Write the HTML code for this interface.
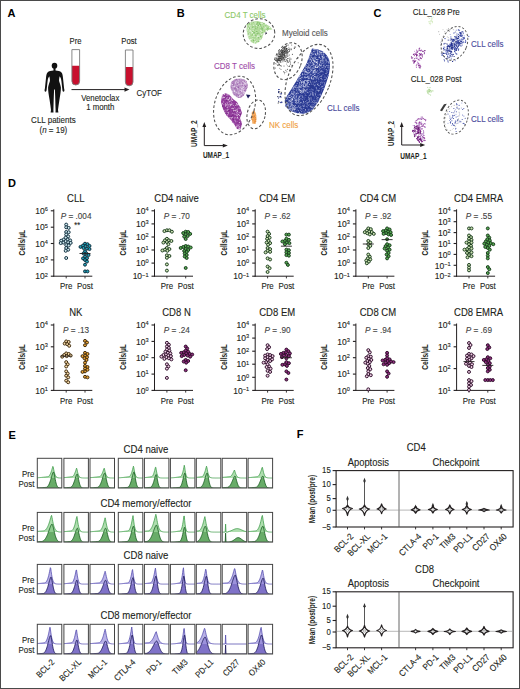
<!DOCTYPE html>
<html><head><meta charset="utf-8"><style>
html,body{margin:0;padding:0;background:#fff;}
svg{display:block;font-family:"Liberation Sans", sans-serif;}
</style></head><body>
<svg width="520" height="689" viewBox="0 0 520 689">
<rect x="0" y="0" width="520" height="689" fill="#fff"/>
<text x="7.40" y="16.80" font-size="11" font-weight="bold" fill="#000">A</text>
<text x="176.80" y="16.90" font-size="11" font-weight="bold" fill="#000">B</text>
<text x="373.50" y="17.00" font-size="11" font-weight="bold" fill="#000">C</text>
<text x="8.00" y="187.20" font-size="11" font-weight="bold" fill="#000">D</text>
<text x="8.50" y="438.80" font-size="11" font-weight="bold" fill="#000">E</text>
<text x="296.70" y="438.30" font-size="11" font-weight="bold" fill="#000">F</text>
<text x="75.60" y="43.80" font-size="8.62" text-anchor="middle" fill="#231f20" stroke="#231f20" stroke-width="0.12" transform="translate(75.60 43.80) scale(0.8929 1) translate(-75.60 -43.80)">Pre</text>
<text x="129.00" y="43.80" font-size="8.62" text-anchor="middle" fill="#231f20" stroke="#231f20" stroke-width="0.12" transform="translate(129.00 43.80) scale(0.8929 1) translate(-129.00 -43.80)">Post</text>
<path d="M71.9 65.7 L71.9 81.15 A3.8499999999999943 3.8499999999999943 0 0 0 79.6 81.15 L79.6 65.7 Z" fill="#c8102e"/>
<path d="M71.9 49.6 L71.9 81.15 A3.8499999999999943 3.8499999999999943 0 0 0 79.6 81.15 L79.6 49.6 Z" fill="none" stroke="#7a7a7a" stroke-width="0.9"/>
<path d="M125.4 66.9 L125.4 82.0 A3.799999999999997 3.799999999999997 0 0 0 133.0 82.0 L133.0 66.9 Z" fill="#c8102e"/>
<path d="M125.4 50.0 L125.4 82.0 A3.799999999999997 3.799999999999997 0 0 0 133.0 82.0 L133.0 50.0 Z" fill="none" stroke="#7a7a7a" stroke-width="0.9"/>
<line x1="71.50" y1="89.60" x2="126.00" y2="89.60" stroke="#231f20" stroke-width="1"/>
<path d="M129.5 89.6 L124.5 87.4 L124.5 91.8 Z" fill="#231f20"/>
<text x="100.30" y="100.90" font-size="8.74" text-anchor="middle" fill="#231f20" stroke="#231f20" stroke-width="0.12" transform="translate(100.30 100.90) scale(0.8929 1) translate(-100.30 -100.90)">Venetoclax</text>
<text x="100.30" y="110.00" font-size="8.74" text-anchor="middle" fill="#231f20" stroke="#231f20" stroke-width="0.12" transform="translate(100.30 110.00) scale(0.8929 1) translate(-100.30 -110.00)">1 month</text>
<text x="136.60" y="95.80" font-size="8.85" fill="#231f20" stroke="#231f20" stroke-width="0.12" transform="translate(136.60 95.80) scale(0.8929 1) translate(-136.60 -95.80)">CyTOF</text>
<text x="53.40" y="123.30" font-size="8.96" text-anchor="middle" fill="#231f20" stroke="#231f20" stroke-width="0.12" transform="translate(53.40 123.30) scale(0.8929 1) translate(-53.40 -123.30)">CLL patients</text>
<text x="53.40" y="133.00" font-size="8.96" text-anchor="middle" fill="#231f20" stroke="#231f20" stroke-width="0.12" transform="translate(53.40 133.00) scale(0.8929 1) translate(-53.40 -133.00)">(<tspan font-style="italic">n</tspan> = 19)</text>
<path d="M53.4 70.6 C51.5 71 48.5 71.2 47.6 72.4 C47.0 73.2 47.3 75.2 49.4 76.5 C49.9 78.5 50.0 80 49.9 81 C49.4 83 48.3 85.5 48.1 87.5 C48.0 91 48.8 95 49.6 100 C50.2 104 50.8 108 51.0 110 L50.6 112.6 L53.5 112.6 L53.4 110 C53.6 104 53.7 98 54.1 89.5 L54.9 89.5 C55.3 98 55.4 104 55.6 110 L55.5 112.6 L58.4 112.6 L58.0 110 C58.2 108 58.8 104 59.4 100 C60.2 95 61 91 60.9 87.5 C60.7 85.5 59.6 83 59.1 81 C59.0 80 59.1 78.5 59.6 76.5 C61.7 75.2 62.0 73.2 61.4 72.4 C60.5 71.2 57.5 71 55.6 70.6 Z" fill="#111"/>
<path d="M47.6 72.4 C46.6 73.2 46.3 75 46.0 78 L44.9 88.5 C44.5 90 44.3 91.5 45.3 91.8 C46.3 92 46.6 90.5 46.7 89 L47.6 81 C47.9 79 48.3 77 49.4 76.5 Z" fill="#111"/>
<path d="M 61.40 72.40 C 62.40 73.20 62.70 75.00 63.00 78.00 L 64.10 88.50 C 64.50 90.00 64.70 91.50 63.70 91.80 C 62.70 92.00 62.40 90.50 62.30 89.00 L 61.40 81.00 C 61.10 79.00 60.70 77.00 59.60 76.50 Z" fill="#111"/>
<ellipse cx="54.5" cy="65.8" rx="2.8" ry="2.95" fill="#111"/>
<rect x="53.5" y="67.5" width="2" height="3.6" fill="#111"/>
<path d="M312.0 48.5 L318.0 49.5 L323.0 51.5 L326.5 55.0 L329.0 59.0 L330.0 64.4 L329.5 70.0 L328.8 74.9 L326.5 82.0 L324.2 88.8 L321.5 95.0 L318.4 101.6 L312.6 109.8 L308.0 112.5 L303.3 113.8 L297.0 113.0 L290.5 111.0 L285.2 106.3 L284.7 100.5 L287.5 95.0 L291.6 88.8 L298.6 77.2 L306.7 63.3 L310.2 54.0 Z" fill="#283891" opacity="1"/>
<g opacity="0.85"><circle cx="314.2" cy="53.2" r="0.45" fill="#b8c0e8"/><circle cx="309.0" cy="72.4" r="0.45" fill="#3a4aa8"/><circle cx="303.9" cy="102.5" r="0.45" fill="#dde2f6"/><circle cx="310.8" cy="74.4" r="0.45" fill="#dde2f6"/><circle cx="323.6" cy="67.4" r="0.45" fill="#8a94d0"/><circle cx="298.7" cy="101.8" r="0.45" fill="#dde2f6"/><circle cx="313.6" cy="72.8" r="0.45" fill="#ffffff"/><circle cx="315.5" cy="76.4" r="0.45" fill="#dde2f6"/><circle cx="298.9" cy="86.7" r="0.45" fill="#3a4aa8"/><circle cx="305.2" cy="68.1" r="0.45" fill="#dde2f6"/><circle cx="320.7" cy="94.1" r="0.45" fill="#b8c0e8"/><circle cx="295.8" cy="86.0" r="0.45" fill="#5a68b8"/><circle cx="308.5" cy="105.6" r="0.45" fill="#ffffff"/><circle cx="317.7" cy="67.3" r="0.45" fill="#3a4aa8"/><circle cx="303.6" cy="97.9" r="0.45" fill="#8a94d0"/><circle cx="319.3" cy="85.9" r="0.45" fill="#ffffff"/><circle cx="324.4" cy="69.0" r="0.45" fill="#8a94d0"/><circle cx="316.2" cy="87.3" r="0.45" fill="#ffffff"/><circle cx="311.0" cy="78.3" r="0.45" fill="#8a94d0"/><circle cx="306.2" cy="91.9" r="0.45" fill="#8a94d0"/><circle cx="321.9" cy="67.1" r="0.45" fill="#3a4aa8"/><circle cx="302.2" cy="92.2" r="0.45" fill="#dde2f6"/><circle cx="287.4" cy="98.7" r="0.45" fill="#ffffff"/><circle cx="302.4" cy="105.4" r="0.45" fill="#b8c0e8"/><circle cx="309.6" cy="106.2" r="0.45" fill="#5a68b8"/><circle cx="301.0" cy="106.2" r="0.45" fill="#ffffff"/><circle cx="328.1" cy="58.4" r="0.45" fill="#b8c0e8"/><circle cx="311.4" cy="65.7" r="0.45" fill="#dde2f6"/><circle cx="301.4" cy="85.5" r="0.45" fill="#b8c0e8"/><circle cx="308.1" cy="88.8" r="0.45" fill="#3a4aa8"/><circle cx="315.3" cy="52.0" r="0.45" fill="#5a68b8"/><circle cx="302.5" cy="74.6" r="0.45" fill="#ffffff"/><circle cx="285.9" cy="105.6" r="0.45" fill="#dde2f6"/><circle cx="312.5" cy="58.2" r="0.45" fill="#b8c0e8"/><circle cx="305.8" cy="80.1" r="0.45" fill="#b8c0e8"/><circle cx="322.2" cy="59.0" r="0.45" fill="#b8c0e8"/><circle cx="292.3" cy="98.9" r="0.45" fill="#b8c0e8"/><circle cx="308.8" cy="99.4" r="0.45" fill="#ffffff"/><circle cx="296.4" cy="93.7" r="0.45" fill="#5a68b8"/><circle cx="328.0" cy="72.3" r="0.45" fill="#3a4aa8"/><circle cx="313.0" cy="107.3" r="0.45" fill="#ffffff"/><circle cx="322.8" cy="79.8" r="0.45" fill="#5a68b8"/><circle cx="314.3" cy="100.7" r="0.45" fill="#5a68b8"/><circle cx="318.7" cy="79.7" r="0.45" fill="#b8c0e8"/><circle cx="292.8" cy="100.0" r="0.45" fill="#dde2f6"/><circle cx="299.8" cy="100.8" r="0.45" fill="#b8c0e8"/><circle cx="328.7" cy="74.3" r="0.45" fill="#ffffff"/><circle cx="302.9" cy="110.3" r="0.45" fill="#8a94d0"/><circle cx="317.5" cy="59.6" r="0.45" fill="#b8c0e8"/><circle cx="291.3" cy="102.5" r="0.45" fill="#b8c0e8"/><circle cx="300.6" cy="84.3" r="0.45" fill="#3a4aa8"/><circle cx="308.6" cy="109.5" r="0.45" fill="#5a68b8"/><circle cx="304.4" cy="105.4" r="0.45" fill="#8a94d0"/><circle cx="322.1" cy="62.3" r="0.45" fill="#3a4aa8"/><circle cx="295.6" cy="86.8" r="0.45" fill="#5a68b8"/><circle cx="290.6" cy="107.9" r="0.45" fill="#b8c0e8"/><circle cx="300.7" cy="78.4" r="0.45" fill="#ffffff"/><circle cx="311.1" cy="107.6" r="0.45" fill="#ffffff"/><circle cx="303.8" cy="108.4" r="0.45" fill="#ffffff"/><circle cx="307.4" cy="83.2" r="0.45" fill="#3a4aa8"/><circle cx="284.9" cy="100.7" r="0.45" fill="#ffffff"/><circle cx="317.6" cy="84.8" r="0.45" fill="#ffffff"/><circle cx="299.5" cy="82.3" r="0.45" fill="#5a68b8"/><circle cx="309.9" cy="99.7" r="0.45" fill="#ffffff"/><circle cx="319.7" cy="81.7" r="0.45" fill="#3a4aa8"/><circle cx="310.1" cy="98.1" r="0.45" fill="#b8c0e8"/><circle cx="326.0" cy="77.4" r="0.45" fill="#ffffff"/><circle cx="312.4" cy="81.5" r="0.45" fill="#3a4aa8"/><circle cx="307.9" cy="93.7" r="0.45" fill="#3a4aa8"/><circle cx="305.2" cy="83.3" r="0.45" fill="#b8c0e8"/><circle cx="306.4" cy="110.0" r="0.45" fill="#3a4aa8"/><circle cx="327.4" cy="65.5" r="0.45" fill="#b8c0e8"/><circle cx="310.0" cy="110.1" r="0.45" fill="#b8c0e8"/><circle cx="322.8" cy="57.5" r="0.45" fill="#8a94d0"/><circle cx="291.7" cy="95.3" r="0.45" fill="#5a68b8"/><circle cx="314.6" cy="57.8" r="0.45" fill="#dde2f6"/><circle cx="294.6" cy="110.7" r="0.45" fill="#ffffff"/><circle cx="302.7" cy="80.3" r="0.45" fill="#8a94d0"/><circle cx="308.1" cy="70.6" r="0.45" fill="#ffffff"/><circle cx="317.4" cy="49.8" r="0.45" fill="#8a94d0"/><circle cx="309.8" cy="77.3" r="0.45" fill="#5a68b8"/><circle cx="313.0" cy="82.0" r="0.45" fill="#dde2f6"/><circle cx="286.5" cy="99.4" r="0.45" fill="#ffffff"/><circle cx="303.8" cy="108.0" r="0.45" fill="#5a68b8"/><circle cx="321.8" cy="65.4" r="0.45" fill="#5a68b8"/><circle cx="291.5" cy="108.5" r="0.45" fill="#dde2f6"/><circle cx="310.5" cy="94.2" r="0.45" fill="#dde2f6"/><circle cx="315.9" cy="76.3" r="0.45" fill="#ffffff"/><circle cx="313.4" cy="100.8" r="0.45" fill="#dde2f6"/><circle cx="288.5" cy="104.4" r="0.45" fill="#b8c0e8"/><circle cx="287.7" cy="104.8" r="0.45" fill="#ffffff"/><circle cx="305.3" cy="70.6" r="0.45" fill="#3a4aa8"/><circle cx="309.8" cy="109.0" r="0.45" fill="#3a4aa8"/><circle cx="308.6" cy="64.1" r="0.45" fill="#8a94d0"/><circle cx="319.1" cy="67.4" r="0.45" fill="#8a94d0"/><circle cx="317.9" cy="84.5" r="0.45" fill="#dde2f6"/><circle cx="321.8" cy="76.7" r="0.45" fill="#ffffff"/><circle cx="307.1" cy="103.0" r="0.45" fill="#5a68b8"/><circle cx="302.5" cy="81.6" r="0.45" fill="#3a4aa8"/><circle cx="300.2" cy="102.8" r="0.45" fill="#dde2f6"/><circle cx="316.7" cy="90.0" r="0.45" fill="#dde2f6"/><circle cx="303.0" cy="71.2" r="0.45" fill="#dde2f6"/><circle cx="287.9" cy="96.9" r="0.45" fill="#ffffff"/><circle cx="288.5" cy="103.4" r="0.45" fill="#ffffff"/><circle cx="298.0" cy="78.5" r="0.45" fill="#3a4aa8"/><circle cx="296.6" cy="111.3" r="0.45" fill="#5a68b8"/><circle cx="295.8" cy="111.6" r="0.45" fill="#b8c0e8"/><circle cx="306.2" cy="81.3" r="0.45" fill="#3a4aa8"/><circle cx="311.2" cy="83.1" r="0.45" fill="#dde2f6"/><circle cx="318.7" cy="91.4" r="0.45" fill="#dde2f6"/><circle cx="317.5" cy="90.5" r="0.45" fill="#dde2f6"/><circle cx="286.7" cy="103.0" r="0.45" fill="#dde2f6"/><circle cx="317.9" cy="101.5" r="0.45" fill="#8a94d0"/><circle cx="307.5" cy="103.0" r="0.45" fill="#dde2f6"/><circle cx="311.2" cy="106.8" r="0.45" fill="#b8c0e8"/><circle cx="315.6" cy="93.8" r="0.45" fill="#dde2f6"/><circle cx="289.5" cy="103.1" r="0.45" fill="#5a68b8"/><circle cx="310.0" cy="89.5" r="0.45" fill="#dde2f6"/><circle cx="313.1" cy="92.9" r="0.45" fill="#ffffff"/><circle cx="307.5" cy="83.4" r="0.45" fill="#5a68b8"/><circle cx="314.6" cy="52.8" r="0.45" fill="#3a4aa8"/><circle cx="318.1" cy="65.0" r="0.45" fill="#3a4aa8"/><circle cx="317.7" cy="61.9" r="0.45" fill="#dde2f6"/><circle cx="307.1" cy="73.5" r="0.45" fill="#b8c0e8"/><circle cx="306.4" cy="93.1" r="0.45" fill="#5a68b8"/><circle cx="319.4" cy="88.8" r="0.45" fill="#b8c0e8"/><circle cx="313.8" cy="53.6" r="0.45" fill="#3a4aa8"/><circle cx="318.4" cy="68.4" r="0.45" fill="#3a4aa8"/><circle cx="315.1" cy="93.7" r="0.45" fill="#ffffff"/><circle cx="315.3" cy="67.5" r="0.45" fill="#dde2f6"/><circle cx="308.1" cy="78.8" r="0.45" fill="#b8c0e8"/><circle cx="325.2" cy="61.5" r="0.45" fill="#5a68b8"/><circle cx="294.2" cy="110.2" r="0.45" fill="#8a94d0"/><circle cx="294.2" cy="86.5" r="0.45" fill="#b8c0e8"/><circle cx="321.9" cy="81.7" r="0.45" fill="#8a94d0"/><circle cx="295.2" cy="107.1" r="0.45" fill="#3a4aa8"/><circle cx="305.1" cy="68.2" r="0.45" fill="#5a68b8"/><circle cx="299.0" cy="103.4" r="0.45" fill="#ffffff"/><circle cx="322.7" cy="56.3" r="0.45" fill="#ffffff"/><circle cx="325.5" cy="67.4" r="0.45" fill="#ffffff"/><circle cx="301.6" cy="74.2" r="0.45" fill="#5a68b8"/><circle cx="301.0" cy="76.5" r="0.45" fill="#5a68b8"/><circle cx="289.3" cy="103.0" r="0.45" fill="#3a4aa8"/><circle cx="297.6" cy="109.6" r="0.45" fill="#8a94d0"/><circle cx="307.8" cy="60.9" r="0.45" fill="#5a68b8"/><circle cx="301.6" cy="110.9" r="0.45" fill="#3a4aa8"/><circle cx="313.3" cy="108.1" r="0.45" fill="#3a4aa8"/><circle cx="317.3" cy="51.7" r="0.45" fill="#5a68b8"/><circle cx="317.9" cy="77.9" r="0.45" fill="#dde2f6"/><circle cx="318.8" cy="90.6" r="0.45" fill="#ffffff"/><circle cx="326.7" cy="56.8" r="0.45" fill="#8a94d0"/><circle cx="306.1" cy="70.9" r="0.45" fill="#5a68b8"/><circle cx="298.2" cy="96.8" r="0.45" fill="#5a68b8"/><circle cx="328.9" cy="65.5" r="0.45" fill="#ffffff"/><circle cx="314.4" cy="68.1" r="0.45" fill="#3a4aa8"/><circle cx="309.9" cy="74.3" r="0.45" fill="#3a4aa8"/><circle cx="294.1" cy="107.7" r="0.45" fill="#3a4aa8"/><circle cx="307.2" cy="62.9" r="0.45" fill="#5a68b8"/><circle cx="310.5" cy="106.4" r="0.45" fill="#8a94d0"/><circle cx="318.7" cy="75.5" r="0.45" fill="#5a68b8"/><circle cx="303.4" cy="82.7" r="0.45" fill="#ffffff"/><circle cx="307.5" cy="89.6" r="0.45" fill="#8a94d0"/><circle cx="323.8" cy="62.6" r="0.45" fill="#5a68b8"/><circle cx="302.8" cy="77.6" r="0.45" fill="#dde2f6"/><circle cx="325.3" cy="79.4" r="0.45" fill="#3a4aa8"/><circle cx="302.4" cy="109.0" r="0.45" fill="#8a94d0"/><circle cx="328.7" cy="64.7" r="0.45" fill="#5a68b8"/><circle cx="308.4" cy="93.0" r="0.45" fill="#5a68b8"/><circle cx="314.0" cy="98.4" r="0.45" fill="#5a68b8"/><circle cx="305.4" cy="84.5" r="0.45" fill="#ffffff"/><circle cx="286.5" cy="99.6" r="0.45" fill="#b8c0e8"/><circle cx="295.2" cy="108.6" r="0.45" fill="#dde2f6"/><circle cx="313.9" cy="68.3" r="0.45" fill="#ffffff"/><circle cx="313.5" cy="94.1" r="0.45" fill="#8a94d0"/><circle cx="308.5" cy="86.6" r="0.45" fill="#8a94d0"/><circle cx="311.9" cy="49.2" r="0.45" fill="#b8c0e8"/><circle cx="298.4" cy="78.6" r="0.45" fill="#b8c0e8"/><circle cx="324.7" cy="79.5" r="0.45" fill="#8a94d0"/><circle cx="307.3" cy="92.5" r="0.45" fill="#dde2f6"/><circle cx="300.0" cy="76.0" r="0.45" fill="#b8c0e8"/><circle cx="315.6" cy="61.4" r="0.45" fill="#b8c0e8"/><circle cx="307.6" cy="61.9" r="0.45" fill="#5a68b8"/><circle cx="328.6" cy="68.9" r="0.45" fill="#b8c0e8"/><circle cx="321.8" cy="63.6" r="0.45" fill="#b8c0e8"/><circle cx="294.7" cy="98.2" r="0.45" fill="#8a94d0"/><circle cx="298.1" cy="110.7" r="0.45" fill="#ffffff"/><circle cx="294.3" cy="112.1" r="0.45" fill="#5a68b8"/><circle cx="326.9" cy="70.0" r="0.45" fill="#8a94d0"/><circle cx="293.1" cy="109.6" r="0.45" fill="#dde2f6"/><circle cx="318.5" cy="50.6" r="0.45" fill="#dde2f6"/><circle cx="314.8" cy="73.2" r="0.45" fill="#8a94d0"/><circle cx="328.4" cy="62.0" r="0.45" fill="#b8c0e8"/><circle cx="300.9" cy="102.1" r="0.45" fill="#3a4aa8"/><circle cx="321.9" cy="76.7" r="0.45" fill="#3a4aa8"/><circle cx="301.6" cy="108.5" r="0.45" fill="#8a94d0"/><circle cx="303.3" cy="101.5" r="0.45" fill="#b8c0e8"/><circle cx="319.4" cy="51.2" r="0.45" fill="#ffffff"/><circle cx="326.4" cy="65.3" r="0.45" fill="#b8c0e8"/><circle cx="296.6" cy="95.3" r="0.45" fill="#8a94d0"/><circle cx="304.2" cy="80.7" r="0.45" fill="#dde2f6"/><circle cx="326.7" cy="60.4" r="0.45" fill="#ffffff"/><circle cx="312.2" cy="69.9" r="0.45" fill="#dde2f6"/><circle cx="320.1" cy="53.7" r="0.45" fill="#ffffff"/><circle cx="293.6" cy="97.7" r="0.45" fill="#ffffff"/><circle cx="299.5" cy="112.5" r="0.45" fill="#8a94d0"/><circle cx="316.9" cy="77.7" r="0.45" fill="#dde2f6"/><circle cx="312.8" cy="92.5" r="0.45" fill="#dde2f6"/><circle cx="314.8" cy="56.4" r="0.45" fill="#b8c0e8"/><circle cx="322.8" cy="67.7" r="0.45" fill="#3a4aa8"/><circle cx="310.4" cy="72.9" r="0.45" fill="#b8c0e8"/><circle cx="318.1" cy="61.5" r="0.45" fill="#5a68b8"/><circle cx="291.6" cy="106.2" r="0.45" fill="#8a94d0"/><circle cx="310.9" cy="69.8" r="0.45" fill="#8a94d0"/><circle cx="302.6" cy="113.3" r="0.45" fill="#8a94d0"/><circle cx="307.7" cy="63.6" r="0.45" fill="#b8c0e8"/><circle cx="321.3" cy="91.2" r="0.45" fill="#8a94d0"/><circle cx="306.2" cy="102.0" r="0.45" fill="#8a94d0"/><circle cx="326.8" cy="72.8" r="0.45" fill="#8a94d0"/><circle cx="323.9" cy="77.8" r="0.45" fill="#5a68b8"/><circle cx="296.5" cy="99.3" r="0.45" fill="#dde2f6"/><circle cx="311.7" cy="89.0" r="0.45" fill="#dde2f6"/><circle cx="296.2" cy="87.6" r="0.45" fill="#dde2f6"/><circle cx="314.2" cy="61.8" r="0.45" fill="#b8c0e8"/><circle cx="315.4" cy="60.6" r="0.45" fill="#8a94d0"/><circle cx="320.7" cy="84.3" r="0.45" fill="#ffffff"/><circle cx="302.6" cy="84.4" r="0.45" fill="#b8c0e8"/><circle cx="313.7" cy="54.5" r="0.45" fill="#8a94d0"/><circle cx="292.1" cy="93.9" r="0.45" fill="#b8c0e8"/><circle cx="298.6" cy="110.7" r="0.45" fill="#b8c0e8"/><circle cx="298.8" cy="85.5" r="0.45" fill="#3a4aa8"/><circle cx="300.9" cy="75.7" r="0.45" fill="#5a68b8"/><circle cx="317.7" cy="61.8" r="0.45" fill="#dde2f6"/><circle cx="303.9" cy="102.1" r="0.45" fill="#b8c0e8"/><circle cx="303.1" cy="106.1" r="0.45" fill="#5a68b8"/><circle cx="313.7" cy="107.9" r="0.45" fill="#8a94d0"/><circle cx="301.5" cy="81.4" r="0.45" fill="#ffffff"/><circle cx="308.3" cy="108.9" r="0.45" fill="#5a68b8"/><circle cx="326.7" cy="73.8" r="0.45" fill="#ffffff"/><circle cx="322.1" cy="59.0" r="0.45" fill="#ffffff"/><circle cx="320.3" cy="63.0" r="0.45" fill="#5a68b8"/><circle cx="303.0" cy="103.8" r="0.45" fill="#ffffff"/><circle cx="322.3" cy="60.4" r="0.45" fill="#b8c0e8"/><circle cx="308.2" cy="73.5" r="0.45" fill="#ffffff"/><circle cx="319.0" cy="51.0" r="0.45" fill="#8a94d0"/><circle cx="322.7" cy="56.2" r="0.45" fill="#dde2f6"/><circle cx="311.9" cy="84.4" r="0.45" fill="#dde2f6"/><circle cx="313.1" cy="68.5" r="0.45" fill="#b8c0e8"/><circle cx="303.7" cy="86.5" r="0.45" fill="#b8c0e8"/><circle cx="304.0" cy="91.5" r="0.45" fill="#b8c0e8"/><circle cx="304.9" cy="77.1" r="0.45" fill="#b8c0e8"/><circle cx="306.9" cy="63.9" r="0.45" fill="#5a68b8"/><circle cx="319.3" cy="99.4" r="0.45" fill="#dde2f6"/><circle cx="313.5" cy="53.9" r="0.45" fill="#dde2f6"/><circle cx="317.9" cy="99.3" r="0.45" fill="#dde2f6"/><circle cx="307.5" cy="73.2" r="0.45" fill="#8a94d0"/><circle cx="327.8" cy="57.4" r="0.45" fill="#ffffff"/><circle cx="317.9" cy="101.7" r="0.45" fill="#3a4aa8"/><circle cx="307.0" cy="111.0" r="0.45" fill="#3a4aa8"/><circle cx="326.2" cy="59.3" r="0.45" fill="#dde2f6"/><circle cx="319.0" cy="58.9" r="0.45" fill="#8a94d0"/><circle cx="325.3" cy="66.5" r="0.45" fill="#ffffff"/><circle cx="321.6" cy="57.9" r="0.45" fill="#3a4aa8"/><circle cx="307.5" cy="108.6" r="0.45" fill="#3a4aa8"/><circle cx="307.6" cy="69.3" r="0.45" fill="#8a94d0"/><circle cx="292.0" cy="109.6" r="0.45" fill="#ffffff"/><circle cx="292.3" cy="99.8" r="0.45" fill="#ffffff"/><circle cx="313.5" cy="72.0" r="0.45" fill="#8a94d0"/><circle cx="324.2" cy="84.8" r="0.45" fill="#3a4aa8"/><circle cx="311.0" cy="106.1" r="0.45" fill="#dde2f6"/><circle cx="313.2" cy="74.2" r="0.45" fill="#5a68b8"/><circle cx="320.8" cy="65.8" r="0.45" fill="#dde2f6"/><circle cx="301.0" cy="98.4" r="0.45" fill="#ffffff"/><circle cx="318.4" cy="51.7" r="0.45" fill="#3a4aa8"/><circle cx="321.8" cy="65.1" r="0.45" fill="#b8c0e8"/><circle cx="311.2" cy="91.8" r="0.45" fill="#8a94d0"/><circle cx="312.6" cy="76.7" r="0.45" fill="#3a4aa8"/><circle cx="307.9" cy="107.0" r="0.45" fill="#3a4aa8"/><circle cx="314.3" cy="50.0" r="0.45" fill="#b8c0e8"/><circle cx="294.9" cy="86.6" r="0.45" fill="#ffffff"/><circle cx="311.4" cy="61.8" r="0.45" fill="#b8c0e8"/><circle cx="313.0" cy="79.5" r="0.45" fill="#dde2f6"/><circle cx="290.8" cy="109.7" r="0.45" fill="#ffffff"/><circle cx="310.2" cy="71.4" r="0.45" fill="#b8c0e8"/><circle cx="313.9" cy="77.5" r="0.45" fill="#dde2f6"/><circle cx="296.0" cy="107.5" r="0.45" fill="#dde2f6"/><circle cx="287.3" cy="99.4" r="0.45" fill="#8a94d0"/><circle cx="327.3" cy="57.8" r="0.45" fill="#3a4aa8"/><circle cx="293.7" cy="88.2" r="0.45" fill="#dde2f6"/><circle cx="307.7" cy="90.4" r="0.45" fill="#3a4aa8"/><circle cx="321.5" cy="59.9" r="0.45" fill="#8a94d0"/><circle cx="286.9" cy="106.6" r="0.45" fill="#5a68b8"/><circle cx="320.2" cy="95.2" r="0.45" fill="#ffffff"/><circle cx="285.0" cy="103.6" r="0.45" fill="#dde2f6"/><circle cx="318.5" cy="78.9" r="0.45" fill="#dde2f6"/><circle cx="318.3" cy="78.0" r="0.45" fill="#b8c0e8"/><circle cx="299.9" cy="97.5" r="0.45" fill="#3a4aa8"/><circle cx="316.2" cy="103.7" r="0.45" fill="#ffffff"/><circle cx="316.9" cy="65.9" r="0.45" fill="#dde2f6"/><circle cx="309.8" cy="77.0" r="0.45" fill="#dde2f6"/><circle cx="320.4" cy="82.7" r="0.45" fill="#ffffff"/><circle cx="296.7" cy="90.4" r="0.45" fill="#5a68b8"/><circle cx="328.4" cy="62.7" r="0.45" fill="#ffffff"/><circle cx="318.5" cy="69.8" r="0.45" fill="#3a4aa8"/><circle cx="324.6" cy="70.0" r="0.45" fill="#3a4aa8"/><circle cx="295.5" cy="107.8" r="0.45" fill="#b8c0e8"/><circle cx="313.3" cy="93.7" r="0.45" fill="#5a68b8"/><circle cx="306.0" cy="103.3" r="0.45" fill="#ffffff"/><circle cx="316.3" cy="104.5" r="0.45" fill="#b8c0e8"/><circle cx="304.5" cy="95.8" r="0.45" fill="#5a68b8"/><circle cx="310.5" cy="68.6" r="0.45" fill="#b8c0e8"/><circle cx="294.3" cy="89.2" r="0.45" fill="#dde2f6"/><circle cx="288.2" cy="108.0" r="0.45" fill="#3a4aa8"/><circle cx="289.5" cy="109.2" r="0.45" fill="#8a94d0"/><circle cx="316.1" cy="89.9" r="0.45" fill="#3a4aa8"/><circle cx="316.3" cy="96.6" r="0.45" fill="#dde2f6"/><circle cx="301.2" cy="101.9" r="0.45" fill="#5a68b8"/><circle cx="287.7" cy="105.2" r="0.45" fill="#5a68b8"/><circle cx="313.4" cy="102.4" r="0.45" fill="#dde2f6"/><circle cx="313.3" cy="67.3" r="0.45" fill="#3a4aa8"/><circle cx="319.0" cy="61.9" r="0.45" fill="#5a68b8"/><circle cx="297.5" cy="95.2" r="0.45" fill="#3a4aa8"/><circle cx="323.3" cy="88.9" r="0.45" fill="#5a68b8"/><circle cx="304.5" cy="99.0" r="0.45" fill="#b8c0e8"/><circle cx="300.4" cy="94.5" r="0.45" fill="#3a4aa8"/><circle cx="309.1" cy="62.6" r="0.45" fill="#3a4aa8"/><circle cx="323.8" cy="54.4" r="0.45" fill="#ffffff"/><circle cx="321.8" cy="59.6" r="0.45" fill="#5a68b8"/><circle cx="307.0" cy="100.5" r="0.45" fill="#8a94d0"/><circle cx="300.4" cy="102.8" r="0.45" fill="#ffffff"/><circle cx="296.5" cy="110.1" r="0.45" fill="#8a94d0"/><circle cx="316.4" cy="81.0" r="0.45" fill="#b8c0e8"/><circle cx="288.4" cy="100.0" r="0.45" fill="#ffffff"/><circle cx="316.3" cy="99.9" r="0.45" fill="#8a94d0"/><circle cx="313.1" cy="71.7" r="0.45" fill="#3a4aa8"/><circle cx="302.9" cy="74.3" r="0.45" fill="#ffffff"/><circle cx="325.0" cy="54.1" r="0.45" fill="#5a68b8"/><circle cx="325.5" cy="81.2" r="0.45" fill="#3a4aa8"/><circle cx="301.9" cy="106.2" r="0.45" fill="#3a4aa8"/><circle cx="308.8" cy="97.8" r="0.45" fill="#ffffff"/><circle cx="318.8" cy="90.7" r="0.45" fill="#dde2f6"/><circle cx="291.7" cy="103.6" r="0.45" fill="#8a94d0"/><circle cx="314.7" cy="97.0" r="0.45" fill="#8a94d0"/><circle cx="319.7" cy="86.3" r="0.45" fill="#3a4aa8"/><circle cx="324.8" cy="64.0" r="0.45" fill="#b8c0e8"/><circle cx="316.6" cy="103.6" r="0.45" fill="#8a94d0"/><circle cx="308.4" cy="59.0" r="0.45" fill="#ffffff"/><circle cx="317.9" cy="76.9" r="0.45" fill="#5a68b8"/><circle cx="293.6" cy="90.2" r="0.45" fill="#8a94d0"/><circle cx="302.8" cy="100.2" r="0.45" fill="#3a4aa8"/><circle cx="316.1" cy="81.2" r="0.45" fill="#ffffff"/><circle cx="313.3" cy="78.8" r="0.45" fill="#ffffff"/><circle cx="303.0" cy="96.9" r="0.45" fill="#dde2f6"/><circle cx="325.8" cy="76.6" r="0.45" fill="#5a68b8"/><circle cx="310.7" cy="97.4" r="0.45" fill="#8a94d0"/><circle cx="319.8" cy="94.2" r="0.45" fill="#dde2f6"/><circle cx="313.8" cy="78.1" r="0.45" fill="#ffffff"/><circle cx="298.9" cy="89.5" r="0.45" fill="#dde2f6"/><circle cx="320.1" cy="95.1" r="0.45" fill="#5a68b8"/><circle cx="313.2" cy="64.8" r="0.45" fill="#8a94d0"/><circle cx="303.9" cy="78.2" r="0.45" fill="#8a94d0"/><circle cx="312.9" cy="75.2" r="0.45" fill="#ffffff"/><circle cx="293.0" cy="91.2" r="0.45" fill="#dde2f6"/><circle cx="320.0" cy="73.9" r="0.45" fill="#5a68b8"/><circle cx="306.9" cy="112.1" r="0.45" fill="#b8c0e8"/><circle cx="292.0" cy="99.6" r="0.45" fill="#8a94d0"/><circle cx="309.2" cy="95.3" r="0.45" fill="#dde2f6"/><circle cx="307.9" cy="90.2" r="0.45" fill="#5a68b8"/><circle cx="322.3" cy="82.6" r="0.45" fill="#5a68b8"/><circle cx="303.3" cy="110.4" r="0.45" fill="#5a68b8"/><circle cx="294.2" cy="93.2" r="0.45" fill="#b8c0e8"/><circle cx="302.5" cy="98.3" r="0.45" fill="#3a4aa8"/><circle cx="303.8" cy="94.1" r="0.45" fill="#3a4aa8"/><circle cx="294.9" cy="96.9" r="0.45" fill="#3a4aa8"/><circle cx="294.6" cy="100.8" r="0.45" fill="#ffffff"/><circle cx="290.6" cy="99.2" r="0.45" fill="#3a4aa8"/><circle cx="321.4" cy="89.9" r="0.45" fill="#dde2f6"/><circle cx="306.0" cy="85.2" r="0.45" fill="#dde2f6"/><circle cx="294.9" cy="111.4" r="0.45" fill="#5a68b8"/><circle cx="300.7" cy="90.2" r="0.45" fill="#ffffff"/><circle cx="305.9" cy="67.7" r="0.45" fill="#dde2f6"/><circle cx="309.5" cy="56.7" r="0.45" fill="#5a68b8"/><circle cx="322.5" cy="71.7" r="0.45" fill="#ffffff"/><circle cx="323.2" cy="66.0" r="0.45" fill="#dde2f6"/><circle cx="298.4" cy="79.8" r="0.45" fill="#dde2f6"/><circle cx="304.1" cy="90.1" r="0.45" fill="#ffffff"/><circle cx="314.6" cy="72.2" r="0.45" fill="#8a94d0"/><circle cx="287.3" cy="102.6" r="0.45" fill="#8a94d0"/><circle cx="291.1" cy="102.8" r="0.45" fill="#dde2f6"/><circle cx="313.4" cy="49.5" r="0.45" fill="#b8c0e8"/><circle cx="314.4" cy="64.8" r="0.45" fill="#dde2f6"/><circle cx="295.3" cy="99.2" r="0.45" fill="#5a68b8"/><circle cx="292.3" cy="106.7" r="0.45" fill="#8a94d0"/><circle cx="312.3" cy="99.5" r="0.45" fill="#3a4aa8"/><circle cx="293.6" cy="93.7" r="0.45" fill="#3a4aa8"/><circle cx="308.7" cy="96.9" r="0.45" fill="#dde2f6"/><circle cx="304.6" cy="106.1" r="0.45" fill="#dde2f6"/><circle cx="309.8" cy="65.8" r="0.45" fill="#b8c0e8"/><circle cx="307.0" cy="81.0" r="0.45" fill="#5a68b8"/><circle cx="309.1" cy="104.8" r="0.45" fill="#dde2f6"/><circle cx="285.0" cy="103.4" r="0.45" fill="#ffffff"/><circle cx="305.9" cy="85.2" r="0.45" fill="#b8c0e8"/><circle cx="314.8" cy="103.4" r="0.45" fill="#5a68b8"/><circle cx="301.7" cy="75.8" r="0.45" fill="#3a4aa8"/><circle cx="313.6" cy="90.0" r="0.45" fill="#8a94d0"/><circle cx="299.7" cy="112.6" r="0.45" fill="#ffffff"/><circle cx="307.8" cy="80.1" r="0.45" fill="#ffffff"/><circle cx="317.2" cy="89.3" r="0.45" fill="#8a94d0"/><circle cx="300.0" cy="104.8" r="0.45" fill="#8a94d0"/><circle cx="301.3" cy="79.5" r="0.45" fill="#8a94d0"/><circle cx="308.5" cy="98.8" r="0.45" fill="#8a94d0"/><circle cx="303.8" cy="84.7" r="0.45" fill="#b8c0e8"/><circle cx="322.2" cy="67.6" r="0.45" fill="#ffffff"/><circle cx="322.2" cy="74.9" r="0.45" fill="#3a4aa8"/><circle cx="307.5" cy="66.2" r="0.45" fill="#ffffff"/><circle cx="307.6" cy="112.2" r="0.45" fill="#dde2f6"/><circle cx="314.4" cy="100.2" r="0.45" fill="#8a94d0"/><circle cx="298.3" cy="86.8" r="0.45" fill="#dde2f6"/><circle cx="313.5" cy="99.7" r="0.45" fill="#5a68b8"/><circle cx="324.8" cy="84.1" r="0.45" fill="#5a68b8"/><circle cx="314.5" cy="100.0" r="0.45" fill="#3a4aa8"/><circle cx="312.6" cy="89.4" r="0.45" fill="#b8c0e8"/><circle cx="316.2" cy="87.4" r="0.45" fill="#b8c0e8"/><circle cx="315.5" cy="62.4" r="0.45" fill="#dde2f6"/><circle cx="314.9" cy="78.4" r="0.45" fill="#8a94d0"/><circle cx="319.2" cy="55.1" r="0.45" fill="#dde2f6"/><circle cx="314.4" cy="72.6" r="0.45" fill="#b8c0e8"/><circle cx="310.2" cy="65.3" r="0.45" fill="#3a4aa8"/><circle cx="299.1" cy="76.6" r="0.45" fill="#5a68b8"/><circle cx="321.4" cy="86.1" r="0.45" fill="#5a68b8"/><circle cx="326.3" cy="77.7" r="0.45" fill="#b8c0e8"/><circle cx="311.5" cy="109.7" r="0.45" fill="#b8c0e8"/><circle cx="313.9" cy="62.4" r="0.45" fill="#b8c0e8"/><circle cx="288.7" cy="105.3" r="0.45" fill="#ffffff"/><circle cx="317.3" cy="64.3" r="0.45" fill="#b8c0e8"/><circle cx="317.9" cy="60.7" r="0.45" fill="#5a68b8"/><circle cx="287.0" cy="99.0" r="0.45" fill="#5a68b8"/><circle cx="317.8" cy="54.0" r="0.45" fill="#8a94d0"/><circle cx="313.2" cy="94.8" r="0.45" fill="#b8c0e8"/><circle cx="305.6" cy="109.4" r="0.45" fill="#b8c0e8"/><circle cx="296.2" cy="111.5" r="0.45" fill="#3a4aa8"/><circle cx="321.7" cy="53.7" r="0.45" fill="#5a68b8"/><circle cx="298.8" cy="96.1" r="0.45" fill="#8a94d0"/><circle cx="292.2" cy="104.7" r="0.45" fill="#dde2f6"/><circle cx="301.4" cy="86.0" r="0.45" fill="#ffffff"/><circle cx="304.6" cy="92.7" r="0.45" fill="#3a4aa8"/><circle cx="291.3" cy="100.6" r="0.45" fill="#3a4aa8"/><circle cx="301.2" cy="90.6" r="0.45" fill="#ffffff"/><circle cx="313.2" cy="75.8" r="0.45" fill="#b8c0e8"/><circle cx="302.2" cy="99.8" r="0.45" fill="#8a94d0"/><circle cx="310.4" cy="67.6" r="0.45" fill="#ffffff"/><circle cx="316.6" cy="102.5" r="0.45" fill="#ffffff"/><circle cx="299.7" cy="88.1" r="0.45" fill="#5a68b8"/><circle cx="311.9" cy="68.7" r="0.45" fill="#dde2f6"/><circle cx="304.1" cy="106.5" r="0.45" fill="#8a94d0"/><circle cx="301.8" cy="93.2" r="0.45" fill="#dde2f6"/><circle cx="312.0" cy="107.0" r="0.45" fill="#ffffff"/><circle cx="321.3" cy="67.0" r="0.45" fill="#b8c0e8"/><circle cx="303.8" cy="86.8" r="0.45" fill="#dde2f6"/><circle cx="286.6" cy="102.9" r="0.45" fill="#ffffff"/><circle cx="310.6" cy="66.4" r="0.45" fill="#ffffff"/><circle cx="309.8" cy="100.6" r="0.45" fill="#3a4aa8"/><circle cx="293.8" cy="97.5" r="0.45" fill="#b8c0e8"/><circle cx="326.9" cy="63.8" r="0.45" fill="#5a68b8"/><circle cx="312.2" cy="92.8" r="0.45" fill="#b8c0e8"/><circle cx="296.2" cy="97.5" r="0.45" fill="#3a4aa8"/><circle cx="320.6" cy="78.5" r="0.45" fill="#dde2f6"/><circle cx="288.7" cy="101.2" r="0.45" fill="#8a94d0"/><circle cx="319.7" cy="63.7" r="0.45" fill="#3a4aa8"/><circle cx="311.0" cy="107.1" r="0.45" fill="#5a68b8"/><circle cx="324.8" cy="82.6" r="0.45" fill="#ffffff"/><circle cx="306.3" cy="87.0" r="0.45" fill="#b8c0e8"/><circle cx="292.9" cy="94.3" r="0.45" fill="#b8c0e8"/><circle cx="301.1" cy="85.4" r="0.45" fill="#ffffff"/><circle cx="302.9" cy="82.3" r="0.45" fill="#ffffff"/><circle cx="320.4" cy="58.7" r="0.45" fill="#ffffff"/><circle cx="311.8" cy="71.0" r="0.45" fill="#5a68b8"/><circle cx="323.9" cy="80.3" r="0.45" fill="#3a4aa8"/><circle cx="310.4" cy="65.6" r="0.45" fill="#5a68b8"/><circle cx="320.0" cy="76.3" r="0.45" fill="#8a94d0"/><circle cx="309.9" cy="105.4" r="0.45" fill="#3a4aa8"/><circle cx="305.5" cy="110.4" r="0.45" fill="#ffffff"/><circle cx="311.8" cy="74.5" r="0.45" fill="#3a4aa8"/><circle cx="296.4" cy="85.4" r="0.45" fill="#5a68b8"/><circle cx="315.0" cy="74.2" r="0.45" fill="#b8c0e8"/><circle cx="322.6" cy="51.6" r="0.45" fill="#5a68b8"/><circle cx="320.3" cy="94.8" r="0.45" fill="#8a94d0"/><circle cx="315.4" cy="68.0" r="0.45" fill="#5a68b8"/><circle cx="311.5" cy="98.0" r="0.45" fill="#ffffff"/><circle cx="315.4" cy="49.3" r="0.45" fill="#8a94d0"/><circle cx="317.2" cy="61.2" r="0.45" fill="#b8c0e8"/><circle cx="294.7" cy="109.5" r="0.45" fill="#ffffff"/><circle cx="289.1" cy="109.1" r="0.45" fill="#3a4aa8"/><circle cx="322.9" cy="89.5" r="0.45" fill="#5a68b8"/><circle cx="305.2" cy="70.7" r="0.45" fill="#5a68b8"/><circle cx="322.0" cy="79.7" r="0.45" fill="#ffffff"/><circle cx="313.2" cy="57.8" r="0.45" fill="#3a4aa8"/><circle cx="317.0" cy="84.6" r="0.45" fill="#3a4aa8"/><circle cx="291.3" cy="105.4" r="0.45" fill="#b8c0e8"/><circle cx="322.7" cy="70.3" r="0.45" fill="#5a68b8"/><circle cx="299.1" cy="107.5" r="0.45" fill="#8a94d0"/><circle cx="287.3" cy="106.9" r="0.45" fill="#5a68b8"/><circle cx="315.0" cy="62.3" r="0.45" fill="#b8c0e8"/><circle cx="306.3" cy="67.2" r="0.45" fill="#ffffff"/><circle cx="301.2" cy="113.2" r="0.45" fill="#8a94d0"/><circle cx="317.6" cy="67.7" r="0.45" fill="#5a68b8"/><circle cx="321.3" cy="70.8" r="0.45" fill="#ffffff"/><circle cx="322.4" cy="82.9" r="0.45" fill="#dde2f6"/><circle cx="326.0" cy="62.8" r="0.45" fill="#5a68b8"/><circle cx="310.6" cy="57.5" r="0.45" fill="#3a4aa8"/><circle cx="292.9" cy="98.8" r="0.45" fill="#dde2f6"/><circle cx="316.9" cy="61.3" r="0.45" fill="#dde2f6"/><circle cx="312.3" cy="80.9" r="0.45" fill="#5a68b8"/><circle cx="312.4" cy="94.7" r="0.45" fill="#ffffff"/><circle cx="321.5" cy="86.6" r="0.45" fill="#dde2f6"/><circle cx="317.9" cy="75.2" r="0.45" fill="#b8c0e8"/><circle cx="317.4" cy="52.1" r="0.45" fill="#3a4aa8"/><circle cx="321.4" cy="70.4" r="0.45" fill="#dde2f6"/><circle cx="325.9" cy="79.6" r="0.45" fill="#dde2f6"/><circle cx="324.2" cy="65.9" r="0.45" fill="#b8c0e8"/><circle cx="293.1" cy="102.8" r="0.45" fill="#5a68b8"/><circle cx="301.5" cy="87.3" r="0.45" fill="#b8c0e8"/><circle cx="304.9" cy="82.2" r="0.45" fill="#3a4aa8"/><circle cx="290.2" cy="95.2" r="0.45" fill="#b8c0e8"/><circle cx="299.2" cy="94.9" r="0.45" fill="#5a68b8"/><circle cx="302.0" cy="97.6" r="0.45" fill="#5a68b8"/><circle cx="287.5" cy="105.5" r="0.45" fill="#dde2f6"/><circle cx="308.0" cy="83.1" r="0.45" fill="#b8c0e8"/><circle cx="328.5" cy="63.1" r="0.45" fill="#dde2f6"/><circle cx="296.0" cy="101.9" r="0.45" fill="#3a4aa8"/><circle cx="316.4" cy="61.2" r="0.45" fill="#8a94d0"/><circle cx="310.8" cy="82.6" r="0.45" fill="#ffffff"/><circle cx="316.5" cy="55.2" r="0.45" fill="#8a94d0"/><circle cx="307.1" cy="81.2" r="0.45" fill="#b8c0e8"/><circle cx="311.5" cy="104.7" r="0.45" fill="#3a4aa8"/><circle cx="318.5" cy="59.2" r="0.45" fill="#8a94d0"/><circle cx="302.3" cy="76.0" r="0.45" fill="#b8c0e8"/><circle cx="322.7" cy="82.8" r="0.45" fill="#3a4aa8"/><circle cx="302.6" cy="110.0" r="0.45" fill="#3a4aa8"/><circle cx="319.9" cy="70.6" r="0.45" fill="#dde2f6"/><circle cx="304.4" cy="112.6" r="0.45" fill="#8a94d0"/><circle cx="313.4" cy="72.3" r="0.45" fill="#b8c0e8"/><circle cx="304.3" cy="81.5" r="0.45" fill="#dde2f6"/><circle cx="313.8" cy="65.9" r="0.45" fill="#8a94d0"/><circle cx="315.4" cy="66.4" r="0.45" fill="#dde2f6"/><circle cx="309.3" cy="108.9" r="0.45" fill="#5a68b8"/><circle cx="312.8" cy="64.9" r="0.45" fill="#8a94d0"/><circle cx="308.3" cy="76.8" r="0.45" fill="#b8c0e8"/><circle cx="327.8" cy="67.3" r="0.45" fill="#dde2f6"/><circle cx="298.5" cy="90.8" r="0.45" fill="#3a4aa8"/><circle cx="308.9" cy="58.2" r="0.45" fill="#dde2f6"/><circle cx="322.7" cy="88.3" r="0.45" fill="#dde2f6"/><circle cx="310.5" cy="91.0" r="0.45" fill="#8a94d0"/><circle cx="293.8" cy="94.9" r="0.45" fill="#5a68b8"/><circle cx="305.6" cy="84.3" r="0.45" fill="#8a94d0"/><circle cx="312.5" cy="79.1" r="0.45" fill="#ffffff"/><circle cx="302.1" cy="86.7" r="0.45" fill="#8a94d0"/><circle cx="323.7" cy="64.1" r="0.45" fill="#5a68b8"/><circle cx="309.9" cy="80.6" r="0.45" fill="#5a68b8"/><circle cx="297.6" cy="113.0" r="0.45" fill="#3a4aa8"/><circle cx="298.1" cy="98.9" r="0.45" fill="#dde2f6"/><circle cx="324.2" cy="77.2" r="0.45" fill="#8a94d0"/><circle cx="304.6" cy="96.5" r="0.45" fill="#3a4aa8"/><circle cx="300.7" cy="92.6" r="0.45" fill="#ffffff"/><circle cx="312.6" cy="104.0" r="0.45" fill="#5a68b8"/><circle cx="321.9" cy="82.3" r="0.45" fill="#dde2f6"/><circle cx="318.2" cy="97.0" r="0.45" fill="#3a4aa8"/><circle cx="319.1" cy="79.5" r="0.45" fill="#3a4aa8"/><circle cx="320.3" cy="94.8" r="0.45" fill="#b8c0e8"/><circle cx="326.1" cy="56.8" r="0.45" fill="#8a94d0"/><circle cx="319.4" cy="86.8" r="0.45" fill="#3a4aa8"/><circle cx="307.3" cy="111.4" r="0.45" fill="#b8c0e8"/><circle cx="310.6" cy="75.8" r="0.45" fill="#b8c0e8"/><circle cx="312.2" cy="73.3" r="0.45" fill="#b8c0e8"/><circle cx="305.2" cy="78.4" r="0.45" fill="#8a94d0"/><circle cx="317.5" cy="67.6" r="0.45" fill="#b8c0e8"/><circle cx="302.4" cy="84.8" r="0.45" fill="#8a94d0"/><circle cx="307.3" cy="77.5" r="0.45" fill="#5a68b8"/><circle cx="311.0" cy="54.2" r="0.45" fill="#3a4aa8"/><circle cx="326.4" cy="69.6" r="0.45" fill="#dde2f6"/><circle cx="328.1" cy="61.8" r="0.45" fill="#3a4aa8"/><circle cx="304.0" cy="108.0" r="0.45" fill="#5a68b8"/><circle cx="310.3" cy="81.0" r="0.45" fill="#dde2f6"/><circle cx="308.1" cy="82.3" r="0.45" fill="#ffffff"/><circle cx="315.7" cy="73.9" r="0.45" fill="#ffffff"/><circle cx="300.9" cy="87.3" r="0.45" fill="#dde2f6"/><circle cx="300.6" cy="110.4" r="0.45" fill="#8a94d0"/><circle cx="315.3" cy="82.8" r="0.45" fill="#8a94d0"/><circle cx="302.9" cy="85.2" r="0.45" fill="#3a4aa8"/><circle cx="310.7" cy="106.0" r="0.45" fill="#dde2f6"/><circle cx="304.6" cy="89.3" r="0.45" fill="#ffffff"/><circle cx="308.7" cy="101.8" r="0.45" fill="#8a94d0"/><circle cx="324.9" cy="76.0" r="0.45" fill="#dde2f6"/><circle cx="307.9" cy="81.5" r="0.45" fill="#5a68b8"/><circle cx="313.2" cy="87.9" r="0.45" fill="#3a4aa8"/><circle cx="300.7" cy="113.4" r="0.45" fill="#b8c0e8"/><circle cx="313.5" cy="51.3" r="0.45" fill="#ffffff"/><circle cx="303.3" cy="99.9" r="0.45" fill="#5a68b8"/><circle cx="298.6" cy="93.6" r="0.45" fill="#dde2f6"/><circle cx="322.8" cy="86.8" r="0.45" fill="#8a94d0"/><circle cx="315.0" cy="61.3" r="0.45" fill="#8a94d0"/><circle cx="307.3" cy="84.6" r="0.45" fill="#8a94d0"/><circle cx="296.8" cy="90.7" r="0.45" fill="#ffffff"/><circle cx="310.7" cy="75.3" r="0.45" fill="#3a4aa8"/><circle cx="319.1" cy="55.5" r="0.45" fill="#3a4aa8"/><circle cx="308.4" cy="102.3" r="0.45" fill="#dde2f6"/><circle cx="312.5" cy="101.2" r="0.45" fill="#ffffff"/><circle cx="319.6" cy="69.6" r="0.45" fill="#b8c0e8"/><circle cx="317.1" cy="71.6" r="0.45" fill="#5a68b8"/><circle cx="289.2" cy="107.5" r="0.45" fill="#dde2f6"/><circle cx="311.1" cy="71.3" r="0.45" fill="#5a68b8"/><circle cx="305.1" cy="73.7" r="0.45" fill="#3a4aa8"/><circle cx="287.2" cy="106.7" r="0.45" fill="#b8c0e8"/><circle cx="304.6" cy="89.0" r="0.45" fill="#5a68b8"/><circle cx="299.0" cy="107.2" r="0.45" fill="#5a68b8"/><circle cx="321.7" cy="68.3" r="0.45" fill="#5a68b8"/><circle cx="307.1" cy="110.5" r="0.45" fill="#3a4aa8"/><circle cx="317.2" cy="63.0" r="0.45" fill="#b8c0e8"/><circle cx="298.7" cy="105.7" r="0.45" fill="#b8c0e8"/><circle cx="306.6" cy="100.3" r="0.45" fill="#b8c0e8"/><circle cx="328.7" cy="67.5" r="0.45" fill="#b8c0e8"/><circle cx="310.1" cy="56.0" r="0.45" fill="#b8c0e8"/><circle cx="308.9" cy="73.7" r="0.45" fill="#8a94d0"/><circle cx="290.3" cy="102.4" r="0.45" fill="#3a4aa8"/><circle cx="314.8" cy="70.8" r="0.45" fill="#8a94d0"/><circle cx="291.8" cy="94.6" r="0.45" fill="#b8c0e8"/><circle cx="322.5" cy="56.8" r="0.45" fill="#5a68b8"/><circle cx="304.8" cy="103.1" r="0.45" fill="#3a4aa8"/><circle cx="321.2" cy="58.9" r="0.45" fill="#3a4aa8"/><circle cx="300.7" cy="95.7" r="0.45" fill="#3a4aa8"/><circle cx="301.8" cy="111.1" r="0.45" fill="#8a94d0"/><circle cx="294.1" cy="110.6" r="0.45" fill="#3a4aa8"/><circle cx="307.6" cy="63.3" r="0.45" fill="#ffffff"/><circle cx="316.7" cy="65.5" r="0.45" fill="#ffffff"/><circle cx="312.3" cy="62.4" r="0.45" fill="#ffffff"/><circle cx="324.2" cy="56.5" r="0.45" fill="#3a4aa8"/><circle cx="307.9" cy="83.9" r="0.45" fill="#8a94d0"/><circle cx="296.9" cy="98.9" r="0.45" fill="#dde2f6"/><circle cx="302.1" cy="91.4" r="0.45" fill="#8a94d0"/><circle cx="310.4" cy="68.8" r="0.45" fill="#b8c0e8"/><circle cx="292.7" cy="104.1" r="0.45" fill="#ffffff"/><circle cx="299.2" cy="91.8" r="0.45" fill="#b8c0e8"/><circle cx="301.1" cy="81.2" r="0.45" fill="#b8c0e8"/><circle cx="290.4" cy="95.3" r="0.45" fill="#8a94d0"/><circle cx="314.8" cy="71.4" r="0.45" fill="#b8c0e8"/><circle cx="303.4" cy="91.5" r="0.45" fill="#5a68b8"/><circle cx="316.4" cy="64.7" r="0.45" fill="#b8c0e8"/><circle cx="323.1" cy="71.5" r="0.45" fill="#8a94d0"/><circle cx="313.2" cy="60.4" r="0.45" fill="#ffffff"/><circle cx="289.9" cy="108.1" r="0.45" fill="#3a4aa8"/><circle cx="318.0" cy="95.0" r="0.45" fill="#ffffff"/><circle cx="313.6" cy="60.2" r="0.45" fill="#ffffff"/><circle cx="322.7" cy="85.7" r="0.45" fill="#5a68b8"/><circle cx="317.2" cy="65.1" r="0.45" fill="#ffffff"/><circle cx="304.4" cy="93.2" r="0.45" fill="#8a94d0"/><circle cx="323.4" cy="88.2" r="0.45" fill="#b8c0e8"/><circle cx="289.7" cy="100.2" r="0.45" fill="#dde2f6"/><circle cx="294.2" cy="108.2" r="0.45" fill="#8a94d0"/><circle cx="318.7" cy="54.1" r="0.45" fill="#ffffff"/><circle cx="316.2" cy="74.2" r="0.45" fill="#3a4aa8"/><circle cx="327.6" cy="76.2" r="0.45" fill="#b8c0e8"/><circle cx="313.2" cy="78.1" r="0.45" fill="#8a94d0"/><circle cx="304.1" cy="81.9" r="0.45" fill="#3a4aa8"/><circle cx="326.7" cy="56.8" r="0.45" fill="#b8c0e8"/><circle cx="319.2" cy="51.4" r="0.45" fill="#b8c0e8"/><circle cx="316.5" cy="101.1" r="0.45" fill="#8a94d0"/><circle cx="296.5" cy="84.2" r="0.45" fill="#5a68b8"/><circle cx="309.3" cy="64.8" r="0.45" fill="#8a94d0"/><circle cx="316.7" cy="92.3" r="0.45" fill="#5a68b8"/><circle cx="308.0" cy="77.6" r="0.45" fill="#8a94d0"/><circle cx="327.1" cy="71.5" r="0.45" fill="#5a68b8"/><circle cx="298.3" cy="106.3" r="0.45" fill="#dde2f6"/><circle cx="299.8" cy="101.7" r="0.45" fill="#8a94d0"/><circle cx="309.5" cy="98.2" r="0.45" fill="#ffffff"/><circle cx="292.4" cy="92.0" r="0.45" fill="#5a68b8"/><circle cx="311.8" cy="78.6" r="0.45" fill="#8a94d0"/><circle cx="293.6" cy="94.3" r="0.45" fill="#3a4aa8"/><circle cx="299.4" cy="79.1" r="0.45" fill="#ffffff"/><circle cx="288.5" cy="95.3" r="0.45" fill="#b8c0e8"/><circle cx="314.3" cy="64.9" r="0.45" fill="#dde2f6"/><circle cx="286.0" cy="99.1" r="0.45" fill="#b8c0e8"/><circle cx="322.7" cy="67.8" r="0.45" fill="#b8c0e8"/><circle cx="293.1" cy="90.2" r="0.45" fill="#5a68b8"/><circle cx="292.3" cy="99.7" r="0.45" fill="#ffffff"/><circle cx="322.1" cy="69.4" r="0.45" fill="#5a68b8"/><circle cx="301.4" cy="84.5" r="0.45" fill="#8a94d0"/><circle cx="301.4" cy="102.8" r="0.45" fill="#dde2f6"/><circle cx="310.4" cy="89.5" r="0.45" fill="#3a4aa8"/><circle cx="307.1" cy="81.1" r="0.45" fill="#ffffff"/><circle cx="311.0" cy="53.7" r="0.45" fill="#b8c0e8"/><circle cx="315.9" cy="59.2" r="0.45" fill="#3a4aa8"/><circle cx="304.8" cy="111.8" r="0.45" fill="#8a94d0"/><circle cx="320.3" cy="76.3" r="0.45" fill="#ffffff"/><circle cx="297.5" cy="91.7" r="0.45" fill="#8a94d0"/><circle cx="308.0" cy="76.0" r="0.45" fill="#dde2f6"/><circle cx="300.0" cy="77.1" r="0.45" fill="#dde2f6"/><circle cx="314.9" cy="102.4" r="0.45" fill="#dde2f6"/><circle cx="325.7" cy="59.2" r="0.45" fill="#b8c0e8"/><circle cx="310.2" cy="71.2" r="0.45" fill="#dde2f6"/><circle cx="299.4" cy="78.6" r="0.45" fill="#8a94d0"/><circle cx="321.4" cy="52.4" r="0.45" fill="#5a68b8"/><circle cx="315.3" cy="88.3" r="0.45" fill="#3a4aa8"/><circle cx="298.2" cy="85.8" r="0.45" fill="#8a94d0"/><circle cx="314.0" cy="68.0" r="0.45" fill="#5a68b8"/><circle cx="300.3" cy="106.3" r="0.45" fill="#8a94d0"/><circle cx="315.4" cy="77.7" r="0.45" fill="#8a94d0"/><circle cx="301.6" cy="86.4" r="0.45" fill="#3a4aa8"/><circle cx="303.6" cy="83.1" r="0.45" fill="#dde2f6"/><circle cx="310.3" cy="74.4" r="0.45" fill="#dde2f6"/><circle cx="325.0" cy="84.3" r="0.45" fill="#dde2f6"/><circle cx="289.8" cy="104.8" r="0.45" fill="#b8c0e8"/><circle cx="308.7" cy="64.9" r="0.45" fill="#3a4aa8"/><circle cx="306.9" cy="84.7" r="0.45" fill="#ffffff"/><circle cx="295.0" cy="85.9" r="0.45" fill="#b8c0e8"/><circle cx="311.4" cy="53.7" r="0.45" fill="#b8c0e8"/><circle cx="304.6" cy="104.9" r="0.45" fill="#dde2f6"/><circle cx="309.6" cy="95.2" r="0.45" fill="#b8c0e8"/><circle cx="319.0" cy="56.0" r="0.45" fill="#ffffff"/><circle cx="289.3" cy="102.7" r="0.45" fill="#5a68b8"/><circle cx="319.8" cy="57.4" r="0.45" fill="#dde2f6"/><circle cx="319.9" cy="52.3" r="0.45" fill="#ffffff"/><circle cx="316.7" cy="76.3" r="0.45" fill="#8a94d0"/><circle cx="324.2" cy="85.3" r="0.45" fill="#b8c0e8"/><circle cx="292.3" cy="97.2" r="0.45" fill="#ffffff"/><circle cx="300.2" cy="98.4" r="0.45" fill="#8a94d0"/><circle cx="315.5" cy="102.4" r="0.45" fill="#dde2f6"/><circle cx="317.4" cy="51.3" r="0.45" fill="#b8c0e8"/><circle cx="312.1" cy="55.0" r="0.45" fill="#dde2f6"/><circle cx="309.6" cy="100.9" r="0.45" fill="#ffffff"/><circle cx="289.8" cy="108.9" r="0.45" fill="#8a94d0"/><circle cx="315.3" cy="65.1" r="0.45" fill="#b8c0e8"/><circle cx="322.7" cy="86.5" r="0.45" fill="#ffffff"/><circle cx="289.7" cy="100.8" r="0.45" fill="#8a94d0"/><circle cx="297.8" cy="93.4" r="0.45" fill="#3a4aa8"/><circle cx="324.4" cy="83.7" r="0.45" fill="#dde2f6"/><circle cx="315.9" cy="101.3" r="0.45" fill="#5a68b8"/><circle cx="307.4" cy="105.5" r="0.45" fill="#5a68b8"/><circle cx="321.0" cy="50.8" r="0.45" fill="#5a68b8"/><circle cx="293.0" cy="101.9" r="0.45" fill="#b8c0e8"/><circle cx="315.5" cy="74.1" r="0.45" fill="#5a68b8"/><circle cx="323.0" cy="74.2" r="0.45" fill="#dde2f6"/><circle cx="324.2" cy="88.4" r="0.45" fill="#dde2f6"/><circle cx="294.5" cy="106.9" r="0.45" fill="#5a68b8"/><circle cx="311.4" cy="51.4" r="0.45" fill="#b8c0e8"/><circle cx="305.9" cy="86.2" r="0.45" fill="#8a94d0"/><circle cx="302.3" cy="71.6" r="0.45" fill="#ffffff"/><circle cx="305.5" cy="112.9" r="0.45" fill="#ffffff"/><circle cx="315.1" cy="66.3" r="0.45" fill="#dde2f6"/><circle cx="297.1" cy="81.2" r="0.45" fill="#ffffff"/><circle cx="296.6" cy="85.7" r="0.45" fill="#8a94d0"/><circle cx="308.6" cy="111.0" r="0.45" fill="#b8c0e8"/><circle cx="310.1" cy="98.8" r="0.45" fill="#8a94d0"/><circle cx="313.4" cy="89.9" r="0.45" fill="#8a94d0"/><circle cx="298.5" cy="98.3" r="0.45" fill="#8a94d0"/><circle cx="318.2" cy="81.7" r="0.45" fill="#3a4aa8"/><circle cx="313.5" cy="71.4" r="0.45" fill="#b8c0e8"/><circle cx="309.6" cy="75.0" r="0.45" fill="#5a68b8"/><circle cx="299.3" cy="113.0" r="0.45" fill="#dde2f6"/><circle cx="306.5" cy="72.5" r="0.45" fill="#8a94d0"/><circle cx="305.2" cy="77.6" r="0.45" fill="#ffffff"/><circle cx="310.5" cy="68.2" r="0.45" fill="#3a4aa8"/><circle cx="317.6" cy="84.5" r="0.45" fill="#dde2f6"/><circle cx="327.2" cy="70.7" r="0.45" fill="#ffffff"/><circle cx="300.9" cy="99.1" r="0.45" fill="#5a68b8"/><circle cx="304.1" cy="105.2" r="0.45" fill="#b8c0e8"/><circle cx="325.4" cy="66.5" r="0.45" fill="#8a94d0"/><circle cx="316.6" cy="62.8" r="0.45" fill="#dde2f6"/><circle cx="312.0" cy="104.9" r="0.45" fill="#ffffff"/><circle cx="314.1" cy="61.3" r="0.45" fill="#3a4aa8"/><circle cx="311.9" cy="53.7" r="0.45" fill="#ffffff"/><circle cx="326.5" cy="62.4" r="0.45" fill="#5a68b8"/><circle cx="299.5" cy="97.4" r="0.45" fill="#8a94d0"/><circle cx="314.1" cy="75.0" r="0.45" fill="#3a4aa8"/><circle cx="315.5" cy="70.6" r="0.45" fill="#ffffff"/><circle cx="299.9" cy="80.8" r="0.45" fill="#b8c0e8"/><circle cx="311.8" cy="65.3" r="0.45" fill="#b8c0e8"/><circle cx="312.5" cy="95.8" r="0.45" fill="#8a94d0"/><circle cx="319.5" cy="54.4" r="0.45" fill="#ffffff"/><circle cx="321.6" cy="76.1" r="0.45" fill="#ffffff"/><circle cx="309.1" cy="86.9" r="0.45" fill="#b8c0e8"/><circle cx="309.8" cy="91.4" r="0.45" fill="#dde2f6"/><circle cx="312.0" cy="70.1" r="0.45" fill="#dde2f6"/><circle cx="318.3" cy="65.3" r="0.45" fill="#8a94d0"/><circle cx="316.9" cy="98.3" r="0.45" fill="#dde2f6"/><circle cx="319.9" cy="68.7" r="0.45" fill="#b8c0e8"/><circle cx="305.2" cy="66.7" r="0.45" fill="#3a4aa8"/><circle cx="308.4" cy="109.9" r="0.45" fill="#dde2f6"/><circle cx="306.3" cy="91.3" r="0.45" fill="#8a94d0"/><circle cx="319.8" cy="72.2" r="0.45" fill="#dde2f6"/><circle cx="329.5" cy="63.4" r="0.45" fill="#8a94d0"/><circle cx="319.0" cy="54.4" r="0.45" fill="#8a94d0"/><circle cx="309.9" cy="60.4" r="0.45" fill="#5a68b8"/><circle cx="327.3" cy="72.4" r="0.45" fill="#b8c0e8"/><circle cx="319.9" cy="64.3" r="0.45" fill="#8a94d0"/><circle cx="313.5" cy="71.0" r="0.45" fill="#b8c0e8"/><circle cx="321.0" cy="78.5" r="0.45" fill="#3a4aa8"/><circle cx="299.4" cy="107.5" r="0.45" fill="#dde2f6"/><circle cx="289.6" cy="96.4" r="0.45" fill="#5a68b8"/><circle cx="302.9" cy="104.9" r="0.45" fill="#5a68b8"/><circle cx="303.3" cy="108.5" r="0.45" fill="#b8c0e8"/><circle cx="319.1" cy="90.5" r="0.45" fill="#dde2f6"/><circle cx="294.5" cy="85.7" r="0.45" fill="#5a68b8"/><circle cx="291.8" cy="104.9" r="0.45" fill="#ffffff"/><circle cx="324.1" cy="66.0" r="0.45" fill="#dde2f6"/><circle cx="306.7" cy="106.7" r="0.45" fill="#5a68b8"/><circle cx="292.0" cy="93.1" r="0.45" fill="#b8c0e8"/><circle cx="311.8" cy="78.1" r="0.45" fill="#ffffff"/><circle cx="310.9" cy="106.2" r="0.45" fill="#ffffff"/><circle cx="294.2" cy="106.2" r="0.45" fill="#b8c0e8"/><circle cx="301.0" cy="99.4" r="0.45" fill="#8a94d0"/><circle cx="323.8" cy="60.4" r="0.45" fill="#b8c0e8"/><circle cx="291.5" cy="96.6" r="0.45" fill="#8a94d0"/><circle cx="315.6" cy="54.4" r="0.45" fill="#3a4aa8"/><circle cx="300.1" cy="108.5" r="0.45" fill="#dde2f6"/><circle cx="295.3" cy="100.2" r="0.45" fill="#ffffff"/><circle cx="315.9" cy="51.0" r="0.45" fill="#b8c0e8"/><circle cx="307.6" cy="63.6" r="0.45" fill="#dde2f6"/><circle cx="299.0" cy="105.9" r="0.45" fill="#b8c0e8"/><circle cx="292.8" cy="93.3" r="0.45" fill="#dde2f6"/><circle cx="291.4" cy="96.7" r="0.45" fill="#5a68b8"/><circle cx="300.7" cy="80.9" r="0.45" fill="#dde2f6"/><circle cx="326.3" cy="71.3" r="0.45" fill="#8a94d0"/><circle cx="294.4" cy="111.7" r="0.45" fill="#8a94d0"/><circle cx="303.2" cy="84.8" r="0.45" fill="#ffffff"/><circle cx="315.9" cy="91.1" r="0.45" fill="#8a94d0"/><circle cx="309.3" cy="84.3" r="0.45" fill="#dde2f6"/><circle cx="303.7" cy="112.0" r="0.45" fill="#b8c0e8"/><circle cx="302.2" cy="73.7" r="0.45" fill="#8a94d0"/><circle cx="312.2" cy="109.0" r="0.45" fill="#b8c0e8"/><circle cx="296.2" cy="88.4" r="0.45" fill="#8a94d0"/><circle cx="316.1" cy="69.7" r="0.45" fill="#5a68b8"/><circle cx="314.0" cy="84.3" r="0.45" fill="#8a94d0"/><circle cx="299.0" cy="111.9" r="0.45" fill="#5a68b8"/><circle cx="323.4" cy="81.8" r="0.45" fill="#3a4aa8"/><circle cx="295.3" cy="89.6" r="0.45" fill="#5a68b8"/><circle cx="318.4" cy="73.2" r="0.45" fill="#dde2f6"/><circle cx="317.0" cy="74.2" r="0.45" fill="#3a4aa8"/><circle cx="308.5" cy="88.5" r="0.45" fill="#3a4aa8"/><circle cx="315.4" cy="69.5" r="0.45" fill="#ffffff"/><circle cx="313.2" cy="84.0" r="0.45" fill="#dde2f6"/><circle cx="294.8" cy="88.5" r="0.45" fill="#3a4aa8"/><circle cx="296.7" cy="107.8" r="0.45" fill="#3a4aa8"/><circle cx="306.1" cy="95.6" r="0.45" fill="#b8c0e8"/><circle cx="308.3" cy="79.6" r="0.45" fill="#5a68b8"/><circle cx="308.4" cy="82.9" r="0.45" fill="#3a4aa8"/><circle cx="321.5" cy="64.1" r="0.45" fill="#b8c0e8"/><circle cx="292.5" cy="102.2" r="0.45" fill="#ffffff"/><circle cx="305.6" cy="90.3" r="0.45" fill="#dde2f6"/><circle cx="302.0" cy="102.8" r="0.45" fill="#5a68b8"/><circle cx="321.7" cy="56.5" r="0.45" fill="#b8c0e8"/><circle cx="321.1" cy="82.5" r="0.45" fill="#5a68b8"/><circle cx="302.6" cy="113.6" r="0.45" fill="#5a68b8"/><circle cx="316.2" cy="77.8" r="0.45" fill="#3a4aa8"/><circle cx="306.4" cy="100.6" r="0.45" fill="#3a4aa8"/><circle cx="319.1" cy="58.3" r="0.45" fill="#3a4aa8"/><circle cx="315.5" cy="72.5" r="0.45" fill="#b8c0e8"/><circle cx="308.3" cy="64.0" r="0.45" fill="#3a4aa8"/><circle cx="293.8" cy="85.8" r="0.45" fill="#5a68b8"/><circle cx="317.2" cy="66.4" r="0.45" fill="#dde2f6"/><circle cx="322.5" cy="54.5" r="0.45" fill="#3a4aa8"/><circle cx="313.5" cy="104.6" r="0.45" fill="#b8c0e8"/><circle cx="320.6" cy="88.8" r="0.45" fill="#3a4aa8"/><circle cx="304.7" cy="72.5" r="0.45" fill="#8a94d0"/><circle cx="317.0" cy="67.8" r="0.45" fill="#ffffff"/><circle cx="303.2" cy="90.8" r="0.45" fill="#ffffff"/><circle cx="321.4" cy="71.5" r="0.45" fill="#dde2f6"/><circle cx="302.2" cy="86.3" r="0.45" fill="#3a4aa8"/><circle cx="326.6" cy="61.0" r="0.45" fill="#b8c0e8"/><circle cx="301.6" cy="92.0" r="0.45" fill="#8a94d0"/><circle cx="318.9" cy="73.3" r="0.45" fill="#3a4aa8"/><circle cx="308.5" cy="80.9" r="0.45" fill="#5a68b8"/><circle cx="305.7" cy="78.7" r="0.45" fill="#5a68b8"/><circle cx="322.7" cy="75.6" r="0.45" fill="#8a94d0"/><circle cx="306.2" cy="106.6" r="0.45" fill="#dde2f6"/><circle cx="304.6" cy="80.6" r="0.45" fill="#dde2f6"/><circle cx="307.9" cy="102.4" r="0.45" fill="#ffffff"/><circle cx="315.1" cy="96.9" r="0.45" fill="#5a68b8"/><circle cx="315.5" cy="84.7" r="0.45" fill="#3a4aa8"/><circle cx="319.5" cy="98.8" r="0.45" fill="#ffffff"/><circle cx="288.2" cy="101.9" r="0.45" fill="#b8c0e8"/><circle cx="318.8" cy="85.4" r="0.45" fill="#dde2f6"/><circle cx="316.9" cy="80.0" r="0.45" fill="#3a4aa8"/><circle cx="303.6" cy="86.6" r="0.45" fill="#3a4aa8"/><circle cx="324.2" cy="58.0" r="0.45" fill="#ffffff"/><circle cx="299.8" cy="82.3" r="0.45" fill="#3a4aa8"/><circle cx="323.6" cy="84.8" r="0.45" fill="#5a68b8"/><circle cx="307.8" cy="75.9" r="0.45" fill="#5a68b8"/><circle cx="323.5" cy="65.3" r="0.45" fill="#ffffff"/><circle cx="309.0" cy="72.9" r="0.45" fill="#dde2f6"/><circle cx="305.7" cy="80.4" r="0.45" fill="#8a94d0"/><circle cx="311.1" cy="72.4" r="0.45" fill="#5a68b8"/><circle cx="321.0" cy="61.6" r="0.45" fill="#ffffff"/><circle cx="308.8" cy="75.2" r="0.45" fill="#5a68b8"/><circle cx="310.3" cy="69.6" r="0.45" fill="#dde2f6"/><circle cx="297.1" cy="100.5" r="0.45" fill="#dde2f6"/><circle cx="297.9" cy="94.9" r="0.45" fill="#b8c0e8"/><circle cx="321.1" cy="87.2" r="0.45" fill="#dde2f6"/><circle cx="305.3" cy="109.5" r="0.45" fill="#ffffff"/><circle cx="304.9" cy="105.8" r="0.45" fill="#5a68b8"/><circle cx="313.7" cy="51.7" r="0.45" fill="#dde2f6"/><circle cx="323.8" cy="53.2" r="0.45" fill="#5a68b8"/><circle cx="311.7" cy="60.3" r="0.45" fill="#ffffff"/><circle cx="321.0" cy="81.0" r="0.45" fill="#5a68b8"/><circle cx="315.2" cy="92.6" r="0.45" fill="#8a94d0"/><circle cx="322.7" cy="58.0" r="0.45" fill="#5a68b8"/><circle cx="326.3" cy="62.0" r="0.45" fill="#dde2f6"/><circle cx="303.5" cy="91.5" r="0.45" fill="#dde2f6"/><circle cx="296.4" cy="107.7" r="0.45" fill="#b8c0e8"/><circle cx="315.8" cy="58.6" r="0.45" fill="#b8c0e8"/><circle cx="286.6" cy="103.1" r="0.45" fill="#ffffff"/><circle cx="311.1" cy="69.3" r="0.45" fill="#dde2f6"/><circle cx="310.1" cy="58.6" r="0.45" fill="#dde2f6"/><circle cx="326.0" cy="69.7" r="0.45" fill="#dde2f6"/><circle cx="322.8" cy="58.4" r="0.45" fill="#5a68b8"/><circle cx="301.9" cy="90.3" r="0.45" fill="#dde2f6"/><circle cx="294.8" cy="84.1" r="0.45" fill="#5a68b8"/><circle cx="317.7" cy="76.6" r="0.45" fill="#dde2f6"/><circle cx="315.5" cy="56.0" r="0.45" fill="#8a94d0"/><circle cx="322.2" cy="56.5" r="0.45" fill="#5a68b8"/><circle cx="318.7" cy="80.9" r="0.45" fill="#3a4aa8"/><circle cx="306.7" cy="104.9" r="0.45" fill="#8a94d0"/><circle cx="311.8" cy="83.8" r="0.45" fill="#5a68b8"/><circle cx="297.0" cy="106.8" r="0.45" fill="#5a68b8"/><circle cx="323.0" cy="63.3" r="0.45" fill="#ffffff"/><circle cx="300.3" cy="110.2" r="0.45" fill="#8a94d0"/><circle cx="314.4" cy="51.8" r="0.45" fill="#ffffff"/><circle cx="299.8" cy="77.9" r="0.45" fill="#3a4aa8"/><circle cx="295.9" cy="97.0" r="0.45" fill="#3a4aa8"/><circle cx="292.8" cy="99.9" r="0.45" fill="#dde2f6"/><circle cx="310.0" cy="54.7" r="0.45" fill="#5a68b8"/><circle cx="309.7" cy="100.0" r="0.45" fill="#b8c0e8"/><circle cx="311.7" cy="78.6" r="0.45" fill="#5a68b8"/><circle cx="314.7" cy="59.2" r="0.45" fill="#5a68b8"/><circle cx="292.4" cy="110.0" r="0.45" fill="#ffffff"/><circle cx="299.7" cy="103.5" r="0.45" fill="#8a94d0"/><circle cx="324.3" cy="79.9" r="0.45" fill="#dde2f6"/><circle cx="324.5" cy="56.1" r="0.45" fill="#dde2f6"/><circle cx="307.2" cy="83.5" r="0.45" fill="#dde2f6"/><circle cx="307.7" cy="72.5" r="0.45" fill="#b8c0e8"/><circle cx="295.6" cy="105.4" r="0.45" fill="#ffffff"/><circle cx="307.4" cy="106.7" r="0.45" fill="#8a94d0"/><circle cx="306.8" cy="100.2" r="0.45" fill="#5a68b8"/><circle cx="310.5" cy="93.5" r="0.45" fill="#b8c0e8"/><circle cx="295.1" cy="97.5" r="0.45" fill="#5a68b8"/><circle cx="308.2" cy="67.6" r="0.45" fill="#ffffff"/><circle cx="325.0" cy="54.0" r="0.45" fill="#8a94d0"/><circle cx="310.9" cy="63.8" r="0.45" fill="#dde2f6"/><circle cx="311.7" cy="99.7" r="0.45" fill="#b8c0e8"/><circle cx="316.9" cy="52.6" r="0.45" fill="#5a68b8"/><circle cx="295.8" cy="87.6" r="0.45" fill="#ffffff"/><circle cx="312.7" cy="93.7" r="0.45" fill="#ffffff"/><circle cx="321.6" cy="70.8" r="0.45" fill="#5a68b8"/><circle cx="321.4" cy="78.7" r="0.45" fill="#ffffff"/><circle cx="327.3" cy="75.4" r="0.45" fill="#b8c0e8"/><circle cx="295.8" cy="96.4" r="0.45" fill="#5a68b8"/><circle cx="315.4" cy="58.4" r="0.45" fill="#b8c0e8"/><circle cx="299.7" cy="112.2" r="0.45" fill="#dde2f6"/><circle cx="306.4" cy="81.0" r="0.45" fill="#b8c0e8"/><circle cx="318.7" cy="90.1" r="0.45" fill="#dde2f6"/><circle cx="293.7" cy="89.3" r="0.45" fill="#b8c0e8"/><circle cx="288.9" cy="95.3" r="0.45" fill="#5a68b8"/><circle cx="318.5" cy="57.3" r="0.45" fill="#5a68b8"/><circle cx="311.4" cy="76.9" r="0.45" fill="#8a94d0"/><circle cx="324.1" cy="68.0" r="0.45" fill="#dde2f6"/><circle cx="296.1" cy="103.2" r="0.45" fill="#b8c0e8"/><circle cx="307.0" cy="107.8" r="0.45" fill="#5a68b8"/><circle cx="315.7" cy="94.9" r="0.45" fill="#8a94d0"/><circle cx="302.5" cy="99.7" r="0.45" fill="#b8c0e8"/><circle cx="320.7" cy="93.1" r="0.45" fill="#8a94d0"/><circle cx="314.3" cy="103.1" r="0.45" fill="#ffffff"/><circle cx="300.1" cy="87.3" r="0.45" fill="#ffffff"/><circle cx="321.5" cy="75.8" r="0.45" fill="#b8c0e8"/><circle cx="312.1" cy="78.4" r="0.45" fill="#b8c0e8"/><circle cx="300.7" cy="103.6" r="0.45" fill="#5a68b8"/><circle cx="312.8" cy="67.6" r="0.45" fill="#3a4aa8"/><circle cx="316.5" cy="77.4" r="0.45" fill="#8a94d0"/><circle cx="314.6" cy="101.2" r="0.45" fill="#8a94d0"/><circle cx="290.2" cy="93.1" r="0.45" fill="#5a68b8"/><circle cx="286.6" cy="102.2" r="0.45" fill="#ffffff"/><circle cx="328.1" cy="72.2" r="0.45" fill="#3a4aa8"/><circle cx="294.9" cy="106.6" r="0.45" fill="#ffffff"/><circle cx="312.3" cy="106.9" r="0.45" fill="#3a4aa8"/><circle cx="302.6" cy="81.1" r="0.45" fill="#5a68b8"/><circle cx="322.3" cy="59.1" r="0.45" fill="#8a94d0"/><circle cx="292.6" cy="110.2" r="0.45" fill="#ffffff"/><circle cx="305.3" cy="101.4" r="0.45" fill="#ffffff"/><circle cx="323.8" cy="82.1" r="0.45" fill="#b8c0e8"/><circle cx="301.8" cy="109.1" r="0.45" fill="#ffffff"/><circle cx="304.8" cy="111.0" r="0.45" fill="#8a94d0"/><circle cx="301.1" cy="91.7" r="0.45" fill="#dde2f6"/><circle cx="313.3" cy="73.0" r="0.45" fill="#5a68b8"/><circle cx="308.4" cy="92.7" r="0.45" fill="#8a94d0"/><circle cx="325.8" cy="81.0" r="0.45" fill="#5a68b8"/><circle cx="301.2" cy="112.2" r="0.45" fill="#5a68b8"/><circle cx="287.3" cy="103.0" r="0.45" fill="#b8c0e8"/><circle cx="315.7" cy="84.9" r="0.45" fill="#dde2f6"/><circle cx="305.0" cy="97.5" r="0.45" fill="#8a94d0"/><circle cx="318.7" cy="50.8" r="0.45" fill="#3a4aa8"/><circle cx="302.5" cy="97.3" r="0.45" fill="#dde2f6"/><circle cx="313.8" cy="66.8" r="0.45" fill="#b8c0e8"/><circle cx="319.2" cy="67.5" r="0.45" fill="#b8c0e8"/><circle cx="309.4" cy="76.0" r="0.45" fill="#8a94d0"/><circle cx="321.2" cy="92.7" r="0.45" fill="#3a4aa8"/><circle cx="301.9" cy="111.4" r="0.45" fill="#dde2f6"/><circle cx="316.8" cy="93.6" r="0.45" fill="#3a4aa8"/><circle cx="310.8" cy="102.4" r="0.45" fill="#3a4aa8"/><circle cx="320.7" cy="71.2" r="0.45" fill="#b8c0e8"/><circle cx="324.4" cy="59.1" r="0.45" fill="#5a68b8"/><circle cx="318.1" cy="59.6" r="0.45" fill="#8a94d0"/><circle cx="327.5" cy="61.4" r="0.45" fill="#b8c0e8"/><circle cx="299.2" cy="77.1" r="0.45" fill="#dde2f6"/><circle cx="302.5" cy="73.7" r="0.45" fill="#b8c0e8"/><circle cx="328.4" cy="65.9" r="0.45" fill="#b8c0e8"/><circle cx="293.9" cy="107.8" r="0.45" fill="#ffffff"/><circle cx="305.1" cy="103.2" r="0.45" fill="#3a4aa8"/><circle cx="313.6" cy="99.3" r="0.45" fill="#3a4aa8"/><circle cx="319.0" cy="79.2" r="0.45" fill="#5a68b8"/><circle cx="310.0" cy="92.3" r="0.45" fill="#8a94d0"/><circle cx="318.8" cy="66.5" r="0.45" fill="#8a94d0"/><circle cx="301.1" cy="108.4" r="0.45" fill="#3a4aa8"/><circle cx="308.7" cy="67.3" r="0.45" fill="#5a68b8"/><circle cx="313.2" cy="65.5" r="0.45" fill="#3a4aa8"/><circle cx="319.6" cy="51.2" r="0.45" fill="#dde2f6"/><circle cx="322.1" cy="85.5" r="0.45" fill="#3a4aa8"/><circle cx="300.7" cy="109.9" r="0.45" fill="#8a94d0"/><circle cx="318.8" cy="92.8" r="0.45" fill="#3a4aa8"/><circle cx="303.4" cy="101.2" r="0.45" fill="#ffffff"/><circle cx="313.4" cy="93.7" r="0.45" fill="#8a94d0"/><circle cx="319.8" cy="74.3" r="0.45" fill="#b8c0e8"/><circle cx="321.2" cy="71.3" r="0.45" fill="#b8c0e8"/><circle cx="293.1" cy="105.4" r="0.45" fill="#ffffff"/><circle cx="308.8" cy="82.5" r="0.45" fill="#5a68b8"/><circle cx="307.4" cy="104.1" r="0.45" fill="#ffffff"/><circle cx="315.0" cy="86.2" r="0.45" fill="#5a68b8"/><circle cx="303.0" cy="86.0" r="0.45" fill="#8a94d0"/><circle cx="297.1" cy="103.7" r="0.45" fill="#b8c0e8"/><circle cx="291.5" cy="92.4" r="0.45" fill="#8a94d0"/><circle cx="318.9" cy="81.2" r="0.45" fill="#5a68b8"/><circle cx="314.1" cy="105.9" r="0.45" fill="#ffffff"/><circle cx="290.6" cy="94.5" r="0.45" fill="#b8c0e8"/><circle cx="316.6" cy="88.5" r="0.45" fill="#dde2f6"/><circle cx="312.0" cy="102.3" r="0.45" fill="#ffffff"/><circle cx="321.0" cy="72.0" r="0.45" fill="#b8c0e8"/><circle cx="316.4" cy="53.2" r="0.45" fill="#5a68b8"/><circle cx="322.7" cy="69.7" r="0.45" fill="#3a4aa8"/><circle cx="309.8" cy="101.2" r="0.45" fill="#b8c0e8"/><circle cx="286.5" cy="102.5" r="0.45" fill="#ffffff"/><circle cx="313.2" cy="70.7" r="0.45" fill="#dde2f6"/><circle cx="299.7" cy="85.6" r="0.45" fill="#8a94d0"/><circle cx="294.6" cy="100.3" r="0.45" fill="#3a4aa8"/><circle cx="294.2" cy="103.3" r="0.45" fill="#3a4aa8"/><circle cx="321.3" cy="83.6" r="0.45" fill="#5a68b8"/><circle cx="286.1" cy="99.3" r="0.45" fill="#5a68b8"/><circle cx="313.2" cy="95.8" r="0.45" fill="#ffffff"/><circle cx="311.2" cy="74.6" r="0.45" fill="#dde2f6"/><circle cx="307.9" cy="86.9" r="0.45" fill="#ffffff"/><circle cx="295.0" cy="105.2" r="0.45" fill="#ffffff"/><circle cx="328.2" cy="70.0" r="0.45" fill="#8a94d0"/><circle cx="305.3" cy="93.1" r="0.45" fill="#8a94d0"/><circle cx="316.8" cy="78.2" r="0.45" fill="#dde2f6"/><circle cx="293.5" cy="96.6" r="0.45" fill="#ffffff"/><circle cx="308.1" cy="77.1" r="0.45" fill="#ffffff"/><circle cx="293.7" cy="94.5" r="0.45" fill="#b8c0e8"/><circle cx="310.1" cy="94.3" r="0.45" fill="#3a4aa8"/><circle cx="317.4" cy="95.5" r="0.45" fill="#3a4aa8"/><circle cx="285.3" cy="104.9" r="0.45" fill="#b8c0e8"/><circle cx="317.4" cy="89.7" r="0.45" fill="#3a4aa8"/><circle cx="292.1" cy="89.8" r="0.45" fill="#ffffff"/><circle cx="329.6" cy="68.5" r="0.45" fill="#3a4aa8"/><circle cx="300.8" cy="107.2" r="0.45" fill="#ffffff"/><circle cx="321.1" cy="78.2" r="0.45" fill="#b8c0e8"/><circle cx="291.7" cy="99.3" r="0.45" fill="#8a94d0"/><circle cx="306.3" cy="102.2" r="0.45" fill="#5a68b8"/><circle cx="310.2" cy="81.7" r="0.45" fill="#dde2f6"/><circle cx="317.9" cy="73.6" r="0.45" fill="#ffffff"/><circle cx="294.4" cy="86.7" r="0.45" fill="#8a94d0"/><circle cx="325.0" cy="83.4" r="0.45" fill="#5a68b8"/><circle cx="313.0" cy="106.3" r="0.45" fill="#ffffff"/><circle cx="306.6" cy="90.3" r="0.45" fill="#b8c0e8"/><circle cx="325.7" cy="73.5" r="0.45" fill="#dde2f6"/><circle cx="305.4" cy="86.7" r="0.45" fill="#8a94d0"/><circle cx="313.5" cy="94.7" r="0.45" fill="#8a94d0"/><circle cx="317.5" cy="52.0" r="0.45" fill="#8a94d0"/><circle cx="306.0" cy="74.6" r="0.45" fill="#8a94d0"/><circle cx="315.2" cy="95.1" r="0.45" fill="#b8c0e8"/><circle cx="295.6" cy="90.9" r="0.45" fill="#5a68b8"/><circle cx="316.0" cy="79.3" r="0.45" fill="#8a94d0"/><circle cx="291.1" cy="107.9" r="0.45" fill="#ffffff"/><circle cx="311.8" cy="52.6" r="0.45" fill="#ffffff"/><circle cx="313.4" cy="96.9" r="0.45" fill="#3a4aa8"/><circle cx="295.6" cy="109.3" r="0.45" fill="#ffffff"/><circle cx="294.6" cy="92.4" r="0.45" fill="#5a68b8"/><circle cx="326.3" cy="65.7" r="0.45" fill="#dde2f6"/><circle cx="319.0" cy="55.3" r="0.45" fill="#5a68b8"/><circle cx="293.2" cy="101.2" r="0.45" fill="#3a4aa8"/><circle cx="289.5" cy="99.9" r="0.45" fill="#5a68b8"/><circle cx="309.9" cy="102.1" r="0.45" fill="#dde2f6"/><circle cx="307.5" cy="89.0" r="0.45" fill="#b8c0e8"/><circle cx="311.6" cy="100.7" r="0.45" fill="#8a94d0"/><circle cx="309.4" cy="67.5" r="0.45" fill="#3a4aa8"/><circle cx="318.4" cy="50.1" r="0.45" fill="#3a4aa8"/><circle cx="314.1" cy="62.0" r="0.45" fill="#ffffff"/><circle cx="323.1" cy="55.1" r="0.45" fill="#8a94d0"/><circle cx="319.2" cy="58.2" r="0.45" fill="#5a68b8"/><circle cx="316.1" cy="87.6" r="0.45" fill="#5a68b8"/><circle cx="308.3" cy="78.3" r="0.45" fill="#3a4aa8"/><circle cx="303.2" cy="88.4" r="0.45" fill="#b8c0e8"/><circle cx="317.9" cy="100.5" r="0.45" fill="#b8c0e8"/><circle cx="317.2" cy="50.5" r="0.45" fill="#ffffff"/><circle cx="315.5" cy="104.0" r="0.45" fill="#5a68b8"/><circle cx="304.2" cy="105.8" r="0.45" fill="#5a68b8"/><circle cx="292.8" cy="110.1" r="0.45" fill="#3a4aa8"/><circle cx="304.7" cy="94.6" r="0.45" fill="#3a4aa8"/><circle cx="318.8" cy="66.4" r="0.45" fill="#3a4aa8"/><circle cx="299.6" cy="98.8" r="0.45" fill="#3a4aa8"/><circle cx="320.7" cy="83.2" r="0.45" fill="#5a68b8"/><circle cx="289.4" cy="102.4" r="0.45" fill="#5a68b8"/><circle cx="298.9" cy="89.4" r="0.45" fill="#8a94d0"/><circle cx="301.3" cy="83.6" r="0.45" fill="#3a4aa8"/><circle cx="328.4" cy="59.0" r="0.45" fill="#dde2f6"/><circle cx="308.8" cy="90.9" r="0.45" fill="#5a68b8"/><circle cx="309.1" cy="109.7" r="0.45" fill="#8a94d0"/><circle cx="303.2" cy="108.2" r="0.45" fill="#5a68b8"/><circle cx="297.7" cy="107.7" r="0.45" fill="#dde2f6"/><circle cx="315.8" cy="93.6" r="0.45" fill="#3a4aa8"/><circle cx="318.5" cy="97.7" r="0.45" fill="#dde2f6"/><circle cx="311.5" cy="91.3" r="0.45" fill="#5a68b8"/><circle cx="311.8" cy="93.9" r="0.45" fill="#b8c0e8"/><circle cx="297.1" cy="98.7" r="0.45" fill="#5a68b8"/><circle cx="315.9" cy="77.6" r="0.45" fill="#dde2f6"/><circle cx="317.7" cy="54.7" r="0.45" fill="#8a94d0"/><circle cx="326.9" cy="70.9" r="0.45" fill="#5a68b8"/><circle cx="322.2" cy="63.3" r="0.45" fill="#b8c0e8"/><circle cx="315.1" cy="66.6" r="0.45" fill="#ffffff"/><circle cx="325.7" cy="58.8" r="0.45" fill="#8a94d0"/><circle cx="314.6" cy="86.8" r="0.45" fill="#5a68b8"/><circle cx="314.7" cy="60.3" r="0.45" fill="#b8c0e8"/><circle cx="314.2" cy="85.7" r="0.45" fill="#ffffff"/><circle cx="285.4" cy="104.2" r="0.45" fill="#8a94d0"/><circle cx="301.2" cy="95.7" r="0.45" fill="#b8c0e8"/><circle cx="291.0" cy="100.0" r="0.45" fill="#dde2f6"/><circle cx="295.9" cy="100.5" r="0.45" fill="#b8c0e8"/><circle cx="319.3" cy="63.1" r="0.45" fill="#dde2f6"/><circle cx="302.1" cy="72.4" r="0.45" fill="#3a4aa8"/><circle cx="313.8" cy="79.3" r="0.45" fill="#ffffff"/><circle cx="314.8" cy="103.1" r="0.45" fill="#5a68b8"/><circle cx="305.5" cy="95.0" r="0.45" fill="#ffffff"/><circle cx="301.1" cy="79.1" r="0.45" fill="#5a68b8"/><circle cx="318.4" cy="85.3" r="0.45" fill="#b8c0e8"/><circle cx="323.6" cy="55.7" r="0.45" fill="#b8c0e8"/><circle cx="323.9" cy="62.4" r="0.45" fill="#dde2f6"/><circle cx="326.6" cy="78.6" r="0.45" fill="#ffffff"/><circle cx="317.8" cy="53.4" r="0.45" fill="#b8c0e8"/><circle cx="305.2" cy="69.3" r="0.45" fill="#5a68b8"/><circle cx="294.0" cy="91.8" r="0.45" fill="#dde2f6"/><circle cx="314.3" cy="82.1" r="0.45" fill="#8a94d0"/><circle cx="318.2" cy="83.6" r="0.45" fill="#8a94d0"/><circle cx="312.1" cy="91.0" r="0.45" fill="#ffffff"/><circle cx="291.3" cy="101.0" r="0.45" fill="#b8c0e8"/><circle cx="323.5" cy="72.5" r="0.45" fill="#5a68b8"/><circle cx="325.6" cy="60.4" r="0.45" fill="#dde2f6"/><circle cx="295.0" cy="87.5" r="0.45" fill="#ffffff"/><circle cx="293.4" cy="97.4" r="0.45" fill="#dde2f6"/><circle cx="311.1" cy="109.8" r="0.45" fill="#8a94d0"/><circle cx="302.9" cy="92.8" r="0.45" fill="#ffffff"/><circle cx="307.9" cy="110.4" r="0.45" fill="#3a4aa8"/><circle cx="312.8" cy="62.6" r="0.45" fill="#ffffff"/><circle cx="322.5" cy="61.7" r="0.45" fill="#b8c0e8"/><circle cx="295.0" cy="111.3" r="0.45" fill="#3a4aa8"/><circle cx="300.2" cy="92.2" r="0.45" fill="#b8c0e8"/><circle cx="292.0" cy="102.6" r="0.45" fill="#8a94d0"/><circle cx="310.2" cy="95.0" r="0.45" fill="#dde2f6"/><circle cx="308.4" cy="86.5" r="0.45" fill="#b8c0e8"/><circle cx="311.2" cy="78.0" r="0.45" fill="#dde2f6"/><circle cx="303.2" cy="106.5" r="0.45" fill="#b8c0e8"/><circle cx="314.7" cy="104.7" r="0.45" fill="#5a68b8"/><circle cx="328.0" cy="66.1" r="0.45" fill="#dde2f6"/><circle cx="327.4" cy="75.1" r="0.45" fill="#3a4aa8"/><circle cx="303.7" cy="83.1" r="0.45" fill="#b8c0e8"/><circle cx="314.3" cy="82.0" r="0.45" fill="#dde2f6"/><circle cx="314.5" cy="86.8" r="0.45" fill="#3a4aa8"/><circle cx="328.3" cy="61.1" r="0.45" fill="#b8c0e8"/><circle cx="288.1" cy="107.1" r="0.45" fill="#dde2f6"/><circle cx="310.5" cy="60.4" r="0.45" fill="#3a4aa8"/><circle cx="316.1" cy="65.2" r="0.45" fill="#5a68b8"/><circle cx="308.4" cy="92.7" r="0.45" fill="#5a68b8"/><circle cx="288.0" cy="96.9" r="0.45" fill="#3a4aa8"/><circle cx="313.0" cy="79.3" r="0.45" fill="#3a4aa8"/><circle cx="315.1" cy="100.7" r="0.45" fill="#b8c0e8"/><circle cx="315.4" cy="94.8" r="0.45" fill="#dde2f6"/><circle cx="314.0" cy="60.3" r="0.45" fill="#ffffff"/><circle cx="328.1" cy="62.0" r="0.45" fill="#dde2f6"/><circle cx="303.2" cy="111.3" r="0.45" fill="#3a4aa8"/><circle cx="325.5" cy="63.7" r="0.45" fill="#8a94d0"/><circle cx="318.0" cy="72.0" r="0.45" fill="#b8c0e8"/><circle cx="314.7" cy="98.6" r="0.45" fill="#5a68b8"/><circle cx="303.1" cy="76.0" r="0.45" fill="#5a68b8"/><circle cx="300.8" cy="94.5" r="0.45" fill="#5a68b8"/><circle cx="315.3" cy="59.0" r="0.45" fill="#dde2f6"/><circle cx="301.4" cy="111.4" r="0.45" fill="#b8c0e8"/><circle cx="313.8" cy="89.9" r="0.45" fill="#3a4aa8"/><circle cx="293.6" cy="98.5" r="0.45" fill="#3a4aa8"/><circle cx="321.9" cy="87.8" r="0.45" fill="#3a4aa8"/><circle cx="311.4" cy="61.5" r="0.45" fill="#b8c0e8"/><circle cx="317.6" cy="66.3" r="0.45" fill="#dde2f6"/><circle cx="292.5" cy="93.9" r="0.45" fill="#ffffff"/><circle cx="296.7" cy="94.9" r="0.45" fill="#dde2f6"/><circle cx="289.9" cy="109.5" r="0.45" fill="#5a68b8"/><circle cx="299.9" cy="82.6" r="0.45" fill="#3a4aa8"/><circle cx="306.4" cy="65.4" r="0.45" fill="#b8c0e8"/><circle cx="313.0" cy="94.0" r="0.45" fill="#5a68b8"/><circle cx="296.6" cy="100.2" r="0.45" fill="#ffffff"/><circle cx="317.7" cy="70.8" r="0.45" fill="#ffffff"/><circle cx="316.1" cy="73.7" r="0.45" fill="#3a4aa8"/><circle cx="317.2" cy="63.5" r="0.45" fill="#b8c0e8"/><circle cx="293.4" cy="94.7" r="0.45" fill="#8a94d0"/><circle cx="314.8" cy="85.4" r="0.45" fill="#dde2f6"/><circle cx="311.1" cy="55.5" r="0.45" fill="#8a94d0"/><circle cx="313.4" cy="64.2" r="0.45" fill="#8a94d0"/><circle cx="308.9" cy="95.8" r="0.45" fill="#3a4aa8"/><circle cx="313.7" cy="93.6" r="0.45" fill="#3a4aa8"/><circle cx="312.5" cy="107.4" r="0.45" fill="#8a94d0"/><circle cx="314.7" cy="65.5" r="0.45" fill="#3a4aa8"/><circle cx="320.7" cy="68.7" r="0.45" fill="#dde2f6"/><circle cx="299.0" cy="95.6" r="0.45" fill="#3a4aa8"/><circle cx="308.3" cy="72.2" r="0.45" fill="#dde2f6"/><circle cx="317.1" cy="83.1" r="0.45" fill="#b8c0e8"/><circle cx="319.8" cy="55.4" r="0.45" fill="#5a68b8"/><circle cx="306.6" cy="65.0" r="0.45" fill="#8a94d0"/><circle cx="315.0" cy="63.0" r="0.45" fill="#b8c0e8"/><circle cx="299.1" cy="79.6" r="0.45" fill="#3a4aa8"/><circle cx="317.0" cy="98.8" r="0.45" fill="#8a94d0"/><circle cx="301.5" cy="77.7" r="0.45" fill="#8a94d0"/><circle cx="312.7" cy="55.4" r="0.45" fill="#3a4aa8"/><circle cx="305.3" cy="90.1" r="0.45" fill="#b8c0e8"/><circle cx="312.8" cy="68.1" r="0.45" fill="#ffffff"/><circle cx="287.8" cy="97.5" r="0.45" fill="#8a94d0"/><circle cx="319.6" cy="77.1" r="0.45" fill="#dde2f6"/><circle cx="319.5" cy="57.3" r="0.45" fill="#ffffff"/><circle cx="322.4" cy="59.5" r="0.45" fill="#3a4aa8"/><circle cx="292.6" cy="98.5" r="0.45" fill="#b8c0e8"/><circle cx="304.0" cy="70.6" r="0.45" fill="#b8c0e8"/><circle cx="296.5" cy="96.9" r="0.45" fill="#b8c0e8"/><circle cx="306.1" cy="111.0" r="0.45" fill="#5a68b8"/><circle cx="312.1" cy="67.4" r="0.45" fill="#dde2f6"/><circle cx="305.8" cy="95.3" r="0.45" fill="#5a68b8"/><circle cx="317.9" cy="57.0" r="0.45" fill="#3a4aa8"/><circle cx="293.5" cy="111.1" r="0.45" fill="#8a94d0"/><circle cx="289.5" cy="101.6" r="0.45" fill="#b8c0e8"/><circle cx="323.4" cy="69.5" r="0.45" fill="#5a68b8"/><circle cx="292.5" cy="97.1" r="0.45" fill="#5a68b8"/><circle cx="303.7" cy="102.2" r="0.45" fill="#8a94d0"/><circle cx="323.8" cy="86.0" r="0.45" fill="#8a94d0"/><circle cx="312.2" cy="107.2" r="0.45" fill="#8a94d0"/><circle cx="327.8" cy="69.9" r="0.45" fill="#3a4aa8"/><circle cx="295.0" cy="107.9" r="0.45" fill="#dde2f6"/><circle cx="303.3" cy="90.0" r="0.45" fill="#8a94d0"/><circle cx="295.8" cy="108.5" r="0.45" fill="#8a94d0"/><circle cx="317.7" cy="97.8" r="0.45" fill="#b8c0e8"/><circle cx="321.5" cy="65.0" r="0.45" fill="#dde2f6"/><circle cx="314.4" cy="73.4" r="0.45" fill="#5a68b8"/><circle cx="322.7" cy="57.2" r="0.45" fill="#dde2f6"/><circle cx="309.1" cy="70.5" r="0.45" fill="#5a68b8"/><circle cx="321.9" cy="71.0" r="0.45" fill="#5a68b8"/><circle cx="324.5" cy="57.6" r="0.45" fill="#dde2f6"/><circle cx="315.4" cy="91.1" r="0.45" fill="#8a94d0"/><circle cx="286.9" cy="105.3" r="0.45" fill="#b8c0e8"/><circle cx="309.5" cy="78.3" r="0.45" fill="#ffffff"/><circle cx="300.1" cy="99.6" r="0.45" fill="#3a4aa8"/><circle cx="320.8" cy="63.3" r="0.45" fill="#5a68b8"/><circle cx="318.3" cy="61.5" r="0.45" fill="#3a4aa8"/><circle cx="305.6" cy="74.7" r="0.45" fill="#8a94d0"/><circle cx="298.7" cy="89.8" r="0.45" fill="#8a94d0"/><circle cx="325.2" cy="79.2" r="0.45" fill="#dde2f6"/><circle cx="298.8" cy="105.6" r="0.45" fill="#5a68b8"/><circle cx="310.7" cy="55.4" r="0.45" fill="#b8c0e8"/><circle cx="311.3" cy="102.6" r="0.45" fill="#5a68b8"/><circle cx="308.2" cy="80.1" r="0.45" fill="#8a94d0"/><circle cx="303.6" cy="106.0" r="0.45" fill="#dde2f6"/><circle cx="314.8" cy="62.1" r="0.45" fill="#3a4aa8"/><circle cx="290.4" cy="108.2" r="0.45" fill="#ffffff"/><circle cx="304.3" cy="95.4" r="0.45" fill="#3a4aa8"/><circle cx="308.4" cy="102.1" r="0.45" fill="#3a4aa8"/><circle cx="320.4" cy="71.8" r="0.45" fill="#b8c0e8"/><circle cx="294.8" cy="97.1" r="0.45" fill="#ffffff"/><circle cx="321.0" cy="62.8" r="0.45" fill="#dde2f6"/><circle cx="304.3" cy="73.4" r="0.45" fill="#3a4aa8"/><circle cx="299.6" cy="96.3" r="0.45" fill="#ffffff"/><circle cx="307.4" cy="92.1" r="0.45" fill="#ffffff"/><circle cx="291.2" cy="111.0" r="0.45" fill="#ffffff"/><circle cx="320.7" cy="60.5" r="0.45" fill="#b8c0e8"/><circle cx="301.1" cy="108.8" r="0.45" fill="#b8c0e8"/><circle cx="307.5" cy="107.2" r="0.45" fill="#5a68b8"/><circle cx="307.8" cy="109.4" r="0.45" fill="#5a68b8"/><circle cx="310.1" cy="57.9" r="0.45" fill="#dde2f6"/><circle cx="313.3" cy="101.0" r="0.45" fill="#3a4aa8"/><circle cx="303.9" cy="87.8" r="0.45" fill="#b8c0e8"/><circle cx="303.7" cy="82.0" r="0.45" fill="#b8c0e8"/><circle cx="317.2" cy="97.4" r="0.45" fill="#dde2f6"/><circle cx="308.1" cy="60.0" r="0.45" fill="#5a68b8"/><circle cx="312.0" cy="107.5" r="0.45" fill="#ffffff"/></g>
<g opacity="0.9"><circle cx="305.6" cy="71.2" r="0.5" fill="#ffffff"/><circle cx="306.7" cy="89.3" r="0.5" fill="#b8c0e8"/><circle cx="291.8" cy="98.4" r="0.5" fill="#b8c0e8"/><circle cx="296.0" cy="85.8" r="0.5" fill="#ffffff"/><circle cx="297.5" cy="87.2" r="0.5" fill="#b8c0e8"/><circle cx="298.4" cy="100.3" r="0.5" fill="#dde2f6"/><circle cx="316.4" cy="59.6" r="0.5" fill="#ffffff"/><circle cx="315.2" cy="54.7" r="0.5" fill="#dde2f6"/><circle cx="323.1" cy="58.7" r="0.5" fill="#ffffff"/><circle cx="292.5" cy="107.1" r="0.5" fill="#b8c0e8"/><circle cx="299.1" cy="90.6" r="0.5" fill="#dde2f6"/><circle cx="289.2" cy="95.6" r="0.5" fill="#ffffff"/><circle cx="322.8" cy="59.0" r="0.5" fill="#dde2f6"/><circle cx="311.3" cy="61.1" r="0.5" fill="#dde2f6"/><circle cx="296.1" cy="101.6" r="0.5" fill="#ffffff"/><circle cx="321.0" cy="52.4" r="0.5" fill="#ffffff"/><circle cx="296.3" cy="102.9" r="0.5" fill="#b8c0e8"/><circle cx="289.9" cy="97.5" r="0.5" fill="#dde2f6"/><circle cx="305.2" cy="80.5" r="0.5" fill="#dde2f6"/><circle cx="302.3" cy="91.0" r="0.5" fill="#dde2f6"/><circle cx="308.9" cy="63.1" r="0.5" fill="#dde2f6"/><circle cx="303.6" cy="88.9" r="0.5" fill="#ffffff"/><circle cx="297.1" cy="102.6" r="0.5" fill="#dde2f6"/><circle cx="304.4" cy="90.0" r="0.5" fill="#dde2f6"/><circle cx="298.2" cy="99.4" r="0.5" fill="#b8c0e8"/><circle cx="306.8" cy="77.5" r="0.5" fill="#ffffff"/><circle cx="289.5" cy="108.9" r="0.5" fill="#ffffff"/><circle cx="301.9" cy="82.4" r="0.5" fill="#ffffff"/><circle cx="312.3" cy="72.1" r="0.5" fill="#b8c0e8"/><circle cx="312.0" cy="59.7" r="0.5" fill="#ffffff"/><circle cx="322.7" cy="56.5" r="0.5" fill="#ffffff"/><circle cx="289.3" cy="100.8" r="0.5" fill="#ffffff"/><circle cx="303.1" cy="81.5" r="0.5" fill="#b8c0e8"/><circle cx="312.1" cy="53.1" r="0.5" fill="#dde2f6"/><circle cx="304.7" cy="86.8" r="0.5" fill="#dde2f6"/><circle cx="310.6" cy="62.5" r="0.5" fill="#b8c0e8"/><circle cx="315.4" cy="67.4" r="0.5" fill="#ffffff"/><circle cx="305.4" cy="69.7" r="0.5" fill="#b8c0e8"/><circle cx="308.1" cy="70.7" r="0.5" fill="#dde2f6"/><circle cx="290.5" cy="101.4" r="0.5" fill="#dde2f6"/><circle cx="316.6" cy="72.0" r="0.5" fill="#ffffff"/><circle cx="314.2" cy="68.1" r="0.5" fill="#b8c0e8"/><circle cx="321.0" cy="60.5" r="0.5" fill="#ffffff"/><circle cx="315.7" cy="61.3" r="0.5" fill="#b8c0e8"/><circle cx="314.5" cy="74.6" r="0.5" fill="#dde2f6"/><circle cx="302.6" cy="74.0" r="0.5" fill="#dde2f6"/><circle cx="300.0" cy="84.8" r="0.5" fill="#ffffff"/><circle cx="315.6" cy="53.5" r="0.5" fill="#b8c0e8"/><circle cx="310.0" cy="59.8" r="0.5" fill="#ffffff"/><circle cx="299.8" cy="87.8" r="0.5" fill="#dde2f6"/><circle cx="294.0" cy="108.5" r="0.5" fill="#dde2f6"/><circle cx="305.8" cy="77.3" r="0.5" fill="#dde2f6"/><circle cx="311.6" cy="78.7" r="0.5" fill="#ffffff"/><circle cx="303.7" cy="92.0" r="0.5" fill="#ffffff"/><circle cx="305.7" cy="71.1" r="0.5" fill="#dde2f6"/><circle cx="314.8" cy="70.4" r="0.5" fill="#dde2f6"/><circle cx="297.8" cy="93.1" r="0.5" fill="#ffffff"/><circle cx="296.2" cy="97.1" r="0.5" fill="#ffffff"/><circle cx="308.4" cy="77.9" r="0.5" fill="#dde2f6"/><circle cx="305.9" cy="85.5" r="0.5" fill="#dde2f6"/><circle cx="316.7" cy="62.2" r="0.5" fill="#ffffff"/><circle cx="294.2" cy="92.1" r="0.5" fill="#ffffff"/><circle cx="286.8" cy="103.2" r="0.5" fill="#ffffff"/><circle cx="321.6" cy="52.3" r="0.5" fill="#dde2f6"/><circle cx="286.1" cy="106.2" r="0.5" fill="#b8c0e8"/><circle cx="303.3" cy="70.7" r="0.5" fill="#dde2f6"/><circle cx="313.3" cy="75.6" r="0.5" fill="#b8c0e8"/><circle cx="287.3" cy="106.1" r="0.5" fill="#dde2f6"/><circle cx="285.9" cy="103.5" r="0.5" fill="#dde2f6"/><circle cx="306.9" cy="80.7" r="0.5" fill="#b8c0e8"/><circle cx="307.3" cy="82.9" r="0.5" fill="#b8c0e8"/><circle cx="304.3" cy="81.5" r="0.5" fill="#b8c0e8"/><circle cx="312.1" cy="76.0" r="0.5" fill="#b8c0e8"/><circle cx="295.3" cy="102.4" r="0.5" fill="#dde2f6"/><circle cx="291.3" cy="96.4" r="0.5" fill="#b8c0e8"/><circle cx="314.9" cy="58.2" r="0.5" fill="#b8c0e8"/><circle cx="319.4" cy="64.5" r="0.5" fill="#ffffff"/><circle cx="296.6" cy="96.3" r="0.5" fill="#b8c0e8"/><circle cx="291.1" cy="101.1" r="0.5" fill="#ffffff"/><circle cx="321.8" cy="55.1" r="0.5" fill="#b8c0e8"/><circle cx="301.5" cy="83.0" r="0.5" fill="#ffffff"/><circle cx="320.8" cy="51.9" r="0.5" fill="#ffffff"/><circle cx="290.2" cy="103.2" r="0.5" fill="#b8c0e8"/><circle cx="290.2" cy="106.4" r="0.5" fill="#b8c0e8"/><circle cx="304.5" cy="82.6" r="0.5" fill="#dde2f6"/><circle cx="293.1" cy="94.6" r="0.5" fill="#b8c0e8"/><circle cx="293.0" cy="88.6" r="0.5" fill="#b8c0e8"/><circle cx="316.2" cy="49.8" r="0.5" fill="#b8c0e8"/><circle cx="299.3" cy="96.9" r="0.5" fill="#ffffff"/><circle cx="294.1" cy="109.4" r="0.5" fill="#ffffff"/><circle cx="293.8" cy="86.9" r="0.5" fill="#ffffff"/><circle cx="304.4" cy="71.1" r="0.5" fill="#ffffff"/><circle cx="305.3" cy="72.1" r="0.5" fill="#ffffff"/><circle cx="304.5" cy="77.5" r="0.5" fill="#b8c0e8"/><circle cx="293.2" cy="105.7" r="0.5" fill="#dde2f6"/><circle cx="312.9" cy="54.4" r="0.5" fill="#b8c0e8"/><circle cx="304.8" cy="76.4" r="0.5" fill="#b8c0e8"/><circle cx="307.1" cy="74.3" r="0.5" fill="#b8c0e8"/><circle cx="295.2" cy="94.3" r="0.5" fill="#b8c0e8"/><circle cx="317.5" cy="54.0" r="0.5" fill="#b8c0e8"/><circle cx="297.1" cy="83.5" r="0.5" fill="#b8c0e8"/><circle cx="315.6" cy="54.6" r="0.5" fill="#ffffff"/><circle cx="301.5" cy="91.7" r="0.5" fill="#dde2f6"/><circle cx="304.3" cy="73.9" r="0.5" fill="#dde2f6"/><circle cx="289.9" cy="97.4" r="0.5" fill="#ffffff"/><circle cx="313.4" cy="64.2" r="0.5" fill="#ffffff"/><circle cx="317.8" cy="50.9" r="0.5" fill="#dde2f6"/><circle cx="307.3" cy="81.9" r="0.5" fill="#b8c0e8"/><circle cx="307.3" cy="68.0" r="0.5" fill="#dde2f6"/><circle cx="288.2" cy="96.3" r="0.5" fill="#dde2f6"/><circle cx="299.4" cy="76.5" r="0.5" fill="#dde2f6"/><circle cx="291.9" cy="98.3" r="0.5" fill="#b8c0e8"/><circle cx="319.1" cy="57.3" r="0.5" fill="#ffffff"/><circle cx="319.2" cy="52.8" r="0.5" fill="#b8c0e8"/><circle cx="302.1" cy="89.0" r="0.5" fill="#b8c0e8"/><circle cx="313.3" cy="72.8" r="0.5" fill="#dde2f6"/><circle cx="307.3" cy="85.9" r="0.5" fill="#ffffff"/><circle cx="306.3" cy="71.8" r="0.5" fill="#dde2f6"/><circle cx="288.5" cy="105.0" r="0.5" fill="#b8c0e8"/><circle cx="307.3" cy="76.9" r="0.5" fill="#b8c0e8"/><circle cx="299.5" cy="99.3" r="0.5" fill="#dde2f6"/><circle cx="316.2" cy="67.6" r="0.5" fill="#ffffff"/><circle cx="315.9" cy="57.4" r="0.5" fill="#dde2f6"/><circle cx="297.6" cy="80.6" r="0.5" fill="#b8c0e8"/><circle cx="293.0" cy="107.8" r="0.5" fill="#ffffff"/><circle cx="298.4" cy="98.1" r="0.5" fill="#dde2f6"/><circle cx="303.4" cy="90.4" r="0.5" fill="#b8c0e8"/><circle cx="317.7" cy="63.0" r="0.5" fill="#ffffff"/><circle cx="295.1" cy="99.4" r="0.5" fill="#b8c0e8"/><circle cx="320.8" cy="65.7" r="0.5" fill="#dde2f6"/><circle cx="300.2" cy="96.1" r="0.5" fill="#b8c0e8"/><circle cx="314.0" cy="66.9" r="0.5" fill="#b8c0e8"/><circle cx="313.6" cy="70.9" r="0.5" fill="#dde2f6"/><circle cx="307.7" cy="76.4" r="0.5" fill="#b8c0e8"/><circle cx="288.6" cy="108.9" r="0.5" fill="#dde2f6"/><circle cx="307.3" cy="72.4" r="0.5" fill="#b8c0e8"/><circle cx="312.9" cy="65.6" r="0.5" fill="#b8c0e8"/><circle cx="296.4" cy="93.5" r="0.5" fill="#dde2f6"/><circle cx="300.5" cy="80.2" r="0.5" fill="#dde2f6"/><circle cx="311.1" cy="70.3" r="0.5" fill="#dde2f6"/><circle cx="320.3" cy="62.0" r="0.5" fill="#ffffff"/><circle cx="307.0" cy="80.4" r="0.5" fill="#b8c0e8"/><circle cx="294.9" cy="98.4" r="0.5" fill="#dde2f6"/><circle cx="313.8" cy="72.1" r="0.5" fill="#dde2f6"/><circle cx="309.2" cy="67.9" r="0.5" fill="#dde2f6"/><circle cx="305.7" cy="66.1" r="0.5" fill="#ffffff"/><circle cx="322.3" cy="60.7" r="0.5" fill="#b8c0e8"/><circle cx="300.3" cy="86.5" r="0.5" fill="#b8c0e8"/><circle cx="293.2" cy="96.0" r="0.5" fill="#dde2f6"/><circle cx="308.6" cy="80.4" r="0.5" fill="#dde2f6"/><circle cx="303.3" cy="85.4" r="0.5" fill="#dde2f6"/><circle cx="308.6" cy="66.2" r="0.5" fill="#b8c0e8"/><circle cx="315.3" cy="66.1" r="0.5" fill="#ffffff"/><circle cx="306.7" cy="72.1" r="0.5" fill="#ffffff"/><circle cx="290.9" cy="98.9" r="0.5" fill="#b8c0e8"/><circle cx="292.6" cy="99.3" r="0.5" fill="#ffffff"/><circle cx="289.9" cy="109.1" r="0.5" fill="#dde2f6"/><circle cx="313.4" cy="57.9" r="0.5" fill="#ffffff"/><circle cx="309.9" cy="62.1" r="0.5" fill="#b8c0e8"/><circle cx="290.0" cy="97.3" r="0.5" fill="#dde2f6"/><circle cx="299.8" cy="82.5" r="0.5" fill="#dde2f6"/><circle cx="291.4" cy="93.2" r="0.5" fill="#dde2f6"/><circle cx="299.6" cy="89.5" r="0.5" fill="#dde2f6"/><circle cx="308.2" cy="82.3" r="0.5" fill="#ffffff"/><circle cx="298.2" cy="88.3" r="0.5" fill="#b8c0e8"/><circle cx="304.7" cy="69.6" r="0.5" fill="#ffffff"/><circle cx="294.5" cy="95.8" r="0.5" fill="#b8c0e8"/><circle cx="304.9" cy="86.4" r="0.5" fill="#dde2f6"/><circle cx="319.3" cy="57.0" r="0.5" fill="#b8c0e8"/><circle cx="303.2" cy="81.4" r="0.5" fill="#b8c0e8"/><circle cx="311.3" cy="77.2" r="0.5" fill="#ffffff"/><circle cx="294.5" cy="106.8" r="0.5" fill="#b8c0e8"/><circle cx="317.6" cy="52.8" r="0.5" fill="#dde2f6"/><circle cx="317.6" cy="67.6" r="0.5" fill="#ffffff"/><circle cx="316.5" cy="62.4" r="0.5" fill="#ffffff"/><circle cx="317.6" cy="59.8" r="0.5" fill="#dde2f6"/><circle cx="286.9" cy="102.5" r="0.5" fill="#dde2f6"/><circle cx="313.9" cy="60.0" r="0.5" fill="#dde2f6"/><circle cx="322.1" cy="56.9" r="0.5" fill="#dde2f6"/><circle cx="311.8" cy="57.5" r="0.5" fill="#ffffff"/><circle cx="319.6" cy="65.8" r="0.5" fill="#ffffff"/><circle cx="298.1" cy="81.1" r="0.5" fill="#dde2f6"/><circle cx="287.2" cy="97.2" r="0.5" fill="#b8c0e8"/><circle cx="323.9" cy="61.1" r="0.5" fill="#dde2f6"/><circle cx="306.8" cy="84.0" r="0.5" fill="#ffffff"/><circle cx="312.3" cy="63.8" r="0.5" fill="#b8c0e8"/><circle cx="320.0" cy="54.0" r="0.5" fill="#b8c0e8"/><circle cx="302.0" cy="86.0" r="0.5" fill="#b8c0e8"/><circle cx="314.3" cy="70.7" r="0.5" fill="#dde2f6"/><circle cx="296.9" cy="89.3" r="0.5" fill="#b8c0e8"/><circle cx="308.1" cy="67.8" r="0.5" fill="#ffffff"/><circle cx="301.4" cy="82.1" r="0.5" fill="#dde2f6"/><circle cx="290.9" cy="110.6" r="0.5" fill="#b8c0e8"/><circle cx="303.7" cy="86.4" r="0.5" fill="#dde2f6"/><circle cx="298.5" cy="102.0" r="0.5" fill="#dde2f6"/><circle cx="309.3" cy="67.8" r="0.5" fill="#dde2f6"/><circle cx="289.0" cy="97.6" r="0.5" fill="#dde2f6"/><circle cx="312.3" cy="58.4" r="0.5" fill="#b8c0e8"/><circle cx="292.9" cy="109.7" r="0.5" fill="#ffffff"/><circle cx="318.6" cy="66.4" r="0.5" fill="#b8c0e8"/><circle cx="305.4" cy="91.1" r="0.5" fill="#dde2f6"/><circle cx="316.8" cy="55.1" r="0.5" fill="#dde2f6"/><circle cx="315.7" cy="71.8" r="0.5" fill="#dde2f6"/><circle cx="287.9" cy="105.2" r="0.5" fill="#b8c0e8"/><circle cx="314.5" cy="76.6" r="0.5" fill="#ffffff"/><circle cx="292.9" cy="108.2" r="0.5" fill="#ffffff"/><circle cx="309.1" cy="57.2" r="0.5" fill="#dde2f6"/><circle cx="296.0" cy="92.9" r="0.5" fill="#dde2f6"/><circle cx="294.9" cy="95.7" r="0.5" fill="#b8c0e8"/><circle cx="291.5" cy="104.1" r="0.5" fill="#dde2f6"/><circle cx="299.0" cy="85.0" r="0.5" fill="#b8c0e8"/><circle cx="314.6" cy="70.1" r="0.5" fill="#ffffff"/><circle cx="309.7" cy="84.4" r="0.5" fill="#b8c0e8"/><circle cx="304.8" cy="83.7" r="0.5" fill="#dde2f6"/><circle cx="309.1" cy="80.3" r="0.5" fill="#b8c0e8"/><circle cx="303.4" cy="81.8" r="0.5" fill="#b8c0e8"/><circle cx="302.3" cy="96.0" r="0.5" fill="#dde2f6"/><circle cx="313.3" cy="59.6" r="0.5" fill="#b8c0e8"/><circle cx="299.6" cy="86.5" r="0.5" fill="#dde2f6"/><circle cx="291.1" cy="100.1" r="0.5" fill="#ffffff"/><circle cx="285.7" cy="103.9" r="0.5" fill="#ffffff"/><circle cx="299.7" cy="83.4" r="0.5" fill="#b8c0e8"/><circle cx="308.7" cy="78.4" r="0.5" fill="#b8c0e8"/><circle cx="311.6" cy="70.6" r="0.5" fill="#b8c0e8"/><circle cx="308.8" cy="65.1" r="0.5" fill="#ffffff"/><circle cx="320.0" cy="64.9" r="0.5" fill="#dde2f6"/><circle cx="321.8" cy="54.0" r="0.5" fill="#ffffff"/><circle cx="323.5" cy="52.3" r="0.5" fill="#ffffff"/><circle cx="300.3" cy="75.2" r="0.5" fill="#ffffff"/><circle cx="293.4" cy="93.0" r="0.5" fill="#dde2f6"/><circle cx="313.7" cy="63.5" r="0.5" fill="#dde2f6"/><circle cx="311.2" cy="55.9" r="0.5" fill="#dde2f6"/><circle cx="301.9" cy="77.8" r="0.5" fill="#ffffff"/><circle cx="295.6" cy="100.5" r="0.5" fill="#b8c0e8"/><circle cx="323.3" cy="54.0" r="0.5" fill="#dde2f6"/><circle cx="290.9" cy="105.0" r="0.5" fill="#ffffff"/><circle cx="307.5" cy="80.8" r="0.5" fill="#dde2f6"/><circle cx="305.9" cy="74.8" r="0.5" fill="#dde2f6"/><circle cx="314.1" cy="61.1" r="0.5" fill="#ffffff"/><circle cx="323.0" cy="52.3" r="0.5" fill="#ffffff"/><circle cx="314.9" cy="49.4" r="0.5" fill="#ffffff"/><circle cx="305.2" cy="86.9" r="0.5" fill="#b8c0e8"/><circle cx="291.8" cy="102.9" r="0.5" fill="#b8c0e8"/><circle cx="288.8" cy="106.2" r="0.5" fill="#dde2f6"/><circle cx="310.4" cy="59.3" r="0.5" fill="#dde2f6"/><circle cx="313.4" cy="49.0" r="0.5" fill="#b8c0e8"/><circle cx="300.4" cy="91.9" r="0.5" fill="#ffffff"/><circle cx="288.7" cy="93.8" r="0.5" fill="#b8c0e8"/><circle cx="290.4" cy="106.3" r="0.5" fill="#b8c0e8"/><circle cx="300.3" cy="90.4" r="0.5" fill="#ffffff"/><circle cx="300.1" cy="78.4" r="0.5" fill="#ffffff"/><circle cx="317.8" cy="53.3" r="0.5" fill="#ffffff"/><circle cx="309.3" cy="72.4" r="0.5" fill="#dde2f6"/><circle cx="323.5" cy="57.3" r="0.5" fill="#dde2f6"/><circle cx="298.7" cy="87.3" r="0.5" fill="#b8c0e8"/><circle cx="293.3" cy="87.8" r="0.5" fill="#dde2f6"/><circle cx="314.5" cy="61.3" r="0.5" fill="#ffffff"/><circle cx="303.9" cy="83.1" r="0.5" fill="#dde2f6"/><circle cx="292.1" cy="104.9" r="0.5" fill="#b8c0e8"/><circle cx="291.5" cy="91.7" r="0.5" fill="#b8c0e8"/></g>
<g opacity="1"><circle cx="281.5" cy="92.2" r="0.55" fill="#333"/><circle cx="277.9" cy="96.8" r="0.55" fill="#1f2d8c"/><circle cx="278.5" cy="98.0" r="0.55" fill="#101a60"/><circle cx="277.8" cy="96.5" r="0.55" fill="#333"/><circle cx="281.8" cy="102.6" r="0.55" fill="#1f2d8c"/><circle cx="279.8" cy="91.9" r="0.55" fill="#333"/><circle cx="280.4" cy="96.4" r="0.55" fill="#101a60"/><circle cx="278.6" cy="89.5" r="0.55" fill="#1f2d8c"/><circle cx="281.0" cy="94.0" r="0.55" fill="#101a60"/><circle cx="278.7" cy="91.4" r="0.55" fill="#101a60"/><circle cx="279.2" cy="89.5" r="0.55" fill="#1f2d8c"/><circle cx="281.0" cy="97.1" r="0.55" fill="#101a60"/><circle cx="280.6" cy="102.6" r="0.55" fill="#1f2d8c"/><circle cx="278.6" cy="101.3" r="0.55" fill="#1f2d8c"/><circle cx="278.5" cy="92.6" r="0.55" fill="#101a60"/><circle cx="278.9" cy="102.0" r="0.55" fill="#333"/><circle cx="279.9" cy="96.9" r="0.55" fill="#1f2d8c"/><circle cx="281.6" cy="93.6" r="0.55" fill="#1f2d8c"/><circle cx="280.1" cy="93.8" r="0.55" fill="#1f2d8c"/><circle cx="278.2" cy="103.0" r="0.55" fill="#333"/><circle cx="281.9" cy="102.1" r="0.55" fill="#1f2d8c"/><circle cx="281.2" cy="102.0" r="0.55" fill="#1f2d8c"/></g>
<g opacity="1"><circle cx="283.7" cy="53.4" r="0.5" fill="#444"/><circle cx="282.1" cy="59.7" r="0.5" fill="#333"/><circle cx="278.4" cy="58.1" r="0.5" fill="#333"/><circle cx="284.0" cy="57.2" r="0.5" fill="#666"/><circle cx="281.0" cy="51.3" r="0.5" fill="#666"/><circle cx="283.9" cy="51.9" r="0.5" fill="#333"/><circle cx="285.9" cy="48.1" r="0.5" fill="#222"/><circle cx="281.8" cy="58.2" r="0.5" fill="#333"/><circle cx="286.0" cy="52.0" r="0.5" fill="#888"/><circle cx="282.5" cy="51.5" r="0.5" fill="#222"/><circle cx="283.0" cy="52.5" r="0.5" fill="#888"/><circle cx="289.9" cy="49.8" r="0.5" fill="#666"/><circle cx="284.3" cy="53.7" r="0.5" fill="#888"/><circle cx="291.1" cy="49.7" r="0.5" fill="#666"/><circle cx="279.0" cy="56.3" r="0.5" fill="#333"/><circle cx="282.2" cy="54.6" r="0.5" fill="#222"/><circle cx="288.5" cy="51.7" r="0.5" fill="#444"/><circle cx="282.4" cy="55.4" r="0.5" fill="#888"/><circle cx="277.7" cy="55.1" r="0.5" fill="#333"/><circle cx="282.8" cy="51.6" r="0.5" fill="#888"/><circle cx="281.9" cy="58.8" r="0.5" fill="#666"/><circle cx="280.1" cy="53.0" r="0.5" fill="#444"/><circle cx="280.7" cy="58.3" r="0.5" fill="#222"/><circle cx="280.3" cy="51.0" r="0.5" fill="#444"/><circle cx="279.2" cy="53.0" r="0.5" fill="#222"/><circle cx="283.3" cy="57.8" r="0.5" fill="#888"/><circle cx="283.1" cy="59.7" r="0.5" fill="#444"/><circle cx="282.4" cy="51.2" r="0.5" fill="#222"/><circle cx="286.4" cy="51.1" r="0.5" fill="#666"/><circle cx="282.5" cy="57.6" r="0.5" fill="#444"/><circle cx="283.3" cy="57.3" r="0.5" fill="#444"/><circle cx="275.4" cy="67.9" r="0.5" fill="#666"/><circle cx="280.1" cy="56.4" r="0.5" fill="#666"/><circle cx="281.8" cy="51.3" r="0.5" fill="#444"/><circle cx="286.6" cy="53.2" r="0.5" fill="#888"/><circle cx="284.3" cy="59.2" r="0.5" fill="#444"/><circle cx="285.7" cy="47.8" r="0.5" fill="#222"/><circle cx="283.1" cy="50.5" r="0.5" fill="#888"/><circle cx="282.8" cy="58.3" r="0.5" fill="#444"/><circle cx="281.1" cy="54.0" r="0.5" fill="#666"/><circle cx="283.9" cy="57.7" r="0.5" fill="#444"/><circle cx="281.8" cy="55.4" r="0.5" fill="#888"/><circle cx="281.5" cy="54.1" r="0.5" fill="#444"/><circle cx="285.8" cy="53.1" r="0.5" fill="#444"/><circle cx="280.2" cy="65.5" r="0.5" fill="#333"/><circle cx="284.3" cy="51.8" r="0.5" fill="#222"/><circle cx="285.0" cy="55.4" r="0.5" fill="#666"/><circle cx="286.7" cy="48.6" r="0.5" fill="#333"/><circle cx="278.4" cy="56.1" r="0.5" fill="#333"/><circle cx="281.8" cy="56.3" r="0.5" fill="#333"/><circle cx="284.6" cy="48.2" r="0.5" fill="#222"/><circle cx="284.9" cy="55.2" r="0.5" fill="#888"/><circle cx="275.9" cy="60.0" r="0.5" fill="#222"/><circle cx="279.3" cy="52.4" r="0.5" fill="#888"/><circle cx="277.9" cy="54.8" r="0.5" fill="#333"/><circle cx="275.3" cy="63.4" r="0.5" fill="#888"/><circle cx="285.0" cy="54.7" r="0.5" fill="#888"/><circle cx="282.3" cy="54.4" r="0.5" fill="#888"/><circle cx="276.6" cy="58.0" r="0.5" fill="#222"/><circle cx="280.8" cy="55.6" r="0.5" fill="#666"/><circle cx="280.2" cy="58.9" r="0.5" fill="#222"/><circle cx="286.9" cy="45.4" r="0.5" fill="#444"/><circle cx="279.8" cy="68.2" r="0.5" fill="#666"/><circle cx="284.6" cy="46.7" r="0.5" fill="#888"/><circle cx="287.7" cy="53.7" r="0.5" fill="#666"/><circle cx="287.7" cy="52.4" r="0.5" fill="#333"/><circle cx="278.8" cy="58.7" r="0.5" fill="#444"/><circle cx="278.0" cy="59.7" r="0.5" fill="#888"/><circle cx="284.0" cy="51.9" r="0.5" fill="#222"/><circle cx="284.5" cy="59.3" r="0.5" fill="#444"/><circle cx="283.9" cy="53.4" r="0.5" fill="#333"/><circle cx="281.9" cy="50.4" r="0.5" fill="#444"/><circle cx="282.2" cy="50.1" r="0.5" fill="#444"/><circle cx="282.3" cy="55.4" r="0.5" fill="#222"/><circle cx="285.1" cy="49.7" r="0.5" fill="#444"/><circle cx="283.3" cy="54.5" r="0.5" fill="#333"/><circle cx="279.2" cy="58.4" r="0.5" fill="#444"/><circle cx="283.1" cy="52.7" r="0.5" fill="#222"/><circle cx="282.2" cy="56.8" r="0.5" fill="#888"/><circle cx="279.9" cy="59.0" r="0.5" fill="#333"/><circle cx="279.6" cy="54.8" r="0.5" fill="#333"/><circle cx="288.5" cy="49.2" r="0.5" fill="#333"/><circle cx="284.4" cy="46.9" r="0.5" fill="#666"/><circle cx="286.6" cy="51.9" r="0.5" fill="#666"/><circle cx="281.1" cy="53.8" r="0.5" fill="#666"/><circle cx="276.0" cy="60.1" r="0.5" fill="#333"/><circle cx="276.3" cy="58.8" r="0.5" fill="#333"/><circle cx="279.4" cy="64.2" r="0.5" fill="#888"/><circle cx="284.9" cy="50.1" r="0.5" fill="#666"/><circle cx="277.9" cy="58.9" r="0.5" fill="#222"/><circle cx="279.9" cy="60.4" r="0.5" fill="#333"/><circle cx="287.3" cy="50.8" r="0.5" fill="#222"/><circle cx="287.6" cy="58.7" r="0.5" fill="#666"/><circle cx="286.7" cy="48.7" r="0.5" fill="#222"/><circle cx="286.1" cy="59.4" r="0.5" fill="#333"/><circle cx="286.3" cy="52.9" r="0.5" fill="#888"/><circle cx="281.8" cy="59.4" r="0.5" fill="#333"/><circle cx="283.3" cy="58.9" r="0.5" fill="#666"/><circle cx="279.5" cy="56.2" r="0.5" fill="#333"/><circle cx="280.0" cy="57.9" r="0.5" fill="#333"/><circle cx="282.1" cy="54.1" r="0.5" fill="#222"/><circle cx="283.9" cy="50.8" r="0.5" fill="#333"/><circle cx="281.3" cy="55.2" r="0.5" fill="#666"/><circle cx="282.0" cy="54.2" r="0.5" fill="#666"/><circle cx="284.0" cy="52.7" r="0.5" fill="#333"/><circle cx="275.8" cy="60.4" r="0.5" fill="#333"/><circle cx="283.3" cy="52.9" r="0.5" fill="#888"/><circle cx="279.9" cy="57.0" r="0.5" fill="#444"/><circle cx="278.3" cy="58.9" r="0.5" fill="#444"/><circle cx="282.5" cy="52.9" r="0.5" fill="#444"/><circle cx="283.2" cy="52.9" r="0.5" fill="#333"/><circle cx="287.8" cy="48.9" r="0.5" fill="#444"/><circle cx="277.4" cy="59.0" r="0.5" fill="#888"/><circle cx="281.8" cy="50.8" r="0.5" fill="#666"/><circle cx="284.9" cy="49.6" r="0.5" fill="#333"/><circle cx="283.1" cy="60.8" r="0.5" fill="#666"/><circle cx="277.0" cy="56.7" r="0.5" fill="#888"/><circle cx="280.9" cy="55.5" r="0.5" fill="#888"/><circle cx="281.3" cy="54.8" r="0.5" fill="#444"/><circle cx="280.9" cy="55.5" r="0.5" fill="#444"/><circle cx="287.6" cy="52.6" r="0.5" fill="#888"/><circle cx="279.1" cy="64.9" r="0.5" fill="#444"/><circle cx="284.0" cy="51.0" r="0.5" fill="#888"/><circle cx="284.2" cy="51.3" r="0.5" fill="#666"/><circle cx="278.9" cy="52.9" r="0.5" fill="#333"/><circle cx="288.9" cy="47.2" r="0.5" fill="#888"/><circle cx="278.1" cy="56.2" r="0.5" fill="#444"/><circle cx="281.4" cy="52.7" r="0.5" fill="#222"/><circle cx="283.0" cy="52.6" r="0.5" fill="#444"/><circle cx="279.5" cy="59.9" r="0.5" fill="#444"/><circle cx="280.7" cy="58.5" r="0.5" fill="#444"/><circle cx="282.1" cy="53.5" r="0.5" fill="#222"/><circle cx="276.9" cy="61.5" r="0.5" fill="#888"/><circle cx="284.7" cy="55.8" r="0.5" fill="#222"/><circle cx="286.4" cy="52.6" r="0.5" fill="#333"/><circle cx="277.9" cy="65.5" r="0.5" fill="#222"/><circle cx="281.4" cy="54.7" r="0.5" fill="#888"/><circle cx="285.7" cy="58.0" r="0.5" fill="#888"/><circle cx="278.2" cy="60.0" r="0.5" fill="#222"/><circle cx="284.6" cy="48.2" r="0.5" fill="#333"/><circle cx="280.6" cy="54.6" r="0.5" fill="#333"/><circle cx="286.5" cy="55.1" r="0.5" fill="#333"/><circle cx="280.7" cy="57.0" r="0.5" fill="#666"/><circle cx="281.5" cy="49.5" r="0.5" fill="#333"/><circle cx="280.2" cy="56.5" r="0.5" fill="#222"/><circle cx="278.3" cy="54.6" r="0.5" fill="#888"/><circle cx="282.9" cy="53.5" r="0.5" fill="#666"/><circle cx="283.4" cy="53.7" r="0.5" fill="#888"/><circle cx="282.9" cy="48.1" r="0.5" fill="#333"/><circle cx="281.5" cy="52.2" r="0.5" fill="#222"/><circle cx="279.9" cy="51.5" r="0.5" fill="#444"/><circle cx="279.8" cy="54.8" r="0.5" fill="#666"/><circle cx="276.7" cy="60.1" r="0.5" fill="#222"/><circle cx="281.9" cy="56.6" r="0.5" fill="#333"/><circle cx="280.2" cy="51.1" r="0.5" fill="#888"/><circle cx="286.6" cy="45.5" r="0.5" fill="#888"/><circle cx="282.0" cy="52.4" r="0.5" fill="#222"/><circle cx="281.3" cy="52.9" r="0.5" fill="#888"/><circle cx="285.9" cy="53.4" r="0.5" fill="#333"/><circle cx="279.8" cy="60.9" r="0.5" fill="#444"/><circle cx="282.0" cy="50.9" r="0.5" fill="#888"/><circle cx="284.6" cy="58.3" r="0.5" fill="#888"/><circle cx="287.2" cy="51.8" r="0.5" fill="#222"/><circle cx="284.7" cy="51.7" r="0.5" fill="#666"/><circle cx="283.1" cy="58.6" r="0.5" fill="#444"/><circle cx="277.2" cy="58.0" r="0.5" fill="#666"/><circle cx="278.8" cy="62.9" r="0.5" fill="#222"/><circle cx="282.2" cy="56.5" r="0.5" fill="#888"/><circle cx="279.4" cy="59.8" r="0.5" fill="#888"/><circle cx="276.2" cy="64.0" r="0.5" fill="#888"/><circle cx="279.1" cy="64.6" r="0.5" fill="#222"/><circle cx="282.0" cy="56.5" r="0.5" fill="#333"/><circle cx="278.3" cy="58.4" r="0.5" fill="#444"/><circle cx="280.7" cy="60.7" r="0.5" fill="#444"/><circle cx="284.8" cy="53.4" r="0.5" fill="#333"/><circle cx="289.2" cy="55.1" r="0.5" fill="#333"/><circle cx="278.8" cy="56.8" r="0.5" fill="#222"/><circle cx="280.4" cy="53.5" r="0.5" fill="#666"/><circle cx="287.2" cy="53.9" r="0.5" fill="#444"/><circle cx="280.7" cy="58.5" r="0.5" fill="#333"/><circle cx="279.7" cy="54.3" r="0.5" fill="#333"/><circle cx="280.8" cy="57.0" r="0.5" fill="#222"/><circle cx="284.7" cy="51.3" r="0.5" fill="#888"/><circle cx="277.9" cy="59.6" r="0.5" fill="#666"/><circle cx="280.9" cy="56.7" r="0.5" fill="#666"/><circle cx="286.5" cy="46.2" r="0.5" fill="#333"/><circle cx="285.9" cy="50.7" r="0.5" fill="#333"/><circle cx="291.7" cy="45.0" r="0.5" fill="#666"/><circle cx="283.7" cy="47.4" r="0.5" fill="#222"/><circle cx="281.4" cy="59.2" r="0.5" fill="#444"/><circle cx="282.9" cy="61.8" r="0.5" fill="#666"/><circle cx="284.4" cy="54.3" r="0.5" fill="#333"/><circle cx="286.1" cy="49.1" r="0.5" fill="#222"/><circle cx="279.9" cy="60.3" r="0.5" fill="#444"/><circle cx="287.2" cy="50.4" r="0.5" fill="#333"/><circle cx="282.1" cy="50.4" r="0.5" fill="#222"/><circle cx="289.4" cy="51.0" r="0.5" fill="#444"/><circle cx="281.3" cy="57.8" r="0.5" fill="#222"/><circle cx="287.1" cy="60.2" r="0.5" fill="#333"/><circle cx="284.7" cy="55.8" r="0.5" fill="#333"/><circle cx="284.7" cy="51.4" r="0.5" fill="#666"/><circle cx="288.0" cy="58.4" r="0.5" fill="#222"/><circle cx="284.8" cy="56.6" r="0.5" fill="#444"/><circle cx="280.9" cy="50.6" r="0.5" fill="#444"/><circle cx="285.6" cy="50.3" r="0.5" fill="#888"/><circle cx="282.4" cy="52.5" r="0.5" fill="#444"/><circle cx="278.0" cy="64.7" r="0.5" fill="#333"/><circle cx="278.8" cy="57.8" r="0.5" fill="#666"/><circle cx="283.0" cy="55.5" r="0.5" fill="#444"/><circle cx="285.5" cy="57.1" r="0.5" fill="#222"/><circle cx="282.8" cy="59.0" r="0.5" fill="#888"/><circle cx="281.1" cy="57.5" r="0.5" fill="#888"/><circle cx="283.1" cy="55.2" r="0.5" fill="#888"/><circle cx="283.7" cy="52.9" r="0.5" fill="#888"/><circle cx="283.9" cy="47.3" r="0.5" fill="#888"/><circle cx="282.5" cy="53.8" r="0.5" fill="#444"/><circle cx="289.3" cy="49.5" r="0.5" fill="#888"/><circle cx="279.5" cy="57.0" r="0.5" fill="#222"/><circle cx="278.7" cy="57.9" r="0.5" fill="#888"/><circle cx="280.1" cy="58.6" r="0.5" fill="#444"/><circle cx="291.4" cy="49.0" r="0.5" fill="#333"/><circle cx="284.0" cy="49.1" r="0.5" fill="#333"/><circle cx="294.4" cy="48.5" r="0.5" fill="#444"/><circle cx="283.0" cy="57.5" r="0.5" fill="#444"/><circle cx="282.8" cy="48.2" r="0.5" fill="#444"/><circle cx="276.5" cy="60.8" r="0.5" fill="#888"/><circle cx="280.4" cy="56.6" r="0.5" fill="#333"/><circle cx="284.0" cy="49.7" r="0.5" fill="#333"/><circle cx="285.5" cy="51.0" r="0.5" fill="#222"/><circle cx="279.8" cy="60.3" r="0.5" fill="#333"/><circle cx="286.6" cy="51.9" r="0.5" fill="#333"/><circle cx="284.4" cy="46.9" r="0.5" fill="#222"/><circle cx="285.4" cy="53.3" r="0.5" fill="#888"/><circle cx="281.2" cy="55.6" r="0.5" fill="#666"/><circle cx="277.3" cy="60.1" r="0.5" fill="#333"/><circle cx="281.9" cy="58.9" r="0.5" fill="#333"/><circle cx="284.2" cy="51.1" r="0.5" fill="#666"/><circle cx="282.6" cy="56.0" r="0.5" fill="#666"/><circle cx="281.4" cy="52.5" r="0.5" fill="#333"/><circle cx="285.3" cy="53.4" r="0.5" fill="#888"/><circle cx="284.4" cy="53.7" r="0.5" fill="#444"/><circle cx="284.4" cy="54.8" r="0.5" fill="#333"/><circle cx="281.9" cy="49.7" r="0.5" fill="#888"/><circle cx="278.8" cy="53.1" r="0.5" fill="#333"/><circle cx="283.0" cy="50.1" r="0.5" fill="#333"/><circle cx="282.8" cy="56.0" r="0.5" fill="#333"/><circle cx="282.2" cy="51.3" r="0.5" fill="#444"/><circle cx="280.7" cy="61.3" r="0.5" fill="#444"/><circle cx="283.1" cy="54.2" r="0.5" fill="#444"/><circle cx="283.1" cy="47.9" r="0.5" fill="#333"/><circle cx="279.0" cy="60.3" r="0.5" fill="#222"/><circle cx="286.2" cy="50.1" r="0.5" fill="#666"/><circle cx="283.4" cy="57.2" r="0.5" fill="#444"/><circle cx="281.7" cy="58.2" r="0.5" fill="#888"/><circle cx="283.2" cy="50.8" r="0.5" fill="#444"/><circle cx="282.8" cy="58.3" r="0.5" fill="#888"/><circle cx="282.1" cy="57.4" r="0.5" fill="#666"/><circle cx="288.2" cy="44.9" r="0.5" fill="#444"/><circle cx="281.9" cy="58.2" r="0.5" fill="#666"/><circle cx="283.9" cy="50.2" r="0.5" fill="#666"/><circle cx="286.7" cy="49.2" r="0.5" fill="#222"/><circle cx="281.5" cy="58.1" r="0.5" fill="#444"/><circle cx="278.2" cy="59.0" r="0.5" fill="#222"/><circle cx="278.9" cy="62.0" r="0.5" fill="#666"/><circle cx="283.7" cy="55.7" r="0.5" fill="#222"/><circle cx="281.0" cy="56.1" r="0.5" fill="#333"/><circle cx="286.7" cy="48.5" r="0.5" fill="#333"/><circle cx="286.9" cy="51.6" r="0.5" fill="#666"/><circle cx="285.0" cy="61.1" r="0.5" fill="#333"/><circle cx="281.1" cy="60.4" r="0.5" fill="#333"/><circle cx="283.4" cy="52.2" r="0.5" fill="#333"/><circle cx="286.2" cy="50.9" r="0.5" fill="#444"/><circle cx="277.2" cy="62.0" r="0.5" fill="#666"/><circle cx="280.1" cy="55.9" r="0.5" fill="#666"/><circle cx="289.5" cy="51.0" r="0.5" fill="#333"/><circle cx="284.5" cy="51.6" r="0.5" fill="#222"/><circle cx="283.5" cy="54.7" r="0.5" fill="#444"/><circle cx="282.3" cy="54.2" r="0.5" fill="#444"/><circle cx="286.4" cy="52.7" r="0.5" fill="#888"/><circle cx="279.1" cy="58.5" r="0.5" fill="#333"/><circle cx="285.1" cy="52.4" r="0.5" fill="#333"/><circle cx="283.5" cy="58.0" r="0.5" fill="#444"/><circle cx="276.8" cy="60.8" r="0.5" fill="#333"/><circle cx="285.5" cy="46.3" r="0.5" fill="#222"/><circle cx="285.0" cy="52.9" r="0.5" fill="#666"/><circle cx="281.8" cy="57.1" r="0.5" fill="#666"/><circle cx="277.4" cy="61.2" r="0.5" fill="#333"/><circle cx="283.8" cy="53.1" r="0.5" fill="#888"/><circle cx="277.7" cy="60.7" r="0.5" fill="#222"/><circle cx="280.8" cy="62.3" r="0.5" fill="#222"/><circle cx="280.3" cy="51.8" r="0.5" fill="#666"/><circle cx="282.1" cy="58.4" r="0.5" fill="#666"/><circle cx="276.4" cy="59.5" r="0.5" fill="#888"/><circle cx="279.0" cy="60.1" r="0.5" fill="#444"/><circle cx="281.1" cy="55.2" r="0.5" fill="#666"/><circle cx="283.1" cy="55.5" r="0.5" fill="#888"/><circle cx="278.4" cy="60.4" r="0.5" fill="#333"/><circle cx="284.6" cy="46.7" r="0.5" fill="#888"/><circle cx="284.1" cy="47.5" r="0.5" fill="#444"/><circle cx="284.1" cy="54.0" r="0.5" fill="#666"/><circle cx="290.3" cy="62.1" r="0.5" fill="#333"/><circle cx="287.4" cy="65.7" r="0.5" fill="#888"/><circle cx="289.6" cy="66.1" r="0.5" fill="#222"/><circle cx="281.2" cy="66.1" r="0.5" fill="#222"/><circle cx="284.0" cy="66.1" r="0.5" fill="#444"/><circle cx="292.4" cy="54.2" r="0.5" fill="#222"/><circle cx="289.2" cy="60.5" r="0.5" fill="#888"/><circle cx="294.8" cy="47.1" r="0.5" fill="#222"/><circle cx="284.8" cy="72.2" r="0.5" fill="#222"/><circle cx="286.8" cy="71.8" r="0.5" fill="#666"/><circle cx="297.3" cy="58.3" r="0.5" fill="#222"/><circle cx="288.3" cy="62.2" r="0.5" fill="#444"/><circle cx="287.8" cy="61.4" r="0.5" fill="#444"/><circle cx="277.4" cy="62.5" r="0.5" fill="#666"/><circle cx="292.0" cy="65.2" r="0.5" fill="#444"/><circle cx="294.2" cy="48.1" r="0.5" fill="#444"/><circle cx="287.1" cy="60.7" r="0.5" fill="#333"/><circle cx="287.9" cy="52.7" r="0.5" fill="#444"/><circle cx="287.2" cy="62.0" r="0.5" fill="#222"/><circle cx="287.4" cy="69.3" r="0.5" fill="#333"/><circle cx="285.8" cy="70.2" r="0.5" fill="#444"/><circle cx="287.3" cy="56.1" r="0.5" fill="#333"/><circle cx="289.8" cy="70.2" r="0.5" fill="#222"/><circle cx="284.5" cy="73.7" r="0.5" fill="#888"/><circle cx="281.0" cy="69.6" r="0.5" fill="#666"/><circle cx="289.9" cy="58.1" r="0.5" fill="#333"/><circle cx="295.6" cy="47.1" r="0.5" fill="#666"/><circle cx="283.6" cy="71.8" r="0.5" fill="#444"/><circle cx="281.3" cy="56.3" r="0.5" fill="#444"/><circle cx="285.0" cy="48.9" r="0.5" fill="#666"/><circle cx="284.8" cy="56.9" r="0.5" fill="#333"/><circle cx="290.4" cy="63.9" r="0.5" fill="#222"/><circle cx="287.9" cy="55.9" r="0.5" fill="#444"/><circle cx="287.4" cy="61.6" r="0.5" fill="#888"/><circle cx="286.5" cy="56.9" r="0.5" fill="#333"/><circle cx="289.7" cy="69.9" r="0.5" fill="#333"/><circle cx="286.6" cy="60.3" r="0.5" fill="#888"/><circle cx="289.9" cy="60.3" r="0.5" fill="#888"/><circle cx="298.1" cy="58.1" r="0.5" fill="#888"/><circle cx="289.4" cy="61.2" r="0.5" fill="#666"/><circle cx="289.8" cy="59.4" r="0.5" fill="#666"/><circle cx="289.9" cy="48.7" r="0.5" fill="#333"/><circle cx="286.6" cy="64.1" r="0.5" fill="#888"/><circle cx="284.4" cy="60.7" r="0.5" fill="#666"/><circle cx="291.0" cy="59.0" r="0.5" fill="#333"/><circle cx="289.0" cy="66.5" r="0.5" fill="#333"/><circle cx="285.6" cy="61.6" r="0.5" fill="#666"/><circle cx="282.9" cy="60.1" r="0.5" fill="#666"/><circle cx="285.2" cy="50.9" r="0.5" fill="#444"/><circle cx="298.2" cy="62.8" r="0.5" fill="#666"/></g>
<path d="M247.0 24.0 L252.0 21.5 L258.0 21.0 L264.0 23.0 L270.0 26.5 L272.5 29.5 L268.0 30.0 L264.0 33.0 L262.0 38.0 L259.0 42.0 L255.0 44.0 L251.0 42.0 L248.0 37.0 L246.5 30.0 Z" fill="#b7dea2" opacity="1"/>
<g opacity="0.9"><circle cx="265.8" cy="25.0" r="0.5" fill="#5fa84a"/><circle cx="256.1" cy="25.0" r="0.5" fill="#ffffff"/><circle cx="256.4" cy="23.4" r="0.5" fill="#7fc260"/><circle cx="258.4" cy="34.9" r="0.5" fill="#7fc260"/><circle cx="256.1" cy="37.3" r="0.5" fill="#eef8e6"/><circle cx="253.4" cy="21.7" r="0.5" fill="#eef8e6"/><circle cx="255.0" cy="39.1" r="0.5" fill="#9ccf80"/><circle cx="249.2" cy="28.0" r="0.5" fill="#7fc260"/><circle cx="259.3" cy="40.7" r="0.5" fill="#9ccf80"/><circle cx="261.7" cy="31.6" r="0.5" fill="#ffffff"/><circle cx="256.2" cy="25.3" r="0.5" fill="#ffffff"/><circle cx="260.5" cy="24.1" r="0.5" fill="#eef8e6"/><circle cx="252.9" cy="36.2" r="0.5" fill="#eef8e6"/><circle cx="258.2" cy="25.1" r="0.5" fill="#7fc260"/><circle cx="261.0" cy="32.0" r="0.5" fill="#9ccf80"/><circle cx="252.5" cy="32.4" r="0.5" fill="#ffffff"/><circle cx="261.3" cy="28.5" r="0.5" fill="#5fa84a"/><circle cx="261.8" cy="34.4" r="0.5" fill="#ffffff"/><circle cx="257.1" cy="33.6" r="0.5" fill="#5fa84a"/><circle cx="253.3" cy="35.1" r="0.5" fill="#eef8e6"/><circle cx="250.4" cy="33.4" r="0.5" fill="#ffffff"/><circle cx="260.2" cy="36.6" r="0.5" fill="#5fa84a"/><circle cx="248.9" cy="37.7" r="0.5" fill="#7fc260"/><circle cx="252.6" cy="28.5" r="0.5" fill="#5fa84a"/><circle cx="249.4" cy="34.9" r="0.5" fill="#ffffff"/><circle cx="254.2" cy="39.4" r="0.5" fill="#eef8e6"/><circle cx="249.2" cy="37.6" r="0.5" fill="#ffffff"/><circle cx="256.9" cy="24.6" r="0.5" fill="#5fa84a"/><circle cx="253.1" cy="39.4" r="0.5" fill="#7fc260"/><circle cx="262.8" cy="30.0" r="0.5" fill="#7fc260"/><circle cx="260.4" cy="26.0" r="0.5" fill="#eef8e6"/><circle cx="260.4" cy="22.8" r="0.5" fill="#9ccf80"/><circle cx="251.1" cy="32.1" r="0.5" fill="#eef8e6"/><circle cx="263.2" cy="23.5" r="0.5" fill="#9ccf80"/><circle cx="259.4" cy="33.7" r="0.5" fill="#9ccf80"/><circle cx="260.5" cy="27.6" r="0.5" fill="#5fa84a"/><circle cx="252.3" cy="27.9" r="0.5" fill="#eef8e6"/><circle cx="250.9" cy="25.8" r="0.5" fill="#eef8e6"/><circle cx="247.4" cy="30.0" r="0.5" fill="#eef8e6"/><circle cx="261.0" cy="36.1" r="0.5" fill="#5fa84a"/><circle cx="252.2" cy="35.0" r="0.5" fill="#7fc260"/><circle cx="257.1" cy="35.7" r="0.5" fill="#eef8e6"/><circle cx="266.4" cy="29.4" r="0.5" fill="#9ccf80"/><circle cx="249.3" cy="37.0" r="0.5" fill="#9ccf80"/><circle cx="259.0" cy="33.7" r="0.5" fill="#9ccf80"/><circle cx="250.2" cy="33.3" r="0.5" fill="#ffffff"/><circle cx="257.9" cy="36.0" r="0.5" fill="#eef8e6"/><circle cx="248.9" cy="27.6" r="0.5" fill="#ffffff"/><circle cx="260.6" cy="38.8" r="0.5" fill="#ffffff"/><circle cx="268.3" cy="29.3" r="0.5" fill="#9ccf80"/><circle cx="253.1" cy="32.7" r="0.5" fill="#5fa84a"/><circle cx="259.5" cy="24.1" r="0.5" fill="#9ccf80"/><circle cx="251.1" cy="35.2" r="0.5" fill="#9ccf80"/><circle cx="260.5" cy="25.9" r="0.5" fill="#7fc260"/><circle cx="269.7" cy="27.3" r="0.5" fill="#eef8e6"/><circle cx="253.5" cy="31.1" r="0.5" fill="#9ccf80"/><circle cx="261.9" cy="37.4" r="0.5" fill="#9ccf80"/><circle cx="257.1" cy="29.2" r="0.5" fill="#9ccf80"/><circle cx="262.8" cy="23.1" r="0.5" fill="#5fa84a"/><circle cx="260.5" cy="30.2" r="0.5" fill="#eef8e6"/><circle cx="264.3" cy="28.5" r="0.5" fill="#9ccf80"/><circle cx="254.8" cy="22.6" r="0.5" fill="#ffffff"/><circle cx="259.6" cy="24.2" r="0.5" fill="#5fa84a"/><circle cx="248.2" cy="33.8" r="0.5" fill="#5fa84a"/><circle cx="257.8" cy="22.1" r="0.5" fill="#9ccf80"/><circle cx="260.6" cy="32.7" r="0.5" fill="#ffffff"/><circle cx="261.6" cy="23.5" r="0.5" fill="#eef8e6"/><circle cx="256.6" cy="40.9" r="0.5" fill="#5fa84a"/><circle cx="260.3" cy="24.4" r="0.5" fill="#5fa84a"/><circle cx="250.3" cy="39.9" r="0.5" fill="#ffffff"/><circle cx="252.5" cy="34.7" r="0.5" fill="#7fc260"/><circle cx="255.6" cy="28.0" r="0.5" fill="#9ccf80"/><circle cx="256.0" cy="35.2" r="0.5" fill="#5fa84a"/><circle cx="255.9" cy="28.7" r="0.5" fill="#5fa84a"/><circle cx="255.8" cy="40.5" r="0.5" fill="#9ccf80"/><circle cx="266.3" cy="29.8" r="0.5" fill="#9ccf80"/><circle cx="264.9" cy="28.3" r="0.5" fill="#ffffff"/><circle cx="265.5" cy="24.3" r="0.5" fill="#eef8e6"/><circle cx="259.5" cy="24.1" r="0.5" fill="#9ccf80"/><circle cx="259.3" cy="40.6" r="0.5" fill="#ffffff"/><circle cx="257.9" cy="36.6" r="0.5" fill="#ffffff"/><circle cx="259.5" cy="25.2" r="0.5" fill="#eef8e6"/><circle cx="255.1" cy="27.5" r="0.5" fill="#9ccf80"/><circle cx="261.0" cy="33.2" r="0.5" fill="#eef8e6"/><circle cx="262.5" cy="29.9" r="0.5" fill="#7fc260"/><circle cx="257.6" cy="22.6" r="0.5" fill="#9ccf80"/><circle cx="255.7" cy="37.1" r="0.5" fill="#7fc260"/><circle cx="251.0" cy="31.3" r="0.5" fill="#ffffff"/><circle cx="251.5" cy="39.2" r="0.5" fill="#eef8e6"/><circle cx="250.6" cy="33.3" r="0.5" fill="#7fc260"/><circle cx="254.4" cy="36.9" r="0.5" fill="#eef8e6"/><circle cx="257.6" cy="27.3" r="0.5" fill="#7fc260"/><circle cx="261.4" cy="27.0" r="0.5" fill="#5fa84a"/><circle cx="259.5" cy="23.0" r="0.5" fill="#5fa84a"/><circle cx="253.9" cy="32.9" r="0.5" fill="#7fc260"/><circle cx="267.6" cy="30.0" r="0.5" fill="#5fa84a"/><circle cx="249.6" cy="28.1" r="0.5" fill="#5fa84a"/><circle cx="249.4" cy="26.0" r="0.5" fill="#ffffff"/><circle cx="258.1" cy="32.9" r="0.5" fill="#5fa84a"/><circle cx="267.7" cy="28.5" r="0.5" fill="#7fc260"/><circle cx="264.2" cy="23.3" r="0.5" fill="#7fc260"/><circle cx="258.4" cy="22.8" r="0.5" fill="#7fc260"/><circle cx="250.4" cy="39.6" r="0.5" fill="#ffffff"/><circle cx="260.3" cy="29.2" r="0.5" fill="#9ccf80"/><circle cx="248.8" cy="27.1" r="0.5" fill="#5fa84a"/><circle cx="257.1" cy="31.8" r="0.5" fill="#9ccf80"/><circle cx="250.8" cy="32.5" r="0.5" fill="#eef8e6"/><circle cx="255.9" cy="23.2" r="0.5" fill="#eef8e6"/><circle cx="264.4" cy="30.9" r="0.5" fill="#7fc260"/><circle cx="262.5" cy="28.8" r="0.5" fill="#5fa84a"/><circle cx="250.3" cy="30.4" r="0.5" fill="#eef8e6"/><circle cx="252.2" cy="32.6" r="0.5" fill="#eef8e6"/><circle cx="253.0" cy="37.7" r="0.5" fill="#7fc260"/><circle cx="253.9" cy="22.2" r="0.5" fill="#5fa84a"/><circle cx="266.0" cy="30.2" r="0.5" fill="#ffffff"/><circle cx="254.6" cy="30.0" r="0.5" fill="#7fc260"/><circle cx="268.1" cy="28.0" r="0.5" fill="#5fa84a"/><circle cx="252.6" cy="31.6" r="0.5" fill="#7fc260"/><circle cx="257.2" cy="28.6" r="0.5" fill="#9ccf80"/><circle cx="247.0" cy="24.4" r="0.5" fill="#5fa84a"/><circle cx="251.8" cy="40.2" r="0.5" fill="#9ccf80"/><circle cx="248.4" cy="28.2" r="0.5" fill="#ffffff"/><circle cx="269.8" cy="29.3" r="0.5" fill="#7fc260"/><circle cx="263.4" cy="26.8" r="0.5" fill="#7fc260"/><circle cx="263.2" cy="33.3" r="0.5" fill="#ffffff"/><circle cx="252.5" cy="27.5" r="0.5" fill="#7fc260"/><circle cx="260.0" cy="28.1" r="0.5" fill="#7fc260"/><circle cx="256.3" cy="32.4" r="0.5" fill="#ffffff"/><circle cx="261.2" cy="29.2" r="0.5" fill="#eef8e6"/><circle cx="255.5" cy="34.2" r="0.5" fill="#9ccf80"/><circle cx="262.9" cy="23.8" r="0.5" fill="#9ccf80"/><circle cx="255.7" cy="35.7" r="0.5" fill="#7fc260"/><circle cx="262.4" cy="27.2" r="0.5" fill="#9ccf80"/><circle cx="261.4" cy="29.4" r="0.5" fill="#5fa84a"/><circle cx="255.2" cy="26.1" r="0.5" fill="#5fa84a"/><circle cx="254.5" cy="32.8" r="0.5" fill="#5fa84a"/><circle cx="253.5" cy="40.6" r="0.5" fill="#5fa84a"/><circle cx="252.6" cy="32.8" r="0.5" fill="#ffffff"/><circle cx="259.0" cy="30.0" r="0.5" fill="#9ccf80"/><circle cx="256.8" cy="31.5" r="0.5" fill="#5fa84a"/><circle cx="254.4" cy="37.1" r="0.5" fill="#7fc260"/><circle cx="255.7" cy="41.3" r="0.5" fill="#ffffff"/><circle cx="252.7" cy="38.8" r="0.5" fill="#eef8e6"/><circle cx="268.8" cy="28.5" r="0.5" fill="#9ccf80"/><circle cx="261.2" cy="38.8" r="0.5" fill="#7fc260"/><circle cx="258.4" cy="35.1" r="0.5" fill="#ffffff"/><circle cx="262.4" cy="23.4" r="0.5" fill="#eef8e6"/><circle cx="260.6" cy="25.2" r="0.5" fill="#7fc260"/><circle cx="254.5" cy="41.9" r="0.5" fill="#ffffff"/><circle cx="257.4" cy="22.9" r="0.5" fill="#5fa84a"/><circle cx="253.9" cy="34.2" r="0.5" fill="#ffffff"/><circle cx="250.8" cy="32.3" r="0.5" fill="#9ccf80"/><circle cx="259.1" cy="36.3" r="0.5" fill="#ffffff"/><circle cx="253.7" cy="25.3" r="0.5" fill="#ffffff"/><circle cx="258.6" cy="25.2" r="0.5" fill="#5fa84a"/><circle cx="261.1" cy="30.0" r="0.5" fill="#ffffff"/><circle cx="260.3" cy="27.4" r="0.5" fill="#eef8e6"/><circle cx="250.1" cy="24.1" r="0.5" fill="#eef8e6"/><circle cx="261.0" cy="32.9" r="0.5" fill="#7fc260"/><circle cx="250.9" cy="39.3" r="0.5" fill="#eef8e6"/><circle cx="248.7" cy="35.7" r="0.5" fill="#ffffff"/><circle cx="254.5" cy="43.2" r="0.5" fill="#ffffff"/><circle cx="250.0" cy="32.3" r="0.5" fill="#9ccf80"/><circle cx="249.8" cy="24.0" r="0.5" fill="#5fa84a"/><circle cx="250.4" cy="27.8" r="0.5" fill="#ffffff"/><circle cx="253.0" cy="26.8" r="0.5" fill="#5fa84a"/><circle cx="249.9" cy="27.6" r="0.5" fill="#9ccf80"/><circle cx="256.0" cy="31.9" r="0.5" fill="#9ccf80"/><circle cx="262.4" cy="32.5" r="0.5" fill="#7fc260"/><circle cx="253.0" cy="28.2" r="0.5" fill="#ffffff"/><circle cx="257.5" cy="41.1" r="0.5" fill="#9ccf80"/><circle cx="251.3" cy="32.9" r="0.5" fill="#eef8e6"/><circle cx="251.9" cy="23.6" r="0.5" fill="#9ccf80"/><circle cx="257.2" cy="42.1" r="0.5" fill="#ffffff"/><circle cx="254.9" cy="36.6" r="0.5" fill="#eef8e6"/><circle cx="265.5" cy="27.5" r="0.5" fill="#eef8e6"/><circle cx="256.8" cy="24.3" r="0.5" fill="#9ccf80"/><circle cx="269.8" cy="27.6" r="0.5" fill="#ffffff"/><circle cx="256.9" cy="40.5" r="0.5" fill="#eef8e6"/><circle cx="257.1" cy="34.3" r="0.5" fill="#9ccf80"/><circle cx="258.2" cy="41.3" r="0.5" fill="#5fa84a"/><circle cx="250.6" cy="23.1" r="0.5" fill="#eef8e6"/><circle cx="266.5" cy="30.5" r="0.5" fill="#ffffff"/><circle cx="253.7" cy="40.5" r="0.5" fill="#7fc260"/><circle cx="262.1" cy="25.8" r="0.5" fill="#eef8e6"/><circle cx="261.5" cy="34.8" r="0.5" fill="#eef8e6"/><circle cx="247.8" cy="33.0" r="0.5" fill="#ffffff"/><circle cx="262.0" cy="25.3" r="0.5" fill="#9ccf80"/><circle cx="269.8" cy="29.6" r="0.5" fill="#eef8e6"/><circle cx="261.1" cy="28.3" r="0.5" fill="#9ccf80"/><circle cx="256.4" cy="31.7" r="0.5" fill="#7fc260"/><circle cx="253.2" cy="30.4" r="0.5" fill="#eef8e6"/><circle cx="253.9" cy="43.1" r="0.5" fill="#eef8e6"/><circle cx="253.6" cy="42.0" r="0.5" fill="#7fc260"/><circle cx="258.5" cy="37.7" r="0.5" fill="#5fa84a"/><circle cx="249.9" cy="30.9" r="0.5" fill="#ffffff"/><circle cx="248.1" cy="37.2" r="0.5" fill="#eef8e6"/><circle cx="249.5" cy="23.5" r="0.5" fill="#7fc260"/><circle cx="251.8" cy="24.7" r="0.5" fill="#9ccf80"/><circle cx="257.7" cy="25.7" r="0.5" fill="#9ccf80"/></g>
<g opacity="1"><circle cx="266.0" cy="32.5" r="0.6" fill="#334"/><circle cx="266.5" cy="33.5" r="0.6" fill="#334"/><circle cx="265.5" cy="33.8" r="0.6" fill="#334"/></g>
<path d="M231.0 82.0 L235.0 79.0 L241.0 78.5 L246.0 80.5 L248.0 85.0 L246.5 90.0 L244.0 95.0 L241.0 98.0 L237.0 97.5 L233.0 94.0 L230.5 88.0 Z" fill="#b993c6" opacity="1"/>
<g opacity="0.9"><circle cx="241.5" cy="91.4" r="0.5" fill="#efe2f4"/><circle cx="234.2" cy="86.5" r="0.5" fill="#ffffff"/><circle cx="233.4" cy="90.7" r="0.5" fill="#c8a8d8"/><circle cx="242.1" cy="86.9" r="0.5" fill="#ffffff"/><circle cx="232.8" cy="91.0" r="0.5" fill="#8a4a9a"/><circle cx="233.1" cy="84.1" r="0.5" fill="#8a4a9a"/><circle cx="246.1" cy="81.4" r="0.5" fill="#9a5aa8"/><circle cx="234.5" cy="91.4" r="0.5" fill="#ffffff"/><circle cx="238.5" cy="86.7" r="0.5" fill="#c8a8d8"/><circle cx="234.8" cy="86.1" r="0.5" fill="#efe2f4"/><circle cx="246.1" cy="82.9" r="0.5" fill="#ffffff"/><circle cx="237.2" cy="84.9" r="0.5" fill="#efe2f4"/><circle cx="243.1" cy="85.5" r="0.5" fill="#ffffff"/><circle cx="237.8" cy="93.2" r="0.5" fill="#efe2f4"/><circle cx="236.4" cy="92.7" r="0.5" fill="#efe2f4"/><circle cx="242.4" cy="88.5" r="0.5" fill="#ffffff"/><circle cx="243.2" cy="84.6" r="0.5" fill="#efe2f4"/><circle cx="233.9" cy="82.8" r="0.5" fill="#9a5aa8"/><circle cx="231.5" cy="87.0" r="0.5" fill="#9a5aa8"/><circle cx="242.1" cy="89.2" r="0.5" fill="#efe2f4"/><circle cx="242.8" cy="91.8" r="0.5" fill="#efe2f4"/><circle cx="243.2" cy="90.2" r="0.5" fill="#c8a8d8"/><circle cx="243.5" cy="85.5" r="0.5" fill="#c8a8d8"/><circle cx="241.2" cy="90.9" r="0.5" fill="#efe2f4"/><circle cx="231.9" cy="91.0" r="0.5" fill="#ffffff"/><circle cx="244.3" cy="88.9" r="0.5" fill="#9a5aa8"/><circle cx="239.9" cy="79.1" r="0.5" fill="#ffffff"/><circle cx="243.0" cy="81.6" r="0.5" fill="#ffffff"/><circle cx="241.3" cy="97.0" r="0.5" fill="#efe2f4"/><circle cx="236.4" cy="79.3" r="0.5" fill="#8a4a9a"/><circle cx="238.8" cy="96.3" r="0.5" fill="#c8a8d8"/><circle cx="232.7" cy="83.2" r="0.5" fill="#9a5aa8"/><circle cx="240.1" cy="97.2" r="0.5" fill="#8a4a9a"/><circle cx="243.1" cy="86.9" r="0.5" fill="#c8a8d8"/><circle cx="235.1" cy="80.9" r="0.5" fill="#8a4a9a"/><circle cx="233.4" cy="92.4" r="0.5" fill="#9a5aa8"/><circle cx="231.0" cy="86.6" r="0.5" fill="#c8a8d8"/><circle cx="241.6" cy="95.9" r="0.5" fill="#8a4a9a"/><circle cx="241.2" cy="94.4" r="0.5" fill="#c8a8d8"/><circle cx="241.4" cy="82.3" r="0.5" fill="#ffffff"/><circle cx="246.2" cy="89.2" r="0.5" fill="#ffffff"/><circle cx="242.6" cy="82.9" r="0.5" fill="#9a5aa8"/><circle cx="244.6" cy="84.0" r="0.5" fill="#c8a8d8"/><circle cx="244.0" cy="82.1" r="0.5" fill="#ffffff"/><circle cx="240.1" cy="96.3" r="0.5" fill="#ffffff"/><circle cx="242.0" cy="88.6" r="0.5" fill="#9a5aa8"/><circle cx="243.0" cy="89.7" r="0.5" fill="#efe2f4"/><circle cx="238.0" cy="90.1" r="0.5" fill="#c8a8d8"/><circle cx="244.6" cy="86.2" r="0.5" fill="#8a4a9a"/><circle cx="236.5" cy="87.7" r="0.5" fill="#ffffff"/><circle cx="247.8" cy="85.7" r="0.5" fill="#ffffff"/><circle cx="245.0" cy="83.7" r="0.5" fill="#efe2f4"/><circle cx="244.0" cy="80.7" r="0.5" fill="#ffffff"/><circle cx="243.6" cy="88.6" r="0.5" fill="#9a5aa8"/><circle cx="243.1" cy="88.9" r="0.5" fill="#ffffff"/><circle cx="246.4" cy="87.3" r="0.5" fill="#efe2f4"/><circle cx="242.1" cy="89.3" r="0.5" fill="#c8a8d8"/><circle cx="236.8" cy="84.9" r="0.5" fill="#8a4a9a"/><circle cx="244.6" cy="84.9" r="0.5" fill="#efe2f4"/><circle cx="244.3" cy="79.9" r="0.5" fill="#9a5aa8"/><circle cx="244.6" cy="85.2" r="0.5" fill="#9a5aa8"/><circle cx="243.5" cy="93.0" r="0.5" fill="#ffffff"/><circle cx="242.6" cy="90.0" r="0.5" fill="#c8a8d8"/><circle cx="243.4" cy="91.0" r="0.5" fill="#efe2f4"/><circle cx="238.6" cy="80.7" r="0.5" fill="#efe2f4"/><circle cx="245.5" cy="81.0" r="0.5" fill="#efe2f4"/><circle cx="238.7" cy="96.6" r="0.5" fill="#ffffff"/><circle cx="233.0" cy="81.5" r="0.5" fill="#9a5aa8"/><circle cx="235.7" cy="90.7" r="0.5" fill="#efe2f4"/><circle cx="241.3" cy="88.6" r="0.5" fill="#c8a8d8"/><circle cx="243.4" cy="80.9" r="0.5" fill="#ffffff"/><circle cx="244.8" cy="92.1" r="0.5" fill="#ffffff"/><circle cx="241.6" cy="83.1" r="0.5" fill="#efe2f4"/><circle cx="245.5" cy="81.4" r="0.5" fill="#efe2f4"/><circle cx="240.3" cy="90.9" r="0.5" fill="#c8a8d8"/><circle cx="235.4" cy="92.7" r="0.5" fill="#c8a8d8"/><circle cx="235.5" cy="90.7" r="0.5" fill="#c8a8d8"/><circle cx="245.1" cy="92.7" r="0.5" fill="#ffffff"/><circle cx="238.6" cy="87.4" r="0.5" fill="#8a4a9a"/><circle cx="239.0" cy="93.5" r="0.5" fill="#ffffff"/><circle cx="244.4" cy="91.1" r="0.5" fill="#9a5aa8"/><circle cx="239.7" cy="82.8" r="0.5" fill="#9a5aa8"/><circle cx="244.1" cy="86.4" r="0.5" fill="#efe2f4"/><circle cx="240.6" cy="90.4" r="0.5" fill="#8a4a9a"/><circle cx="239.5" cy="95.9" r="0.5" fill="#efe2f4"/><circle cx="234.2" cy="94.8" r="0.5" fill="#8a4a9a"/><circle cx="241.9" cy="84.3" r="0.5" fill="#efe2f4"/><circle cx="247.2" cy="85.8" r="0.5" fill="#9a5aa8"/><circle cx="244.2" cy="82.1" r="0.5" fill="#ffffff"/><circle cx="239.2" cy="79.1" r="0.5" fill="#ffffff"/><circle cx="238.5" cy="97.2" r="0.5" fill="#9a5aa8"/><circle cx="238.2" cy="96.3" r="0.5" fill="#c8a8d8"/><circle cx="235.6" cy="88.1" r="0.5" fill="#8a4a9a"/><circle cx="237.5" cy="93.9" r="0.5" fill="#9a5aa8"/><circle cx="245.0" cy="83.6" r="0.5" fill="#ffffff"/><circle cx="242.0" cy="90.8" r="0.5" fill="#c8a8d8"/><circle cx="240.9" cy="97.7" r="0.5" fill="#efe2f4"/><circle cx="231.7" cy="83.9" r="0.5" fill="#efe2f4"/><circle cx="238.2" cy="86.8" r="0.5" fill="#8a4a9a"/><circle cx="241.5" cy="88.7" r="0.5" fill="#ffffff"/><circle cx="231.6" cy="81.8" r="0.5" fill="#efe2f4"/><circle cx="238.0" cy="82.4" r="0.5" fill="#ffffff"/><circle cx="244.2" cy="89.0" r="0.5" fill="#ffffff"/><circle cx="244.8" cy="81.4" r="0.5" fill="#8a4a9a"/><circle cx="241.1" cy="94.8" r="0.5" fill="#ffffff"/><circle cx="246.6" cy="88.2" r="0.5" fill="#9a5aa8"/><circle cx="240.5" cy="90.4" r="0.5" fill="#efe2f4"/><circle cx="243.6" cy="87.7" r="0.5" fill="#c8a8d8"/><circle cx="242.2" cy="88.3" r="0.5" fill="#efe2f4"/><circle cx="241.2" cy="90.1" r="0.5" fill="#c8a8d8"/><circle cx="239.0" cy="84.6" r="0.5" fill="#efe2f4"/><circle cx="236.0" cy="90.5" r="0.5" fill="#8a4a9a"/><circle cx="240.2" cy="87.3" r="0.5" fill="#efe2f4"/><circle cx="235.5" cy="82.9" r="0.5" fill="#ffffff"/><circle cx="245.5" cy="86.6" r="0.5" fill="#8a4a9a"/><circle cx="239.3" cy="79.2" r="0.5" fill="#8a4a9a"/><circle cx="237.7" cy="88.8" r="0.5" fill="#ffffff"/><circle cx="241.5" cy="82.1" r="0.5" fill="#9a5aa8"/><circle cx="236.3" cy="93.9" r="0.5" fill="#9a5aa8"/><circle cx="241.0" cy="84.5" r="0.5" fill="#efe2f4"/><circle cx="239.9" cy="95.7" r="0.5" fill="#ffffff"/><circle cx="243.3" cy="95.3" r="0.5" fill="#9a5aa8"/><circle cx="234.6" cy="88.7" r="0.5" fill="#8a4a9a"/><circle cx="244.0" cy="91.5" r="0.5" fill="#ffffff"/><circle cx="245.6" cy="90.8" r="0.5" fill="#9a5aa8"/><circle cx="239.0" cy="81.1" r="0.5" fill="#c8a8d8"/><circle cx="237.1" cy="84.2" r="0.5" fill="#9a5aa8"/><circle cx="240.2" cy="91.4" r="0.5" fill="#9a5aa8"/><circle cx="232.6" cy="84.6" r="0.5" fill="#ffffff"/><circle cx="244.4" cy="90.4" r="0.5" fill="#9a5aa8"/><circle cx="235.4" cy="81.9" r="0.5" fill="#efe2f4"/><circle cx="236.1" cy="89.0" r="0.5" fill="#8a4a9a"/><circle cx="237.5" cy="84.2" r="0.5" fill="#9a5aa8"/><circle cx="236.9" cy="84.9" r="0.5" fill="#efe2f4"/><circle cx="232.5" cy="91.3" r="0.5" fill="#ffffff"/><circle cx="233.6" cy="89.7" r="0.5" fill="#c8a8d8"/><circle cx="247.0" cy="87.2" r="0.5" fill="#8a4a9a"/><circle cx="236.5" cy="95.9" r="0.5" fill="#8a4a9a"/><circle cx="233.0" cy="91.9" r="0.5" fill="#ffffff"/><circle cx="233.0" cy="86.8" r="0.5" fill="#ffffff"/><circle cx="230.8" cy="85.9" r="0.5" fill="#c8a8d8"/><circle cx="241.4" cy="90.3" r="0.5" fill="#efe2f4"/><circle cx="245.2" cy="90.0" r="0.5" fill="#c8a8d8"/><circle cx="242.5" cy="85.2" r="0.5" fill="#9a5aa8"/><circle cx="236.1" cy="81.3" r="0.5" fill="#efe2f4"/><circle cx="238.4" cy="95.7" r="0.5" fill="#8a4a9a"/><circle cx="241.0" cy="96.4" r="0.5" fill="#9a5aa8"/><circle cx="243.6" cy="81.5" r="0.5" fill="#c8a8d8"/><circle cx="239.3" cy="90.0" r="0.5" fill="#9a5aa8"/><circle cx="236.8" cy="97.0" r="0.5" fill="#ffffff"/><circle cx="244.8" cy="92.8" r="0.5" fill="#efe2f4"/><circle cx="243.3" cy="87.3" r="0.5" fill="#ffffff"/><circle cx="232.8" cy="91.3" r="0.5" fill="#c8a8d8"/><circle cx="238.8" cy="92.1" r="0.5" fill="#ffffff"/><circle cx="245.8" cy="89.8" r="0.5" fill="#9a5aa8"/><circle cx="234.3" cy="90.3" r="0.5" fill="#ffffff"/><circle cx="243.3" cy="80.0" r="0.5" fill="#8a4a9a"/><circle cx="245.8" cy="84.2" r="0.5" fill="#efe2f4"/><circle cx="233.3" cy="85.1" r="0.5" fill="#8a4a9a"/><circle cx="239.5" cy="90.0" r="0.5" fill="#efe2f4"/></g>
<path d="M222.0 95.0 L226.0 93.0 L230.0 95.5 L233.0 99.0 L237.0 102.0 L240.0 107.0 L242.0 113.0 L240.0 118.0 L242.0 124.0 L240.5 129.5 L237.0 129.0 L234.0 124.0 L230.0 119.0 L226.0 115.0 L223.0 109.0 L221.0 102.0 Z" fill="#913a9a" opacity="1"/>
<g opacity="0.9"><circle cx="238.3" cy="114.6" r="0.5" fill="#ffffff"/><circle cx="232.8" cy="103.8" r="0.5" fill="#d8b0e0"/><circle cx="226.4" cy="100.2" r="0.5" fill="#6a1a78"/><circle cx="239.0" cy="112.5" r="0.5" fill="#b070c0"/><circle cx="239.9" cy="108.3" r="0.5" fill="#d8b0e0"/><circle cx="239.6" cy="115.3" r="0.5" fill="#ffffff"/><circle cx="228.1" cy="106.0" r="0.5" fill="#ffffff"/><circle cx="226.4" cy="104.7" r="0.5" fill="#f0e0f0"/><circle cx="229.1" cy="110.4" r="0.5" fill="#6a1a78"/><circle cx="228.4" cy="112.8" r="0.5" fill="#ffffff"/><circle cx="232.3" cy="117.4" r="0.5" fill="#f0e0f0"/><circle cx="235.0" cy="106.6" r="0.5" fill="#6a1a78"/><circle cx="230.3" cy="100.7" r="0.5" fill="#f0e0f0"/><circle cx="238.7" cy="108.0" r="0.5" fill="#d8b0e0"/><circle cx="237.4" cy="117.4" r="0.5" fill="#ffffff"/><circle cx="224.5" cy="97.4" r="0.5" fill="#f0e0f0"/><circle cx="236.8" cy="115.2" r="0.5" fill="#f0e0f0"/><circle cx="225.2" cy="110.3" r="0.5" fill="#6a1a78"/><circle cx="227.7" cy="114.5" r="0.5" fill="#d8b0e0"/><circle cx="223.0" cy="97.0" r="0.5" fill="#ffffff"/><circle cx="230.4" cy="104.6" r="0.5" fill="#f0e0f0"/><circle cx="235.1" cy="117.8" r="0.5" fill="#f0e0f0"/><circle cx="222.8" cy="105.4" r="0.5" fill="#6a1a78"/><circle cx="226.8" cy="98.7" r="0.5" fill="#ffffff"/><circle cx="223.3" cy="101.3" r="0.5" fill="#d8b0e0"/><circle cx="239.1" cy="124.6" r="0.5" fill="#6a1a78"/><circle cx="233.8" cy="104.8" r="0.5" fill="#6a1a78"/><circle cx="223.9" cy="97.2" r="0.5" fill="#ffffff"/><circle cx="223.1" cy="104.7" r="0.5" fill="#d8b0e0"/><circle cx="239.1" cy="124.3" r="0.5" fill="#d8b0e0"/><circle cx="233.8" cy="112.3" r="0.5" fill="#6a1a78"/><circle cx="230.2" cy="105.6" r="0.5" fill="#d8b0e0"/><circle cx="228.9" cy="104.6" r="0.5" fill="#ffffff"/><circle cx="224.9" cy="99.6" r="0.5" fill="#b070c0"/><circle cx="236.6" cy="103.5" r="0.5" fill="#ffffff"/><circle cx="236.1" cy="104.8" r="0.5" fill="#6a1a78"/><circle cx="236.8" cy="103.8" r="0.5" fill="#d8b0e0"/><circle cx="232.5" cy="104.1" r="0.5" fill="#b070c0"/><circle cx="237.1" cy="110.2" r="0.5" fill="#f0e0f0"/><circle cx="225.6" cy="112.8" r="0.5" fill="#6a1a78"/><circle cx="226.1" cy="97.1" r="0.5" fill="#6a1a78"/><circle cx="231.6" cy="99.8" r="0.5" fill="#ffffff"/><circle cx="235.3" cy="111.4" r="0.5" fill="#6a1a78"/><circle cx="232.4" cy="121.9" r="0.5" fill="#b070c0"/><circle cx="225.7" cy="103.6" r="0.5" fill="#d8b0e0"/><circle cx="231.7" cy="119.9" r="0.5" fill="#d8b0e0"/><circle cx="223.6" cy="102.6" r="0.5" fill="#b070c0"/><circle cx="240.5" cy="114.6" r="0.5" fill="#6a1a78"/><circle cx="233.3" cy="108.7" r="0.5" fill="#ffffff"/><circle cx="227.9" cy="106.7" r="0.5" fill="#6a1a78"/><circle cx="231.0" cy="105.4" r="0.5" fill="#6a1a78"/><circle cx="237.1" cy="118.0" r="0.5" fill="#ffffff"/><circle cx="237.3" cy="104.9" r="0.5" fill="#d8b0e0"/><circle cx="238.0" cy="126.7" r="0.5" fill="#d8b0e0"/><circle cx="234.4" cy="117.9" r="0.5" fill="#d8b0e0"/><circle cx="225.9" cy="107.7" r="0.5" fill="#6a1a78"/><circle cx="236.0" cy="114.5" r="0.5" fill="#f0e0f0"/><circle cx="233.0" cy="116.5" r="0.5" fill="#6a1a78"/><circle cx="222.4" cy="97.9" r="0.5" fill="#d8b0e0"/><circle cx="234.4" cy="114.0" r="0.5" fill="#d8b0e0"/><circle cx="235.8" cy="121.8" r="0.5" fill="#f0e0f0"/><circle cx="227.1" cy="97.2" r="0.5" fill="#d8b0e0"/><circle cx="227.5" cy="116.0" r="0.5" fill="#f0e0f0"/><circle cx="225.5" cy="105.9" r="0.5" fill="#f0e0f0"/><circle cx="230.8" cy="105.5" r="0.5" fill="#ffffff"/><circle cx="226.2" cy="93.3" r="0.5" fill="#ffffff"/><circle cx="231.3" cy="116.3" r="0.5" fill="#6a1a78"/><circle cx="235.1" cy="108.3" r="0.5" fill="#b070c0"/><circle cx="229.1" cy="95.0" r="0.5" fill="#b070c0"/><circle cx="232.9" cy="113.3" r="0.5" fill="#f0e0f0"/><circle cx="227.6" cy="110.0" r="0.5" fill="#ffffff"/><circle cx="235.8" cy="105.3" r="0.5" fill="#ffffff"/><circle cx="227.2" cy="107.6" r="0.5" fill="#f0e0f0"/><circle cx="233.8" cy="123.7" r="0.5" fill="#f0e0f0"/><circle cx="236.2" cy="127.6" r="0.5" fill="#f0e0f0"/><circle cx="225.7" cy="114.4" r="0.5" fill="#ffffff"/><circle cx="226.0" cy="112.3" r="0.5" fill="#ffffff"/><circle cx="240.3" cy="111.7" r="0.5" fill="#b070c0"/><circle cx="226.4" cy="97.5" r="0.5" fill="#b070c0"/><circle cx="224.6" cy="94.4" r="0.5" fill="#ffffff"/><circle cx="222.5" cy="103.2" r="0.5" fill="#f0e0f0"/><circle cx="237.0" cy="112.5" r="0.5" fill="#b070c0"/><circle cx="241.1" cy="121.8" r="0.5" fill="#b070c0"/><circle cx="237.9" cy="121.7" r="0.5" fill="#6a1a78"/><circle cx="229.9" cy="117.5" r="0.5" fill="#f0e0f0"/><circle cx="232.9" cy="122.5" r="0.5" fill="#b070c0"/><circle cx="228.1" cy="109.8" r="0.5" fill="#f0e0f0"/><circle cx="234.9" cy="120.1" r="0.5" fill="#d8b0e0"/><circle cx="229.8" cy="98.0" r="0.5" fill="#f0e0f0"/><circle cx="229.5" cy="97.5" r="0.5" fill="#f0e0f0"/><circle cx="226.8" cy="95.0" r="0.5" fill="#f0e0f0"/><circle cx="221.8" cy="96.7" r="0.5" fill="#ffffff"/><circle cx="239.5" cy="107.6" r="0.5" fill="#ffffff"/><circle cx="227.7" cy="94.8" r="0.5" fill="#f0e0f0"/><circle cx="236.3" cy="113.2" r="0.5" fill="#b070c0"/><circle cx="229.0" cy="104.6" r="0.5" fill="#6a1a78"/><circle cx="232.1" cy="111.2" r="0.5" fill="#6a1a78"/><circle cx="236.1" cy="109.4" r="0.5" fill="#d8b0e0"/><circle cx="230.9" cy="99.5" r="0.5" fill="#f0e0f0"/><circle cx="229.5" cy="101.4" r="0.5" fill="#f0e0f0"/><circle cx="230.0" cy="116.9" r="0.5" fill="#6a1a78"/><circle cx="231.1" cy="101.3" r="0.5" fill="#ffffff"/><circle cx="238.5" cy="125.2" r="0.5" fill="#d8b0e0"/><circle cx="225.3" cy="99.6" r="0.5" fill="#b070c0"/><circle cx="231.7" cy="110.9" r="0.5" fill="#b070c0"/><circle cx="231.9" cy="108.4" r="0.5" fill="#f0e0f0"/><circle cx="228.8" cy="110.6" r="0.5" fill="#6a1a78"/><circle cx="229.9" cy="103.9" r="0.5" fill="#ffffff"/><circle cx="234.8" cy="123.3" r="0.5" fill="#b070c0"/><circle cx="237.4" cy="125.9" r="0.5" fill="#d8b0e0"/><circle cx="240.4" cy="113.0" r="0.5" fill="#6a1a78"/><circle cx="239.5" cy="126.3" r="0.5" fill="#d8b0e0"/><circle cx="230.0" cy="97.4" r="0.5" fill="#b070c0"/><circle cx="231.4" cy="98.6" r="0.5" fill="#d8b0e0"/><circle cx="227.2" cy="99.6" r="0.5" fill="#ffffff"/><circle cx="238.7" cy="128.2" r="0.5" fill="#d8b0e0"/><circle cx="238.3" cy="114.5" r="0.5" fill="#f0e0f0"/><circle cx="239.5" cy="126.3" r="0.5" fill="#b070c0"/><circle cx="229.9" cy="106.8" r="0.5" fill="#d8b0e0"/><circle cx="227.2" cy="100.0" r="0.5" fill="#6a1a78"/><circle cx="238.1" cy="104.7" r="0.5" fill="#ffffff"/><circle cx="231.5" cy="102.0" r="0.5" fill="#d8b0e0"/><circle cx="237.4" cy="113.7" r="0.5" fill="#d8b0e0"/><circle cx="240.0" cy="108.2" r="0.5" fill="#d8b0e0"/><circle cx="234.7" cy="107.1" r="0.5" fill="#d8b0e0"/><circle cx="223.1" cy="97.7" r="0.5" fill="#f0e0f0"/><circle cx="229.4" cy="98.4" r="0.5" fill="#ffffff"/><circle cx="237.0" cy="125.1" r="0.5" fill="#ffffff"/><circle cx="230.5" cy="99.7" r="0.5" fill="#6a1a78"/><circle cx="229.6" cy="117.8" r="0.5" fill="#d8b0e0"/><circle cx="227.5" cy="103.3" r="0.5" fill="#d8b0e0"/><circle cx="237.3" cy="108.9" r="0.5" fill="#f0e0f0"/><circle cx="234.3" cy="110.4" r="0.5" fill="#f0e0f0"/><circle cx="222.6" cy="106.6" r="0.5" fill="#6a1a78"/><circle cx="231.2" cy="103.9" r="0.5" fill="#d8b0e0"/><circle cx="231.0" cy="117.8" r="0.5" fill="#ffffff"/><circle cx="234.2" cy="113.1" r="0.5" fill="#b070c0"/><circle cx="229.0" cy="101.9" r="0.5" fill="#d8b0e0"/><circle cx="235.7" cy="110.5" r="0.5" fill="#f0e0f0"/><circle cx="225.3" cy="96.7" r="0.5" fill="#d8b0e0"/><circle cx="239.4" cy="122.6" r="0.5" fill="#ffffff"/><circle cx="239.2" cy="112.7" r="0.5" fill="#d8b0e0"/><circle cx="237.7" cy="121.4" r="0.5" fill="#b070c0"/><circle cx="221.8" cy="99.9" r="0.5" fill="#b070c0"/><circle cx="232.8" cy="108.2" r="0.5" fill="#ffffff"/><circle cx="228.0" cy="95.4" r="0.5" fill="#b070c0"/><circle cx="239.9" cy="128.8" r="0.5" fill="#ffffff"/><circle cx="241.3" cy="126.1" r="0.5" fill="#f0e0f0"/><circle cx="240.5" cy="127.8" r="0.5" fill="#b070c0"/><circle cx="228.5" cy="99.5" r="0.5" fill="#f0e0f0"/><circle cx="225.9" cy="105.6" r="0.5" fill="#f0e0f0"/><circle cx="229.6" cy="99.1" r="0.5" fill="#d8b0e0"/><circle cx="233.5" cy="110.7" r="0.5" fill="#ffffff"/><circle cx="227.1" cy="102.3" r="0.5" fill="#d8b0e0"/><circle cx="231.7" cy="104.2" r="0.5" fill="#ffffff"/><circle cx="239.2" cy="126.9" r="0.5" fill="#ffffff"/><circle cx="233.3" cy="105.2" r="0.5" fill="#f0e0f0"/><circle cx="227.9" cy="104.8" r="0.5" fill="#ffffff"/><circle cx="237.4" cy="115.7" r="0.5" fill="#f0e0f0"/><circle cx="239.8" cy="107.5" r="0.5" fill="#6a1a78"/><circle cx="231.8" cy="97.8" r="0.5" fill="#f0e0f0"/><circle cx="226.0" cy="110.0" r="0.5" fill="#f0e0f0"/><circle cx="236.1" cy="114.7" r="0.5" fill="#b070c0"/><circle cx="231.5" cy="118.0" r="0.5" fill="#f0e0f0"/><circle cx="227.8" cy="107.8" r="0.5" fill="#d8b0e0"/><circle cx="232.1" cy="100.5" r="0.5" fill="#f0e0f0"/><circle cx="231.2" cy="113.9" r="0.5" fill="#b070c0"/><circle cx="232.8" cy="116.5" r="0.5" fill="#b070c0"/><circle cx="235.1" cy="120.7" r="0.5" fill="#d8b0e0"/><circle cx="222.8" cy="104.5" r="0.5" fill="#b070c0"/><circle cx="226.3" cy="112.7" r="0.5" fill="#6a1a78"/><circle cx="239.8" cy="119.7" r="0.5" fill="#ffffff"/><circle cx="239.7" cy="128.2" r="0.5" fill="#ffffff"/><circle cx="225.3" cy="97.0" r="0.5" fill="#6a1a78"/><circle cx="233.5" cy="122.8" r="0.5" fill="#b070c0"/><circle cx="238.1" cy="104.5" r="0.5" fill="#ffffff"/><circle cx="238.0" cy="118.3" r="0.5" fill="#d8b0e0"/><circle cx="237.5" cy="111.6" r="0.5" fill="#ffffff"/><circle cx="232.3" cy="100.3" r="0.5" fill="#ffffff"/><circle cx="222.6" cy="95.3" r="0.5" fill="#ffffff"/><circle cx="238.0" cy="124.6" r="0.5" fill="#b070c0"/><circle cx="230.8" cy="96.9" r="0.5" fill="#b070c0"/><circle cx="240.2" cy="112.8" r="0.5" fill="#ffffff"/><circle cx="233.3" cy="119.3" r="0.5" fill="#6a1a78"/><circle cx="232.8" cy="115.3" r="0.5" fill="#6a1a78"/><circle cx="228.2" cy="113.8" r="0.5" fill="#d8b0e0"/><circle cx="235.9" cy="111.0" r="0.5" fill="#ffffff"/><circle cx="236.8" cy="112.4" r="0.5" fill="#d8b0e0"/><circle cx="225.3" cy="104.3" r="0.5" fill="#f0e0f0"/><circle cx="227.6" cy="106.4" r="0.5" fill="#b070c0"/><circle cx="228.2" cy="100.1" r="0.5" fill="#ffffff"/><circle cx="224.0" cy="110.4" r="0.5" fill="#f0e0f0"/><circle cx="223.8" cy="101.9" r="0.5" fill="#b070c0"/><circle cx="227.4" cy="113.6" r="0.5" fill="#6a1a78"/><circle cx="236.4" cy="126.5" r="0.5" fill="#f0e0f0"/><circle cx="235.6" cy="120.4" r="0.5" fill="#b070c0"/><circle cx="231.3" cy="101.3" r="0.5" fill="#6a1a78"/><circle cx="226.2" cy="96.7" r="0.5" fill="#6a1a78"/><circle cx="236.9" cy="104.5" r="0.5" fill="#f0e0f0"/><circle cx="227.8" cy="112.8" r="0.5" fill="#d8b0e0"/></g>
<path d="M246 94.5 L250.5 95 L248 98.5 Z" fill="#1a1a5a"/>
<path d="M252.0 112.0 L254.5 110.5 L256.0 114.0 L256.5 119.0 L255.5 124.0 L252.5 123.5 L251.5 118.0 Z" fill="#f0a050" opacity="1"/>
<g opacity="1"><circle cx="252.4" cy="122.9" r="0.5" fill="#f8c080"/><circle cx="252.1" cy="118.4" r="0.5" fill="#f8c080"/><circle cx="252.4" cy="112.3" r="0.5" fill="#f8c080"/><circle cx="253.9" cy="122.3" r="0.5" fill="#f8c080"/><circle cx="254.3" cy="110.7" r="0.5" fill="#f8c080"/><circle cx="255.4" cy="117.5" r="0.5" fill="#e08030"/><circle cx="253.1" cy="114.8" r="0.5" fill="#e08030"/><circle cx="255.7" cy="115.4" r="0.5" fill="#e08030"/><circle cx="254.9" cy="114.4" r="0.5" fill="#f8c080"/><circle cx="253.7" cy="112.1" r="0.5" fill="#e08030"/><circle cx="252.7" cy="115.2" r="0.5" fill="#f8c080"/><circle cx="254.0" cy="115.3" r="0.5" fill="#f8c080"/><circle cx="254.6" cy="116.6" r="0.5" fill="#e08030"/><circle cx="253.1" cy="115.7" r="0.5" fill="#f8c080"/><circle cx="253.7" cy="114.6" r="0.5" fill="#f8c080"/><circle cx="253.3" cy="116.8" r="0.5" fill="#e08030"/><circle cx="255.8" cy="121.4" r="0.5" fill="#e08030"/><circle cx="255.8" cy="116.8" r="0.5" fill="#f8c080"/><circle cx="255.7" cy="119.6" r="0.5" fill="#e08030"/><circle cx="253.1" cy="118.7" r="0.5" fill="#f8c080"/><circle cx="251.8" cy="119.3" r="0.5" fill="#e08030"/><circle cx="254.8" cy="115.3" r="0.5" fill="#e08030"/><circle cx="253.2" cy="121.2" r="0.5" fill="#f8c080"/><circle cx="253.0" cy="117.6" r="0.5" fill="#e08030"/><circle cx="253.1" cy="114.9" r="0.5" fill="#e08030"/><circle cx="254.3" cy="121.9" r="0.5" fill="#e08030"/><circle cx="255.5" cy="115.7" r="0.5" fill="#f8c080"/><circle cx="252.2" cy="113.0" r="0.5" fill="#e08030"/><circle cx="255.6" cy="113.2" r="0.5" fill="#f8c080"/><circle cx="252.8" cy="121.0" r="0.5" fill="#f8c080"/></g>
<ellipse cx="259" cy="33.6" rx="15.8" ry="14.8" transform="rotate(-10 259 33.6)" fill="none" stroke="#505050" stroke-width="1.05" stroke-dasharray="2.7 2.0"/>
<ellipse cx="288" cy="61.2" rx="13.2" ry="19.2" transform="rotate(22 288 61.2)" fill="none" stroke="#505050" stroke-width="1.05" stroke-dasharray="2.7 2.0"/>
<ellipse cx="309" cy="80" rx="21" ry="37.5" transform="rotate(22 309 80)" fill="none" stroke="#505050" stroke-width="1.05" stroke-dasharray="2.7 2.0"/>
<ellipse cx="234.6" cy="105.5" rx="20" ry="30" transform="rotate(17 234.6 105.5)" fill="none" stroke="#505050" stroke-width="1.05" stroke-dasharray="2.7 2.0"/>
<ellipse cx="256.2" cy="114.4" rx="9" ry="14.6" transform="rotate(12 256.2 114.4)" fill="none" stroke="#505050" stroke-width="1.05" stroke-dasharray="2.7 2.0"/>
<text x="224.60" y="17.70" font-size="8.96" fill="#8cc866" stroke="#8cc866" stroke-width="0.12" transform="translate(224.60 17.70) scale(0.8929 1) translate(-224.60 -17.70)">CD4 T cells</text>
<text x="282.00" y="36.20" font-size="8.96" fill="#555555" stroke="#555555" stroke-width="0.12" transform="translate(282.00 36.20) scale(0.8929 1) translate(-282.00 -36.20)">Myeloid cells</text>
<text x="214.00" y="68.70" font-size="8.96" fill="#a04aa8" stroke="#a04aa8" stroke-width="0.12" transform="translate(214.00 68.70) scale(0.8929 1) translate(-214.00 -68.70)">CD8 T cells</text>
<text x="327.00" y="110.60" font-size="8.96" fill="#4a4a9c" stroke="#4a4a9c" stroke-width="0.12" transform="translate(327.00 110.60) scale(0.8929 1) translate(-327.00 -110.60)">CLL cells</text>
<text x="269.00" y="128.50" font-size="8.96" fill="#f0a040" stroke="#f0a040" stroke-width="0.12" transform="translate(269.00 128.50) scale(0.8929 1) translate(-269.00 -128.50)">NK cells</text>
<line x1="204.30" y1="145.60" x2="204.30" y2="126.60" stroke="#231f20" stroke-width="1"/>
<line x1="204.30" y1="145.60" x2="223.30" y2="145.60" stroke="#231f20" stroke-width="1"/>
<path d="M204.3 122.1 L202.4 127.1 L206.20000000000002 127.1 Z" fill="#231f20"/>
<path d="M227.8 145.6 L222.8 143.7 L222.8 147.5 Z" fill="#231f20"/>
<text x="197.00" y="146.90" font-size="8.2" font-weight="bold" fill="#231f20" transform="rotate(-90 197.00 146.90)" textLength="26.6" lengthAdjust="spacingAndGlyphs">UMAP_2</text>
<text x="202.90" y="158.30" font-size="8.2" font-weight="bold" fill="#231f20" textLength="26.2" lengthAdjust="spacingAndGlyphs">UMAP_1</text>
<g opacity="1"><circle cx="430.1" cy="23.1" r="0.5" fill="#e0f0d0"/><circle cx="432.0" cy="21.1" r="0.5" fill="#cfe8b8"/><circle cx="432.1" cy="17.9" r="0.5" fill="#cfe8b8"/><circle cx="432.5" cy="21.6" r="0.5" fill="#cfe8b8"/><circle cx="430.0" cy="21.7" r="0.5" fill="#cfe8b8"/><circle cx="428.7" cy="21.8" r="0.5" fill="#cfe8b8"/><circle cx="428.4" cy="17.7" r="0.5" fill="#e0f0d0"/><circle cx="429.3" cy="23.4" r="0.5" fill="#cfe8b8"/><circle cx="432.5" cy="22.3" r="0.5" fill="#cfe8b8"/><circle cx="431.4" cy="18.0" r="0.5" fill="#cfe8b8"/><circle cx="429.7" cy="18.6" r="0.5" fill="#cfe8b8"/><circle cx="431.7" cy="20.9" r="0.5" fill="#e0f0d0"/><circle cx="432.0" cy="22.9" r="0.5" fill="#e0f0d0"/><circle cx="431.2" cy="20.6" r="0.5" fill="#cfe8b8"/><circle cx="430.2" cy="23.6" r="0.5" fill="#cfe8b8"/><circle cx="431.0" cy="21.5" r="0.5" fill="#e0f0d0"/><circle cx="431.8" cy="19.6" r="0.5" fill="#cfe8b8"/><circle cx="432.0" cy="18.2" r="0.5" fill="#e0f0d0"/><circle cx="429.9" cy="21.2" r="0.5" fill="#cfe8b8"/><circle cx="433.7" cy="16.9" r="0.5" fill="#e0f0d0"/><circle cx="430.1" cy="24.7" r="0.5" fill="#e0f0d0"/><circle cx="430.6" cy="20.2" r="0.5" fill="#e0f0d0"/><circle cx="429.8" cy="22.8" r="0.5" fill="#e0f0d0"/><circle cx="431.6" cy="21.4" r="0.5" fill="#e0f0d0"/><circle cx="430.5" cy="24.1" r="0.5" fill="#e0f0d0"/></g>
<g opacity="1"><circle cx="448.6" cy="53.9" r="0.6" fill="#1f2d8c"/><circle cx="461.1" cy="34.7" r="0.6" fill="#18247a"/><circle cx="451.0" cy="43.0" r="0.6" fill="#25349a"/><circle cx="442.2" cy="54.8" r="0.6" fill="#25349a"/><circle cx="452.0" cy="39.3" r="0.6" fill="#6a78c0"/><circle cx="462.9" cy="42.4" r="0.6" fill="#6a78c0"/><circle cx="458.6" cy="36.7" r="0.6" fill="#1f2d8c"/><circle cx="458.5" cy="38.3" r="0.6" fill="#25349a"/><circle cx="458.6" cy="37.8" r="0.6" fill="#3a4aa8"/><circle cx="455.4" cy="47.5" r="0.6" fill="#25349a"/><circle cx="452.1" cy="46.6" r="0.6" fill="#3a4aa8"/><circle cx="454.0" cy="44.7" r="0.6" fill="#6a78c0"/><circle cx="453.4" cy="41.8" r="0.6" fill="#3a4aa8"/><circle cx="454.9" cy="44.7" r="0.6" fill="#1f2d8c"/><circle cx="448.4" cy="54.1" r="0.6" fill="#9aa4dc"/><circle cx="447.8" cy="45.0" r="0.6" fill="#2a3a9c"/><circle cx="455.7" cy="42.9" r="0.6" fill="#1f2d8c"/><circle cx="455.1" cy="38.2" r="0.6" fill="#9aa4dc"/><circle cx="457.4" cy="38.6" r="0.6" fill="#2a3a9c"/><circle cx="451.4" cy="48.2" r="0.6" fill="#2a3a9c"/><circle cx="451.9" cy="39.1" r="0.6" fill="#18247a"/><circle cx="446.1" cy="50.6" r="0.6" fill="#9aa4dc"/><circle cx="449.3" cy="45.8" r="0.6" fill="#25349a"/><circle cx="460.6" cy="36.0" r="0.6" fill="#6a78c0"/><circle cx="445.0" cy="38.6" r="0.6" fill="#25349a"/><circle cx="442.1" cy="55.2" r="0.6" fill="#3a4aa8"/><circle cx="447.2" cy="47.2" r="0.6" fill="#2a3a9c"/><circle cx="456.8" cy="37.2" r="0.6" fill="#1f2d8c"/><circle cx="448.0" cy="52.0" r="0.6" fill="#18247a"/><circle cx="452.6" cy="45.0" r="0.6" fill="#9aa4dc"/><circle cx="459.5" cy="44.5" r="0.6" fill="#25349a"/><circle cx="454.8" cy="43.2" r="0.6" fill="#1f2d8c"/><circle cx="462.8" cy="40.9" r="0.6" fill="#9aa4dc"/><circle cx="458.4" cy="45.0" r="0.6" fill="#2a3a9c"/><circle cx="458.9" cy="42.6" r="0.6" fill="#18247a"/><circle cx="463.5" cy="38.0" r="0.6" fill="#25349a"/><circle cx="462.2" cy="39.6" r="0.6" fill="#25349a"/><circle cx="458.3" cy="43.2" r="0.6" fill="#2a3a9c"/><circle cx="460.3" cy="32.5" r="0.6" fill="#1f2d8c"/><circle cx="459.4" cy="30.5" r="0.6" fill="#2a3a9c"/><circle cx="458.4" cy="49.3" r="0.6" fill="#18247a"/><circle cx="461.0" cy="46.1" r="0.6" fill="#3a4aa8"/><circle cx="456.1" cy="42.9" r="0.6" fill="#3a4aa8"/><circle cx="454.1" cy="56.5" r="0.6" fill="#18247a"/><circle cx="451.6" cy="51.6" r="0.6" fill="#18247a"/><circle cx="445.8" cy="51.6" r="0.6" fill="#9aa4dc"/><circle cx="446.5" cy="50.2" r="0.6" fill="#2a3a9c"/><circle cx="450.0" cy="53.8" r="0.6" fill="#3a4aa8"/><circle cx="455.8" cy="41.7" r="0.6" fill="#18247a"/><circle cx="446.8" cy="53.8" r="0.6" fill="#1f2d8c"/><circle cx="458.8" cy="37.2" r="0.6" fill="#3a4aa8"/><circle cx="456.3" cy="41.5" r="0.6" fill="#1f2d8c"/><circle cx="459.9" cy="39.4" r="0.6" fill="#6a78c0"/><circle cx="450.2" cy="55.9" r="0.6" fill="#18247a"/><circle cx="449.1" cy="45.8" r="0.6" fill="#9aa4dc"/><circle cx="457.0" cy="33.7" r="0.6" fill="#9aa4dc"/><circle cx="452.8" cy="54.8" r="0.6" fill="#18247a"/><circle cx="457.3" cy="46.7" r="0.6" fill="#9aa4dc"/><circle cx="456.8" cy="54.1" r="0.6" fill="#2a3a9c"/><circle cx="455.0" cy="49.2" r="0.6" fill="#18247a"/><circle cx="449.6" cy="46.9" r="0.6" fill="#2a3a9c"/><circle cx="463.0" cy="32.1" r="0.6" fill="#2a3a9c"/><circle cx="460.9" cy="36.0" r="0.6" fill="#2a3a9c"/><circle cx="454.0" cy="46.1" r="0.6" fill="#9aa4dc"/><circle cx="454.7" cy="40.5" r="0.6" fill="#6a78c0"/><circle cx="447.7" cy="51.2" r="0.6" fill="#18247a"/><circle cx="447.6" cy="49.8" r="0.6" fill="#6a78c0"/><circle cx="456.2" cy="43.9" r="0.6" fill="#6a78c0"/><circle cx="456.3" cy="30.2" r="0.6" fill="#9aa4dc"/><circle cx="456.8" cy="48.4" r="0.6" fill="#1f2d8c"/><circle cx="451.3" cy="58.9" r="0.6" fill="#6a78c0"/><circle cx="452.5" cy="45.5" r="0.6" fill="#3a4aa8"/><circle cx="465.7" cy="41.8" r="0.6" fill="#25349a"/><circle cx="455.9" cy="44.0" r="0.6" fill="#18247a"/><circle cx="454.8" cy="49.4" r="0.6" fill="#25349a"/><circle cx="451.9" cy="43.9" r="0.6" fill="#2a3a9c"/><circle cx="452.0" cy="48.2" r="0.6" fill="#18247a"/><circle cx="452.0" cy="47.9" r="0.6" fill="#18247a"/><circle cx="452.0" cy="47.2" r="0.6" fill="#18247a"/><circle cx="447.8" cy="58.1" r="0.6" fill="#18247a"/><circle cx="450.2" cy="55.9" r="0.6" fill="#25349a"/><circle cx="447.1" cy="44.0" r="0.6" fill="#3a4aa8"/><circle cx="462.2" cy="35.8" r="0.6" fill="#25349a"/><circle cx="456.1" cy="49.3" r="0.6" fill="#25349a"/><circle cx="447.8" cy="46.1" r="0.6" fill="#6a78c0"/><circle cx="463.1" cy="37.7" r="0.6" fill="#25349a"/><circle cx="452.6" cy="46.8" r="0.6" fill="#1f2d8c"/><circle cx="450.0" cy="44.1" r="0.6" fill="#25349a"/><circle cx="453.0" cy="39.6" r="0.6" fill="#3a4aa8"/><circle cx="456.4" cy="46.5" r="0.6" fill="#2a3a9c"/><circle cx="450.2" cy="34.5" r="0.6" fill="#9aa4dc"/><circle cx="451.2" cy="39.0" r="0.6" fill="#1f2d8c"/><circle cx="449.7" cy="56.0" r="0.6" fill="#9aa4dc"/><circle cx="455.1" cy="50.1" r="0.6" fill="#18247a"/><circle cx="461.0" cy="41.3" r="0.6" fill="#2a3a9c"/><circle cx="445.4" cy="50.6" r="0.6" fill="#9aa4dc"/><circle cx="459.8" cy="43.1" r="0.6" fill="#1f2d8c"/><circle cx="453.3" cy="54.3" r="0.6" fill="#1f2d8c"/><circle cx="457.1" cy="42.1" r="0.6" fill="#25349a"/><circle cx="464.2" cy="35.8" r="0.6" fill="#9aa4dc"/><circle cx="459.6" cy="30.1" r="0.6" fill="#9aa4dc"/><circle cx="451.9" cy="49.3" r="0.6" fill="#3a4aa8"/><circle cx="461.0" cy="33.0" r="0.6" fill="#1f2d8c"/><circle cx="463.6" cy="41.9" r="0.6" fill="#6a78c0"/><circle cx="452.1" cy="40.2" r="0.6" fill="#1f2d8c"/><circle cx="458.4" cy="46.5" r="0.6" fill="#2a3a9c"/><circle cx="461.1" cy="43.1" r="0.6" fill="#1f2d8c"/><circle cx="452.6" cy="49.1" r="0.6" fill="#1f2d8c"/><circle cx="443.6" cy="48.4" r="0.6" fill="#3a4aa8"/><circle cx="447.3" cy="46.4" r="0.6" fill="#1f2d8c"/><circle cx="456.2" cy="49.2" r="0.6" fill="#25349a"/><circle cx="451.7" cy="47.2" r="0.6" fill="#1f2d8c"/><circle cx="448.2" cy="40.1" r="0.6" fill="#1f2d8c"/><circle cx="444.1" cy="59.6" r="0.6" fill="#6a78c0"/><circle cx="457.9" cy="38.6" r="0.6" fill="#3a4aa8"/><circle cx="456.5" cy="38.0" r="0.6" fill="#25349a"/><circle cx="450.5" cy="50.2" r="0.6" fill="#6a78c0"/><circle cx="460.9" cy="40.9" r="0.6" fill="#3a4aa8"/><circle cx="455.2" cy="43.2" r="0.6" fill="#9aa4dc"/><circle cx="453.7" cy="40.4" r="0.6" fill="#9aa4dc"/><circle cx="446.8" cy="51.4" r="0.6" fill="#9aa4dc"/><circle cx="441.3" cy="44.0" r="0.6" fill="#18247a"/><circle cx="454.1" cy="48.4" r="0.6" fill="#9aa4dc"/><circle cx="457.5" cy="47.2" r="0.6" fill="#18247a"/><circle cx="447.0" cy="52.3" r="0.6" fill="#3a4aa8"/><circle cx="453.0" cy="43.6" r="0.6" fill="#1f2d8c"/><circle cx="457.3" cy="35.7" r="0.6" fill="#9aa4dc"/><circle cx="448.7" cy="50.3" r="0.6" fill="#25349a"/><circle cx="455.9" cy="48.3" r="0.6" fill="#25349a"/><circle cx="452.8" cy="41.3" r="0.6" fill="#3a4aa8"/><circle cx="451.3" cy="42.1" r="0.6" fill="#2a3a9c"/><circle cx="455.0" cy="32.4" r="0.6" fill="#9aa4dc"/><circle cx="454.2" cy="48.7" r="0.6" fill="#1f2d8c"/><circle cx="459.1" cy="40.7" r="0.6" fill="#6a78c0"/><circle cx="459.8" cy="35.3" r="0.6" fill="#6a78c0"/><circle cx="458.9" cy="45.2" r="0.6" fill="#2a3a9c"/><circle cx="449.7" cy="51.5" r="0.6" fill="#9aa4dc"/><circle cx="455.9" cy="36.8" r="0.6" fill="#25349a"/><circle cx="462.0" cy="34.7" r="0.6" fill="#9aa4dc"/><circle cx="449.1" cy="49.9" r="0.6" fill="#9aa4dc"/><circle cx="454.6" cy="51.5" r="0.6" fill="#25349a"/><circle cx="458.4" cy="36.4" r="0.6" fill="#2a3a9c"/><circle cx="451.0" cy="46.1" r="0.6" fill="#3a4aa8"/><circle cx="449.6" cy="46.7" r="0.6" fill="#18247a"/><circle cx="455.4" cy="60.6" r="0.6" fill="#9aa4dc"/><circle cx="457.6" cy="47.8" r="0.6" fill="#3a4aa8"/><circle cx="455.3" cy="39.2" r="0.6" fill="#2a3a9c"/><circle cx="453.9" cy="40.7" r="0.6" fill="#18247a"/><circle cx="450.7" cy="53.7" r="0.6" fill="#2a3a9c"/><circle cx="461.8" cy="39.1" r="0.6" fill="#3a4aa8"/><circle cx="446.4" cy="52.4" r="0.6" fill="#9aa4dc"/><circle cx="443.7" cy="47.2" r="0.6" fill="#9aa4dc"/><circle cx="455.9" cy="46.0" r="0.6" fill="#9aa4dc"/><circle cx="459.5" cy="44.4" r="0.6" fill="#6a78c0"/><circle cx="460.4" cy="33.6" r="0.6" fill="#2a3a9c"/><circle cx="454.4" cy="46.3" r="0.6" fill="#18247a"/><circle cx="461.5" cy="33.0" r="0.6" fill="#1f2d8c"/><circle cx="453.4" cy="41.4" r="0.6" fill="#9aa4dc"/><circle cx="448.5" cy="45.8" r="0.6" fill="#1f2d8c"/><circle cx="451.1" cy="52.1" r="0.6" fill="#1f2d8c"/><circle cx="462.1" cy="45.0" r="0.6" fill="#25349a"/><circle cx="462.7" cy="42.8" r="0.6" fill="#3a4aa8"/><circle cx="460.7" cy="35.3" r="0.6" fill="#2a3a9c"/><circle cx="450.4" cy="51.4" r="0.6" fill="#2a3a9c"/><circle cx="451.6" cy="44.1" r="0.6" fill="#3a4aa8"/><circle cx="451.4" cy="43.1" r="0.6" fill="#6a78c0"/><circle cx="447.6" cy="55.2" r="0.6" fill="#9aa4dc"/><circle cx="451.1" cy="52.3" r="0.6" fill="#1f2d8c"/><circle cx="451.5" cy="45.9" r="0.6" fill="#25349a"/><circle cx="458.3" cy="34.3" r="0.6" fill="#2a3a9c"/><circle cx="452.0" cy="48.0" r="0.6" fill="#1f2d8c"/><circle cx="445.0" cy="43.3" r="0.6" fill="#1f2d8c"/><circle cx="448.2" cy="50.0" r="0.6" fill="#6a78c0"/><circle cx="450.6" cy="45.4" r="0.6" fill="#3a4aa8"/><circle cx="457.1" cy="43.9" r="0.6" fill="#3a4aa8"/><circle cx="447.5" cy="48.2" r="0.6" fill="#18247a"/><circle cx="445.1" cy="53.2" r="0.6" fill="#9aa4dc"/><circle cx="465.3" cy="42.3" r="0.6" fill="#3a4aa8"/><circle cx="443.4" cy="48.8" r="0.6" fill="#1f2d8c"/><circle cx="443.1" cy="53.0" r="0.6" fill="#25349a"/><circle cx="452.0" cy="52.8" r="0.6" fill="#9aa4dc"/><circle cx="455.3" cy="52.2" r="0.6" fill="#6a78c0"/><circle cx="444.5" cy="60.8" r="0.6" fill="#2a3a9c"/><circle cx="459.6" cy="40.1" r="0.6" fill="#9aa4dc"/><circle cx="461.1" cy="43.1" r="0.6" fill="#3a4aa8"/><circle cx="460.9" cy="35.5" r="0.6" fill="#6a78c0"/><circle cx="451.0" cy="56.9" r="0.6" fill="#9aa4dc"/><circle cx="444.0" cy="43.9" r="0.6" fill="#2a3a9c"/><circle cx="457.5" cy="40.8" r="0.6" fill="#1f2d8c"/><circle cx="449.3" cy="51.2" r="0.6" fill="#18247a"/><circle cx="454.2" cy="45.9" r="0.6" fill="#1f2d8c"/><circle cx="455.2" cy="39.4" r="0.6" fill="#9aa4dc"/><circle cx="448.2" cy="62.1" r="0.6" fill="#6a78c0"/><circle cx="444.4" cy="56.8" r="0.6" fill="#18247a"/><circle cx="450.7" cy="46.6" r="0.6" fill="#2a3a9c"/><circle cx="450.2" cy="40.1" r="0.6" fill="#3a4aa8"/><circle cx="458.1" cy="45.0" r="0.6" fill="#1f2d8c"/><circle cx="455.8" cy="48.0" r="0.6" fill="#6a78c0"/><circle cx="456.0" cy="53.6" r="0.6" fill="#25349a"/><circle cx="451.6" cy="43.5" r="0.6" fill="#25349a"/><circle cx="455.3" cy="50.5" r="0.6" fill="#1f2d8c"/><circle cx="450.4" cy="38.3" r="0.6" fill="#9aa4dc"/><circle cx="460.2" cy="33.3" r="0.6" fill="#25349a"/><circle cx="452.7" cy="41.6" r="0.6" fill="#9aa4dc"/><circle cx="449.2" cy="50.2" r="0.6" fill="#1f2d8c"/><circle cx="452.1" cy="56.1" r="0.6" fill="#25349a"/><circle cx="447.0" cy="50.2" r="0.6" fill="#2a3a9c"/><circle cx="446.7" cy="54.2" r="0.6" fill="#25349a"/><circle cx="448.9" cy="46.1" r="0.6" fill="#2a3a9c"/><circle cx="447.2" cy="49.0" r="0.6" fill="#3a4aa8"/><circle cx="450.9" cy="36.9" r="0.6" fill="#6a78c0"/><circle cx="456.8" cy="43.2" r="0.6" fill="#1f2d8c"/><circle cx="453.6" cy="39.4" r="0.6" fill="#1f2d8c"/><circle cx="459.4" cy="42.8" r="0.6" fill="#1f2d8c"/><circle cx="456.3" cy="50.4" r="0.6" fill="#18247a"/><circle cx="458.6" cy="36.8" r="0.6" fill="#18247a"/><circle cx="458.7" cy="48.9" r="0.6" fill="#6a78c0"/><circle cx="457.4" cy="42.7" r="0.6" fill="#2a3a9c"/><circle cx="444.2" cy="50.0" r="0.6" fill="#9aa4dc"/><circle cx="459.1" cy="40.0" r="0.6" fill="#9aa4dc"/><circle cx="463.1" cy="39.3" r="0.6" fill="#2a3a9c"/><circle cx="452.8" cy="44.2" r="0.6" fill="#6a78c0"/><circle cx="450.0" cy="48.8" r="0.6" fill="#9aa4dc"/><circle cx="448.7" cy="48.9" r="0.6" fill="#9aa4dc"/><circle cx="460.9" cy="41.7" r="0.6" fill="#3a4aa8"/><circle cx="455.9" cy="37.2" r="0.6" fill="#2a3a9c"/><circle cx="458.3" cy="37.5" r="0.6" fill="#9aa4dc"/><circle cx="453.9" cy="47.5" r="0.6" fill="#25349a"/><circle cx="457.1" cy="38.4" r="0.6" fill="#18247a"/><circle cx="464.4" cy="37.8" r="0.6" fill="#3a4aa8"/><circle cx="447.9" cy="60.9" r="0.6" fill="#2a3a9c"/><circle cx="452.6" cy="45.4" r="0.6" fill="#25349a"/><circle cx="453.9" cy="33.0" r="0.6" fill="#25349a"/><circle cx="441.4" cy="53.4" r="0.6" fill="#9aa4dc"/><circle cx="446.2" cy="58.3" r="0.6" fill="#25349a"/><circle cx="464.3" cy="38.6" r="0.6" fill="#25349a"/><circle cx="458.7" cy="41.6" r="0.6" fill="#2a3a9c"/><circle cx="443.5" cy="53.4" r="0.6" fill="#25349a"/><circle cx="460.6" cy="36.0" r="0.6" fill="#6a78c0"/><circle cx="452.6" cy="61.4" r="0.6" fill="#1f2d8c"/><circle cx="451.8" cy="43.1" r="0.6" fill="#18247a"/><circle cx="455.7" cy="43.4" r="0.6" fill="#9aa4dc"/><circle cx="447.7" cy="56.6" r="0.6" fill="#25349a"/><circle cx="464.5" cy="38.1" r="0.6" fill="#6a78c0"/><circle cx="462.1" cy="31.6" r="0.6" fill="#25349a"/><circle cx="454.7" cy="47.8" r="0.6" fill="#6a78c0"/><circle cx="452.7" cy="40.9" r="0.6" fill="#2a3a9c"/><circle cx="461.3" cy="38.8" r="0.6" fill="#9aa4dc"/><circle cx="454.1" cy="39.8" r="0.6" fill="#1f2d8c"/><circle cx="454.5" cy="43.7" r="0.6" fill="#1f2d8c"/><circle cx="460.1" cy="35.2" r="0.6" fill="#1f2d8c"/><circle cx="451.4" cy="44.3" r="0.6" fill="#1f2d8c"/><circle cx="459.1" cy="42.9" r="0.6" fill="#18247a"/><circle cx="454.7" cy="36.7" r="0.6" fill="#3a4aa8"/><circle cx="460.0" cy="45.2" r="0.6" fill="#1f2d8c"/><circle cx="458.4" cy="50.1" r="0.6" fill="#3a4aa8"/><circle cx="468.8" cy="36.3" r="0.6" fill="#3a4aa8"/><circle cx="449.1" cy="57.6" r="0.6" fill="#18247a"/><circle cx="448.9" cy="46.7" r="0.6" fill="#18247a"/><circle cx="452.9" cy="46.9" r="0.6" fill="#6a78c0"/><circle cx="458.4" cy="43.1" r="0.6" fill="#25349a"/><circle cx="455.4" cy="49.9" r="0.6" fill="#9aa4dc"/><circle cx="463.3" cy="33.6" r="0.6" fill="#6a78c0"/><circle cx="455.1" cy="45.6" r="0.6" fill="#3a4aa8"/><circle cx="447.8" cy="50.6" r="0.6" fill="#2a3a9c"/><circle cx="452.1" cy="47.7" r="0.6" fill="#2a3a9c"/><circle cx="455.2" cy="43.3" r="0.6" fill="#9aa4dc"/><circle cx="451.4" cy="45.7" r="0.6" fill="#3a4aa8"/><circle cx="458.7" cy="40.3" r="0.6" fill="#25349a"/><circle cx="456.5" cy="38.8" r="0.6" fill="#3a4aa8"/><circle cx="450.2" cy="44.6" r="0.6" fill="#2a3a9c"/><circle cx="458.5" cy="50.1" r="0.6" fill="#6a78c0"/><circle cx="451.0" cy="51.3" r="0.6" fill="#18247a"/><circle cx="444.9" cy="53.5" r="0.6" fill="#18247a"/><circle cx="444.9" cy="49.4" r="0.6" fill="#3a4aa8"/><circle cx="462.9" cy="39.5" r="0.6" fill="#9aa4dc"/><circle cx="461.6" cy="36.1" r="0.6" fill="#2a3a9c"/><circle cx="462.4" cy="35.5" r="0.6" fill="#6a78c0"/><circle cx="451.5" cy="44.9" r="0.6" fill="#1f2d8c"/><circle cx="456.3" cy="39.8" r="0.6" fill="#9aa4dc"/><circle cx="452.9" cy="47.3" r="0.6" fill="#1f2d8c"/><circle cx="453.0" cy="41.5" r="0.6" fill="#3a4aa8"/><circle cx="461.6" cy="41.5" r="0.6" fill="#2a3a9c"/><circle cx="459.8" cy="32.3" r="0.6" fill="#3a4aa8"/><circle cx="452.6" cy="45.1" r="0.6" fill="#25349a"/><circle cx="461.0" cy="41.1" r="0.6" fill="#1f2d8c"/><circle cx="451.7" cy="54.5" r="0.6" fill="#2a3a9c"/><circle cx="447.2" cy="48.5" r="0.6" fill="#1f2d8c"/><circle cx="444.7" cy="47.2" r="0.6" fill="#6a78c0"/><circle cx="455.2" cy="50.5" r="0.6" fill="#6a78c0"/><circle cx="458.4" cy="29.9" r="0.6" fill="#2a3a9c"/><circle cx="465.6" cy="40.4" r="0.6" fill="#6a78c0"/><circle cx="450.8" cy="50.7" r="0.6" fill="#9aa4dc"/><circle cx="456.5" cy="45.3" r="0.6" fill="#1f2d8c"/><circle cx="454.8" cy="44.6" r="0.6" fill="#1f2d8c"/><circle cx="457.9" cy="41.6" r="0.6" fill="#25349a"/><circle cx="457.0" cy="39.8" r="0.6" fill="#2a3a9c"/><circle cx="460.3" cy="43.6" r="0.6" fill="#2a3a9c"/><circle cx="450.4" cy="48.0" r="0.6" fill="#3a4aa8"/><circle cx="449.8" cy="48.9" r="0.6" fill="#6a78c0"/></g>
<g opacity="1"><circle cx="446.8" cy="43.8" r="0.45" fill="#666"/><circle cx="449.4" cy="31.3" r="0.45" fill="#666"/><circle cx="448.4" cy="28.6" r="0.45" fill="#666"/><circle cx="438.8" cy="31.8" r="0.45" fill="#666"/><circle cx="451.9" cy="38.1" r="0.45" fill="#999"/><circle cx="443.9" cy="36.7" r="0.45" fill="#999"/><circle cx="439.6" cy="34.2" r="0.45" fill="#999"/><circle cx="443.0" cy="29.8" r="0.45" fill="#999"/><circle cx="444.8" cy="31.7" r="0.45" fill="#666"/><circle cx="447.0" cy="29.8" r="0.45" fill="#999"/><circle cx="447.2" cy="36.9" r="0.45" fill="#666"/><circle cx="448.5" cy="37.7" r="0.45" fill="#999"/></g>
<g opacity="1"><circle cx="416.1" cy="53.2" r="0.55" fill="#8a2a90"/><circle cx="419.7" cy="64.1" r="0.55" fill="#c090d0"/><circle cx="420.8" cy="50.8" r="0.55" fill="#6a1a78"/><circle cx="418.6" cy="63.9" r="0.55" fill="#8a2a90"/><circle cx="419.5" cy="65.5" r="0.55" fill="#8a2a90"/><circle cx="416.7" cy="58.2" r="0.55" fill="#c090d0"/><circle cx="422.3" cy="57.0" r="0.55" fill="#8a2a90"/><circle cx="419.2" cy="50.5" r="0.55" fill="#6a1a78"/><circle cx="420.4" cy="50.6" r="0.55" fill="#a050b0"/><circle cx="413.8" cy="54.3" r="0.55" fill="#6a1a78"/><circle cx="423.0" cy="51.2" r="0.55" fill="#8a2a90"/><circle cx="421.9" cy="54.3" r="0.55" fill="#c090d0"/><circle cx="420.6" cy="57.5" r="0.55" fill="#a050b0"/><circle cx="416.1" cy="57.3" r="0.55" fill="#c090d0"/><circle cx="421.2" cy="50.0" r="0.55" fill="#a050b0"/><circle cx="419.2" cy="49.1" r="0.55" fill="#a050b0"/><circle cx="416.5" cy="50.1" r="0.55" fill="#a050b0"/><circle cx="415.0" cy="61.4" r="0.55" fill="#6a1a78"/><circle cx="416.9" cy="64.3" r="0.55" fill="#8a2a90"/><circle cx="411.8" cy="58.2" r="0.55" fill="#8a2a90"/><circle cx="418.4" cy="63.3" r="0.55" fill="#a050b0"/><circle cx="416.7" cy="55.4" r="0.55" fill="#6a1a78"/><circle cx="416.6" cy="56.0" r="0.55" fill="#6a1a78"/><circle cx="422.1" cy="54.6" r="0.55" fill="#6a1a78"/><circle cx="421.4" cy="58.6" r="0.55" fill="#8a2a90"/><circle cx="417.8" cy="58.3" r="0.55" fill="#c090d0"/><circle cx="414.3" cy="61.9" r="0.55" fill="#8a2a90"/><circle cx="421.0" cy="55.3" r="0.55" fill="#8a2a90"/><circle cx="417.0" cy="51.6" r="0.55" fill="#a050b0"/><circle cx="419.7" cy="48.1" r="0.55" fill="#a050b0"/><circle cx="424.5" cy="52.7" r="0.55" fill="#c090d0"/><circle cx="419.6" cy="55.8" r="0.55" fill="#a050b0"/><circle cx="417.1" cy="54.9" r="0.55" fill="#6a1a78"/><circle cx="412.7" cy="57.8" r="0.55" fill="#6a1a78"/><circle cx="418.2" cy="59.5" r="0.55" fill="#a050b0"/><circle cx="420.6" cy="54.8" r="0.55" fill="#6a1a78"/><circle cx="419.6" cy="54.2" r="0.55" fill="#a050b0"/><circle cx="417.2" cy="52.3" r="0.55" fill="#6a1a78"/><circle cx="421.4" cy="53.9" r="0.55" fill="#c090d0"/><circle cx="420.7" cy="54.4" r="0.55" fill="#6a1a78"/><circle cx="420.7" cy="66.2" r="0.55" fill="#8a2a90"/><circle cx="422.4" cy="51.2" r="0.55" fill="#a050b0"/><circle cx="415.2" cy="54.4" r="0.55" fill="#6a1a78"/><circle cx="422.3" cy="55.9" r="0.55" fill="#6a1a78"/><circle cx="419.2" cy="48.7" r="0.55" fill="#6a1a78"/><circle cx="417.5" cy="63.0" r="0.55" fill="#c090d0"/><circle cx="417.6" cy="58.0" r="0.55" fill="#c090d0"/><circle cx="420.0" cy="67.9" r="0.55" fill="#6a1a78"/><circle cx="414.3" cy="55.6" r="0.55" fill="#8a2a90"/><circle cx="411.9" cy="57.7" r="0.55" fill="#c090d0"/><circle cx="415.8" cy="54.0" r="0.55" fill="#a050b0"/><circle cx="418.9" cy="67.0" r="0.55" fill="#a050b0"/><circle cx="421.3" cy="53.8" r="0.55" fill="#c090d0"/><circle cx="413.4" cy="54.4" r="0.55" fill="#8a2a90"/><circle cx="418.8" cy="56.0" r="0.55" fill="#c090d0"/><circle cx="419.9" cy="66.2" r="0.55" fill="#a050b0"/><circle cx="419.5" cy="58.0" r="0.55" fill="#c090d0"/><circle cx="415.8" cy="60.6" r="0.55" fill="#a050b0"/><circle cx="423.1" cy="51.2" r="0.55" fill="#6a1a78"/><circle cx="419.7" cy="60.0" r="0.55" fill="#a050b0"/><circle cx="414.0" cy="62.8" r="0.55" fill="#a050b0"/><circle cx="414.8" cy="60.7" r="0.55" fill="#8a2a90"/><circle cx="414.6" cy="51.3" r="0.55" fill="#c090d0"/><circle cx="424.2" cy="53.9" r="0.55" fill="#c090d0"/><circle cx="418.7" cy="59.8" r="0.55" fill="#8a2a90"/><circle cx="416.9" cy="55.1" r="0.55" fill="#8a2a90"/><circle cx="416.4" cy="67.2" r="0.55" fill="#a050b0"/><circle cx="416.3" cy="65.8" r="0.55" fill="#8a2a90"/><circle cx="413.2" cy="60.9" r="0.55" fill="#8a2a90"/><circle cx="413.1" cy="60.1" r="0.55" fill="#c090d0"/><circle cx="414.7" cy="61.4" r="0.55" fill="#6a1a78"/><circle cx="424.5" cy="50.7" r="0.55" fill="#8a2a90"/><circle cx="424.2" cy="52.7" r="0.55" fill="#c090d0"/><circle cx="417.9" cy="62.4" r="0.55" fill="#c090d0"/><circle cx="420.6" cy="58.3" r="0.55" fill="#6a1a78"/><circle cx="419.3" cy="53.5" r="0.55" fill="#6a1a78"/><circle cx="414.1" cy="62.2" r="0.55" fill="#6a1a78"/><circle cx="417.3" cy="52.2" r="0.55" fill="#a050b0"/><circle cx="414.4" cy="53.6" r="0.55" fill="#c090d0"/><circle cx="416.7" cy="54.8" r="0.55" fill="#8a2a90"/><circle cx="416.1" cy="52.7" r="0.55" fill="#a050b0"/><circle cx="417.9" cy="51.1" r="0.55" fill="#6a1a78"/><circle cx="417.5" cy="62.0" r="0.55" fill="#c090d0"/><circle cx="418.4" cy="65.6" r="0.55" fill="#6a1a78"/><circle cx="419.9" cy="67.3" r="0.55" fill="#6a1a78"/><circle cx="419.8" cy="64.7" r="0.55" fill="#c090d0"/><circle cx="413.8" cy="63.2" r="0.55" fill="#a050b0"/><circle cx="416.3" cy="54.5" r="0.55" fill="#8a2a90"/><circle cx="419.7" cy="55.8" r="0.55" fill="#a050b0"/><circle cx="420.1" cy="65.6" r="0.55" fill="#8a2a90"/><circle cx="421.7" cy="50.2" r="0.55" fill="#a050b0"/><circle cx="414.6" cy="58.8" r="0.55" fill="#6a1a78"/><circle cx="416.2" cy="58.4" r="0.55" fill="#a050b0"/><circle cx="424.5" cy="53.0" r="0.55" fill="#6a1a78"/><circle cx="419.6" cy="67.4" r="0.55" fill="#a050b0"/><circle cx="425.0" cy="50.6" r="0.55" fill="#6a1a78"/><circle cx="411.4" cy="56.9" r="0.55" fill="#6a1a78"/><circle cx="421.0" cy="53.5" r="0.55" fill="#a050b0"/><circle cx="413.1" cy="60.7" r="0.55" fill="#6a1a78"/><circle cx="412.3" cy="58.2" r="0.55" fill="#c090d0"/></g>
<ellipse cx="448.5" cy="40" rx="6.5" ry="11.5" transform="rotate(28 448.5 40)" fill="none" stroke="#9a9a9a" stroke-width="0.6" stroke-dasharray="1.4 1.8"/>
<ellipse cx="454.5" cy="43.3" rx="12.5" ry="17.5" transform="rotate(22 454.5 43.3)" fill="none" stroke="#555" stroke-width="0.95" stroke-dasharray="2.2 1.8"/>
<text x="412.70" y="14.90" font-size="8.96" fill="#231f20" stroke="#231f20" stroke-width="0.12" transform="translate(412.70 14.90) scale(0.8929 1) translate(-412.70 -14.90)">CLL_028 Pre</text>
<text x="471.00" y="47.50" font-size="8.96" fill="#4a4a9c" stroke="#4a4a9c" stroke-width="0.12" transform="translate(471.00 47.50) scale(0.8929 1) translate(-471.00 -47.50)">CLL cells</text>
<g opacity="1"><circle cx="429.7" cy="91.2" r="0.55" fill="#a8d490"/><circle cx="426.8" cy="91.0" r="0.55" fill="#c8e4b0"/><circle cx="430.4" cy="90.4" r="0.55" fill="#a8d490"/><circle cx="429.1" cy="90.0" r="0.55" fill="#c8e4b0"/><circle cx="428.0" cy="93.1" r="0.55" fill="#c8e4b0"/><circle cx="428.0" cy="90.6" r="0.55" fill="#c8e4b0"/><circle cx="429.2" cy="91.9" r="0.55" fill="#a8d490"/><circle cx="430.6" cy="95.0" r="0.55" fill="#a8d490"/><circle cx="429.8" cy="90.1" r="0.55" fill="#c8e4b0"/><circle cx="427.4" cy="92.1" r="0.55" fill="#c8e4b0"/><circle cx="427.9" cy="90.9" r="0.55" fill="#a8d490"/><circle cx="431.0" cy="92.1" r="0.55" fill="#a8d490"/><circle cx="431.9" cy="90.6" r="0.55" fill="#c8e4b0"/><circle cx="428.4" cy="90.8" r="0.55" fill="#c8e4b0"/><circle cx="427.4" cy="92.7" r="0.55" fill="#c8e4b0"/><circle cx="431.2" cy="91.3" r="0.55" fill="#a8d490"/><circle cx="428.6" cy="89.3" r="0.55" fill="#a8d490"/><circle cx="429.0" cy="90.2" r="0.55" fill="#c8e4b0"/><circle cx="432.9" cy="90.9" r="0.55" fill="#a8d490"/><circle cx="428.2" cy="89.7" r="0.55" fill="#c8e4b0"/><circle cx="429.1" cy="91.3" r="0.55" fill="#a8d490"/><circle cx="429.1" cy="94.3" r="0.55" fill="#a8d490"/><circle cx="429.6" cy="90.1" r="0.55" fill="#a8d490"/><circle cx="427.8" cy="87.4" r="0.55" fill="#c8e4b0"/><circle cx="429.5" cy="89.2" r="0.55" fill="#a8d490"/><circle cx="430.0" cy="87.6" r="0.55" fill="#a8d490"/><circle cx="427.9" cy="91.9" r="0.55" fill="#a8d490"/><circle cx="428.2" cy="93.1" r="0.55" fill="#a8d490"/><circle cx="429.2" cy="91.4" r="0.55" fill="#a8d490"/><circle cx="428.3" cy="90.6" r="0.55" fill="#c8e4b0"/></g>
<path d="M440 110.5 L444 104.3 L446.8 103.8 L442 111.2 Z" fill="#3a3a3a"/>
<g opacity="1"><circle cx="455.5" cy="128.9" r="0.5" fill="#5a68b8"/><circle cx="457.4" cy="108.0" r="0.5" fill="#5a68b8"/><circle cx="453.9" cy="108.5" r="0.5" fill="#2a3a98"/><circle cx="456.6" cy="103.6" r="0.5" fill="#5a68b8"/><circle cx="462.7" cy="109.5" r="0.5" fill="#2a3a98"/><circle cx="453.8" cy="125.0" r="0.5" fill="#2a3a98"/><circle cx="453.7" cy="125.3" r="0.5" fill="#5a68b8"/><circle cx="456.3" cy="111.7" r="0.5" fill="#2a3a98"/><circle cx="450.3" cy="122.4" r="0.5" fill="#3a4aa8"/><circle cx="450.6" cy="121.7" r="0.5" fill="#3a4aa8"/><circle cx="451.9" cy="112.5" r="0.5" fill="#2a3a98"/><circle cx="452.6" cy="124.2" r="0.5" fill="#5a68b8"/><circle cx="450.6" cy="119.6" r="0.5" fill="#3a4aa8"/><circle cx="457.9" cy="119.4" r="0.5" fill="#3a4aa8"/><circle cx="465.2" cy="118.3" r="0.5" fill="#2a3a98"/><circle cx="459.1" cy="108.7" r="0.5" fill="#2a3a98"/><circle cx="457.8" cy="116.6" r="0.5" fill="#8a94d0"/><circle cx="449.6" cy="111.4" r="0.5" fill="#5a68b8"/><circle cx="463.7" cy="123.3" r="0.5" fill="#3a4aa8"/><circle cx="456.8" cy="104.3" r="0.5" fill="#2a3a98"/><circle cx="448.0" cy="113.9" r="0.5" fill="#2a3a98"/><circle cx="451.9" cy="120.8" r="0.5" fill="#2a3a98"/><circle cx="463.8" cy="108.5" r="0.5" fill="#3a4aa8"/><circle cx="457.9" cy="123.2" r="0.5" fill="#8a94d0"/><circle cx="449.8" cy="115.9" r="0.5" fill="#5a68b8"/><circle cx="463.9" cy="115.9" r="0.5" fill="#5a68b8"/><circle cx="453.5" cy="118.6" r="0.5" fill="#2a3a98"/><circle cx="453.2" cy="115.7" r="0.5" fill="#2a3a98"/><circle cx="461.3" cy="107.9" r="0.5" fill="#8a94d0"/><circle cx="455.6" cy="109.7" r="0.5" fill="#8a94d0"/><circle cx="452.3" cy="117.6" r="0.5" fill="#5a68b8"/><circle cx="454.5" cy="111.0" r="0.5" fill="#5a68b8"/><circle cx="461.1" cy="121.8" r="0.5" fill="#8a94d0"/><circle cx="457.6" cy="120.3" r="0.5" fill="#3a4aa8"/><circle cx="454.6" cy="115.2" r="0.5" fill="#2a3a98"/><circle cx="456.8" cy="107.7" r="0.5" fill="#2a3a98"/><circle cx="457.0" cy="104.8" r="0.5" fill="#3a4aa8"/><circle cx="455.9" cy="121.3" r="0.5" fill="#5a68b8"/><circle cx="462.5" cy="115.0" r="0.5" fill="#5a68b8"/><circle cx="452.1" cy="118.0" r="0.5" fill="#8a94d0"/><circle cx="461.8" cy="103.1" r="0.5" fill="#8a94d0"/><circle cx="459.0" cy="121.9" r="0.5" fill="#8a94d0"/><circle cx="452.5" cy="123.5" r="0.5" fill="#2a3a98"/><circle cx="459.9" cy="120.9" r="0.5" fill="#5a68b8"/><circle cx="457.3" cy="120.8" r="0.5" fill="#3a4aa8"/><circle cx="450.0" cy="118.0" r="0.5" fill="#2a3a98"/><circle cx="456.0" cy="114.2" r="0.5" fill="#8a94d0"/><circle cx="448.0" cy="123.3" r="0.5" fill="#8a94d0"/><circle cx="464.5" cy="124.0" r="0.5" fill="#3a4aa8"/><circle cx="455.3" cy="120.9" r="0.5" fill="#2a3a98"/><circle cx="452.5" cy="116.4" r="0.5" fill="#8a94d0"/><circle cx="456.1" cy="117.0" r="0.5" fill="#3a4aa8"/><circle cx="459.4" cy="105.2" r="0.5" fill="#8a94d0"/><circle cx="452.7" cy="115.3" r="0.5" fill="#2a3a98"/><circle cx="459.6" cy="113.9" r="0.5" fill="#8a94d0"/><circle cx="463.1" cy="123.5" r="0.5" fill="#2a3a98"/><circle cx="462.2" cy="119.5" r="0.5" fill="#2a3a98"/><circle cx="454.8" cy="122.9" r="0.5" fill="#5a68b8"/><circle cx="451.8" cy="125.5" r="0.5" fill="#8a94d0"/><circle cx="456.1" cy="131.6" r="0.5" fill="#2a3a98"/><circle cx="460.2" cy="121.7" r="0.5" fill="#2a3a98"/><circle cx="455.3" cy="122.7" r="0.5" fill="#8a94d0"/><circle cx="454.2" cy="125.6" r="0.5" fill="#2a3a98"/><circle cx="451.2" cy="118.3" r="0.5" fill="#8a94d0"/><circle cx="450.6" cy="123.0" r="0.5" fill="#2a3a98"/><circle cx="449.5" cy="120.5" r="0.5" fill="#8a94d0"/><circle cx="455.9" cy="128.3" r="0.5" fill="#2a3a98"/><circle cx="453.9" cy="112.8" r="0.5" fill="#2a3a98"/><circle cx="455.3" cy="122.7" r="0.5" fill="#2a3a98"/><circle cx="459.0" cy="105.2" r="0.5" fill="#5a68b8"/></g>
<g opacity="1"><circle cx="423.9" cy="140.3" r="0.6" fill="#8a2a90"/><circle cx="419.9" cy="126.5" r="0.6" fill="#a060b0"/><circle cx="421.6" cy="123.7" r="0.6" fill="#c090d0"/><circle cx="415.0" cy="129.5" r="0.6" fill="#a060b0"/><circle cx="419.2" cy="129.3" r="0.6" fill="#8a2a90"/><circle cx="421.6" cy="135.1" r="0.6" fill="#a060b0"/><circle cx="421.7" cy="119.4" r="0.6" fill="#c090d0"/><circle cx="419.9" cy="119.5" r="0.6" fill="#c090d0"/><circle cx="416.9" cy="123.8" r="0.6" fill="#b080c8"/><circle cx="423.4" cy="130.6" r="0.6" fill="#b080c8"/><circle cx="421.9" cy="123.5" r="0.6" fill="#c090d0"/><circle cx="416.2" cy="133.9" r="0.6" fill="#b080c8"/><circle cx="423.0" cy="134.3" r="0.6" fill="#b080c8"/><circle cx="418.0" cy="128.9" r="0.6" fill="#8a2a90"/><circle cx="417.4" cy="131.7" r="0.6" fill="#c090d0"/><circle cx="424.9" cy="140.4" r="0.6" fill="#8a2a90"/><circle cx="419.5" cy="138.3" r="0.6" fill="#b080c8"/><circle cx="414.4" cy="125.7" r="0.6" fill="#c090d0"/><circle cx="419.2" cy="138.9" r="0.6" fill="#b080c8"/><circle cx="420.6" cy="127.6" r="0.6" fill="#c090d0"/><circle cx="420.8" cy="118.7" r="0.6" fill="#a060b0"/><circle cx="420.0" cy="123.6" r="0.6" fill="#a060b0"/><circle cx="420.4" cy="137.5" r="0.6" fill="#c090d0"/><circle cx="418.4" cy="127.1" r="0.6" fill="#b080c8"/><circle cx="420.7" cy="122.5" r="0.6" fill="#b080c8"/><circle cx="416.7" cy="122.9" r="0.6" fill="#a060b0"/><circle cx="417.4" cy="129.6" r="0.6" fill="#b080c8"/><circle cx="424.5" cy="126.7" r="0.6" fill="#a060b0"/><circle cx="420.5" cy="136.6" r="0.6" fill="#a060b0"/><circle cx="421.6" cy="140.5" r="0.6" fill="#8a2a90"/><circle cx="413.2" cy="125.6" r="0.6" fill="#c090d0"/><circle cx="418.2" cy="125.8" r="0.6" fill="#c090d0"/><circle cx="419.2" cy="118.6" r="0.6" fill="#c090d0"/><circle cx="418.6" cy="118.8" r="0.6" fill="#8a2a90"/><circle cx="419.2" cy="122.4" r="0.6" fill="#8a2a90"/><circle cx="421.2" cy="117.1" r="0.6" fill="#a060b0"/><circle cx="422.9" cy="133.7" r="0.6" fill="#b080c8"/><circle cx="419.2" cy="136.3" r="0.6" fill="#8a2a90"/><circle cx="417.2" cy="138.4" r="0.6" fill="#a060b0"/><circle cx="421.3" cy="124.2" r="0.6" fill="#b080c8"/><circle cx="425.4" cy="123.9" r="0.6" fill="#c090d0"/><circle cx="423.5" cy="137.7" r="0.6" fill="#8a2a90"/><circle cx="419.2" cy="123.7" r="0.6" fill="#a060b0"/><circle cx="423.2" cy="118.7" r="0.6" fill="#8a2a90"/><circle cx="424.0" cy="137.6" r="0.6" fill="#8a2a90"/><circle cx="421.1" cy="124.1" r="0.6" fill="#8a2a90"/><circle cx="422.4" cy="117.1" r="0.6" fill="#a060b0"/><circle cx="417.4" cy="119.0" r="0.6" fill="#b080c8"/><circle cx="417.7" cy="119.5" r="0.6" fill="#a060b0"/><circle cx="421.7" cy="133.7" r="0.6" fill="#c090d0"/><circle cx="424.0" cy="139.0" r="0.6" fill="#b080c8"/><circle cx="419.0" cy="136.8" r="0.6" fill="#a060b0"/><circle cx="413.6" cy="132.8" r="0.6" fill="#b080c8"/><circle cx="413.0" cy="131.6" r="0.6" fill="#a060b0"/><circle cx="425.5" cy="120.7" r="0.6" fill="#a060b0"/><circle cx="425.8" cy="119.9" r="0.6" fill="#a060b0"/><circle cx="423.7" cy="132.9" r="0.6" fill="#a060b0"/><circle cx="421.8" cy="126.3" r="0.6" fill="#b080c8"/><circle cx="419.6" cy="122.0" r="0.6" fill="#8a2a90"/><circle cx="416.4" cy="123.5" r="0.6" fill="#a060b0"/><circle cx="424.6" cy="138.2" r="0.6" fill="#8a2a90"/><circle cx="422.3" cy="138.9" r="0.6" fill="#b080c8"/><circle cx="415.3" cy="122.2" r="0.6" fill="#8a2a90"/><circle cx="423.0" cy="118.3" r="0.6" fill="#a060b0"/><circle cx="412.8" cy="130.4" r="0.6" fill="#8a2a90"/><circle cx="422.9" cy="136.3" r="0.6" fill="#c090d0"/><circle cx="420.8" cy="134.0" r="0.6" fill="#8a2a90"/><circle cx="421.7" cy="139.6" r="0.6" fill="#a060b0"/><circle cx="417.0" cy="125.7" r="0.6" fill="#b080c8"/><circle cx="419.0" cy="125.3" r="0.6" fill="#c090d0"/><circle cx="421.3" cy="129.0" r="0.6" fill="#8a2a90"/><circle cx="423.3" cy="125.9" r="0.6" fill="#8a2a90"/><circle cx="419.9" cy="139.3" r="0.6" fill="#8a2a90"/><circle cx="421.5" cy="128.5" r="0.6" fill="#c090d0"/><circle cx="416.5" cy="128.2" r="0.6" fill="#b080c8"/><circle cx="421.2" cy="118.6" r="0.6" fill="#b080c8"/><circle cx="420.0" cy="118.5" r="0.6" fill="#c090d0"/><circle cx="421.2" cy="138.0" r="0.6" fill="#a060b0"/><circle cx="423.7" cy="124.4" r="0.6" fill="#a060b0"/><circle cx="413.7" cy="132.6" r="0.6" fill="#c090d0"/><circle cx="421.0" cy="135.6" r="0.6" fill="#a060b0"/><circle cx="423.6" cy="131.8" r="0.6" fill="#a060b0"/><circle cx="422.5" cy="128.8" r="0.6" fill="#a060b0"/><circle cx="422.1" cy="126.3" r="0.6" fill="#8a2a90"/><circle cx="414.6" cy="125.6" r="0.6" fill="#a060b0"/><circle cx="422.5" cy="136.7" r="0.6" fill="#c090d0"/><circle cx="422.3" cy="125.2" r="0.6" fill="#a060b0"/><circle cx="422.8" cy="137.5" r="0.6" fill="#b080c8"/><circle cx="419.4" cy="124.9" r="0.6" fill="#a060b0"/><circle cx="424.4" cy="123.5" r="0.6" fill="#a060b0"/><circle cx="418.7" cy="140.5" r="0.6" fill="#c090d0"/><circle cx="422.5" cy="136.6" r="0.6" fill="#a060b0"/><circle cx="421.4" cy="119.5" r="0.6" fill="#a060b0"/><circle cx="423.4" cy="135.6" r="0.6" fill="#c090d0"/><circle cx="417.4" cy="131.4" r="0.6" fill="#b080c8"/><circle cx="418.6" cy="137.6" r="0.6" fill="#c090d0"/><circle cx="416.2" cy="120.6" r="0.6" fill="#8a2a90"/><circle cx="416.4" cy="122.8" r="0.6" fill="#a060b0"/><circle cx="415.9" cy="135.9" r="0.6" fill="#a060b0"/><circle cx="418.5" cy="123.9" r="0.6" fill="#b080c8"/><circle cx="421.1" cy="122.0" r="0.6" fill="#a060b0"/><circle cx="424.8" cy="140.6" r="0.6" fill="#a060b0"/><circle cx="424.0" cy="135.4" r="0.6" fill="#a060b0"/><circle cx="424.8" cy="119.4" r="0.6" fill="#8a2a90"/><circle cx="425.4" cy="127.1" r="0.6" fill="#c090d0"/><circle cx="419.2" cy="131.1" r="0.6" fill="#c090d0"/><circle cx="424.9" cy="127.2" r="0.6" fill="#b080c8"/><circle cx="416.9" cy="120.3" r="0.6" fill="#a060b0"/><circle cx="415.2" cy="130.3" r="0.6" fill="#b080c8"/><circle cx="415.2" cy="133.0" r="0.6" fill="#c090d0"/></g>
<g opacity="1"><circle cx="416.2" cy="126.6" r="0.6" fill="#6a1a78"/><circle cx="421.2" cy="140.1" r="0.6" fill="#6a1a78"/><circle cx="417.9" cy="126.1" r="0.6" fill="#8a2a90"/><circle cx="420.4" cy="139.6" r="0.6" fill="#6a1a78"/><circle cx="414.5" cy="136.6" r="0.6" fill="#6a1a78"/><circle cx="417.9" cy="131.4" r="0.6" fill="#8a2a90"/><circle cx="416.8" cy="138.7" r="0.6" fill="#5a1068"/><circle cx="418.0" cy="140.5" r="0.6" fill="#5a1068"/><circle cx="418.0" cy="126.0" r="0.6" fill="#8a2a90"/><circle cx="418.7" cy="127.9" r="0.6" fill="#5a1068"/><circle cx="418.2" cy="130.2" r="0.6" fill="#5a1068"/><circle cx="419.4" cy="142.4" r="0.6" fill="#8a2a90"/><circle cx="420.3" cy="131.4" r="0.6" fill="#6a1a78"/><circle cx="417.9" cy="136.7" r="0.6" fill="#5a1068"/><circle cx="415.1" cy="134.1" r="0.6" fill="#8a2a90"/><circle cx="417.8" cy="127.6" r="0.6" fill="#5a1068"/><circle cx="419.8" cy="128.2" r="0.6" fill="#6a1a78"/><circle cx="419.3" cy="141.6" r="0.6" fill="#6a1a78"/><circle cx="418.6" cy="140.9" r="0.6" fill="#8a2a90"/><circle cx="418.6" cy="132.4" r="0.6" fill="#6a1a78"/><circle cx="417.5" cy="139.7" r="0.6" fill="#8a2a90"/><circle cx="418.7" cy="130.3" r="0.6" fill="#6a1a78"/><circle cx="414.3" cy="134.7" r="0.6" fill="#6a1a78"/><circle cx="413.9" cy="130.5" r="0.6" fill="#5a1068"/><circle cx="414.5" cy="127.4" r="0.6" fill="#8a2a90"/><circle cx="412.8" cy="131.4" r="0.6" fill="#6a1a78"/><circle cx="417.8" cy="133.0" r="0.6" fill="#6a1a78"/><circle cx="420.0" cy="132.1" r="0.6" fill="#5a1068"/><circle cx="418.5" cy="140.3" r="0.6" fill="#6a1a78"/><circle cx="419.2" cy="127.4" r="0.6" fill="#8a2a90"/><circle cx="418.5" cy="128.2" r="0.6" fill="#5a1068"/><circle cx="418.5" cy="136.0" r="0.6" fill="#8a2a90"/><circle cx="420.6" cy="138.4" r="0.6" fill="#8a2a90"/><circle cx="419.7" cy="130.0" r="0.6" fill="#8a2a90"/><circle cx="415.0" cy="127.5" r="0.6" fill="#6a1a78"/><circle cx="415.4" cy="130.8" r="0.6" fill="#8a2a90"/><circle cx="416.9" cy="128.2" r="0.6" fill="#5a1068"/><circle cx="419.5" cy="139.5" r="0.6" fill="#6a1a78"/><circle cx="418.2" cy="132.8" r="0.6" fill="#6a1a78"/><circle cx="414.2" cy="128.8" r="0.6" fill="#5a1068"/><circle cx="418.1" cy="128.5" r="0.6" fill="#5a1068"/><circle cx="422.6" cy="141.3" r="0.6" fill="#8a2a90"/><circle cx="418.1" cy="138.9" r="0.6" fill="#8a2a90"/><circle cx="417.6" cy="129.7" r="0.6" fill="#8a2a90"/><circle cx="415.8" cy="128.6" r="0.6" fill="#6a1a78"/><circle cx="418.5" cy="132.0" r="0.6" fill="#5a1068"/><circle cx="416.1" cy="134.0" r="0.6" fill="#8a2a90"/><circle cx="416.5" cy="126.7" r="0.6" fill="#5a1068"/><circle cx="413.9" cy="130.5" r="0.6" fill="#6a1a78"/><circle cx="416.8" cy="126.2" r="0.6" fill="#8a2a90"/><circle cx="420.3" cy="139.0" r="0.6" fill="#5a1068"/><circle cx="413.0" cy="130.6" r="0.6" fill="#6a1a78"/><circle cx="419.1" cy="134.0" r="0.6" fill="#8a2a90"/><circle cx="417.6" cy="137.6" r="0.6" fill="#5a1068"/><circle cx="417.7" cy="133.5" r="0.6" fill="#6a1a78"/><circle cx="418.6" cy="132.8" r="0.6" fill="#5a1068"/><circle cx="420.5" cy="130.6" r="0.6" fill="#8a2a90"/><circle cx="420.7" cy="140.2" r="0.6" fill="#6a1a78"/><circle cx="420.8" cy="131.6" r="0.6" fill="#5a1068"/><circle cx="417.2" cy="129.5" r="0.6" fill="#8a2a90"/><circle cx="414.8" cy="135.7" r="0.6" fill="#5a1068"/><circle cx="421.9" cy="141.7" r="0.6" fill="#8a2a90"/><circle cx="418.4" cy="129.2" r="0.6" fill="#6a1a78"/><circle cx="417.2" cy="126.0" r="0.6" fill="#8a2a90"/><circle cx="418.1" cy="137.3" r="0.6" fill="#6a1a78"/><circle cx="420.5" cy="131.6" r="0.6" fill="#8a2a90"/><circle cx="416.1" cy="128.4" r="0.6" fill="#8a2a90"/><circle cx="416.3" cy="133.5" r="0.6" fill="#6a1a78"/><circle cx="417.8" cy="137.6" r="0.6" fill="#6a1a78"/><circle cx="418.8" cy="139.9" r="0.6" fill="#8a2a90"/><circle cx="415.1" cy="126.7" r="0.6" fill="#6a1a78"/><circle cx="421.4" cy="141.7" r="0.6" fill="#8a2a90"/><circle cx="420.2" cy="133.4" r="0.6" fill="#5a1068"/><circle cx="415.9" cy="131.8" r="0.6" fill="#6a1a78"/><circle cx="420.2" cy="132.4" r="0.6" fill="#6a1a78"/><circle cx="414.6" cy="131.3" r="0.6" fill="#6a1a78"/><circle cx="419.9" cy="129.8" r="0.6" fill="#6a1a78"/><circle cx="417.5" cy="132.8" r="0.6" fill="#6a1a78"/><circle cx="417.1" cy="129.6" r="0.6" fill="#8a2a90"/><circle cx="418.2" cy="131.1" r="0.6" fill="#8a2a90"/></g>
<ellipse cx="452" cy="118" rx="6.5" ry="13" transform="rotate(16 452 118)" fill="none" stroke="#9a9a9a" stroke-width="0.6" stroke-dasharray="1.4 1.8"/>
<ellipse cx="456.2" cy="117.1" rx="11.5" ry="17.5" transform="rotate(18 456.2 117.1)" fill="none" stroke="#555" stroke-width="0.95" stroke-dasharray="2.2 1.8"/>
<text x="410.80" y="82.50" font-size="8.96" fill="#231f20" stroke="#231f20" stroke-width="0.12" transform="translate(410.80 82.50) scale(0.8929 1) translate(-410.80 -82.50)">CLL_028 Post</text>
<text x="471.00" y="122.00" font-size="8.96" fill="#4a4a9c" stroke="#4a4a9c" stroke-width="0.12" transform="translate(471.00 122.00) scale(0.8929 1) translate(-471.00 -122.00)">CLL cells</text>
<line x1="401.70" y1="145.00" x2="401.70" y2="126.50" stroke="#231f20" stroke-width="1"/>
<line x1="401.70" y1="145.00" x2="420.70" y2="145.00" stroke="#231f20" stroke-width="1"/>
<path d="M401.7 122 L399.8 127 L403.59999999999997 127 Z" fill="#231f20"/>
<path d="M425.2 145 L420.2 143.1 L420.2 146.9 Z" fill="#231f20"/>
<text x="394.40" y="146.00" font-size="8.2" font-weight="bold" fill="#231f20" transform="rotate(-90 394.40 146.00)" textLength="25" lengthAdjust="spacingAndGlyphs">UMAP_2</text>
<text x="400.20" y="158.60" font-size="8.2" font-weight="bold" fill="#231f20" textLength="26.5" lengthAdjust="spacingAndGlyphs">UMAP_1</text>
<line x1="53.80" y1="209.30" x2="53.80" y2="276.70" stroke="#231f20" stroke-width="1"/>
<line x1="53.30" y1="276.20" x2="92.30" y2="276.20" stroke="#231f20" stroke-width="1"/>
<line x1="50.80" y1="210.80" x2="53.80" y2="210.80" stroke="#231f20" stroke-width="1.1"/>
<text x="47.80" y="214.00" font-size="8.5" text-anchor="end" fill="#231f20" stroke="#231f20" stroke-width="0.12">10<tspan font-size="5.6" dy="-2.9">6</tspan></text>
<line x1="50.80" y1="227.20" x2="53.80" y2="227.20" stroke="#231f20" stroke-width="1.1"/>
<text x="47.80" y="230.40" font-size="8.5" text-anchor="end" fill="#231f20" stroke="#231f20" stroke-width="0.12">10<tspan font-size="5.6" dy="-2.9">5</tspan></text>
<line x1="50.80" y1="243.50" x2="53.80" y2="243.50" stroke="#231f20" stroke-width="1.1"/>
<text x="47.80" y="246.70" font-size="8.5" text-anchor="end" fill="#231f20" stroke="#231f20" stroke-width="0.12">10<tspan font-size="5.6" dy="-2.9">4</tspan></text>
<line x1="50.80" y1="259.90" x2="53.80" y2="259.90" stroke="#231f20" stroke-width="1.1"/>
<text x="47.80" y="263.10" font-size="8.5" text-anchor="end" fill="#231f20" stroke="#231f20" stroke-width="0.12">10<tspan font-size="5.6" dy="-2.9">3</tspan></text>
<line x1="50.80" y1="276.20" x2="53.80" y2="276.20" stroke="#231f20" stroke-width="1.1"/>
<text x="47.80" y="279.40" font-size="8.5" text-anchor="end" fill="#231f20" stroke="#231f20" stroke-width="0.12">10<tspan font-size="5.6" dy="-2.9">2</tspan></text>
<line x1="66.20" y1="276.20" x2="66.20" y2="278.40" stroke="#231f20" stroke-width="0.9"/>
<line x1="85.00" y1="276.20" x2="85.00" y2="278.40" stroke="#231f20" stroke-width="0.9"/>
<text x="66.20" y="289.50" font-size="8.85" text-anchor="middle" fill="#231f20" stroke="#231f20" stroke-width="0.12" transform="translate(66.20 289.50) scale(0.8929 1) translate(-66.20 -289.50)">Pre</text>
<text x="85.00" y="289.50" font-size="8.85" text-anchor="middle" fill="#231f20" stroke="#231f20" stroke-width="0.12" transform="translate(85.00 289.50) scale(0.8929 1) translate(-85.00 -289.50)">Post</text>
<text x="75.80" y="201.60" font-size="10.6" text-anchor="middle" fill="#231f20" stroke="#231f20" stroke-width="0.12" textLength="17.43" lengthAdjust="spacingAndGlyphs">CLL</text>
<text x="76.10" y="219.00" font-size="9.18" text-anchor="middle" fill="#444" stroke="#444" stroke-width="0.12" transform="translate(76.10 219.00) scale(0.8929 1) translate(-76.10 -219.00)"><tspan font-style="italic">P</tspan> = .004</text>
<text x="25.40" y="242.70" font-size="9.3" text-anchor="middle" font-weight="bold" fill="#231f20" transform="rotate(-90 25.40 242.70)" textLength="25.6" lengthAdjust="spacingAndGlyphs">Cells/µL</text>
<text x="77.30" y="228.00" font-size="8.4" text-anchor="middle" fill="#231f20" stroke="#231f20" stroke-width="0.12" transform="translate(77.30 228.00) scale(0.8929 1) translate(-77.30 -228.00)">**</text>
<g fill="#cfeaf0" stroke="#0d2a3a" stroke-width="0.95"><circle cx="66.20" cy="224.60" r="1.48"/><circle cx="66.20" cy="227.30" r="1.48"/><circle cx="68.70" cy="227.90" r="1.48"/><circle cx="66.20" cy="232.00" r="1.48"/><circle cx="68.70" cy="232.20" r="1.48"/><circle cx="66.20" cy="234.60" r="1.48"/><circle cx="68.20" cy="236.40" r="1.48"/><circle cx="65.70" cy="237.70" r="1.48"/><circle cx="67.70" cy="239.60" r="1.48"/><circle cx="63.70" cy="239.60" r="1.48"/><circle cx="70.20" cy="240.40" r="1.48"/><circle cx="61.20" cy="240.70" r="1.48"/><circle cx="65.70" cy="241.20" r="1.48"/><circle cx="68.20" cy="242.30" r="1.48"/><circle cx="63.20" cy="242.60" r="1.48"/><circle cx="70.70" cy="242.90" r="1.48"/><circle cx="60.70" cy="243.10" r="1.48"/><circle cx="66.20" cy="245.10" r="1.48"/><circle cx="68.70" cy="245.50" r="1.48"/><circle cx="66.20" cy="248.00" r="1.48"/><circle cx="68.20" cy="249.70" r="1.48"/><circle cx="65.70" cy="250.80" r="1.48"/><circle cx="66.20" cy="258.00" r="1.48"/></g>
<g fill="#22a2b8" stroke="#0d2a3a" stroke-width="0.95"><circle cx="85.00" cy="243.70" r="1.48"/><circle cx="87.50" cy="244.20" r="1.48"/><circle cx="83.00" cy="245.50" r="1.48"/><circle cx="89.50" cy="245.90" r="1.48"/><circle cx="85.50" cy="246.40" r="1.48"/><circle cx="80.50" cy="246.90" r="1.48"/><circle cx="83.50" cy="248.00" r="1.48"/><circle cx="87.00" cy="248.60" r="1.48"/><circle cx="89.50" cy="249.10" r="1.48"/><circle cx="85.00" cy="251.30" r="1.48"/><circle cx="86.50" cy="253.50" r="1.48"/><circle cx="83.50" cy="253.50" r="1.48"/><circle cx="88.50" cy="255.10" r="1.48"/><circle cx="85.00" cy="256.70" r="1.48"/><circle cx="87.00" cy="258.20" r="1.48"/><circle cx="83.00" cy="258.40" r="1.48"/><circle cx="85.00" cy="260.00" r="1.48"/><circle cx="87.00" cy="261.60" r="1.48"/><circle cx="85.00" cy="264.70" r="1.48"/><circle cx="85.00" cy="271.40" r="1.48"/><circle cx="87.50" cy="271.40" r="1.48"/></g>
<line x1="79.50" y1="253.50" x2="90.50" y2="253.50" stroke="#231f20" stroke-width="0.9"/>
<line x1="154.50" y1="209.30" x2="154.50" y2="276.70" stroke="#231f20" stroke-width="1"/>
<line x1="154.00" y1="276.20" x2="193.00" y2="276.20" stroke="#231f20" stroke-width="1"/>
<line x1="151.50" y1="210.80" x2="154.50" y2="210.80" stroke="#231f20" stroke-width="1.1"/>
<text x="148.50" y="214.00" font-size="8.5" text-anchor="end" fill="#231f20" stroke="#231f20" stroke-width="0.12">10<tspan font-size="5.6" dy="-2.9">4</tspan></text>
<line x1="151.50" y1="223.90" x2="154.50" y2="223.90" stroke="#231f20" stroke-width="1.1"/>
<text x="148.50" y="227.10" font-size="8.5" text-anchor="end" fill="#231f20" stroke="#231f20" stroke-width="0.12">10<tspan font-size="5.6" dy="-2.9">3</tspan></text>
<line x1="151.50" y1="237.00" x2="154.50" y2="237.00" stroke="#231f20" stroke-width="1.1"/>
<text x="148.50" y="240.20" font-size="8.5" text-anchor="end" fill="#231f20" stroke="#231f20" stroke-width="0.12">10<tspan font-size="5.6" dy="-2.9">2</tspan></text>
<line x1="151.50" y1="250.00" x2="154.50" y2="250.00" stroke="#231f20" stroke-width="1.1"/>
<text x="148.50" y="253.20" font-size="8.5" text-anchor="end" fill="#231f20" stroke="#231f20" stroke-width="0.12">10<tspan font-size="5.6" dy="-2.9">1</tspan></text>
<line x1="151.50" y1="263.10" x2="154.50" y2="263.10" stroke="#231f20" stroke-width="1.1"/>
<text x="148.50" y="266.30" font-size="8.5" text-anchor="end" fill="#231f20" stroke="#231f20" stroke-width="0.12">10<tspan font-size="5.6" dy="-2.9">0</tspan></text>
<line x1="151.50" y1="276.20" x2="154.50" y2="276.20" stroke="#231f20" stroke-width="1.1"/>
<text x="148.50" y="279.40" font-size="8.5" text-anchor="end" fill="#231f20" stroke="#231f20" stroke-width="0.12">10<tspan font-size="5.6" dy="-2.9">−1</tspan></text>
<line x1="166.90" y1="276.20" x2="166.90" y2="278.40" stroke="#231f20" stroke-width="0.9"/>
<line x1="185.70" y1="276.20" x2="185.70" y2="278.40" stroke="#231f20" stroke-width="0.9"/>
<text x="166.90" y="289.50" font-size="8.85" text-anchor="middle" fill="#231f20" stroke="#231f20" stroke-width="0.12" transform="translate(166.90 289.50) scale(0.8929 1) translate(-166.90 -289.50)">Pre</text>
<text x="185.70" y="289.50" font-size="8.85" text-anchor="middle" fill="#231f20" stroke="#231f20" stroke-width="0.12" transform="translate(185.70 289.50) scale(0.8929 1) translate(-185.70 -289.50)">Post</text>
<text x="176.50" y="201.60" font-size="10.6" text-anchor="middle" fill="#231f20" stroke="#231f20" stroke-width="0.12" textLength="44.36" lengthAdjust="spacingAndGlyphs">CD4 naive</text>
<text x="176.80" y="219.00" font-size="9.18" text-anchor="middle" fill="#444" stroke="#444" stroke-width="0.12" transform="translate(176.80 219.00) scale(0.8929 1) translate(-176.80 -219.00)"><tspan font-style="italic">P</tspan> = .70</text>
<text x="126.10" y="242.70" font-size="9.3" text-anchor="middle" font-weight="bold" fill="#231f20" transform="rotate(-90 126.10 242.70)" textLength="25.6" lengthAdjust="spacingAndGlyphs">Cells/µL</text>
<g fill="#cfe3b5" stroke="#173a1a" stroke-width="0.95"><circle cx="166.90" cy="230.30" r="1.48"/><circle cx="169.40" cy="230.30" r="1.48"/><circle cx="164.40" cy="231.10" r="1.48"/><circle cx="171.90" cy="231.70" r="1.48"/><circle cx="166.90" cy="238.80" r="1.48"/><circle cx="168.90" cy="240.40" r="1.48"/><circle cx="164.90" cy="240.40" r="1.48"/><circle cx="171.40" cy="241.00" r="1.48"/><circle cx="166.90" cy="242.00" r="1.48"/><circle cx="163.40" cy="242.60" r="1.48"/><circle cx="168.40" cy="244.20" r="1.48"/><circle cx="166.90" cy="248.00" r="1.48"/><circle cx="169.40" cy="249.10" r="1.48"/><circle cx="164.90" cy="249.70" r="1.48"/><circle cx="162.40" cy="250.50" r="1.48"/><circle cx="167.40" cy="250.80" r="1.48"/><circle cx="166.90" cy="255.30" r="1.48"/><circle cx="169.40" cy="256.00" r="1.48"/><circle cx="166.90" cy="257.80" r="1.48"/><circle cx="166.90" cy="264.40" r="1.48"/><circle cx="166.90" cy="270.60" r="1.48"/></g>
<g fill="#55a852" stroke="#173a1a" stroke-width="0.95"><circle cx="185.70" cy="231.70" r="1.48"/><circle cx="188.20" cy="232.00" r="1.48"/><circle cx="183.20" cy="233.10" r="1.48"/><circle cx="190.20" cy="233.90" r="1.48"/><circle cx="185.70" cy="234.40" r="1.48"/><circle cx="187.70" cy="236.00" r="1.48"/><circle cx="184.20" cy="236.60" r="1.48"/><circle cx="185.70" cy="239.00" r="1.48"/><circle cx="185.70" cy="246.00" r="1.48"/><circle cx="188.20" cy="246.50" r="1.48"/><circle cx="183.20" cy="247.00" r="1.48"/><circle cx="190.70" cy="247.50" r="1.48"/><circle cx="180.70" cy="248.00" r="1.48"/><circle cx="185.70" cy="249.00" r="1.48"/><circle cx="188.20" cy="250.00" r="1.48"/><circle cx="184.20" cy="251.00" r="1.48"/><circle cx="186.70" cy="252.00" r="1.48"/><circle cx="184.70" cy="253.50" r="1.48"/><circle cx="186.70" cy="255.00" r="1.48"/><circle cx="184.70" cy="256.50" r="1.48"/><circle cx="186.70" cy="258.00" r="1.48"/><circle cx="185.70" cy="268.00" r="1.48"/></g>
<line x1="255.20" y1="209.30" x2="255.20" y2="276.70" stroke="#231f20" stroke-width="1"/>
<line x1="254.70" y1="276.20" x2="293.70" y2="276.20" stroke="#231f20" stroke-width="1"/>
<line x1="252.20" y1="210.80" x2="255.20" y2="210.80" stroke="#231f20" stroke-width="1.1"/>
<text x="249.20" y="214.00" font-size="8.5" text-anchor="end" fill="#231f20" stroke="#231f20" stroke-width="0.12">10<tspan font-size="5.6" dy="-2.9">4</tspan></text>
<line x1="252.20" y1="223.90" x2="255.20" y2="223.90" stroke="#231f20" stroke-width="1.1"/>
<text x="249.20" y="227.10" font-size="8.5" text-anchor="end" fill="#231f20" stroke="#231f20" stroke-width="0.12">10<tspan font-size="5.6" dy="-2.9">3</tspan></text>
<line x1="252.20" y1="237.00" x2="255.20" y2="237.00" stroke="#231f20" stroke-width="1.1"/>
<text x="249.20" y="240.20" font-size="8.5" text-anchor="end" fill="#231f20" stroke="#231f20" stroke-width="0.12">10<tspan font-size="5.6" dy="-2.9">2</tspan></text>
<line x1="252.20" y1="250.00" x2="255.20" y2="250.00" stroke="#231f20" stroke-width="1.1"/>
<text x="249.20" y="253.20" font-size="8.5" text-anchor="end" fill="#231f20" stroke="#231f20" stroke-width="0.12">10<tspan font-size="5.6" dy="-2.9">1</tspan></text>
<line x1="252.20" y1="263.10" x2="255.20" y2="263.10" stroke="#231f20" stroke-width="1.1"/>
<text x="249.20" y="266.30" font-size="8.5" text-anchor="end" fill="#231f20" stroke="#231f20" stroke-width="0.12">10<tspan font-size="5.6" dy="-2.9">0</tspan></text>
<line x1="252.20" y1="276.20" x2="255.20" y2="276.20" stroke="#231f20" stroke-width="1.1"/>
<text x="249.20" y="279.40" font-size="8.5" text-anchor="end" fill="#231f20" stroke="#231f20" stroke-width="0.12">10<tspan font-size="5.6" dy="-2.9">−1</tspan></text>
<line x1="267.60" y1="276.20" x2="267.60" y2="278.40" stroke="#231f20" stroke-width="0.9"/>
<line x1="286.40" y1="276.20" x2="286.40" y2="278.40" stroke="#231f20" stroke-width="0.9"/>
<text x="267.60" y="289.50" font-size="8.85" text-anchor="middle" fill="#231f20" stroke="#231f20" stroke-width="0.12" transform="translate(267.60 289.50) scale(0.8929 1) translate(-267.60 -289.50)">Pre</text>
<text x="286.40" y="289.50" font-size="8.85" text-anchor="middle" fill="#231f20" stroke="#231f20" stroke-width="0.12" transform="translate(286.40 289.50) scale(0.8929 1) translate(-286.40 -289.50)">Post</text>
<text x="277.20" y="201.60" font-size="10.6" text-anchor="middle" fill="#231f20" stroke="#231f20" stroke-width="0.12" textLength="35.89" lengthAdjust="spacingAndGlyphs">CD4 EM</text>
<text x="277.50" y="219.00" font-size="9.18" text-anchor="middle" fill="#444" stroke="#444" stroke-width="0.12" transform="translate(277.50 219.00) scale(0.8929 1) translate(-277.50 -219.00)"><tspan font-style="italic">P</tspan> = .62</text>
<text x="226.80" y="242.70" font-size="9.3" text-anchor="middle" font-weight="bold" fill="#231f20" transform="rotate(-90 226.80 242.70)" textLength="25.6" lengthAdjust="spacingAndGlyphs">Cells/µL</text>
<g fill="#cfe3b5" stroke="#173a1a" stroke-width="0.95"><circle cx="267.60" cy="231.69" r="1.48"/><circle cx="269.10" cy="233.87" r="1.48"/><circle cx="267.60" cy="236.05" r="1.48"/><circle cx="269.60" cy="237.68" r="1.48"/><circle cx="267.10" cy="238.77" r="1.48"/><circle cx="268.60" cy="240.95" r="1.48"/><circle cx="266.60" cy="242.58" r="1.48"/><circle cx="270.10" cy="243.13" r="1.48"/><circle cx="268.10" cy="244.76" r="1.48"/><circle cx="267.60" cy="248.03" r="1.48"/><circle cx="270.10" cy="249.12" r="1.48"/><circle cx="267.60" cy="250.75" r="1.48"/><circle cx="270.10" cy="251.84" r="1.48"/><circle cx="265.60" cy="252.39" r="1.48"/><circle cx="267.60" cy="258.38" r="1.48"/><circle cx="270.10" cy="259.47" r="1.48"/><circle cx="267.60" cy="266.55" r="1.48"/><circle cx="269.60" cy="268.18" r="1.48"/><circle cx="267.60" cy="271.99" r="1.48"/></g>
<g fill="#55a852" stroke="#173a1a" stroke-width="0.95"><circle cx="286.40" cy="234.63" r="1.48"/><circle cx="288.90" cy="234.63" r="1.48"/><circle cx="286.40" cy="238.77" r="1.48"/><circle cx="288.90" cy="239.86" r="1.48"/><circle cx="284.90" cy="240.95" r="1.48"/><circle cx="282.40" cy="241.49" r="1.48"/><circle cx="286.90" cy="242.58" r="1.48"/><circle cx="289.40" cy="243.13" r="1.48"/><circle cx="284.90" cy="244.22" r="1.48"/><circle cx="286.40" cy="249.66" r="1.48"/><circle cx="288.90" cy="250.21" r="1.48"/><circle cx="286.40" cy="252.39" r="1.48"/><circle cx="288.90" cy="252.93" r="1.48"/><circle cx="286.40" cy="255.11" r="1.48"/><circle cx="288.90" cy="255.65" r="1.48"/><circle cx="286.40" cy="262.73" r="1.48"/><circle cx="287.90" cy="264.91" r="1.48"/></g>
<line x1="280.90" y1="246.18" x2="291.90" y2="246.18" stroke="#231f20" stroke-width="0.9"/>
<line x1="355.90" y1="209.30" x2="355.90" y2="276.70" stroke="#231f20" stroke-width="1"/>
<line x1="355.40" y1="276.20" x2="394.40" y2="276.20" stroke="#231f20" stroke-width="1"/>
<line x1="352.90" y1="210.80" x2="355.90" y2="210.80" stroke="#231f20" stroke-width="1.1"/>
<text x="349.90" y="214.00" font-size="8.5" text-anchor="end" fill="#231f20" stroke="#231f20" stroke-width="0.12">10<tspan font-size="5.6" dy="-2.9">4</tspan></text>
<line x1="352.90" y1="223.90" x2="355.90" y2="223.90" stroke="#231f20" stroke-width="1.1"/>
<text x="349.90" y="227.10" font-size="8.5" text-anchor="end" fill="#231f20" stroke="#231f20" stroke-width="0.12">10<tspan font-size="5.6" dy="-2.9">3</tspan></text>
<line x1="352.90" y1="237.00" x2="355.90" y2="237.00" stroke="#231f20" stroke-width="1.1"/>
<text x="349.90" y="240.20" font-size="8.5" text-anchor="end" fill="#231f20" stroke="#231f20" stroke-width="0.12">10<tspan font-size="5.6" dy="-2.9">2</tspan></text>
<line x1="352.90" y1="250.00" x2="355.90" y2="250.00" stroke="#231f20" stroke-width="1.1"/>
<text x="349.90" y="253.20" font-size="8.5" text-anchor="end" fill="#231f20" stroke="#231f20" stroke-width="0.12">10<tspan font-size="5.6" dy="-2.9">1</tspan></text>
<line x1="352.90" y1="263.10" x2="355.90" y2="263.10" stroke="#231f20" stroke-width="1.1"/>
<text x="349.90" y="266.30" font-size="8.5" text-anchor="end" fill="#231f20" stroke="#231f20" stroke-width="0.12">10<tspan font-size="5.6" dy="-2.9">0</tspan></text>
<line x1="352.90" y1="276.20" x2="355.90" y2="276.20" stroke="#231f20" stroke-width="1.1"/>
<text x="349.90" y="279.40" font-size="8.5" text-anchor="end" fill="#231f20" stroke="#231f20" stroke-width="0.12">10<tspan font-size="5.6" dy="-2.9">−1</tspan></text>
<line x1="368.30" y1="276.20" x2="368.30" y2="278.40" stroke="#231f20" stroke-width="0.9"/>
<line x1="387.10" y1="276.20" x2="387.10" y2="278.40" stroke="#231f20" stroke-width="0.9"/>
<text x="368.30" y="289.50" font-size="8.85" text-anchor="middle" fill="#231f20" stroke="#231f20" stroke-width="0.12" transform="translate(368.30 289.50) scale(0.8929 1) translate(-368.30 -289.50)">Pre</text>
<text x="387.10" y="289.50" font-size="8.85" text-anchor="middle" fill="#231f20" stroke="#231f20" stroke-width="0.12" transform="translate(387.10 289.50) scale(0.8929 1) translate(-387.10 -289.50)">Post</text>
<text x="377.90" y="201.60" font-size="10.6" text-anchor="middle" fill="#231f20" stroke="#231f20" stroke-width="0.12" textLength="36.42" lengthAdjust="spacingAndGlyphs">CD4 CM</text>
<text x="378.20" y="219.00" font-size="9.18" text-anchor="middle" fill="#444" stroke="#444" stroke-width="0.12" transform="translate(378.20 219.00) scale(0.8929 1) translate(-378.20 -219.00)"><tspan font-style="italic">P</tspan> = .92</text>
<text x="327.50" y="242.70" font-size="9.3" text-anchor="middle" font-weight="bold" fill="#231f20" transform="rotate(-90 327.50 242.70)" textLength="25.6" lengthAdjust="spacingAndGlyphs">Cells/µL</text>
<g fill="#cfe3b5" stroke="#173a1a" stroke-width="0.95"><circle cx="368.30" cy="228.42" r="1.48"/><circle cx="370.80" cy="229.18" r="1.48"/><circle cx="366.80" cy="230.60" r="1.48"/><circle cx="369.30" cy="231.69" r="1.48"/><circle cx="371.80" cy="232.02" r="1.48"/><circle cx="364.80" cy="232.23" r="1.48"/><circle cx="367.30" cy="233.32" r="1.48"/><circle cx="373.80" cy="233.87" r="1.48"/><circle cx="369.80" cy="234.41" r="1.48"/><circle cx="368.30" cy="240.95" r="1.48"/><circle cx="370.30" cy="242.58" r="1.48"/><circle cx="368.30" cy="244.22" r="1.48"/><circle cx="370.30" cy="245.85" r="1.48"/><circle cx="368.30" cy="248.03" r="1.48"/><circle cx="368.30" cy="254.56" r="1.48"/><circle cx="369.80" cy="256.74" r="1.48"/><circle cx="367.80" cy="258.38" r="1.48"/><circle cx="370.30" cy="259.47" r="1.48"/><circle cx="366.30" cy="260.56" r="1.48"/><circle cx="368.80" cy="261.64" r="1.48"/><circle cx="366.80" cy="263.28" r="1.48"/></g>
<g fill="#55a852" stroke="#173a1a" stroke-width="0.95"><circle cx="387.10" cy="228.42" r="1.48"/><circle cx="389.60" cy="229.51" r="1.48"/><circle cx="385.60" cy="230.60" r="1.48"/><circle cx="383.10" cy="231.14" r="1.48"/><circle cx="388.10" cy="231.69" r="1.48"/><circle cx="390.60" cy="232.23" r="1.48"/><circle cx="386.10" cy="233.10" r="1.48"/><circle cx="383.60" cy="233.87" r="1.48"/><circle cx="388.60" cy="234.41" r="1.48"/><circle cx="391.10" cy="234.96" r="1.48"/><circle cx="387.10" cy="239.31" r="1.48"/><circle cx="387.10" cy="244.22" r="1.48"/><circle cx="389.60" cy="245.31" r="1.48"/><circle cx="385.60" cy="246.18" r="1.48"/><circle cx="388.10" cy="247.48" r="1.48"/><circle cx="384.60" cy="248.57" r="1.48"/><circle cx="389.60" cy="249.66" r="1.48"/><circle cx="387.10" cy="250.75" r="1.48"/><circle cx="388.60" cy="252.93" r="1.48"/><circle cx="386.60" cy="254.56" r="1.48"/><circle cx="388.60" cy="256.20" r="1.48"/><circle cx="387.10" cy="258.38" r="1.48"/></g>
<line x1="362.80" y1="244.00" x2="373.80" y2="244.00" stroke="#231f20" stroke-width="0.9"/>
<line x1="381.60" y1="239.64" x2="392.60" y2="239.64" stroke="#231f20" stroke-width="0.9"/>
<line x1="456.60" y1="209.30" x2="456.60" y2="276.70" stroke="#231f20" stroke-width="1"/>
<line x1="456.10" y1="276.20" x2="495.10" y2="276.20" stroke="#231f20" stroke-width="1"/>
<line x1="453.60" y1="210.80" x2="456.60" y2="210.80" stroke="#231f20" stroke-width="1.1"/>
<text x="450.60" y="214.00" font-size="8.5" text-anchor="end" fill="#231f20" stroke="#231f20" stroke-width="0.12">10<tspan font-size="5.6" dy="-2.9">4</tspan></text>
<line x1="453.60" y1="221.70" x2="456.60" y2="221.70" stroke="#231f20" stroke-width="1.1"/>
<text x="450.60" y="224.90" font-size="8.5" text-anchor="end" fill="#231f20" stroke="#231f20" stroke-width="0.12">10<tspan font-size="5.6" dy="-2.9">3</tspan></text>
<line x1="453.60" y1="232.60" x2="456.60" y2="232.60" stroke="#231f20" stroke-width="1.1"/>
<text x="450.60" y="235.80" font-size="8.5" text-anchor="end" fill="#231f20" stroke="#231f20" stroke-width="0.12">10<tspan font-size="5.6" dy="-2.9">2</tspan></text>
<line x1="453.60" y1="243.50" x2="456.60" y2="243.50" stroke="#231f20" stroke-width="1.1"/>
<text x="450.60" y="246.70" font-size="8.5" text-anchor="end" fill="#231f20" stroke="#231f20" stroke-width="0.12">10<tspan font-size="5.6" dy="-2.9">1</tspan></text>
<line x1="453.60" y1="254.40" x2="456.60" y2="254.40" stroke="#231f20" stroke-width="1.1"/>
<text x="450.60" y="257.60" font-size="8.5" text-anchor="end" fill="#231f20" stroke="#231f20" stroke-width="0.12">10<tspan font-size="5.6" dy="-2.9">0</tspan></text>
<line x1="453.60" y1="265.30" x2="456.60" y2="265.30" stroke="#231f20" stroke-width="1.1"/>
<text x="450.60" y="268.50" font-size="8.5" text-anchor="end" fill="#231f20" stroke="#231f20" stroke-width="0.12">10<tspan font-size="5.6" dy="-2.9">−1</tspan></text>
<line x1="453.60" y1="276.20" x2="456.60" y2="276.20" stroke="#231f20" stroke-width="1.1"/>
<text x="450.60" y="279.40" font-size="8.5" text-anchor="end" fill="#231f20" stroke="#231f20" stroke-width="0.12">10<tspan font-size="5.6" dy="-2.9">−2</tspan></text>
<line x1="469.00" y1="276.20" x2="469.00" y2="278.40" stroke="#231f20" stroke-width="0.9"/>
<line x1="487.80" y1="276.20" x2="487.80" y2="278.40" stroke="#231f20" stroke-width="0.9"/>
<text x="469.00" y="289.50" font-size="8.85" text-anchor="middle" fill="#231f20" stroke="#231f20" stroke-width="0.12" transform="translate(469.00 289.50) scale(0.8929 1) translate(-469.00 -289.50)">Pre</text>
<text x="487.80" y="289.50" font-size="8.85" text-anchor="middle" fill="#231f20" stroke="#231f20" stroke-width="0.12" transform="translate(487.80 289.50) scale(0.8929 1) translate(-487.80 -289.50)">Post</text>
<text x="478.60" y="201.60" font-size="10.6" text-anchor="middle" fill="#231f20" stroke="#231f20" stroke-width="0.12" textLength="49.09" lengthAdjust="spacingAndGlyphs">CD4 EMRA</text>
<text x="478.90" y="219.00" font-size="9.18" text-anchor="middle" fill="#444" stroke="#444" stroke-width="0.12" transform="translate(478.90 219.00) scale(0.8929 1) translate(-478.90 -219.00)"><tspan font-style="italic">P</tspan> = .55</text>
<text x="428.20" y="242.70" font-size="9.3" text-anchor="middle" font-weight="bold" fill="#231f20" transform="rotate(-90 428.20 242.70)" textLength="25.6" lengthAdjust="spacingAndGlyphs">Cells/µL</text>
<g fill="#cfe3b5" stroke="#173a1a" stroke-width="0.95"><circle cx="469.00" cy="228.42" r="1.48"/><circle cx="471.50" cy="228.42" r="1.48"/><circle cx="469.00" cy="235.50" r="1.48"/><circle cx="471.00" cy="237.14" r="1.48"/><circle cx="469.00" cy="238.77" r="1.48"/><circle cx="471.50" cy="239.86" r="1.48"/><circle cx="469.00" cy="241.49" r="1.48"/><circle cx="471.50" cy="242.58" r="1.48"/><circle cx="466.50" cy="242.58" r="1.48"/><circle cx="469.00" cy="244.22" r="1.48"/><circle cx="471.00" cy="245.85" r="1.48"/><circle cx="469.00" cy="247.48" r="1.48"/><circle cx="471.50" cy="248.57" r="1.48"/><circle cx="467.00" cy="249.12" r="1.48"/><circle cx="464.50" cy="249.66" r="1.48"/><circle cx="469.00" cy="251.30" r="1.48"/><circle cx="471.50" cy="252.39" r="1.48"/><circle cx="467.00" cy="252.93" r="1.48"/><circle cx="469.00" cy="255.11" r="1.48"/><circle cx="471.50" cy="256.20" r="1.48"/><circle cx="467.50" cy="257.29" r="1.48"/><circle cx="469.00" cy="264.91" r="1.48"/><circle cx="469.00" cy="267.64" r="1.48"/><circle cx="469.00" cy="270.36" r="1.48"/></g>
<g fill="#55a852" stroke="#173a1a" stroke-width="0.95"><circle cx="487.80" cy="228.42" r="1.48"/><circle cx="487.80" cy="235.50" r="1.48"/><circle cx="489.30" cy="237.68" r="1.48"/><circle cx="487.30" cy="239.31" r="1.48"/><circle cx="489.80" cy="240.40" r="1.48"/><circle cx="485.80" cy="241.49" r="1.48"/><circle cx="488.30" cy="242.58" r="1.48"/><circle cx="490.80" cy="243.13" r="1.48"/><circle cx="484.30" cy="243.67" r="1.48"/><circle cx="493.30" cy="244.22" r="1.48"/><circle cx="486.80" cy="244.76" r="1.48"/><circle cx="489.30" cy="245.85" r="1.48"/><circle cx="485.30" cy="246.94" r="1.48"/><circle cx="487.80" cy="248.03" r="1.48"/><circle cx="489.80" cy="249.66" r="1.48"/><circle cx="487.80" cy="252.93" r="1.48"/><circle cx="487.80" cy="255.65" r="1.48"/><circle cx="487.80" cy="258.38" r="1.48"/><circle cx="487.80" cy="267.09" r="1.48"/><circle cx="489.30" cy="269.27" r="1.48"/><circle cx="487.80" cy="273.08" r="1.48"/></g>
<line x1="53.80" y1="323.50" x2="53.80" y2="390.90" stroke="#231f20" stroke-width="1"/>
<line x1="53.30" y1="390.40" x2="92.30" y2="390.40" stroke="#231f20" stroke-width="1"/>
<line x1="50.80" y1="325.00" x2="53.80" y2="325.00" stroke="#231f20" stroke-width="1.1"/>
<text x="47.80" y="328.20" font-size="8.5" text-anchor="end" fill="#231f20" stroke="#231f20" stroke-width="0.12">10<tspan font-size="5.6" dy="-2.9">4</tspan></text>
<line x1="50.80" y1="346.80" x2="53.80" y2="346.80" stroke="#231f20" stroke-width="1.1"/>
<text x="47.80" y="350.00" font-size="8.5" text-anchor="end" fill="#231f20" stroke="#231f20" stroke-width="0.12">10<tspan font-size="5.6" dy="-2.9">3</tspan></text>
<line x1="50.80" y1="368.60" x2="53.80" y2="368.60" stroke="#231f20" stroke-width="1.1"/>
<text x="47.80" y="371.80" font-size="8.5" text-anchor="end" fill="#231f20" stroke="#231f20" stroke-width="0.12">10<tspan font-size="5.6" dy="-2.9">2</tspan></text>
<line x1="50.80" y1="390.40" x2="53.80" y2="390.40" stroke="#231f20" stroke-width="1.1"/>
<text x="47.80" y="393.60" font-size="8.5" text-anchor="end" fill="#231f20" stroke="#231f20" stroke-width="0.12">10<tspan font-size="5.6" dy="-2.9">1</tspan></text>
<line x1="66.20" y1="390.40" x2="66.20" y2="392.60" stroke="#231f20" stroke-width="0.9"/>
<line x1="85.00" y1="390.40" x2="85.00" y2="392.60" stroke="#231f20" stroke-width="0.9"/>
<text x="66.20" y="403.70" font-size="8.85" text-anchor="middle" fill="#231f20" stroke="#231f20" stroke-width="0.12" transform="translate(66.20 403.70) scale(0.8929 1) translate(-66.20 -403.70)">Pre</text>
<text x="85.00" y="403.70" font-size="8.85" text-anchor="middle" fill="#231f20" stroke="#231f20" stroke-width="0.12" transform="translate(85.00 403.70) scale(0.8929 1) translate(-85.00 -403.70)">Post</text>
<text x="75.80" y="315.80" font-size="10.6" text-anchor="middle" fill="#231f20" stroke="#231f20" stroke-width="0.12" textLength="13.20" lengthAdjust="spacingAndGlyphs">NK</text>
<text x="76.10" y="333.20" font-size="9.18" text-anchor="middle" fill="#444" stroke="#444" stroke-width="0.12" transform="translate(76.10 333.20) scale(0.8929 1) translate(-76.10 -333.20)"><tspan font-style="italic">P</tspan> = .13</text>
<text x="25.40" y="356.90" font-size="9.3" text-anchor="middle" font-weight="bold" fill="#231f20" transform="rotate(-90 25.40 356.90)" textLength="25.6" lengthAdjust="spacingAndGlyphs">Cells/µL</text>
<g fill="#f9ddac" stroke="#3a2608" stroke-width="0.95"><circle cx="66.20" cy="341.42" r="1.48"/><circle cx="68.70" cy="341.97" r="1.48"/><circle cx="64.70" cy="343.60" r="1.48"/><circle cx="67.20" cy="344.14" r="1.48"/><circle cx="69.20" cy="345.78" r="1.48"/><circle cx="66.20" cy="353.40" r="1.48"/><circle cx="68.70" cy="353.95" r="1.48"/><circle cx="64.20" cy="355.04" r="1.48"/><circle cx="70.70" cy="355.58" r="1.48"/><circle cx="66.70" cy="356.13" r="1.48"/><circle cx="62.20" cy="356.67" r="1.48"/><circle cx="66.20" cy="362.12" r="1.48"/><circle cx="67.70" cy="364.30" r="1.48"/><circle cx="66.20" cy="366.47" r="1.48"/><circle cx="66.20" cy="371.38" r="1.48"/><circle cx="67.70" cy="373.56" r="1.48"/><circle cx="66.20" cy="375.73" r="1.48"/><circle cx="68.20" cy="377.37" r="1.48"/><circle cx="66.20" cy="380.64" r="1.48"/><circle cx="68.20" cy="382.27" r="1.48"/></g>
<g fill="#e9a233" stroke="#3a2608" stroke-width="0.95"><circle cx="85.00" cy="340.88" r="1.48"/><circle cx="87.00" cy="342.51" r="1.48"/><circle cx="85.00" cy="345.23" r="1.48"/><circle cx="85.00" cy="352.86" r="1.48"/><circle cx="87.50" cy="353.95" r="1.48"/><circle cx="85.00" cy="355.58" r="1.48"/><circle cx="82.50" cy="356.13" r="1.48"/><circle cx="87.00" cy="357.22" r="1.48"/><circle cx="84.50" cy="358.31" r="1.48"/><circle cx="86.50" cy="359.94" r="1.48"/><circle cx="85.00" cy="362.66" r="1.48"/><circle cx="85.00" cy="365.93" r="1.48"/><circle cx="87.50" cy="367.02" r="1.48"/><circle cx="85.00" cy="368.65" r="1.48"/><circle cx="87.50" cy="369.74" r="1.48"/><circle cx="85.00" cy="371.38" r="1.48"/><circle cx="82.50" cy="371.92" r="1.48"/><circle cx="85.00" cy="376.82" r="1.48"/><circle cx="87.50" cy="377.37" r="1.48"/></g>
<line x1="60.70" y1="356.13" x2="71.70" y2="356.13" stroke="#231f20" stroke-width="0.9"/>
<line x1="154.50" y1="323.50" x2="154.50" y2="390.90" stroke="#231f20" stroke-width="1"/>
<line x1="154.00" y1="390.40" x2="193.00" y2="390.40" stroke="#231f20" stroke-width="1"/>
<line x1="151.50" y1="325.00" x2="154.50" y2="325.00" stroke="#231f20" stroke-width="1.1"/>
<text x="148.50" y="328.20" font-size="8.5" text-anchor="end" fill="#231f20" stroke="#231f20" stroke-width="0.12">10<tspan font-size="5.6" dy="-2.9">4</tspan></text>
<line x1="151.50" y1="341.40" x2="154.50" y2="341.40" stroke="#231f20" stroke-width="1.1"/>
<text x="148.50" y="344.60" font-size="8.5" text-anchor="end" fill="#231f20" stroke="#231f20" stroke-width="0.12">10<tspan font-size="5.6" dy="-2.9">3</tspan></text>
<line x1="151.50" y1="357.70" x2="154.50" y2="357.70" stroke="#231f20" stroke-width="1.1"/>
<text x="148.50" y="360.90" font-size="8.5" text-anchor="end" fill="#231f20" stroke="#231f20" stroke-width="0.12">10<tspan font-size="5.6" dy="-2.9">2</tspan></text>
<line x1="151.50" y1="374.10" x2="154.50" y2="374.10" stroke="#231f20" stroke-width="1.1"/>
<text x="148.50" y="377.30" font-size="8.5" text-anchor="end" fill="#231f20" stroke="#231f20" stroke-width="0.12">10<tspan font-size="5.6" dy="-2.9">1</tspan></text>
<line x1="151.50" y1="390.40" x2="154.50" y2="390.40" stroke="#231f20" stroke-width="1.1"/>
<text x="148.50" y="393.60" font-size="8.5" text-anchor="end" fill="#231f20" stroke="#231f20" stroke-width="0.12">10<tspan font-size="5.6" dy="-2.9">0</tspan></text>
<line x1="166.90" y1="390.40" x2="166.90" y2="392.60" stroke="#231f20" stroke-width="0.9"/>
<line x1="185.70" y1="390.40" x2="185.70" y2="392.60" stroke="#231f20" stroke-width="0.9"/>
<text x="166.90" y="403.70" font-size="8.85" text-anchor="middle" fill="#231f20" stroke="#231f20" stroke-width="0.12" transform="translate(166.90 403.70) scale(0.8929 1) translate(-166.90 -403.70)">Pre</text>
<text x="185.70" y="403.70" font-size="8.85" text-anchor="middle" fill="#231f20" stroke="#231f20" stroke-width="0.12" transform="translate(185.70 403.70) scale(0.8929 1) translate(-185.70 -403.70)">Post</text>
<text x="176.50" y="315.80" font-size="10.6" text-anchor="middle" fill="#231f20" stroke="#231f20" stroke-width="0.12" textLength="28.50" lengthAdjust="spacingAndGlyphs">CD8 N</text>
<text x="176.80" y="333.20" font-size="9.18" text-anchor="middle" fill="#444" stroke="#444" stroke-width="0.12" transform="translate(176.80 333.20) scale(0.8929 1) translate(-176.80 -333.20)"><tspan font-style="italic">P</tspan> = .24</text>
<text x="126.10" y="356.90" font-size="9.3" text-anchor="middle" font-weight="bold" fill="#231f20" transform="rotate(-90 126.10 356.90)" textLength="25.6" lengthAdjust="spacingAndGlyphs">Cells/µL</text>
<g fill="#edcde3" stroke="#2a0a26" stroke-width="0.95"><circle cx="166.90" cy="342.84" r="1.48"/><circle cx="168.90" cy="344.69" r="1.48"/><circle cx="166.90" cy="346.54" r="1.48"/><circle cx="168.90" cy="347.96" r="1.48"/><circle cx="166.90" cy="349.59" r="1.48"/><circle cx="169.40" cy="350.68" r="1.48"/><circle cx="165.40" cy="351.77" r="1.48"/><circle cx="167.90" cy="352.86" r="1.48"/><circle cx="170.40" cy="353.40" r="1.48"/><circle cx="165.90" cy="354.49" r="1.48"/><circle cx="163.40" cy="355.04" r="1.48"/><circle cx="168.40" cy="355.58" r="1.48"/><circle cx="170.90" cy="356.13" r="1.48"/><circle cx="161.40" cy="356.67" r="1.48"/><circle cx="166.40" cy="357.22" r="1.48"/><circle cx="168.90" cy="358.31" r="1.48"/><circle cx="164.40" cy="358.85" r="1.48"/><circle cx="171.40" cy="359.39" r="1.48"/><circle cx="166.90" cy="364.30" r="1.48"/><circle cx="168.40" cy="366.47" r="1.48"/><circle cx="166.90" cy="368.65" r="1.48"/><circle cx="166.90" cy="377.91" r="1.48"/></g>
<g fill="#8f2f7f" stroke="#2a0a26" stroke-width="0.95"><circle cx="185.70" cy="346.54" r="1.48"/><circle cx="187.20" cy="348.50" r="1.48"/><circle cx="185.70" cy="350.68" r="1.48"/><circle cx="188.20" cy="351.77" r="1.48"/><circle cx="183.70" cy="352.31" r="1.48"/><circle cx="181.20" cy="352.86" r="1.48"/><circle cx="186.20" cy="353.40" r="1.48"/><circle cx="189.70" cy="353.95" r="1.48"/><circle cx="192.20" cy="354.49" r="1.48"/><circle cx="184.20" cy="355.04" r="1.48"/><circle cx="187.70" cy="355.58" r="1.48"/><circle cx="181.70" cy="356.13" r="1.48"/><circle cx="190.20" cy="356.67" r="1.48"/><circle cx="185.70" cy="359.94" r="1.48"/><circle cx="188.20" cy="361.03" r="1.48"/><circle cx="183.70" cy="361.57" r="1.48"/><circle cx="186.20" cy="362.66" r="1.48"/><circle cx="185.70" cy="370.29" r="1.48"/></g>
<line x1="255.20" y1="323.50" x2="255.20" y2="390.90" stroke="#231f20" stroke-width="1"/>
<line x1="254.70" y1="390.40" x2="293.70" y2="390.40" stroke="#231f20" stroke-width="1"/>
<line x1="252.20" y1="325.00" x2="255.20" y2="325.00" stroke="#231f20" stroke-width="1.1"/>
<text x="249.20" y="328.20" font-size="8.5" text-anchor="end" fill="#231f20" stroke="#231f20" stroke-width="0.12">10<tspan font-size="5.6" dy="-2.9">4</tspan></text>
<line x1="252.20" y1="338.10" x2="255.20" y2="338.10" stroke="#231f20" stroke-width="1.1"/>
<text x="249.20" y="341.30" font-size="8.5" text-anchor="end" fill="#231f20" stroke="#231f20" stroke-width="0.12">10<tspan font-size="5.6" dy="-2.9">3</tspan></text>
<line x1="252.20" y1="351.20" x2="255.20" y2="351.20" stroke="#231f20" stroke-width="1.1"/>
<text x="249.20" y="354.40" font-size="8.5" text-anchor="end" fill="#231f20" stroke="#231f20" stroke-width="0.12">10<tspan font-size="5.6" dy="-2.9">2</tspan></text>
<line x1="252.20" y1="364.20" x2="255.20" y2="364.20" stroke="#231f20" stroke-width="1.1"/>
<text x="249.20" y="367.40" font-size="8.5" text-anchor="end" fill="#231f20" stroke="#231f20" stroke-width="0.12">10<tspan font-size="5.6" dy="-2.9">1</tspan></text>
<line x1="252.20" y1="377.30" x2="255.20" y2="377.30" stroke="#231f20" stroke-width="1.1"/>
<text x="249.20" y="380.50" font-size="8.5" text-anchor="end" fill="#231f20" stroke="#231f20" stroke-width="0.12">10<tspan font-size="5.6" dy="-2.9">0</tspan></text>
<line x1="252.20" y1="390.40" x2="255.20" y2="390.40" stroke="#231f20" stroke-width="1.1"/>
<text x="249.20" y="393.60" font-size="8.5" text-anchor="end" fill="#231f20" stroke="#231f20" stroke-width="0.12">10<tspan font-size="5.6" dy="-2.9">−1</tspan></text>
<line x1="267.60" y1="390.40" x2="267.60" y2="392.60" stroke="#231f20" stroke-width="0.9"/>
<line x1="286.40" y1="390.40" x2="286.40" y2="392.60" stroke="#231f20" stroke-width="0.9"/>
<text x="267.60" y="403.70" font-size="8.85" text-anchor="middle" fill="#231f20" stroke="#231f20" stroke-width="0.12" transform="translate(267.60 403.70) scale(0.8929 1) translate(-267.60 -403.70)">Pre</text>
<text x="286.40" y="403.70" font-size="8.85" text-anchor="middle" fill="#231f20" stroke="#231f20" stroke-width="0.12" transform="translate(286.40 403.70) scale(0.8929 1) translate(-286.40 -403.70)">Post</text>
<text x="277.20" y="315.80" font-size="10.6" text-anchor="middle" fill="#231f20" stroke="#231f20" stroke-width="0.12" textLength="35.89" lengthAdjust="spacingAndGlyphs">CD8 EM</text>
<text x="277.50" y="333.20" font-size="9.18" text-anchor="middle" fill="#444" stroke="#444" stroke-width="0.12" transform="translate(277.50 333.20) scale(0.8929 1) translate(-277.50 -333.20)"><tspan font-style="italic">P</tspan> = .90</text>
<text x="226.80" y="356.90" font-size="9.3" text-anchor="middle" font-weight="bold" fill="#231f20" transform="rotate(-90 226.80 356.90)" textLength="25.6" lengthAdjust="spacingAndGlyphs">Cells/µL</text>
<g fill="#edcde3" stroke="#2a0a26" stroke-width="0.95"><circle cx="267.60" cy="345.23" r="1.48"/><circle cx="269.10" cy="347.19" r="1.48"/><circle cx="267.10" cy="349.05" r="1.48"/><circle cx="267.60" cy="354.49" r="1.48"/><circle cx="270.10" cy="355.04" r="1.48"/><circle cx="265.10" cy="355.58" r="1.48"/><circle cx="272.60" cy="356.13" r="1.48"/><circle cx="267.60" cy="357.22" r="1.48"/><circle cx="270.10" cy="357.76" r="1.48"/><circle cx="265.10" cy="358.31" r="1.48"/><circle cx="272.10" cy="359.39" r="1.48"/><circle cx="267.60" cy="359.94" r="1.48"/><circle cx="270.10" cy="361.03" r="1.48"/><circle cx="266.10" cy="362.12" r="1.48"/><circle cx="263.60" cy="362.66" r="1.48"/><circle cx="267.60" cy="364.30" r="1.48"/><circle cx="269.10" cy="366.47" r="1.48"/><circle cx="266.60" cy="367.02" r="1.48"/><circle cx="270.60" cy="368.65" r="1.48"/><circle cx="267.60" cy="370.83" r="1.48"/><circle cx="270.10" cy="371.92" r="1.48"/><circle cx="267.60" cy="375.73" r="1.48"/></g>
<g fill="#8f2f7f" stroke="#2a0a26" stroke-width="0.95"><circle cx="286.40" cy="349.59" r="1.48"/><circle cx="288.40" cy="351.22" r="1.48"/><circle cx="285.90" cy="352.31" r="1.48"/><circle cx="283.40" cy="352.86" r="1.48"/><circle cx="289.90" cy="353.40" r="1.48"/><circle cx="280.90" cy="353.95" r="1.48"/><circle cx="286.40" cy="355.04" r="1.48"/><circle cx="283.90" cy="355.58" r="1.48"/><circle cx="288.90" cy="356.13" r="1.48"/><circle cx="281.90" cy="357.22" r="1.48"/><circle cx="286.40" cy="358.31" r="1.48"/><circle cx="286.40" cy="362.12" r="1.48"/><circle cx="288.90" cy="363.21" r="1.48"/><circle cx="284.90" cy="364.30" r="1.48"/><circle cx="282.40" cy="364.84" r="1.48"/><circle cx="286.90" cy="365.93" r="1.48"/><circle cx="286.40" cy="371.38" r="1.48"/><circle cx="288.40" cy="373.01" r="1.48"/><circle cx="286.40" cy="379.55" r="1.48"/></g>
<line x1="280.90" y1="357.76" x2="291.90" y2="357.76" stroke="#231f20" stroke-width="0.9"/>
<line x1="355.90" y1="323.50" x2="355.90" y2="390.90" stroke="#231f20" stroke-width="1"/>
<line x1="355.40" y1="390.40" x2="394.40" y2="390.40" stroke="#231f20" stroke-width="1"/>
<line x1="352.90" y1="325.00" x2="355.90" y2="325.00" stroke="#231f20" stroke-width="1.1"/>
<text x="349.90" y="328.20" font-size="8.5" text-anchor="end" fill="#231f20" stroke="#231f20" stroke-width="0.12">10<tspan font-size="5.6" dy="-2.9">4</tspan></text>
<line x1="352.90" y1="341.40" x2="355.90" y2="341.40" stroke="#231f20" stroke-width="1.1"/>
<text x="349.90" y="344.60" font-size="8.5" text-anchor="end" fill="#231f20" stroke="#231f20" stroke-width="0.12">10<tspan font-size="5.6" dy="-2.9">3</tspan></text>
<line x1="352.90" y1="357.70" x2="355.90" y2="357.70" stroke="#231f20" stroke-width="1.1"/>
<text x="349.90" y="360.90" font-size="8.5" text-anchor="end" fill="#231f20" stroke="#231f20" stroke-width="0.12">10<tspan font-size="5.6" dy="-2.9">2</tspan></text>
<line x1="352.90" y1="374.10" x2="355.90" y2="374.10" stroke="#231f20" stroke-width="1.1"/>
<text x="349.90" y="377.30" font-size="8.5" text-anchor="end" fill="#231f20" stroke="#231f20" stroke-width="0.12">10<tspan font-size="5.6" dy="-2.9">1</tspan></text>
<line x1="352.90" y1="390.40" x2="355.90" y2="390.40" stroke="#231f20" stroke-width="1.1"/>
<text x="349.90" y="393.60" font-size="8.5" text-anchor="end" fill="#231f20" stroke="#231f20" stroke-width="0.12">10<tspan font-size="5.6" dy="-2.9">0</tspan></text>
<line x1="368.30" y1="390.40" x2="368.30" y2="392.60" stroke="#231f20" stroke-width="0.9"/>
<line x1="387.10" y1="390.40" x2="387.10" y2="392.60" stroke="#231f20" stroke-width="0.9"/>
<text x="368.30" y="403.70" font-size="8.85" text-anchor="middle" fill="#231f20" stroke="#231f20" stroke-width="0.12" transform="translate(368.30 403.70) scale(0.8929 1) translate(-368.30 -403.70)">Pre</text>
<text x="387.10" y="403.70" font-size="8.85" text-anchor="middle" fill="#231f20" stroke="#231f20" stroke-width="0.12" transform="translate(387.10 403.70) scale(0.8929 1) translate(-387.10 -403.70)">Post</text>
<text x="377.90" y="315.80" font-size="10.6" text-anchor="middle" fill="#231f20" stroke="#231f20" stroke-width="0.12" textLength="36.42" lengthAdjust="spacingAndGlyphs">CD8 CM</text>
<text x="378.20" y="333.20" font-size="9.18" text-anchor="middle" fill="#444" stroke="#444" stroke-width="0.12" transform="translate(378.20 333.20) scale(0.8929 1) translate(-378.20 -333.20)"><tspan font-style="italic">P</tspan> = .94</text>
<text x="327.50" y="356.90" font-size="9.3" text-anchor="middle" font-weight="bold" fill="#231f20" transform="rotate(-90 327.50 356.90)" textLength="25.6" lengthAdjust="spacingAndGlyphs">Cells/µL</text>
<g fill="#edcde3" stroke="#2a0a26" stroke-width="0.95"><circle cx="368.30" cy="350.14" r="1.48"/><circle cx="369.80" cy="352.31" r="1.48"/><circle cx="368.30" cy="356.13" r="1.48"/><circle cx="370.80" cy="356.67" r="1.48"/><circle cx="366.30" cy="357.76" r="1.48"/><circle cx="368.80" cy="358.85" r="1.48"/><circle cx="371.30" cy="359.94" r="1.48"/><circle cx="367.30" cy="361.03" r="1.48"/><circle cx="369.80" cy="362.12" r="1.48"/><circle cx="365.30" cy="362.66" r="1.48"/><circle cx="367.80" cy="363.75" r="1.48"/><circle cx="369.30" cy="365.93" r="1.48"/><circle cx="367.80" cy="368.11" r="1.48"/><circle cx="370.30" cy="369.20" r="1.48"/><circle cx="368.30" cy="371.38" r="1.48"/><circle cx="368.30" cy="374.10" r="1.48"/><circle cx="370.80" cy="375.19" r="1.48"/><circle cx="366.80" cy="376.28" r="1.48"/><circle cx="368.30" cy="389.35" r="1.48"/></g>
<g fill="#8f2f7f" stroke="#2a0a26" stroke-width="0.95"><circle cx="387.10" cy="352.86" r="1.48"/><circle cx="387.10" cy="355.58" r="1.48"/><circle cx="387.10" cy="358.31" r="1.48"/><circle cx="389.60" cy="359.39" r="1.48"/><circle cx="385.10" cy="359.94" r="1.48"/><circle cx="382.60" cy="360.48" r="1.48"/><circle cx="387.60" cy="361.03" r="1.48"/><circle cx="391.10" cy="361.57" r="1.48"/><circle cx="393.60" cy="362.12" r="1.48"/><circle cx="385.60" cy="362.66" r="1.48"/><circle cx="389.10" cy="363.21" r="1.48"/><circle cx="383.60" cy="364.30" r="1.48"/><circle cx="387.10" cy="364.84" r="1.48"/><circle cx="387.10" cy="371.38" r="1.48"/><circle cx="388.60" cy="373.56" r="1.48"/><circle cx="387.10" cy="376.82" r="1.48"/></g>
<line x1="456.60" y1="323.50" x2="456.60" y2="390.90" stroke="#231f20" stroke-width="1"/>
<line x1="456.10" y1="390.40" x2="495.10" y2="390.40" stroke="#231f20" stroke-width="1"/>
<line x1="453.60" y1="325.00" x2="456.60" y2="325.00" stroke="#231f20" stroke-width="1.1"/>
<text x="450.60" y="328.20" font-size="8.5" text-anchor="end" fill="#231f20" stroke="#231f20" stroke-width="0.12">10<tspan font-size="5.6" dy="-2.9">4</tspan></text>
<line x1="453.60" y1="346.80" x2="456.60" y2="346.80" stroke="#231f20" stroke-width="1.1"/>
<text x="450.60" y="350.00" font-size="8.5" text-anchor="end" fill="#231f20" stroke="#231f20" stroke-width="0.12">10<tspan font-size="5.6" dy="-2.9">3</tspan></text>
<line x1="453.60" y1="368.60" x2="456.60" y2="368.60" stroke="#231f20" stroke-width="1.1"/>
<text x="450.60" y="371.80" font-size="8.5" text-anchor="end" fill="#231f20" stroke="#231f20" stroke-width="0.12">10<tspan font-size="5.6" dy="-2.9">2</tspan></text>
<line x1="453.60" y1="390.40" x2="456.60" y2="390.40" stroke="#231f20" stroke-width="1.1"/>
<text x="450.60" y="393.60" font-size="8.5" text-anchor="end" fill="#231f20" stroke="#231f20" stroke-width="0.12">10<tspan font-size="5.6" dy="-2.9">1</tspan></text>
<line x1="469.00" y1="390.40" x2="469.00" y2="392.60" stroke="#231f20" stroke-width="0.9"/>
<line x1="487.80" y1="390.40" x2="487.80" y2="392.60" stroke="#231f20" stroke-width="0.9"/>
<text x="469.00" y="403.70" font-size="8.85" text-anchor="middle" fill="#231f20" stroke="#231f20" stroke-width="0.12" transform="translate(469.00 403.70) scale(0.8929 1) translate(-469.00 -403.70)">Pre</text>
<text x="487.80" y="403.70" font-size="8.85" text-anchor="middle" fill="#231f20" stroke="#231f20" stroke-width="0.12" transform="translate(487.80 403.70) scale(0.8929 1) translate(-487.80 -403.70)">Post</text>
<text x="478.60" y="315.80" font-size="10.6" text-anchor="middle" fill="#231f20" stroke="#231f20" stroke-width="0.12" textLength="49.09" lengthAdjust="spacingAndGlyphs">CD8 EMRA</text>
<text x="478.90" y="333.20" font-size="9.18" text-anchor="middle" fill="#444" stroke="#444" stroke-width="0.12" transform="translate(478.90 333.20) scale(0.8929 1) translate(-478.90 -333.20)"><tspan font-style="italic">P</tspan> = .69</text>
<text x="428.20" y="356.90" font-size="9.3" text-anchor="middle" font-weight="bold" fill="#231f20" transform="rotate(-90 428.20 356.90)" textLength="25.6" lengthAdjust="spacingAndGlyphs">Cells/µL</text>
<g fill="#edcde3" stroke="#2a0a26" stroke-width="0.95"><circle cx="469.00" cy="343.05" r="1.48"/><circle cx="470.50" cy="345.02" r="1.48"/><circle cx="469.00" cy="347.96" r="1.48"/><circle cx="469.00" cy="353.95" r="1.48"/><circle cx="471.50" cy="354.49" r="1.48"/><circle cx="467.00" cy="355.58" r="1.48"/><circle cx="473.50" cy="356.13" r="1.48"/><circle cx="469.00" cy="357.22" r="1.48"/><circle cx="471.50" cy="358.31" r="1.48"/><circle cx="467.00" cy="358.85" r="1.48"/><circle cx="469.50" cy="359.94" r="1.48"/><circle cx="467.50" cy="361.57" r="1.48"/><circle cx="470.00" cy="362.66" r="1.48"/><circle cx="466.00" cy="363.75" r="1.48"/><circle cx="472.00" cy="364.30" r="1.48"/><circle cx="469.00" cy="365.93" r="1.48"/><circle cx="471.50" cy="367.02" r="1.48"/><circle cx="469.00" cy="371.92" r="1.48"/><circle cx="469.00" cy="380.09" r="1.48"/><circle cx="471.50" cy="381.18" r="1.48"/><circle cx="469.00" cy="383.36" r="1.48"/><circle cx="471.00" cy="384.99" r="1.48"/><circle cx="469.00" cy="386.63" r="1.48"/><circle cx="469.00" cy="389.90" r="1.48"/></g>
<g fill="#8f2f7f" stroke="#2a0a26" stroke-width="0.95"><circle cx="487.80" cy="345.23" r="1.48"/><circle cx="489.30" cy="347.41" r="1.48"/><circle cx="487.30" cy="349.05" r="1.48"/><circle cx="487.80" cy="357.22" r="1.48"/><circle cx="490.30" cy="358.31" r="1.48"/><circle cx="486.30" cy="359.39" r="1.48"/><circle cx="483.80" cy="359.94" r="1.48"/><circle cx="488.30" cy="361.03" r="1.48"/><circle cx="485.80" cy="362.12" r="1.48"/><circle cx="489.80" cy="363.21" r="1.48"/><circle cx="487.80" cy="364.84" r="1.48"/><circle cx="489.80" cy="366.47" r="1.48"/><circle cx="487.80" cy="368.11" r="1.48"/><circle cx="489.80" cy="369.74" r="1.48"/><circle cx="487.80" cy="371.38" r="1.48"/><circle cx="487.80" cy="380.09" r="1.48"/><circle cx="490.30" cy="380.09" r="1.48"/><circle cx="485.30" cy="380.09" r="1.48"/><circle cx="492.80" cy="380.09" r="1.48"/></g>
<line x1="463.50" y1="361.57" x2="474.50" y2="361.57" stroke="#231f20" stroke-width="0.9"/>
<line x1="482.30" y1="365.39" x2="493.30" y2="365.39" stroke="#231f20" stroke-width="0.9"/>
<text x="146.00" y="452.70" font-size="10.75" text-anchor="middle" fill="#231f20" stroke="#231f20" stroke-width="0.12" transform="translate(146.00 452.70) scale(0.8929 1) translate(-146.00 -452.70)">CD4 naive</text>
<text x="34.40" y="477.00" font-size="8.85" text-anchor="end" fill="#231f20" stroke="#231f20" stroke-width="0.12" transform="translate(34.40 477.00) scale(0.8929 1) translate(-34.40 -477.00)">Pre</text>
<text x="34.40" y="487.00" font-size="8.85" text-anchor="end" fill="#231f20" stroke="#231f20" stroke-width="0.12" transform="translate(34.40 487.00) scale(0.8929 1) translate(-34.40 -487.00)">Post</text>
<clipPath id="c00"><rect x="37.3" y="458.3" width="24.5" height="29.7"/></clipPath>
<g clip-path="url(#c00)"><path d="M37.30 487.90 L37.71 487.88 L38.12 487.87 L38.52 487.86 L38.93 487.84 L39.34 487.82 L39.75 487.80 L40.16 487.78 L40.57 487.76 L40.97 487.74 L41.38 487.72 L41.79 487.69 L42.20 487.67 L42.61 487.64 L43.02 487.61 L43.42 487.58 L43.83 487.55 L44.24 487.52 L44.65 487.49 L45.06 487.46 L45.47 487.43 L45.88 487.39 L46.28 487.36 L46.69 487.19 L47.10 486.90 L47.51 486.54 L47.92 486.09 L48.32 485.52 L48.73 484.84 L49.14 484.02 L49.55 483.07 L49.96 481.97 L50.37 480.75 L50.77 479.42 L51.18 478.02 L51.59 476.59 L52.00 475.21 L52.41 473.94 L52.82 472.89 L53.22 472.18 L53.63 472.15 L54.04 473.34 L54.45 475.18 L54.86 477.30 L55.27 479.43 L55.67 481.41 L56.08 483.11 L56.49 484.49 L56.90 485.57 L57.31 486.37 L57.72 486.94 L58.12 487.33 L58.53 487.59 L58.94 487.75 L59.35 487.86 L59.76 487.92 L60.17 487.96 L60.57 487.98 L60.98 487.99 L61.39 487.99 L61.80 488.00 L61.8 488.0 L37.3 488.0 Z" fill="#68ac68"/><path d="M37.30 477.77 L37.71 477.74 L38.12 477.72 L38.52 477.69 L38.93 477.66 L39.34 477.63 L39.75 477.59 L40.16 477.56 L40.57 477.52 L40.97 477.48 L41.38 477.44 L41.79 477.40 L42.20 477.35 L42.61 477.31 L43.02 477.26 L43.42 477.22 L43.83 477.17 L44.24 477.12 L44.65 477.07 L45.06 477.02 L45.47 476.97 L45.88 476.92 L46.28 476.87 L46.69 476.83 L47.10 476.78 L47.51 476.73 L47.92 476.69 L48.32 476.65 L48.73 476.31 L49.14 475.86 L49.55 475.32 L49.96 474.66 L50.37 473.87 L50.77 472.94 L51.18 471.85 L51.59 470.61 L52.00 469.23 L52.41 467.77 L52.82 466.39 L53.22 467.03 L53.63 469.17 L54.04 471.17 L54.45 472.85 L54.86 474.20 L55.27 475.24 L55.67 476.03 L56.08 476.61 L56.49 477.03 L56.90 477.33 L57.31 477.54 L57.72 477.69 L58.12 477.79 L58.53 477.86 L58.94 477.91 L59.35 477.94 L59.76 477.96 L60.17 477.97 L60.57 477.98 L60.98 477.99 L61.39 477.99 L61.80 478.00 L61.8 478.0 L37.3 478.0 Z" fill="#98d598" opacity="0.78"/><path d="M37.30 477.77 L37.71 477.74 L38.12 477.72 L38.52 477.69 L38.93 477.66 L39.34 477.63 L39.75 477.59 L40.16 477.56 L40.57 477.52 L40.97 477.48 L41.38 477.44 L41.79 477.40 L42.20 477.35 L42.61 477.31 L43.02 477.26 L43.42 477.22 L43.83 477.17 L44.24 477.12 L44.65 477.07 L45.06 477.02 L45.47 476.97 L45.88 476.92 L46.28 476.87 L46.69 476.83 L47.10 476.78 L47.51 476.73 L47.92 476.69 L48.32 476.65 L48.73 476.31 L49.14 475.86 L49.55 475.32 L49.96 474.66 L50.37 473.87 L50.77 472.94 L51.18 471.85 L51.59 470.61 L52.00 469.23 L52.41 467.77 L52.82 466.39 L53.22 467.03 L53.63 469.17 L54.04 471.17 L54.45 472.85 L54.86 474.20 L55.27 475.24 L55.67 476.03 L56.08 476.61 L56.49 477.03 L56.90 477.33 L57.31 477.54 L57.72 477.69 L58.12 477.79 L58.53 477.86 L58.94 477.91 L59.35 477.94 L59.76 477.96 L60.17 477.97 L60.57 477.98 L60.98 477.99 L61.39 477.99 L61.80 478.00" fill="none" stroke="#3a9a45" stroke-width="0.75"/><path d="M37.30 487.90 L37.71 487.88 L38.12 487.87 L38.52 487.86 L38.93 487.84 L39.34 487.82 L39.75 487.80 L40.16 487.78 L40.57 487.76 L40.97 487.74 L41.38 487.72 L41.79 487.69 L42.20 487.67 L42.61 487.64 L43.02 487.61 L43.42 487.58 L43.83 487.55 L44.24 487.52 L44.65 487.49 L45.06 487.46 L45.47 487.43 L45.88 487.39 L46.28 487.36 L46.69 487.19 L47.10 486.90 L47.51 486.54 L47.92 486.09 L48.32 485.52 L48.73 484.84 L49.14 484.02 L49.55 483.07 L49.96 481.97 L50.37 480.75 L50.77 479.42 L51.18 478.02 L51.59 476.59 L52.00 475.21 L52.41 473.94 L52.82 472.89 L53.22 472.18 L53.63 472.15 L54.04 473.34 L54.45 475.18 L54.86 477.30 L55.27 479.43 L55.67 481.41 L56.08 483.11 L56.49 484.49 L56.90 485.57 L57.31 486.37 L57.72 486.94 L58.12 487.33 L58.53 487.59 L58.94 487.75 L59.35 487.86 L59.76 487.92 L60.17 487.96 L60.57 487.98 L60.98 487.99 L61.39 487.99 L61.80 488.00" fill="none" stroke="#165a20" stroke-width="0.8"/></g>
<rect x="37.3" y="458.3" width="24.5" height="29.7" fill="none" stroke="#444" stroke-width="1"/>
<clipPath id="c01"><rect x="63.9" y="458.3" width="24.5" height="29.7"/></clipPath>
<g clip-path="url(#c01)"><path d="M63.90 487.82 L64.31 487.80 L64.72 487.78 L65.12 487.76 L65.53 487.73 L65.94 487.71 L66.35 487.68 L66.76 487.65 L67.17 487.62 L67.58 487.59 L67.98 487.56 L68.39 487.53 L68.80 487.50 L69.21 487.46 L69.62 487.43 L70.03 487.39 L70.43 487.36 L70.84 487.25 L71.25 486.97 L71.66 486.61 L72.07 486.15 L72.47 485.58 L72.88 484.89 L73.29 484.06 L73.70 483.08 L74.11 481.98 L74.52 480.77 L74.92 479.47 L75.33 478.14 L75.74 476.84 L76.15 475.66 L76.56 474.70 L76.97 474.09 L77.38 474.31 L77.78 475.62 L78.19 477.45 L78.60 479.46 L79.01 481.40 L79.42 483.11 L79.83 484.53 L80.23 485.62 L80.64 486.43 L81.05 487.00 L81.46 487.39 L81.87 487.63 L82.28 487.79 L82.68 487.88 L83.09 487.94 L83.50 487.97 L83.91 487.98 L84.32 487.99 L84.73 488.00 L85.13 488.00 L85.54 488.00 L85.95 488.00 L86.36 488.00 L86.77 488.00 L87.18 488.00 L87.58 488.00 L87.99 488.00 L88.40 488.00 L88.4 488.0 L63.9 488.0 Z" fill="#68ac68"/><path d="M63.90 477.62 L64.31 477.59 L64.72 477.55 L65.12 477.51 L65.53 477.47 L65.94 477.42 L66.35 477.38 L66.76 477.33 L67.17 477.28 L67.58 477.23 L67.98 477.18 L68.39 477.13 L68.80 477.07 L69.21 477.02 L69.62 476.97 L70.03 476.92 L70.43 476.86 L70.84 476.81 L71.25 476.76 L71.66 476.72 L72.07 476.67 L72.47 476.63 L72.88 476.38 L73.29 475.94 L73.70 475.38 L74.11 474.71 L74.52 473.90 L74.92 472.95 L75.33 471.85 L75.74 470.63 L76.15 469.33 L76.56 468.15 L76.97 469.31 L77.38 471.20 L77.78 472.88 L78.19 474.25 L78.60 475.31 L79.01 476.11 L79.42 476.69 L79.83 477.10 L80.23 477.39 L80.64 477.60 L81.05 477.73 L81.46 477.83 L81.87 477.89 L82.28 477.93 L82.68 477.95 L83.09 477.97 L83.50 477.98 L83.91 477.99 L84.32 477.99 L84.73 478.00 L85.13 478.00 L85.54 478.00 L85.95 478.00 L86.36 478.00 L86.77 478.00 L87.18 478.00 L87.58 478.00 L87.99 478.00 L88.40 478.00 L88.4 478.0 L63.9 478.0 Z" fill="#98d598" opacity="0.78"/><path d="M63.90 477.62 L64.31 477.59 L64.72 477.55 L65.12 477.51 L65.53 477.47 L65.94 477.42 L66.35 477.38 L66.76 477.33 L67.17 477.28 L67.58 477.23 L67.98 477.18 L68.39 477.13 L68.80 477.07 L69.21 477.02 L69.62 476.97 L70.03 476.92 L70.43 476.86 L70.84 476.81 L71.25 476.76 L71.66 476.72 L72.07 476.67 L72.47 476.63 L72.88 476.38 L73.29 475.94 L73.70 475.38 L74.11 474.71 L74.52 473.90 L74.92 472.95 L75.33 471.85 L75.74 470.63 L76.15 469.33 L76.56 468.15 L76.97 469.31 L77.38 471.20 L77.78 472.88 L78.19 474.25 L78.60 475.31 L79.01 476.11 L79.42 476.69 L79.83 477.10 L80.23 477.39 L80.64 477.60 L81.05 477.73 L81.46 477.83 L81.87 477.89 L82.28 477.93 L82.68 477.95 L83.09 477.97 L83.50 477.98 L83.91 477.99 L84.32 477.99 L84.73 478.00 L85.13 478.00 L85.54 478.00 L85.95 478.00 L86.36 478.00 L86.77 478.00 L87.18 478.00 L87.58 478.00 L87.99 478.00 L88.40 478.00" fill="none" stroke="#3a9a45" stroke-width="0.75"/><path d="M63.90 487.82 L64.31 487.80 L64.72 487.78 L65.12 487.76 L65.53 487.73 L65.94 487.71 L66.35 487.68 L66.76 487.65 L67.17 487.62 L67.58 487.59 L67.98 487.56 L68.39 487.53 L68.80 487.50 L69.21 487.46 L69.62 487.43 L70.03 487.39 L70.43 487.36 L70.84 487.25 L71.25 486.97 L71.66 486.61 L72.07 486.15 L72.47 485.58 L72.88 484.89 L73.29 484.06 L73.70 483.08 L74.11 481.98 L74.52 480.77 L74.92 479.47 L75.33 478.14 L75.74 476.84 L76.15 475.66 L76.56 474.70 L76.97 474.09 L77.38 474.31 L77.78 475.62 L78.19 477.45 L78.60 479.46 L79.01 481.40 L79.42 483.11 L79.83 484.53 L80.23 485.62 L80.64 486.43 L81.05 487.00 L81.46 487.39 L81.87 487.63 L82.28 487.79 L82.68 487.88 L83.09 487.94 L83.50 487.97 L83.91 487.98 L84.32 487.99 L84.73 488.00 L85.13 488.00 L85.54 488.00 L85.95 488.00 L86.36 488.00 L86.77 488.00 L87.18 488.00 L87.58 488.00 L87.99 488.00 L88.40 488.00" fill="none" stroke="#165a20" stroke-width="0.8"/></g>
<rect x="63.9" y="458.3" width="24.5" height="29.7" fill="none" stroke="#444" stroke-width="1"/>
<clipPath id="c02"><rect x="90.0" y="458.3" width="24.5" height="29.7"/></clipPath>
<g clip-path="url(#c02)"><path d="M90.00 487.85 L90.41 487.83 L90.82 487.81 L91.22 487.79 L91.63 487.77 L92.04 487.75 L92.45 487.73 L92.86 487.70 L93.27 487.68 L93.67 487.65 L94.08 487.62 L94.49 487.59 L94.90 487.57 L95.31 487.53 L95.72 487.50 L96.12 487.47 L96.53 487.44 L96.94 487.41 L97.35 487.37 L97.76 487.33 L98.17 487.09 L98.58 486.78 L98.98 486.39 L99.39 485.90 L99.80 485.31 L100.21 484.59 L100.62 483.75 L101.03 482.77 L101.43 481.68 L101.84 480.47 L102.25 479.17 L102.66 477.84 L103.07 476.52 L103.47 475.27 L103.88 474.20 L104.29 473.39 L104.70 473.00 L105.11 473.71 L105.52 475.24 L105.92 477.16 L106.33 479.18 L106.74 481.11 L107.15 482.81 L107.56 484.23 L107.97 485.35 L108.38 486.20 L108.78 486.81 L109.19 487.24 L109.60 487.53 L110.01 487.72 L110.42 487.83 L110.83 487.90 L111.23 487.95 L111.64 487.97 L112.05 487.98 L112.46 487.99 L112.87 488.00 L113.28 488.00 L113.68 488.00 L114.09 488.00 L114.50 488.00 L114.5 488.0 L90.0 488.0 Z" fill="#68ac68"/><path d="M90.00 477.67 L90.41 477.64 L90.82 477.61 L91.22 477.57 L91.63 477.54 L92.04 477.50 L92.45 477.46 L92.86 477.42 L93.27 477.37 L93.67 477.33 L94.08 477.28 L94.49 477.23 L94.90 477.19 L95.31 477.14 L95.72 477.09 L96.12 477.04 L96.53 476.99 L96.94 476.94 L97.35 476.89 L97.76 476.84 L98.17 476.80 L98.58 476.75 L98.98 476.71 L99.39 476.67 L99.80 476.63 L100.21 476.38 L100.62 475.96 L101.03 475.45 L101.43 474.84 L101.84 474.11 L102.25 473.25 L102.66 472.27 L103.07 471.16 L103.47 469.96 L103.88 468.76 L104.29 468.23 L104.70 469.93 L105.11 471.67 L105.52 473.18 L105.92 474.42 L106.33 475.38 L106.74 476.12 L107.15 476.66 L107.56 477.06 L107.97 477.35 L108.38 477.55 L108.78 477.70 L109.19 477.80 L109.60 477.86 L110.01 477.91 L110.42 477.94 L110.83 477.96 L111.23 477.97 L111.64 477.98 L112.05 477.99 L112.46 477.99 L112.87 478.00 L113.28 478.00 L113.68 478.00 L114.09 478.00 L114.50 478.00 L114.5 478.0 L90.0 478.0 Z" fill="#98d598" opacity="0.78"/><path d="M90.00 477.67 L90.41 477.64 L90.82 477.61 L91.22 477.57 L91.63 477.54 L92.04 477.50 L92.45 477.46 L92.86 477.42 L93.27 477.37 L93.67 477.33 L94.08 477.28 L94.49 477.23 L94.90 477.19 L95.31 477.14 L95.72 477.09 L96.12 477.04 L96.53 476.99 L96.94 476.94 L97.35 476.89 L97.76 476.84 L98.17 476.80 L98.58 476.75 L98.98 476.71 L99.39 476.67 L99.80 476.63 L100.21 476.38 L100.62 475.96 L101.03 475.45 L101.43 474.84 L101.84 474.11 L102.25 473.25 L102.66 472.27 L103.07 471.16 L103.47 469.96 L103.88 468.76 L104.29 468.23 L104.70 469.93 L105.11 471.67 L105.52 473.18 L105.92 474.42 L106.33 475.38 L106.74 476.12 L107.15 476.66 L107.56 477.06 L107.97 477.35 L108.38 477.55 L108.78 477.70 L109.19 477.80 L109.60 477.86 L110.01 477.91 L110.42 477.94 L110.83 477.96 L111.23 477.97 L111.64 477.98 L112.05 477.99 L112.46 477.99 L112.87 478.00 L113.28 478.00 L113.68 478.00 L114.09 478.00 L114.50 478.00" fill="none" stroke="#3a9a45" stroke-width="0.75"/><path d="M90.00 487.85 L90.41 487.83 L90.82 487.81 L91.22 487.79 L91.63 487.77 L92.04 487.75 L92.45 487.73 L92.86 487.70 L93.27 487.68 L93.67 487.65 L94.08 487.62 L94.49 487.59 L94.90 487.57 L95.31 487.53 L95.72 487.50 L96.12 487.47 L96.53 487.44 L96.94 487.41 L97.35 487.37 L97.76 487.33 L98.17 487.09 L98.58 486.78 L98.98 486.39 L99.39 485.90 L99.80 485.31 L100.21 484.59 L100.62 483.75 L101.03 482.77 L101.43 481.68 L101.84 480.47 L102.25 479.17 L102.66 477.84 L103.07 476.52 L103.47 475.27 L103.88 474.20 L104.29 473.39 L104.70 473.00 L105.11 473.71 L105.52 475.24 L105.92 477.16 L106.33 479.18 L106.74 481.11 L107.15 482.81 L107.56 484.23 L107.97 485.35 L108.38 486.20 L108.78 486.81 L109.19 487.24 L109.60 487.53 L110.01 487.72 L110.42 487.83 L110.83 487.90 L111.23 487.95 L111.64 487.97 L112.05 487.98 L112.46 487.99 L112.87 488.00 L113.28 488.00 L113.68 488.00 L114.09 488.00 L114.50 488.00" fill="none" stroke="#165a20" stroke-width="0.8"/></g>
<rect x="90.0" y="458.3" width="24.5" height="29.7" fill="none" stroke="#444" stroke-width="1"/>
<clipPath id="c03"><rect x="118.3" y="458.3" width="24.5" height="29.7"/></clipPath>
<g clip-path="url(#c03)"><path d="M118.30 487.94 L118.71 487.93 L119.12 487.92 L119.52 487.91 L119.93 487.89 L120.34 487.88 L120.75 487.86 L121.16 487.84 L121.57 487.83 L121.97 487.80 L122.38 487.78 L122.79 487.76 L123.20 487.73 L123.61 487.70 L124.02 487.68 L124.42 487.64 L124.83 487.61 L125.24 487.58 L125.65 487.54 L126.06 487.51 L126.47 487.47 L126.88 487.44 L127.28 487.40 L127.69 487.36 L128.10 487.15 L128.51 486.81 L128.92 486.36 L129.32 485.78 L129.73 485.05 L130.14 484.15 L130.55 483.07 L130.96 481.81 L131.37 480.39 L131.78 478.83 L132.18 477.21 L132.59 475.60 L133.00 474.11 L133.41 472.89 L133.82 472.12 L134.22 472.39 L134.63 474.06 L135.04 476.36 L135.45 478.83 L135.86 481.13 L136.27 483.10 L136.68 484.66 L137.08 485.82 L137.49 486.63 L137.90 487.18 L138.31 487.52 L138.72 487.73 L139.12 487.86 L139.53 487.93 L139.94 487.96 L140.35 487.98 L140.76 487.99 L141.17 488.00 L141.58 488.00 L141.98 488.00 L142.39 488.00 L142.80 488.00 L142.8 488.0 L118.3 488.0 Z" fill="#68ac68"/><path d="M118.30 477.85 L118.71 477.83 L119.12 477.81 L119.52 477.78 L119.93 477.75 L120.34 477.73 L120.75 477.69 L121.16 477.66 L121.57 477.62 L121.97 477.59 L122.38 477.55 L122.79 477.50 L123.20 477.46 L123.61 477.41 L124.02 477.36 L124.42 477.31 L124.83 477.26 L125.24 477.20 L125.65 477.15 L126.06 477.09 L126.47 477.03 L126.88 476.98 L127.28 476.92 L127.69 476.86 L128.10 476.81 L128.51 476.76 L128.92 476.71 L129.32 476.66 L129.73 476.35 L130.14 475.85 L130.55 475.22 L130.96 474.43 L131.37 473.47 L131.78 472.30 L132.18 470.94 L132.59 469.39 L133.00 467.73 L133.41 466.20 L133.82 467.70 L134.22 470.12 L134.63 472.22 L135.04 473.88 L135.45 475.14 L135.86 476.05 L136.27 476.69 L136.68 477.13 L137.08 477.44 L137.49 477.64 L137.90 477.77 L138.31 477.85 L138.72 477.91 L139.12 477.94 L139.53 477.97 L139.94 477.98 L140.35 477.99 L140.76 477.99 L141.17 478.00 L141.58 478.00 L141.98 478.00 L142.39 478.00 L142.80 478.00 L142.8 478.0 L118.3 478.0 Z" fill="#98d598" opacity="0.78"/><path d="M118.30 477.85 L118.71 477.83 L119.12 477.81 L119.52 477.78 L119.93 477.75 L120.34 477.73 L120.75 477.69 L121.16 477.66 L121.57 477.62 L121.97 477.59 L122.38 477.55 L122.79 477.50 L123.20 477.46 L123.61 477.41 L124.02 477.36 L124.42 477.31 L124.83 477.26 L125.24 477.20 L125.65 477.15 L126.06 477.09 L126.47 477.03 L126.88 476.98 L127.28 476.92 L127.69 476.86 L128.10 476.81 L128.51 476.76 L128.92 476.71 L129.32 476.66 L129.73 476.35 L130.14 475.85 L130.55 475.22 L130.96 474.43 L131.37 473.47 L131.78 472.30 L132.18 470.94 L132.59 469.39 L133.00 467.73 L133.41 466.20 L133.82 467.70 L134.22 470.12 L134.63 472.22 L135.04 473.88 L135.45 475.14 L135.86 476.05 L136.27 476.69 L136.68 477.13 L137.08 477.44 L137.49 477.64 L137.90 477.77 L138.31 477.85 L138.72 477.91 L139.12 477.94 L139.53 477.97 L139.94 477.98 L140.35 477.99 L140.76 477.99 L141.17 478.00 L141.58 478.00 L141.98 478.00 L142.39 478.00 L142.80 478.00" fill="none" stroke="#3a9a45" stroke-width="0.75"/><path d="M118.30 487.94 L118.71 487.93 L119.12 487.92 L119.52 487.91 L119.93 487.89 L120.34 487.88 L120.75 487.86 L121.16 487.84 L121.57 487.83 L121.97 487.80 L122.38 487.78 L122.79 487.76 L123.20 487.73 L123.61 487.70 L124.02 487.68 L124.42 487.64 L124.83 487.61 L125.24 487.58 L125.65 487.54 L126.06 487.51 L126.47 487.47 L126.88 487.44 L127.28 487.40 L127.69 487.36 L128.10 487.15 L128.51 486.81 L128.92 486.36 L129.32 485.78 L129.73 485.05 L130.14 484.15 L130.55 483.07 L130.96 481.81 L131.37 480.39 L131.78 478.83 L132.18 477.21 L132.59 475.60 L133.00 474.11 L133.41 472.89 L133.82 472.12 L134.22 472.39 L134.63 474.06 L135.04 476.36 L135.45 478.83 L135.86 481.13 L136.27 483.10 L136.68 484.66 L137.08 485.82 L137.49 486.63 L137.90 487.18 L138.31 487.52 L138.72 487.73 L139.12 487.86 L139.53 487.93 L139.94 487.96 L140.35 487.98 L140.76 487.99 L141.17 488.00 L141.58 488.00 L141.98 488.00 L142.39 488.00 L142.80 488.00" fill="none" stroke="#165a20" stroke-width="0.8"/></g>
<rect x="118.3" y="458.3" width="24.5" height="29.7" fill="none" stroke="#444" stroke-width="1"/>
<clipPath id="c04"><rect x="144.4" y="458.3" width="24.5" height="29.7"/></clipPath>
<g clip-path="url(#c04)"><path d="M144.40 487.84 L144.81 487.82 L145.22 487.79 L145.62 487.77 L146.03 487.74 L146.44 487.71 L146.85 487.68 L147.26 487.65 L147.67 487.61 L148.08 487.58 L148.48 487.54 L148.89 487.50 L149.30 487.46 L149.71 487.42 L150.12 487.38 L150.53 487.34 L150.93 487.12 L151.34 486.75 L151.75 486.25 L152.16 485.62 L152.57 484.82 L152.97 483.84 L153.38 482.69 L153.79 481.38 L154.20 479.95 L154.61 478.47 L155.02 477.04 L155.43 475.77 L155.83 474.84 L156.24 474.55 L156.65 475.73 L157.06 477.71 L157.47 479.94 L157.88 482.06 L158.28 483.86 L158.69 485.27 L159.10 486.28 L159.51 486.97 L159.92 487.41 L160.33 487.68 L160.73 487.83 L161.14 487.91 L161.55 487.96 L161.96 487.98 L162.37 487.99 L162.78 488.00 L163.18 488.00 L163.59 488.00 L164.00 488.00 L164.41 488.00 L164.82 488.00 L165.22 488.00 L165.63 488.00 L166.04 488.00 L166.45 488.00 L166.86 488.00 L167.27 488.00 L167.68 488.00 L168.08 488.00 L168.49 488.00 L168.90 488.00 L168.9 488.0 L144.4 488.0 Z" fill="#68ac68"/><path d="M144.40 477.64 L144.81 477.60 L145.22 477.56 L145.62 477.52 L146.03 477.47 L146.44 477.42 L146.85 477.36 L147.26 477.31 L147.67 477.25 L148.08 477.19 L148.48 477.13 L148.89 477.07 L149.30 477.01 L149.71 476.95 L150.12 476.89 L150.53 476.83 L150.93 476.77 L151.34 476.72 L151.75 476.67 L152.16 476.45 L152.57 475.93 L152.97 475.27 L153.38 474.44 L153.79 473.40 L154.20 472.14 L154.61 470.66 L155.02 469.00 L155.43 467.30 L155.83 467.28 L156.24 469.79 L156.65 472.06 L157.06 473.86 L157.47 475.19 L157.88 476.14 L158.28 476.79 L158.69 477.23 L159.10 477.51 L159.51 477.70 L159.92 477.82 L160.33 477.89 L160.73 477.93 L161.14 477.96 L161.55 477.98 L161.96 477.99 L162.37 477.99 L162.78 478.00 L163.18 478.00 L163.59 478.00 L164.00 478.00 L164.41 478.00 L164.82 478.00 L165.22 478.00 L165.63 478.00 L166.04 478.00 L166.45 478.00 L166.86 478.00 L167.27 478.00 L167.68 478.00 L168.08 478.00 L168.49 478.00 L168.90 478.00 L168.9 478.0 L144.4 478.0 Z" fill="#98d598" opacity="0.78"/><path d="M144.40 477.64 L144.81 477.60 L145.22 477.56 L145.62 477.52 L146.03 477.47 L146.44 477.42 L146.85 477.36 L147.26 477.31 L147.67 477.25 L148.08 477.19 L148.48 477.13 L148.89 477.07 L149.30 477.01 L149.71 476.95 L150.12 476.89 L150.53 476.83 L150.93 476.77 L151.34 476.72 L151.75 476.67 L152.16 476.45 L152.57 475.93 L152.97 475.27 L153.38 474.44 L153.79 473.40 L154.20 472.14 L154.61 470.66 L155.02 469.00 L155.43 467.30 L155.83 467.28 L156.24 469.79 L156.65 472.06 L157.06 473.86 L157.47 475.19 L157.88 476.14 L158.28 476.79 L158.69 477.23 L159.10 477.51 L159.51 477.70 L159.92 477.82 L160.33 477.89 L160.73 477.93 L161.14 477.96 L161.55 477.98 L161.96 477.99 L162.37 477.99 L162.78 478.00 L163.18 478.00 L163.59 478.00 L164.00 478.00 L164.41 478.00 L164.82 478.00 L165.22 478.00 L165.63 478.00 L166.04 478.00 L166.45 478.00 L166.86 478.00 L167.27 478.00 L167.68 478.00 L168.08 478.00 L168.49 478.00 L168.90 478.00" fill="none" stroke="#3a9a45" stroke-width="0.75"/><path d="M144.40 487.84 L144.81 487.82 L145.22 487.79 L145.62 487.77 L146.03 487.74 L146.44 487.71 L146.85 487.68 L147.26 487.65 L147.67 487.61 L148.08 487.58 L148.48 487.54 L148.89 487.50 L149.30 487.46 L149.71 487.42 L150.12 487.38 L150.53 487.34 L150.93 487.12 L151.34 486.75 L151.75 486.25 L152.16 485.62 L152.57 484.82 L152.97 483.84 L153.38 482.69 L153.79 481.38 L154.20 479.95 L154.61 478.47 L155.02 477.04 L155.43 475.77 L155.83 474.84 L156.24 474.55 L156.65 475.73 L157.06 477.71 L157.47 479.94 L157.88 482.06 L158.28 483.86 L158.69 485.27 L159.10 486.28 L159.51 486.97 L159.92 487.41 L160.33 487.68 L160.73 487.83 L161.14 487.91 L161.55 487.96 L161.96 487.98 L162.37 487.99 L162.78 488.00 L163.18 488.00 L163.59 488.00 L164.00 488.00 L164.41 488.00 L164.82 488.00 L165.22 488.00 L165.63 488.00 L166.04 488.00 L166.45 488.00 L166.86 488.00 L167.27 488.00 L167.68 488.00 L168.08 488.00 L168.49 488.00 L168.90 488.00" fill="none" stroke="#165a20" stroke-width="0.8"/></g>
<rect x="144.4" y="458.3" width="24.5" height="29.7" fill="none" stroke="#444" stroke-width="1"/>
<clipPath id="c05"><rect x="170.4" y="458.3" width="24.5" height="29.7"/></clipPath>
<g clip-path="url(#c05)"><path d="M170.40 487.96 L170.81 487.95 L171.22 487.94 L171.62 487.93 L172.03 487.92 L172.44 487.91 L172.85 487.89 L173.26 487.87 L173.67 487.85 L174.08 487.83 L174.48 487.81 L174.89 487.78 L175.30 487.76 L175.71 487.72 L176.12 487.69 L176.53 487.66 L176.93 487.62 L177.34 487.58 L177.75 487.54 L178.16 487.50 L178.57 487.46 L178.97 487.41 L179.38 487.37 L179.79 487.22 L180.20 486.85 L180.61 486.33 L181.02 485.64 L181.43 484.75 L181.83 483.63 L182.24 482.28 L182.65 480.73 L183.06 479.01 L183.47 477.23 L183.88 475.52 L184.28 474.08 L184.69 473.14 L185.10 473.48 L185.51 475.46 L185.92 478.08 L186.33 480.72 L186.73 483.00 L187.14 484.78 L187.55 486.04 L187.96 486.88 L188.37 487.39 L188.78 487.68 L189.18 487.84 L189.59 487.93 L190.00 487.97 L190.41 487.99 L190.82 487.99 L191.22 488.00 L191.63 488.00 L192.04 488.00 L192.45 488.00 L192.86 488.00 L193.27 488.00 L193.68 488.00 L194.08 488.00 L194.49 488.00 L194.90 488.00 L194.9 488.0 L170.4 488.0 Z" fill="#68ac68"/><path d="M170.40 477.89 L170.81 477.88 L171.22 477.86 L171.62 477.83 L172.03 477.81 L172.44 477.78 L172.85 477.75 L173.26 477.71 L173.67 477.67 L174.08 477.63 L174.48 477.59 L174.89 477.54 L175.30 477.49 L175.71 477.43 L176.12 477.38 L176.53 477.32 L176.93 477.26 L177.34 477.19 L177.75 477.13 L178.16 477.06 L178.57 477.00 L178.97 476.93 L179.38 476.87 L179.79 476.80 L180.20 476.74 L180.61 476.68 L181.02 476.38 L181.43 475.79 L181.83 475.01 L182.24 474.01 L182.65 472.73 L183.06 471.17 L183.47 469.31 L183.88 467.24 L184.28 465.26 L184.69 467.20 L185.10 470.19 L185.51 472.64 L185.92 474.45 L186.33 475.71 L186.73 476.56 L187.14 477.11 L187.55 477.46 L187.96 477.68 L188.37 477.81 L188.78 477.89 L189.18 477.94 L189.59 477.97 L190.00 477.98 L190.41 477.99 L190.82 477.99 L191.22 478.00 L191.63 478.00 L192.04 478.00 L192.45 478.00 L192.86 478.00 L193.27 478.00 L193.68 478.00 L194.08 478.00 L194.49 478.00 L194.90 478.00 L194.9 478.0 L170.4 478.0 Z" fill="#98d598" opacity="0.78"/><path d="M170.40 477.89 L170.81 477.88 L171.22 477.86 L171.62 477.83 L172.03 477.81 L172.44 477.78 L172.85 477.75 L173.26 477.71 L173.67 477.67 L174.08 477.63 L174.48 477.59 L174.89 477.54 L175.30 477.49 L175.71 477.43 L176.12 477.38 L176.53 477.32 L176.93 477.26 L177.34 477.19 L177.75 477.13 L178.16 477.06 L178.57 477.00 L178.97 476.93 L179.38 476.87 L179.79 476.80 L180.20 476.74 L180.61 476.68 L181.02 476.38 L181.43 475.79 L181.83 475.01 L182.24 474.01 L182.65 472.73 L183.06 471.17 L183.47 469.31 L183.88 467.24 L184.28 465.26 L184.69 467.20 L185.10 470.19 L185.51 472.64 L185.92 474.45 L186.33 475.71 L186.73 476.56 L187.14 477.11 L187.55 477.46 L187.96 477.68 L188.37 477.81 L188.78 477.89 L189.18 477.94 L189.59 477.97 L190.00 477.98 L190.41 477.99 L190.82 477.99 L191.22 478.00 L191.63 478.00 L192.04 478.00 L192.45 478.00 L192.86 478.00 L193.27 478.00 L193.68 478.00 L194.08 478.00 L194.49 478.00 L194.90 478.00" fill="none" stroke="#3a9a45" stroke-width="0.75"/><path d="M170.40 487.96 L170.81 487.95 L171.22 487.94 L171.62 487.93 L172.03 487.92 L172.44 487.91 L172.85 487.89 L173.26 487.87 L173.67 487.85 L174.08 487.83 L174.48 487.81 L174.89 487.78 L175.30 487.76 L175.71 487.72 L176.12 487.69 L176.53 487.66 L176.93 487.62 L177.34 487.58 L177.75 487.54 L178.16 487.50 L178.57 487.46 L178.97 487.41 L179.38 487.37 L179.79 487.22 L180.20 486.85 L180.61 486.33 L181.02 485.64 L181.43 484.75 L181.83 483.63 L182.24 482.28 L182.65 480.73 L183.06 479.01 L183.47 477.23 L183.88 475.52 L184.28 474.08 L184.69 473.14 L185.10 473.48 L185.51 475.46 L185.92 478.08 L186.33 480.72 L186.73 483.00 L187.14 484.78 L187.55 486.04 L187.96 486.88 L188.37 487.39 L188.78 487.68 L189.18 487.84 L189.59 487.93 L190.00 487.97 L190.41 487.99 L190.82 487.99 L191.22 488.00 L191.63 488.00 L192.04 488.00 L192.45 488.00 L192.86 488.00 L193.27 488.00 L193.68 488.00 L194.08 488.00 L194.49 488.00 L194.90 488.00" fill="none" stroke="#165a20" stroke-width="0.8"/></g>
<rect x="170.4" y="458.3" width="24.5" height="29.7" fill="none" stroke="#444" stroke-width="1"/>
<clipPath id="c06"><rect x="196.3" y="458.3" width="24.5" height="29.7"/></clipPath>
<g clip-path="url(#c06)"><path d="M196.30 487.68 L196.71 487.65 L197.12 487.62 L197.53 487.59 L197.93 487.56 L198.34 487.53 L198.75 487.50 L199.16 487.46 L199.57 487.43 L199.98 487.39 L200.38 487.36 L200.79 487.20 L201.20 486.90 L201.61 486.51 L202.02 486.02 L202.43 485.41 L202.83 484.66 L203.24 483.77 L203.65 482.73 L204.06 481.55 L204.47 480.25 L204.88 478.86 L205.28 477.43 L205.69 476.04 L206.10 474.78 L206.51 473.75 L206.92 473.10 L207.33 473.33 L207.73 474.73 L208.14 476.70 L208.55 478.85 L208.96 480.93 L209.37 482.77 L209.78 484.28 L210.18 485.45 L210.59 486.32 L211.00 486.93 L211.41 487.34 L211.82 487.61 L212.23 487.77 L212.63 487.87 L213.04 487.93 L213.45 487.96 L213.86 487.98 L214.27 487.99 L214.68 488.00 L215.08 488.00 L215.49 488.00 L215.90 488.00 L216.31 488.00 L216.72 488.00 L217.12 488.00 L217.53 488.00 L217.94 488.00 L218.35 488.00 L218.76 488.00 L219.17 488.00 L219.58 488.00 L219.98 488.00 L220.39 488.00 L220.80 488.00 L220.8 488.0 L196.3 488.0 Z" fill="#68ac68"/><path d="M196.30 477.38 L196.71 477.33 L197.12 477.28 L197.53 477.23 L197.93 477.18 L198.34 477.13 L198.75 477.07 L199.16 477.02 L199.57 476.97 L199.98 476.92 L200.38 476.86 L200.79 476.81 L201.20 476.76 L201.61 476.72 L202.02 476.67 L202.43 476.49 L202.83 476.06 L203.24 475.52 L203.65 474.86 L204.06 474.05 L204.47 473.09 L204.88 471.94 L205.28 470.62 L205.69 469.15 L206.10 467.60 L206.51 466.18 L206.92 467.57 L207.33 469.84 L207.73 471.86 L208.14 473.50 L208.55 474.78 L208.96 475.73 L209.37 476.43 L209.78 476.92 L210.18 477.27 L210.59 477.51 L211.00 477.68 L211.41 477.79 L211.82 477.86 L212.23 477.91 L212.63 477.94 L213.04 477.96 L213.45 477.98 L213.86 477.99 L214.27 477.99 L214.68 477.99 L215.08 478.00 L215.49 478.00 L215.90 478.00 L216.31 478.00 L216.72 478.00 L217.12 478.00 L217.53 478.00 L217.94 478.00 L218.35 478.00 L218.76 478.00 L219.17 478.00 L219.58 478.00 L219.98 478.00 L220.39 478.00 L220.80 478.00 L220.8 478.0 L196.3 478.0 Z" fill="#98d598" opacity="0.78"/><path d="M196.30 477.38 L196.71 477.33 L197.12 477.28 L197.53 477.23 L197.93 477.18 L198.34 477.13 L198.75 477.07 L199.16 477.02 L199.57 476.97 L199.98 476.92 L200.38 476.86 L200.79 476.81 L201.20 476.76 L201.61 476.72 L202.02 476.67 L202.43 476.49 L202.83 476.06 L203.24 475.52 L203.65 474.86 L204.06 474.05 L204.47 473.09 L204.88 471.94 L205.28 470.62 L205.69 469.15 L206.10 467.60 L206.51 466.18 L206.92 467.57 L207.33 469.84 L207.73 471.86 L208.14 473.50 L208.55 474.78 L208.96 475.73 L209.37 476.43 L209.78 476.92 L210.18 477.27 L210.59 477.51 L211.00 477.68 L211.41 477.79 L211.82 477.86 L212.23 477.91 L212.63 477.94 L213.04 477.96 L213.45 477.98 L213.86 477.99 L214.27 477.99 L214.68 477.99 L215.08 478.00 L215.49 478.00 L215.90 478.00 L216.31 478.00 L216.72 478.00 L217.12 478.00 L217.53 478.00 L217.94 478.00 L218.35 478.00 L218.76 478.00 L219.17 478.00 L219.58 478.00 L219.98 478.00 L220.39 478.00 L220.80 478.00" fill="none" stroke="#3a9a45" stroke-width="0.75"/><path d="M196.30 487.68 L196.71 487.65 L197.12 487.62 L197.53 487.59 L197.93 487.56 L198.34 487.53 L198.75 487.50 L199.16 487.46 L199.57 487.43 L199.98 487.39 L200.38 487.36 L200.79 487.20 L201.20 486.90 L201.61 486.51 L202.02 486.02 L202.43 485.41 L202.83 484.66 L203.24 483.77 L203.65 482.73 L204.06 481.55 L204.47 480.25 L204.88 478.86 L205.28 477.43 L205.69 476.04 L206.10 474.78 L206.51 473.75 L206.92 473.10 L207.33 473.33 L207.73 474.73 L208.14 476.70 L208.55 478.85 L208.96 480.93 L209.37 482.77 L209.78 484.28 L210.18 485.45 L210.59 486.32 L211.00 486.93 L211.41 487.34 L211.82 487.61 L212.23 487.77 L212.63 487.87 L213.04 487.93 L213.45 487.96 L213.86 487.98 L214.27 487.99 L214.68 488.00 L215.08 488.00 L215.49 488.00 L215.90 488.00 L216.31 488.00 L216.72 488.00 L217.12 488.00 L217.53 488.00 L217.94 488.00 L218.35 488.00 L218.76 488.00 L219.17 488.00 L219.58 488.00 L219.98 488.00 L220.39 488.00 L220.80 488.00" fill="none" stroke="#165a20" stroke-width="0.8"/></g>
<rect x="196.3" y="458.3" width="24.5" height="29.7" fill="none" stroke="#444" stroke-width="1"/>
<clipPath id="c07"><rect x="222.2" y="458.3" width="24.5" height="29.7"/></clipPath>
<g clip-path="url(#c07)"><path d="M222.20 487.71 L222.61 487.69 L223.02 487.66 L223.42 487.64 L223.83 487.61 L224.24 487.58 L224.65 487.56 L225.06 487.53 L225.47 487.50 L225.88 487.47 L226.28 487.44 L226.69 487.41 L227.10 487.38 L227.51 487.35 L227.92 487.31 L228.32 487.09 L228.73 486.81 L229.14 486.47 L229.55 486.06 L229.96 485.56 L230.37 484.98 L230.77 484.30 L231.18 483.53 L231.59 482.67 L232.00 481.75 L232.41 480.76 L232.82 479.76 L233.22 478.76 L233.63 477.83 L234.04 477.01 L234.45 476.38 L234.86 476.02 L235.27 476.35 L235.67 477.37 L236.08 478.75 L236.49 480.26 L236.90 481.76 L237.31 483.14 L237.72 484.33 L238.12 485.32 L238.53 486.09 L238.94 486.68 L239.35 487.12 L239.76 487.42 L240.17 487.63 L240.57 487.77 L240.98 487.86 L241.39 487.92 L241.80 487.95 L242.21 487.97 L242.62 487.99 L243.02 487.99 L243.43 488.00 L243.84 488.00 L244.25 488.00 L244.66 488.00 L245.07 488.00 L245.47 488.00 L245.88 488.00 L246.29 488.00 L246.70 488.00 L246.7 488.0 L222.2 488.0 Z" fill="#68ac68"/><path d="M222.20 477.43 L222.61 477.39 L223.02 477.35 L223.42 477.31 L223.83 477.27 L224.24 477.22 L224.65 477.18 L225.06 477.13 L225.47 477.08 L225.88 477.04 L226.28 476.99 L226.69 476.95 L227.10 476.90 L227.51 476.85 L227.92 476.81 L228.32 476.77 L228.73 476.72 L229.14 476.68 L229.55 476.64 L229.96 476.61 L230.37 476.57 L230.77 476.24 L231.18 475.84 L231.59 475.36 L232.00 474.79 L232.41 474.13 L232.82 473.38 L233.22 472.55 L233.63 471.65 L234.04 470.74 L234.45 470.00 L234.86 471.17 L235.27 472.51 L235.67 473.72 L236.08 474.73 L236.49 475.55 L236.90 476.19 L237.31 476.68 L237.72 477.05 L238.12 477.32 L238.53 477.52 L238.94 477.66 L239.35 477.77 L239.76 477.84 L240.17 477.89 L240.57 477.93 L240.98 477.95 L241.39 477.97 L241.80 477.98 L242.21 477.98 L242.62 477.99 L243.02 477.99 L243.43 478.00 L243.84 478.00 L244.25 478.00 L244.66 478.00 L245.07 478.00 L245.47 478.00 L245.88 478.00 L246.29 478.00 L246.70 478.00 L246.7 478.0 L222.2 478.0 Z" fill="#98d598" opacity="0.78"/><path d="M222.20 477.43 L222.61 477.39 L223.02 477.35 L223.42 477.31 L223.83 477.27 L224.24 477.22 L224.65 477.18 L225.06 477.13 L225.47 477.08 L225.88 477.04 L226.28 476.99 L226.69 476.95 L227.10 476.90 L227.51 476.85 L227.92 476.81 L228.32 476.77 L228.73 476.72 L229.14 476.68 L229.55 476.64 L229.96 476.61 L230.37 476.57 L230.77 476.24 L231.18 475.84 L231.59 475.36 L232.00 474.79 L232.41 474.13 L232.82 473.38 L233.22 472.55 L233.63 471.65 L234.04 470.74 L234.45 470.00 L234.86 471.17 L235.27 472.51 L235.67 473.72 L236.08 474.73 L236.49 475.55 L236.90 476.19 L237.31 476.68 L237.72 477.05 L238.12 477.32 L238.53 477.52 L238.94 477.66 L239.35 477.77 L239.76 477.84 L240.17 477.89 L240.57 477.93 L240.98 477.95 L241.39 477.97 L241.80 477.98 L242.21 477.98 L242.62 477.99 L243.02 477.99 L243.43 478.00 L243.84 478.00 L244.25 478.00 L244.66 478.00 L245.07 478.00 L245.47 478.00 L245.88 478.00 L246.29 478.00 L246.70 478.00" fill="none" stroke="#3a9a45" stroke-width="0.75"/><path d="M222.20 487.71 L222.61 487.69 L223.02 487.66 L223.42 487.64 L223.83 487.61 L224.24 487.58 L224.65 487.56 L225.06 487.53 L225.47 487.50 L225.88 487.47 L226.28 487.44 L226.69 487.41 L227.10 487.38 L227.51 487.35 L227.92 487.31 L228.32 487.09 L228.73 486.81 L229.14 486.47 L229.55 486.06 L229.96 485.56 L230.37 484.98 L230.77 484.30 L231.18 483.53 L231.59 482.67 L232.00 481.75 L232.41 480.76 L232.82 479.76 L233.22 478.76 L233.63 477.83 L234.04 477.01 L234.45 476.38 L234.86 476.02 L235.27 476.35 L235.67 477.37 L236.08 478.75 L236.49 480.26 L236.90 481.76 L237.31 483.14 L237.72 484.33 L238.12 485.32 L238.53 486.09 L238.94 486.68 L239.35 487.12 L239.76 487.42 L240.17 487.63 L240.57 487.77 L240.98 487.86 L241.39 487.92 L241.80 487.95 L242.21 487.97 L242.62 487.99 L243.02 487.99 L243.43 488.00 L243.84 488.00 L244.25 488.00 L244.66 488.00 L245.07 488.00 L245.47 488.00 L245.88 488.00 L246.29 488.00 L246.70 488.00" fill="none" stroke="#165a20" stroke-width="0.8"/></g>
<rect x="222.2" y="458.3" width="24.5" height="29.7" fill="none" stroke="#444" stroke-width="1"/>
<clipPath id="c08"><rect x="248.1" y="458.3" width="24.5" height="29.7"/></clipPath>
<g clip-path="url(#c08)"><path d="M248.10 487.85 L248.51 487.83 L248.92 487.81 L249.32 487.79 L249.73 487.77 L250.14 487.75 L250.55 487.73 L250.96 487.70 L251.37 487.68 L251.78 487.65 L252.18 487.62 L252.59 487.59 L253.00 487.57 L253.41 487.53 L253.82 487.50 L254.22 487.47 L254.63 487.44 L255.04 487.41 L255.45 487.37 L255.86 487.34 L256.27 487.27 L256.68 487.02 L257.08 486.71 L257.49 486.32 L257.90 485.85 L258.31 485.27 L258.72 484.60 L259.12 483.82 L259.53 482.94 L259.94 481.97 L260.35 480.94 L260.76 479.87 L261.17 478.81 L261.57 477.82 L261.98 476.96 L262.39 476.31 L262.80 476.00 L263.21 476.57 L263.62 477.79 L264.03 479.32 L264.43 480.94 L264.84 482.48 L265.25 483.85 L265.66 484.98 L266.07 485.88 L266.48 486.56 L266.88 487.05 L267.29 487.39 L267.70 487.62 L268.11 487.77 L268.52 487.87 L268.93 487.92 L269.33 487.96 L269.74 487.98 L270.15 487.99 L270.56 487.99 L270.97 488.00 L271.38 488.00 L271.78 488.00 L272.19 488.00 L272.60 488.00 L272.6 488.0 L248.1 488.0 Z" fill="#68ac68"/><path d="M248.10 477.67 L248.51 477.64 L248.92 477.61 L249.32 477.57 L249.73 477.54 L250.14 477.50 L250.55 477.46 L250.96 477.42 L251.37 477.37 L251.78 477.33 L252.18 477.28 L252.59 477.23 L253.00 477.19 L253.41 477.14 L253.82 477.09 L254.22 477.04 L254.63 476.99 L255.04 476.94 L255.45 476.89 L255.86 476.84 L256.27 476.80 L256.68 476.75 L257.08 476.71 L257.49 476.67 L257.90 476.59 L258.31 476.22 L258.72 475.76 L259.12 475.20 L259.53 474.52 L259.94 473.72 L260.35 472.78 L260.76 471.69 L261.17 470.48 L261.57 469.16 L261.98 467.84 L262.39 467.25 L262.80 469.12 L263.21 471.04 L263.62 472.70 L264.03 474.06 L264.43 475.12 L264.84 475.93 L265.25 476.53 L265.66 476.97 L266.07 477.29 L266.48 477.51 L266.88 477.67 L267.29 477.78 L267.70 477.85 L268.11 477.90 L268.52 477.93 L268.93 477.96 L269.33 477.97 L269.74 477.98 L270.15 477.99 L270.56 477.99 L270.97 478.00 L271.38 478.00 L271.78 478.00 L272.19 478.00 L272.60 478.00 L272.6 478.0 L248.1 478.0 Z" fill="#98d598" opacity="0.78"/><path d="M248.10 477.67 L248.51 477.64 L248.92 477.61 L249.32 477.57 L249.73 477.54 L250.14 477.50 L250.55 477.46 L250.96 477.42 L251.37 477.37 L251.78 477.33 L252.18 477.28 L252.59 477.23 L253.00 477.19 L253.41 477.14 L253.82 477.09 L254.22 477.04 L254.63 476.99 L255.04 476.94 L255.45 476.89 L255.86 476.84 L256.27 476.80 L256.68 476.75 L257.08 476.71 L257.49 476.67 L257.90 476.59 L258.31 476.22 L258.72 475.76 L259.12 475.20 L259.53 474.52 L259.94 473.72 L260.35 472.78 L260.76 471.69 L261.17 470.48 L261.57 469.16 L261.98 467.84 L262.39 467.25 L262.80 469.12 L263.21 471.04 L263.62 472.70 L264.03 474.06 L264.43 475.12 L264.84 475.93 L265.25 476.53 L265.66 476.97 L266.07 477.29 L266.48 477.51 L266.88 477.67 L267.29 477.78 L267.70 477.85 L268.11 477.90 L268.52 477.93 L268.93 477.96 L269.33 477.97 L269.74 477.98 L270.15 477.99 L270.56 477.99 L270.97 478.00 L271.38 478.00 L271.78 478.00 L272.19 478.00 L272.60 478.00" fill="none" stroke="#3a9a45" stroke-width="0.75"/><path d="M248.10 487.85 L248.51 487.83 L248.92 487.81 L249.32 487.79 L249.73 487.77 L250.14 487.75 L250.55 487.73 L250.96 487.70 L251.37 487.68 L251.78 487.65 L252.18 487.62 L252.59 487.59 L253.00 487.57 L253.41 487.53 L253.82 487.50 L254.22 487.47 L254.63 487.44 L255.04 487.41 L255.45 487.37 L255.86 487.34 L256.27 487.27 L256.68 487.02 L257.08 486.71 L257.49 486.32 L257.90 485.85 L258.31 485.27 L258.72 484.60 L259.12 483.82 L259.53 482.94 L259.94 481.97 L260.35 480.94 L260.76 479.87 L261.17 478.81 L261.57 477.82 L261.98 476.96 L262.39 476.31 L262.80 476.00 L263.21 476.57 L263.62 477.79 L264.03 479.32 L264.43 480.94 L264.84 482.48 L265.25 483.85 L265.66 484.98 L266.07 485.88 L266.48 486.56 L266.88 487.05 L267.29 487.39 L267.70 487.62 L268.11 487.77 L268.52 487.87 L268.93 487.92 L269.33 487.96 L269.74 487.98 L270.15 487.99 L270.56 487.99 L270.97 488.00 L271.38 488.00 L271.78 488.00 L272.19 488.00 L272.60 488.00" fill="none" stroke="#165a20" stroke-width="0.8"/></g>
<rect x="248.1" y="458.3" width="24.5" height="29.7" fill="none" stroke="#444" stroke-width="1"/>
<text x="146.00" y="506.80" font-size="10.75" text-anchor="middle" fill="#231f20" stroke="#231f20" stroke-width="0.12" transform="translate(146.00 506.80) scale(0.8929 1) translate(-146.00 -506.80)">CD4 memory/effector</text>
<text x="34.40" y="531.10" font-size="8.85" text-anchor="end" fill="#231f20" stroke="#231f20" stroke-width="0.12" transform="translate(34.40 531.10) scale(0.8929 1) translate(-34.40 -531.10)">Pre</text>
<text x="34.40" y="541.10" font-size="8.85" text-anchor="end" fill="#231f20" stroke="#231f20" stroke-width="0.12" transform="translate(34.40 541.10) scale(0.8929 1) translate(-34.40 -541.10)">Post</text>
<clipPath id="c10"><rect x="37.3" y="512.4" width="24.5" height="29.7"/></clipPath>
<g clip-path="url(#c10)"><path d="M37.30 541.73 L37.71 541.71 L38.12 541.69 L38.52 541.67 L38.93 541.64 L39.34 541.62 L39.75 541.60 L40.16 541.57 L40.57 541.55 L40.97 541.53 L41.38 541.50 L41.79 541.48 L42.20 541.40 L42.61 541.22 L43.02 541.00 L43.42 540.74 L43.83 540.43 L44.24 540.07 L44.65 539.64 L45.06 539.14 L45.47 538.57 L45.88 537.92 L46.28 537.19 L46.69 536.37 L47.10 535.47 L47.51 534.50 L47.92 533.46 L48.32 532.35 L48.73 531.21 L49.14 530.04 L49.55 528.88 L49.96 527.75 L50.37 526.69 L50.77 525.74 L51.18 524.95 L51.59 524.37 L52.00 524.10 L52.41 524.60 L52.82 525.72 L53.22 527.20 L53.63 528.88 L54.04 530.65 L54.45 532.39 L54.86 534.04 L55.27 535.54 L55.67 536.86 L56.08 537.99 L56.49 538.93 L56.90 539.70 L57.31 540.31 L57.72 540.79 L58.12 541.15 L58.53 541.43 L58.94 541.63 L59.35 541.78 L59.76 541.88 L60.17 541.95 L60.57 542.00 L60.98 542.04 L61.39 542.06 L61.80 542.07 L61.8 542.1 L37.3 542.1 Z" fill="#68ac68"/><path d="M37.30 531.41 L37.71 531.37 L38.12 531.34 L38.52 531.30 L38.93 531.27 L39.34 531.23 L39.75 531.20 L40.16 531.16 L40.57 531.12 L40.97 531.09 L41.38 531.05 L41.79 531.02 L42.20 530.98 L42.61 530.95 L43.02 530.91 L43.42 530.88 L43.83 530.85 L44.24 530.81 L44.65 530.55 L45.06 530.25 L45.47 529.90 L45.88 529.49 L46.28 529.01 L46.69 528.46 L47.10 527.82 L47.51 527.09 L47.92 526.26 L48.32 525.31 L48.73 524.26 L49.14 523.08 L49.55 521.79 L49.96 520.40 L50.37 518.93 L50.77 517.42 L51.18 515.98 L51.59 515.36 L52.00 517.38 L52.41 519.60 L52.82 521.69 L53.22 523.57 L53.63 525.19 L54.04 526.56 L54.45 527.70 L54.86 528.63 L55.27 529.39 L55.67 530.00 L56.08 530.48 L56.49 530.85 L56.90 531.15 L57.31 531.38 L57.72 531.55 L58.12 531.69 L58.53 531.79 L58.94 531.87 L59.35 531.93 L59.76 531.97 L60.17 532.01 L60.57 532.03 L60.98 532.05 L61.39 532.06 L61.80 532.07 L61.8 532.1 L37.3 532.1 Z" fill="#98d598" opacity="0.78"/><path d="M37.30 531.41 L37.71 531.37 L38.12 531.34 L38.52 531.30 L38.93 531.27 L39.34 531.23 L39.75 531.20 L40.16 531.16 L40.57 531.12 L40.97 531.09 L41.38 531.05 L41.79 531.02 L42.20 530.98 L42.61 530.95 L43.02 530.91 L43.42 530.88 L43.83 530.85 L44.24 530.81 L44.65 530.55 L45.06 530.25 L45.47 529.90 L45.88 529.49 L46.28 529.01 L46.69 528.46 L47.10 527.82 L47.51 527.09 L47.92 526.26 L48.32 525.31 L48.73 524.26 L49.14 523.08 L49.55 521.79 L49.96 520.40 L50.37 518.93 L50.77 517.42 L51.18 515.98 L51.59 515.36 L52.00 517.38 L52.41 519.60 L52.82 521.69 L53.22 523.57 L53.63 525.19 L54.04 526.56 L54.45 527.70 L54.86 528.63 L55.27 529.39 L55.67 530.00 L56.08 530.48 L56.49 530.85 L56.90 531.15 L57.31 531.38 L57.72 531.55 L58.12 531.69 L58.53 531.79 L58.94 531.87 L59.35 531.93 L59.76 531.97 L60.17 532.01 L60.57 532.03 L60.98 532.05 L61.39 532.06 L61.80 532.07" fill="none" stroke="#3a9a45" stroke-width="0.75"/><path d="M37.30 541.73 L37.71 541.71 L38.12 541.69 L38.52 541.67 L38.93 541.64 L39.34 541.62 L39.75 541.60 L40.16 541.57 L40.57 541.55 L40.97 541.53 L41.38 541.50 L41.79 541.48 L42.20 541.40 L42.61 541.22 L43.02 541.00 L43.42 540.74 L43.83 540.43 L44.24 540.07 L44.65 539.64 L45.06 539.14 L45.47 538.57 L45.88 537.92 L46.28 537.19 L46.69 536.37 L47.10 535.47 L47.51 534.50 L47.92 533.46 L48.32 532.35 L48.73 531.21 L49.14 530.04 L49.55 528.88 L49.96 527.75 L50.37 526.69 L50.77 525.74 L51.18 524.95 L51.59 524.37 L52.00 524.10 L52.41 524.60 L52.82 525.72 L53.22 527.20 L53.63 528.88 L54.04 530.65 L54.45 532.39 L54.86 534.04 L55.27 535.54 L55.67 536.86 L56.08 537.99 L56.49 538.93 L56.90 539.70 L57.31 540.31 L57.72 540.79 L58.12 541.15 L58.53 541.43 L58.94 541.63 L59.35 541.78 L59.76 541.88 L60.17 541.95 L60.57 542.00 L60.98 542.04 L61.39 542.06 L61.80 542.07" fill="none" stroke="#165a20" stroke-width="0.8"/></g>
<rect x="37.3" y="512.4" width="24.5" height="29.7" fill="none" stroke="#444" stroke-width="1"/>
<clipPath id="c11"><rect x="63.9" y="512.4" width="24.5" height="29.7"/></clipPath>
<g clip-path="url(#c11)"><path d="M63.90 541.89 L64.31 541.87 L64.72 541.85 L65.12 541.83 L65.53 541.80 L65.94 541.78 L66.35 541.75 L66.76 541.72 L67.17 541.69 L67.58 541.67 L67.98 541.63 L68.39 541.60 L68.80 541.57 L69.21 541.54 L69.62 541.51 L70.03 541.47 L70.43 541.44 L70.84 541.25 L71.25 540.96 L71.66 540.60 L72.07 540.14 L72.47 539.59 L72.88 538.92 L73.29 538.13 L73.70 537.22 L74.11 536.20 L74.52 535.07 L74.92 533.86 L75.33 532.62 L75.74 531.38 L76.15 530.22 L76.56 529.22 L76.97 528.46 L77.38 528.10 L77.78 528.77 L78.19 530.19 L78.60 531.98 L79.01 533.87 L79.42 535.67 L79.83 537.26 L80.23 538.58 L80.64 539.63 L81.05 540.42 L81.46 540.99 L81.87 541.39 L82.28 541.66 L82.68 541.83 L83.09 541.94 L83.50 542.01 L83.91 542.05 L84.32 542.07 L84.73 542.09 L85.13 542.09 L85.54 542.10 L85.95 542.10 L86.36 542.10 L86.77 542.10 L87.18 542.10 L87.58 542.10 L87.99 542.10 L88.40 542.10 L88.4 542.1 L63.9 542.1 Z" fill="#68ac68"/><path d="M63.90 531.67 L64.31 531.64 L64.72 531.60 L65.12 531.56 L65.53 531.52 L65.94 531.47 L66.35 531.43 L66.76 531.38 L67.17 531.33 L67.58 531.29 L67.98 531.24 L68.39 531.19 L68.80 531.14 L69.21 531.09 L69.62 531.04 L70.03 530.99 L70.43 530.94 L70.84 530.90 L71.25 530.85 L71.66 530.81 L72.07 530.49 L72.47 530.05 L72.88 529.50 L73.29 528.84 L73.70 528.02 L74.11 527.04 L74.52 525.88 L74.92 524.51 L75.33 522.93 L75.74 521.16 L76.15 519.24 L76.56 517.32 L76.97 516.46 L77.38 519.19 L77.78 521.97 L78.19 524.39 L78.60 526.37 L79.01 527.91 L79.42 529.09 L79.83 529.96 L80.23 530.60 L80.64 531.06 L81.05 531.39 L81.46 531.62 L81.87 531.77 L82.28 531.88 L82.68 531.96 L83.09 532.00 L83.50 532.04 L83.91 532.06 L84.32 532.07 L84.73 532.08 L85.13 532.09 L85.54 532.09 L85.95 532.10 L86.36 532.10 L86.77 532.10 L87.18 532.10 L87.58 532.10 L87.99 532.10 L88.40 532.10 L88.4 532.1 L63.9 532.1 Z" fill="#98d598" opacity="0.78"/><path d="M63.90 531.67 L64.31 531.64 L64.72 531.60 L65.12 531.56 L65.53 531.52 L65.94 531.47 L66.35 531.43 L66.76 531.38 L67.17 531.33 L67.58 531.29 L67.98 531.24 L68.39 531.19 L68.80 531.14 L69.21 531.09 L69.62 531.04 L70.03 530.99 L70.43 530.94 L70.84 530.90 L71.25 530.85 L71.66 530.81 L72.07 530.49 L72.47 530.05 L72.88 529.50 L73.29 528.84 L73.70 528.02 L74.11 527.04 L74.52 525.88 L74.92 524.51 L75.33 522.93 L75.74 521.16 L76.15 519.24 L76.56 517.32 L76.97 516.46 L77.38 519.19 L77.78 521.97 L78.19 524.39 L78.60 526.37 L79.01 527.91 L79.42 529.09 L79.83 529.96 L80.23 530.60 L80.64 531.06 L81.05 531.39 L81.46 531.62 L81.87 531.77 L82.28 531.88 L82.68 531.96 L83.09 532.00 L83.50 532.04 L83.91 532.06 L84.32 532.07 L84.73 532.08 L85.13 532.09 L85.54 532.09 L85.95 532.10 L86.36 532.10 L86.77 532.10 L87.18 532.10 L87.58 532.10 L87.99 532.10 L88.40 532.10" fill="none" stroke="#3a9a45" stroke-width="0.75"/><path d="M63.90 541.89 L64.31 541.87 L64.72 541.85 L65.12 541.83 L65.53 541.80 L65.94 541.78 L66.35 541.75 L66.76 541.72 L67.17 541.69 L67.58 541.67 L67.98 541.63 L68.39 541.60 L68.80 541.57 L69.21 541.54 L69.62 541.51 L70.03 541.47 L70.43 541.44 L70.84 541.25 L71.25 540.96 L71.66 540.60 L72.07 540.14 L72.47 539.59 L72.88 538.92 L73.29 538.13 L73.70 537.22 L74.11 536.20 L74.52 535.07 L74.92 533.86 L75.33 532.62 L75.74 531.38 L76.15 530.22 L76.56 529.22 L76.97 528.46 L77.38 528.10 L77.78 528.77 L78.19 530.19 L78.60 531.98 L79.01 533.87 L79.42 535.67 L79.83 537.26 L80.23 538.58 L80.64 539.63 L81.05 540.42 L81.46 540.99 L81.87 541.39 L82.28 541.66 L82.68 541.83 L83.09 541.94 L83.50 542.01 L83.91 542.05 L84.32 542.07 L84.73 542.09 L85.13 542.09 L85.54 542.10 L85.95 542.10 L86.36 542.10 L86.77 542.10 L87.18 542.10 L87.58 542.10 L87.99 542.10 L88.40 542.10" fill="none" stroke="#165a20" stroke-width="0.8"/></g>
<rect x="63.9" y="512.4" width="24.5" height="29.7" fill="none" stroke="#444" stroke-width="1"/>
<clipPath id="c12"><rect x="90.0" y="512.4" width="24.5" height="29.7"/></clipPath>
<g clip-path="url(#c12)"><path d="M90.00 541.95 L90.41 541.93 L90.82 541.92 L91.22 541.90 L91.63 541.88 L92.04 541.86 L92.45 541.84 L92.86 541.82 L93.27 541.79 L93.67 541.77 L94.08 541.74 L94.49 541.72 L94.90 541.69 L95.31 541.66 L95.72 541.63 L96.12 541.60 L96.53 541.57 L96.94 541.54 L97.35 541.51 L97.76 541.48 L98.17 541.45 L98.58 541.34 L98.98 541.09 L99.39 540.79 L99.80 540.40 L100.21 539.94 L100.62 539.38 L101.03 538.72 L101.43 537.95 L101.84 537.07 L102.25 536.09 L102.66 535.03 L103.07 533.89 L103.47 532.72 L103.88 531.55 L104.29 530.44 L104.70 529.46 L105.11 528.67 L105.52 528.17 L105.92 528.35 L106.33 529.42 L106.74 530.96 L107.15 532.71 L107.56 534.48 L107.97 536.12 L108.38 537.56 L108.78 538.76 L109.19 539.71 L109.60 540.44 L110.01 540.98 L110.42 541.36 L110.83 541.63 L111.23 541.81 L111.64 541.92 L112.05 541.99 L112.46 542.04 L112.87 542.07 L113.28 542.08 L113.68 542.09 L114.09 542.09 L114.50 542.10 L114.5 542.1 L90.0 542.1 Z" fill="#68ac68"/><path d="M90.00 531.78 L90.41 531.75 L90.82 531.72 L91.22 531.69 L91.63 531.65 L92.04 531.62 L92.45 531.58 L92.86 531.54 L93.27 531.50 L93.67 531.46 L94.08 531.42 L94.49 531.38 L94.90 531.33 L95.31 531.29 L95.72 531.24 L96.12 531.19 L96.53 531.15 L96.94 531.10 L97.35 531.05 L97.76 531.01 L98.17 530.96 L98.58 530.92 L98.98 530.87 L99.39 530.83 L99.80 530.79 L100.21 530.52 L100.62 530.12 L101.03 529.64 L101.43 529.05 L101.84 528.34 L102.25 527.49 L102.66 526.50 L103.07 525.34 L103.47 524.02 L103.88 522.54 L104.29 520.93 L104.70 519.27 L105.11 517.79 L105.52 519.24 L105.92 521.67 L106.33 523.92 L106.74 525.84 L107.15 527.39 L107.56 528.61 L107.97 529.55 L108.38 530.26 L108.78 530.78 L109.19 531.17 L109.60 531.45 L110.01 531.64 L110.42 531.79 L110.83 531.88 L111.23 531.95 L111.64 532.00 L112.05 532.03 L112.46 532.06 L112.87 532.07 L113.28 532.08 L113.68 532.09 L114.09 532.09 L114.50 532.09 L114.5 532.1 L90.0 532.1 Z" fill="#98d598" opacity="0.78"/><path d="M90.00 531.78 L90.41 531.75 L90.82 531.72 L91.22 531.69 L91.63 531.65 L92.04 531.62 L92.45 531.58 L92.86 531.54 L93.27 531.50 L93.67 531.46 L94.08 531.42 L94.49 531.38 L94.90 531.33 L95.31 531.29 L95.72 531.24 L96.12 531.19 L96.53 531.15 L96.94 531.10 L97.35 531.05 L97.76 531.01 L98.17 530.96 L98.58 530.92 L98.98 530.87 L99.39 530.83 L99.80 530.79 L100.21 530.52 L100.62 530.12 L101.03 529.64 L101.43 529.05 L101.84 528.34 L102.25 527.49 L102.66 526.50 L103.07 525.34 L103.47 524.02 L103.88 522.54 L104.29 520.93 L104.70 519.27 L105.11 517.79 L105.52 519.24 L105.92 521.67 L106.33 523.92 L106.74 525.84 L107.15 527.39 L107.56 528.61 L107.97 529.55 L108.38 530.26 L108.78 530.78 L109.19 531.17 L109.60 531.45 L110.01 531.64 L110.42 531.79 L110.83 531.88 L111.23 531.95 L111.64 532.00 L112.05 532.03 L112.46 532.06 L112.87 532.07 L113.28 532.08 L113.68 532.09 L114.09 532.09 L114.50 532.09" fill="none" stroke="#3a9a45" stroke-width="0.75"/><path d="M90.00 541.95 L90.41 541.93 L90.82 541.92 L91.22 541.90 L91.63 541.88 L92.04 541.86 L92.45 541.84 L92.86 541.82 L93.27 541.79 L93.67 541.77 L94.08 541.74 L94.49 541.72 L94.90 541.69 L95.31 541.66 L95.72 541.63 L96.12 541.60 L96.53 541.57 L96.94 541.54 L97.35 541.51 L97.76 541.48 L98.17 541.45 L98.58 541.34 L98.98 541.09 L99.39 540.79 L99.80 540.40 L100.21 539.94 L100.62 539.38 L101.03 538.72 L101.43 537.95 L101.84 537.07 L102.25 536.09 L102.66 535.03 L103.07 533.89 L103.47 532.72 L103.88 531.55 L104.29 530.44 L104.70 529.46 L105.11 528.67 L105.52 528.17 L105.92 528.35 L106.33 529.42 L106.74 530.96 L107.15 532.71 L107.56 534.48 L107.97 536.12 L108.38 537.56 L108.78 538.76 L109.19 539.71 L109.60 540.44 L110.01 540.98 L110.42 541.36 L110.83 541.63 L111.23 541.81 L111.64 541.92 L112.05 541.99 L112.46 542.04 L112.87 542.07 L113.28 542.08 L113.68 542.09 L114.09 542.09 L114.50 542.10" fill="none" stroke="#165a20" stroke-width="0.8"/></g>
<rect x="90.0" y="512.4" width="24.5" height="29.7" fill="none" stroke="#444" stroke-width="1"/>
<clipPath id="c13"><rect x="118.3" y="512.4" width="24.5" height="29.7"/></clipPath>
<g clip-path="url(#c13)"><path d="M118.30 542.03 L118.71 542.02 L119.12 542.00 L119.52 541.99 L119.93 541.98 L120.34 541.96 L120.75 541.94 L121.16 541.92 L121.57 541.90 L121.97 541.88 L122.38 541.85 L122.79 541.83 L123.20 541.80 L123.61 541.77 L124.02 541.74 L124.42 541.71 L124.83 541.67 L125.24 541.64 L125.65 541.60 L126.06 541.57 L126.47 541.53 L126.88 541.49 L127.28 541.45 L127.69 541.19 L128.10 540.83 L128.51 540.36 L128.92 539.75 L129.32 538.98 L129.73 538.05 L130.14 536.93 L130.55 535.64 L130.96 534.18 L131.37 532.61 L131.78 530.98 L132.18 529.39 L132.59 527.94 L133.00 526.79 L133.41 526.14 L133.82 526.75 L134.22 528.59 L134.63 530.96 L135.04 533.41 L135.45 535.66 L135.86 537.55 L136.27 539.02 L136.68 540.11 L137.08 540.86 L137.49 541.36 L137.90 541.68 L138.31 541.86 L138.72 541.97 L139.12 542.04 L139.53 542.07 L139.94 542.08 L140.35 542.09 L140.76 542.10 L141.17 542.10 L141.58 542.10 L141.98 542.10 L142.39 542.10 L142.80 542.10 L142.8 542.1 L118.3 542.1 Z" fill="#68ac68"/><path d="M118.30 531.92 L118.71 531.90 L119.12 531.88 L119.52 531.85 L119.93 531.82 L120.34 531.79 L120.75 531.75 L121.16 531.72 L121.57 531.68 L121.97 531.64 L122.38 531.59 L122.79 531.55 L123.20 531.50 L123.61 531.45 L124.02 531.40 L124.42 531.34 L124.83 531.29 L125.24 531.23 L125.65 531.18 L126.06 531.12 L126.47 531.06 L126.88 531.01 L127.28 530.95 L127.69 530.90 L128.10 530.85 L128.51 530.72 L128.92 530.28 L129.32 529.71 L129.73 528.99 L130.14 528.08 L130.55 526.95 L130.96 525.57 L131.37 523.92 L131.78 521.98 L132.18 519.81 L132.59 517.52 L133.00 515.60 L133.41 518.61 L133.82 521.89 L134.22 524.66 L134.63 526.83 L135.04 528.45 L135.45 529.62 L135.86 530.44 L136.27 531.01 L136.68 531.39 L137.08 531.64 L137.49 531.81 L137.90 531.92 L138.31 531.99 L138.72 532.03 L139.12 532.06 L139.53 532.07 L139.94 532.08 L140.35 532.09 L140.76 532.09 L141.17 532.10 L141.58 532.10 L141.98 532.10 L142.39 532.10 L142.80 532.10 L142.8 532.1 L118.3 532.1 Z" fill="#98d598" opacity="0.78"/><path d="M118.30 531.92 L118.71 531.90 L119.12 531.88 L119.52 531.85 L119.93 531.82 L120.34 531.79 L120.75 531.75 L121.16 531.72 L121.57 531.68 L121.97 531.64 L122.38 531.59 L122.79 531.55 L123.20 531.50 L123.61 531.45 L124.02 531.40 L124.42 531.34 L124.83 531.29 L125.24 531.23 L125.65 531.18 L126.06 531.12 L126.47 531.06 L126.88 531.01 L127.28 530.95 L127.69 530.90 L128.10 530.85 L128.51 530.72 L128.92 530.28 L129.32 529.71 L129.73 528.99 L130.14 528.08 L130.55 526.95 L130.96 525.57 L131.37 523.92 L131.78 521.98 L132.18 519.81 L132.59 517.52 L133.00 515.60 L133.41 518.61 L133.82 521.89 L134.22 524.66 L134.63 526.83 L135.04 528.45 L135.45 529.62 L135.86 530.44 L136.27 531.01 L136.68 531.39 L137.08 531.64 L137.49 531.81 L137.90 531.92 L138.31 531.99 L138.72 532.03 L139.12 532.06 L139.53 532.07 L139.94 532.08 L140.35 532.09 L140.76 532.09 L141.17 532.10 L141.58 532.10 L141.98 532.10 L142.39 532.10 L142.80 532.10" fill="none" stroke="#3a9a45" stroke-width="0.75"/><path d="M118.30 542.03 L118.71 542.02 L119.12 542.00 L119.52 541.99 L119.93 541.98 L120.34 541.96 L120.75 541.94 L121.16 541.92 L121.57 541.90 L121.97 541.88 L122.38 541.85 L122.79 541.83 L123.20 541.80 L123.61 541.77 L124.02 541.74 L124.42 541.71 L124.83 541.67 L125.24 541.64 L125.65 541.60 L126.06 541.57 L126.47 541.53 L126.88 541.49 L127.28 541.45 L127.69 541.19 L128.10 540.83 L128.51 540.36 L128.92 539.75 L129.32 538.98 L129.73 538.05 L130.14 536.93 L130.55 535.64 L130.96 534.18 L131.37 532.61 L131.78 530.98 L132.18 529.39 L132.59 527.94 L133.00 526.79 L133.41 526.14 L133.82 526.75 L134.22 528.59 L134.63 530.96 L135.04 533.41 L135.45 535.66 L135.86 537.55 L136.27 539.02 L136.68 540.11 L137.08 540.86 L137.49 541.36 L137.90 541.68 L138.31 541.86 L138.72 541.97 L139.12 542.04 L139.53 542.07 L139.94 542.08 L140.35 542.09 L140.76 542.10 L141.17 542.10 L141.58 542.10 L141.98 542.10 L142.39 542.10 L142.80 542.10" fill="none" stroke="#165a20" stroke-width="0.8"/></g>
<rect x="118.3" y="512.4" width="24.5" height="29.7" fill="none" stroke="#444" stroke-width="1"/>
<clipPath id="c14"><rect x="144.4" y="512.4" width="24.5" height="29.7"/></clipPath>
<g clip-path="url(#c14)"><path d="M144.40 541.62 L144.81 541.59 L145.22 541.57 L145.62 541.54 L146.03 541.52 L146.44 541.49 L146.85 541.47 L147.26 541.35 L147.67 541.15 L148.08 540.91 L148.48 540.63 L148.89 540.28 L149.30 539.87 L149.71 539.39 L150.12 538.84 L150.53 538.21 L150.93 537.49 L151.34 536.68 L151.75 535.79 L152.16 534.82 L152.57 533.78 L152.97 532.68 L153.38 531.54 L153.79 530.39 L154.20 529.25 L154.61 528.15 L155.02 527.14 L155.43 526.27 L155.83 525.58 L156.24 525.16 L156.65 525.31 L157.06 526.24 L157.47 527.61 L157.88 529.24 L158.28 530.98 L158.69 532.72 L159.10 534.36 L159.51 535.85 L159.92 537.16 L160.33 538.27 L160.73 539.19 L161.14 539.93 L161.55 540.51 L161.96 540.95 L162.37 541.29 L162.78 541.54 L163.18 541.71 L163.59 541.84 L164.00 541.93 L164.41 541.99 L164.82 542.03 L165.22 542.05 L165.63 542.07 L166.04 542.08 L166.45 542.09 L166.86 542.09 L167.27 542.10 L167.68 542.10 L168.08 542.10 L168.49 542.10 L168.90 542.10 L168.9 542.1 L144.4 542.1 Z" fill="#68ac68"/><path d="M144.40 531.22 L144.81 531.19 L145.22 531.15 L145.62 531.11 L146.03 531.07 L146.44 531.03 L146.85 531.00 L147.26 530.96 L147.67 530.92 L148.08 530.89 L148.48 530.85 L148.89 530.78 L149.30 530.51 L149.71 530.19 L150.12 529.80 L150.53 529.35 L150.93 528.82 L151.34 528.20 L151.75 527.48 L152.16 526.66 L152.57 525.71 L152.97 524.64 L153.38 523.43 L153.79 522.08 L154.20 520.61 L154.61 519.02 L155.02 517.36 L155.43 515.71 L155.83 514.28 L156.24 515.68 L156.65 518.13 L157.06 520.51 L157.47 522.65 L157.88 524.51 L158.28 526.07 L158.69 527.36 L159.10 528.41 L159.51 529.24 L159.92 529.91 L160.33 530.43 L160.73 530.84 L161.14 531.15 L161.55 531.39 L161.96 531.57 L162.37 531.71 L162.78 531.81 L163.18 531.89 L163.59 531.95 L164.00 531.99 L164.41 532.02 L164.82 532.04 L165.22 532.06 L165.63 532.07 L166.04 532.08 L166.45 532.08 L166.86 532.09 L167.27 532.09 L167.68 532.09 L168.08 532.10 L168.49 532.10 L168.90 532.10 L168.9 532.1 L144.4 532.1 Z" fill="#98d598" opacity="0.78"/><path d="M144.40 531.22 L144.81 531.19 L145.22 531.15 L145.62 531.11 L146.03 531.07 L146.44 531.03 L146.85 531.00 L147.26 530.96 L147.67 530.92 L148.08 530.89 L148.48 530.85 L148.89 530.78 L149.30 530.51 L149.71 530.19 L150.12 529.80 L150.53 529.35 L150.93 528.82 L151.34 528.20 L151.75 527.48 L152.16 526.66 L152.57 525.71 L152.97 524.64 L153.38 523.43 L153.79 522.08 L154.20 520.61 L154.61 519.02 L155.02 517.36 L155.43 515.71 L155.83 514.28 L156.24 515.68 L156.65 518.13 L157.06 520.51 L157.47 522.65 L157.88 524.51 L158.28 526.07 L158.69 527.36 L159.10 528.41 L159.51 529.24 L159.92 529.91 L160.33 530.43 L160.73 530.84 L161.14 531.15 L161.55 531.39 L161.96 531.57 L162.37 531.71 L162.78 531.81 L163.18 531.89 L163.59 531.95 L164.00 531.99 L164.41 532.02 L164.82 532.04 L165.22 532.06 L165.63 532.07 L166.04 532.08 L166.45 532.08 L166.86 532.09 L167.27 532.09 L167.68 532.09 L168.08 532.10 L168.49 532.10 L168.90 532.10" fill="none" stroke="#3a9a45" stroke-width="0.75"/><path d="M144.40 541.62 L144.81 541.59 L145.22 541.57 L145.62 541.54 L146.03 541.52 L146.44 541.49 L146.85 541.47 L147.26 541.35 L147.67 541.15 L148.08 540.91 L148.48 540.63 L148.89 540.28 L149.30 539.87 L149.71 539.39 L150.12 538.84 L150.53 538.21 L150.93 537.49 L151.34 536.68 L151.75 535.79 L152.16 534.82 L152.57 533.78 L152.97 532.68 L153.38 531.54 L153.79 530.39 L154.20 529.25 L154.61 528.15 L155.02 527.14 L155.43 526.27 L155.83 525.58 L156.24 525.16 L156.65 525.31 L157.06 526.24 L157.47 527.61 L157.88 529.24 L158.28 530.98 L158.69 532.72 L159.10 534.36 L159.51 535.85 L159.92 537.16 L160.33 538.27 L160.73 539.19 L161.14 539.93 L161.55 540.51 L161.96 540.95 L162.37 541.29 L162.78 541.54 L163.18 541.71 L163.59 541.84 L164.00 541.93 L164.41 541.99 L164.82 542.03 L165.22 542.05 L165.63 542.07 L166.04 542.08 L166.45 542.09 L166.86 542.09 L167.27 542.10 L167.68 542.10 L168.08 542.10 L168.49 542.10 L168.90 542.10" fill="none" stroke="#165a20" stroke-width="0.8"/></g>
<rect x="144.4" y="512.4" width="24.5" height="29.7" fill="none" stroke="#444" stroke-width="1"/>
<clipPath id="c15"><rect x="170.4" y="512.4" width="24.5" height="29.7"/></clipPath>
<g clip-path="url(#c15)"><path d="M170.40 542.08 L170.81 542.07 L171.22 542.06 L171.62 542.05 L172.03 542.05 L172.44 542.03 L172.85 542.02 L173.26 542.01 L173.67 541.99 L174.08 541.97 L174.48 541.95 L174.89 541.92 L175.30 541.90 L175.71 541.87 L176.12 541.83 L176.53 541.80 L176.93 541.76 L177.34 541.72 L177.75 541.68 L178.16 541.63 L178.57 541.59 L178.97 541.54 L179.38 541.49 L179.79 541.45 L180.20 541.11 L180.61 540.60 L181.02 539.90 L181.43 538.96 L181.83 537.76 L182.24 536.28 L182.65 534.56 L183.06 532.66 L183.47 530.73 L183.88 528.95 L184.28 527.60 L184.69 527.17 L185.10 528.88 L185.51 531.64 L185.92 534.54 L186.33 537.06 L186.73 538.98 L187.14 540.30 L187.55 541.13 L187.96 541.61 L188.37 541.87 L188.78 541.99 L189.18 542.06 L189.59 542.08 L190.00 542.09 L190.41 542.10 L190.82 542.10 L191.22 542.10 L191.63 542.10 L192.04 542.10 L192.45 542.10 L192.86 542.10 L193.27 542.10 L193.68 542.10 L194.08 542.10 L194.49 542.10 L194.90 542.10 L194.9 542.1 L170.4 542.1 Z" fill="#68ac68"/><path d="M170.40 532.03 L170.81 532.01 L171.22 532.00 L171.62 531.98 L172.03 531.96 L172.44 531.93 L172.85 531.90 L173.26 531.87 L173.67 531.84 L174.08 531.80 L174.48 531.76 L174.89 531.71 L175.30 531.66 L175.71 531.60 L176.12 531.54 L176.53 531.48 L176.93 531.42 L177.34 531.35 L177.75 531.28 L178.16 531.21 L178.57 531.14 L178.97 531.07 L179.38 531.00 L179.79 530.93 L180.20 530.86 L180.61 530.62 L181.02 529.99 L181.43 529.13 L181.83 527.97 L182.24 526.44 L182.65 524.48 L183.06 522.03 L183.47 519.15 L183.88 516.08 L184.28 516.05 L184.69 520.55 L185.10 524.35 L185.51 527.13 L185.92 529.02 L186.33 530.24 L186.73 531.01 L187.14 531.47 L187.55 531.75 L187.96 531.90 L188.37 531.99 L188.78 532.04 L189.18 532.07 L189.59 532.08 L190.00 532.09 L190.41 532.10 L190.82 532.10 L191.22 532.10 L191.63 532.10 L192.04 532.10 L192.45 532.10 L192.86 532.10 L193.27 532.10 L193.68 532.10 L194.08 532.10 L194.49 532.10 L194.90 532.10 L194.9 532.1 L170.4 532.1 Z" fill="#98d598" opacity="0.78"/><path d="M170.40 532.03 L170.81 532.01 L171.22 532.00 L171.62 531.98 L172.03 531.96 L172.44 531.93 L172.85 531.90 L173.26 531.87 L173.67 531.84 L174.08 531.80 L174.48 531.76 L174.89 531.71 L175.30 531.66 L175.71 531.60 L176.12 531.54 L176.53 531.48 L176.93 531.42 L177.34 531.35 L177.75 531.28 L178.16 531.21 L178.57 531.14 L178.97 531.07 L179.38 531.00 L179.79 530.93 L180.20 530.86 L180.61 530.62 L181.02 529.99 L181.43 529.13 L181.83 527.97 L182.24 526.44 L182.65 524.48 L183.06 522.03 L183.47 519.15 L183.88 516.08 L184.28 516.05 L184.69 520.55 L185.10 524.35 L185.51 527.13 L185.92 529.02 L186.33 530.24 L186.73 531.01 L187.14 531.47 L187.55 531.75 L187.96 531.90 L188.37 531.99 L188.78 532.04 L189.18 532.07 L189.59 532.08 L190.00 532.09 L190.41 532.10 L190.82 532.10 L191.22 532.10 L191.63 532.10 L192.04 532.10 L192.45 532.10 L192.86 532.10 L193.27 532.10 L193.68 532.10 L194.08 532.10 L194.49 532.10 L194.90 532.10" fill="none" stroke="#3a9a45" stroke-width="0.75"/><path d="M170.40 542.08 L170.81 542.07 L171.22 542.06 L171.62 542.05 L172.03 542.05 L172.44 542.03 L172.85 542.02 L173.26 542.01 L173.67 541.99 L174.08 541.97 L174.48 541.95 L174.89 541.92 L175.30 541.90 L175.71 541.87 L176.12 541.83 L176.53 541.80 L176.93 541.76 L177.34 541.72 L177.75 541.68 L178.16 541.63 L178.57 541.59 L178.97 541.54 L179.38 541.49 L179.79 541.45 L180.20 541.11 L180.61 540.60 L181.02 539.90 L181.43 538.96 L181.83 537.76 L182.24 536.28 L182.65 534.56 L183.06 532.66 L183.47 530.73 L183.88 528.95 L184.28 527.60 L184.69 527.17 L185.10 528.88 L185.51 531.64 L185.92 534.54 L186.33 537.06 L186.73 538.98 L187.14 540.30 L187.55 541.13 L187.96 541.61 L188.37 541.87 L188.78 541.99 L189.18 542.06 L189.59 542.08 L190.00 542.09 L190.41 542.10 L190.82 542.10 L191.22 542.10 L191.63 542.10 L192.04 542.10 L192.45 542.10 L192.86 542.10 L193.27 542.10 L193.68 542.10 L194.08 542.10 L194.49 542.10 L194.90 542.10" fill="none" stroke="#165a20" stroke-width="0.8"/></g>
<rect x="170.4" y="512.4" width="24.5" height="29.7" fill="none" stroke="#444" stroke-width="1"/>
<clipPath id="c16"><rect x="196.3" y="512.4" width="24.5" height="29.7"/></clipPath>
<g clip-path="url(#c16)"><path d="M196.30 541.53 L196.71 541.50 L197.12 541.47 L197.53 541.39 L197.93 541.18 L198.34 540.90 L198.75 540.56 L199.16 540.14 L199.57 539.64 L199.98 539.04 L200.38 538.33 L200.79 537.52 L201.20 536.60 L201.61 535.57 L202.02 534.44 L202.43 533.24 L202.83 531.99 L203.24 530.72 L203.65 529.48 L204.06 528.33 L204.47 527.33 L204.88 526.56 L205.28 526.13 L205.69 526.53 L206.10 527.77 L206.51 529.46 L206.92 531.35 L207.33 533.26 L207.73 535.05 L208.14 536.64 L208.55 537.99 L208.96 539.09 L209.37 539.95 L209.78 540.60 L210.18 541.08 L210.59 541.42 L211.00 541.66 L211.41 541.82 L211.82 541.93 L212.23 541.99 L212.63 542.04 L213.04 542.06 L213.45 542.08 L213.86 542.09 L214.27 542.09 L214.68 542.10 L215.08 542.10 L215.49 542.10 L215.90 542.10 L216.31 542.10 L216.72 542.10 L217.12 542.10 L217.53 542.10 L217.94 542.10 L218.35 542.10 L218.76 542.10 L219.17 542.10 L219.58 542.10 L219.98 542.10 L220.39 542.10 L220.80 542.10 L220.8 542.1 L196.3 542.1 Z" fill="#68ac68"/><path d="M196.30 531.08 L196.71 531.04 L197.12 531.00 L197.53 530.95 L197.93 530.91 L198.34 530.87 L198.75 530.83 L199.16 530.76 L199.57 530.44 L199.98 530.05 L200.38 529.57 L200.79 529.00 L201.20 528.32 L201.61 527.51 L202.02 526.57 L202.43 525.48 L202.83 524.22 L203.24 522.81 L203.65 521.26 L204.06 519.60 L204.47 517.94 L204.88 516.60 L205.28 518.72 L205.69 521.18 L206.10 523.44 L206.51 525.36 L206.92 526.95 L207.33 528.21 L207.73 529.20 L208.14 529.96 L208.55 530.54 L208.96 530.97 L209.37 531.29 L209.78 531.52 L210.18 531.69 L210.59 531.81 L211.00 531.90 L211.41 531.96 L211.82 532.00 L212.23 532.03 L212.63 532.06 L213.04 532.07 L213.45 532.08 L213.86 532.09 L214.27 532.09 L214.68 532.09 L215.08 532.10 L215.49 532.10 L215.90 532.10 L216.31 532.10 L216.72 532.10 L217.12 532.10 L217.53 532.10 L217.94 532.10 L218.35 532.10 L218.76 532.10 L219.17 532.10 L219.58 532.10 L219.98 532.10 L220.39 532.10 L220.80 532.10 L220.8 532.1 L196.3 532.1 Z" fill="#98d598" opacity="0.78"/><path d="M196.30 531.08 L196.71 531.04 L197.12 531.00 L197.53 530.95 L197.93 530.91 L198.34 530.87 L198.75 530.83 L199.16 530.76 L199.57 530.44 L199.98 530.05 L200.38 529.57 L200.79 529.00 L201.20 528.32 L201.61 527.51 L202.02 526.57 L202.43 525.48 L202.83 524.22 L203.24 522.81 L203.65 521.26 L204.06 519.60 L204.47 517.94 L204.88 516.60 L205.28 518.72 L205.69 521.18 L206.10 523.44 L206.51 525.36 L206.92 526.95 L207.33 528.21 L207.73 529.20 L208.14 529.96 L208.55 530.54 L208.96 530.97 L209.37 531.29 L209.78 531.52 L210.18 531.69 L210.59 531.81 L211.00 531.90 L211.41 531.96 L211.82 532.00 L212.23 532.03 L212.63 532.06 L213.04 532.07 L213.45 532.08 L213.86 532.09 L214.27 532.09 L214.68 532.09 L215.08 532.10 L215.49 532.10 L215.90 532.10 L216.31 532.10 L216.72 532.10 L217.12 532.10 L217.53 532.10 L217.94 532.10 L218.35 532.10 L218.76 532.10 L219.17 532.10 L219.58 532.10 L219.98 532.10 L220.39 532.10 L220.80 532.10" fill="none" stroke="#3a9a45" stroke-width="0.75"/><path d="M196.30 541.53 L196.71 541.50 L197.12 541.47 L197.53 541.39 L197.93 541.18 L198.34 540.90 L198.75 540.56 L199.16 540.14 L199.57 539.64 L199.98 539.04 L200.38 538.33 L200.79 537.52 L201.20 536.60 L201.61 535.57 L202.02 534.44 L202.43 533.24 L202.83 531.99 L203.24 530.72 L203.65 529.48 L204.06 528.33 L204.47 527.33 L204.88 526.56 L205.28 526.13 L205.69 526.53 L206.10 527.77 L206.51 529.46 L206.92 531.35 L207.33 533.26 L207.73 535.05 L208.14 536.64 L208.55 537.99 L208.96 539.09 L209.37 539.95 L209.78 540.60 L210.18 541.08 L210.59 541.42 L211.00 541.66 L211.41 541.82 L211.82 541.93 L212.23 541.99 L212.63 542.04 L213.04 542.06 L213.45 542.08 L213.86 542.09 L214.27 542.09 L214.68 542.10 L215.08 542.10 L215.49 542.10 L215.90 542.10 L216.31 542.10 L216.72 542.10 L217.12 542.10 L217.53 542.10 L217.94 542.10 L218.35 542.10 L218.76 542.10 L219.17 542.10 L219.58 542.10 L219.98 542.10 L220.39 542.10 L220.80 542.10" fill="none" stroke="#165a20" stroke-width="0.8"/></g>
<rect x="196.3" y="512.4" width="24.5" height="29.7" fill="none" stroke="#444" stroke-width="1"/>
<clipPath id="c17"><rect x="222.2" y="512.4" width="24.5" height="29.7"/></clipPath>
<g clip-path="url(#c17)"><path d="M222.20 542.10 L225.20 542.10 L225.60 533.10 L226.00 542.10 L228.20 542.02 L229.12 541.94 L230.05 541.80 L230.97 541.57 L231.90 541.21 L232.82 540.72 L233.75 540.09 L234.67 539.39 L235.60 538.69 L236.52 538.09 L237.45 537.70 L238.38 537.61 L239.30 537.82 L240.22 538.29 L241.15 538.95 L242.07 539.66 L243.00 540.34 L243.92 540.92 L244.85 541.36 L245.77 541.67 L246.70 541.86 L246.70 542.10 L246.7 542.1 L222.2 542.1 Z" fill="#68ac68"/><path d="M222.20 532.10 L225.20 532.10 L225.60 524.10 L226.00 532.10 L228.20 532.10 L228.20 531.63 L229.12 531.40 L230.05 531.11 L230.97 530.76 L231.90 530.35 L232.82 529.92 L233.75 529.49 L234.67 529.11 L235.60 528.81 L236.52 528.64 L237.45 528.61 L238.38 528.72 L239.30 528.96 L240.22 529.31 L241.15 529.72 L242.07 530.15 L243.00 530.57 L243.92 530.95 L244.85 531.27 L245.77 531.53 L246.70 531.72 L246.70 532.10 L246.7 532.1 L222.2 532.1 Z" fill="#98d598" opacity="0.78"/><path d="M222.20 532.10 L225.20 532.10 L225.60 524.10 L226.00 532.10 L228.20 532.10 L228.20 531.63 L229.12 531.40 L230.05 531.11 L230.97 530.76 L231.90 530.35 L232.82 529.92 L233.75 529.49 L234.67 529.11 L235.60 528.81 L236.52 528.64 L237.45 528.61 L238.38 528.72 L239.30 528.96 L240.22 529.31 L241.15 529.72 L242.07 530.15 L243.00 530.57 L243.92 530.95 L244.85 531.27 L245.77 531.53 L246.70 531.72 L246.70 532.10" fill="none" stroke="#3a9a45" stroke-width="0.75"/><path d="M222.20 542.10 L225.20 542.10 L225.60 533.10 L226.00 542.10 L228.20 542.02 L229.12 541.94 L230.05 541.80 L230.97 541.57 L231.90 541.21 L232.82 540.72 L233.75 540.09 L234.67 539.39 L235.60 538.69 L236.52 538.09 L237.45 537.70 L238.38 537.61 L239.30 537.82 L240.22 538.29 L241.15 538.95 L242.07 539.66 L243.00 540.34 L243.92 540.92 L244.85 541.36 L245.77 541.67 L246.70 541.86 L246.70 542.10" fill="none" stroke="#165a20" stroke-width="0.8"/></g>
<rect x="222.2" y="512.4" width="24.5" height="29.7" fill="none" stroke="#444" stroke-width="1"/>
<clipPath id="c18"><rect x="248.1" y="512.4" width="24.5" height="29.7"/></clipPath>
<g clip-path="url(#c18)"><path d="M248.10 541.87 L248.51 541.85 L248.92 541.83 L249.32 541.81 L249.73 541.79 L250.14 541.77 L250.55 541.74 L250.96 541.72 L251.37 541.69 L251.78 541.67 L252.18 541.64 L252.59 541.61 L253.00 541.58 L253.41 541.55 L253.82 541.52 L254.22 541.50 L254.63 541.47 L255.04 541.35 L255.45 541.12 L255.86 540.84 L256.27 540.48 L256.68 540.05 L257.08 539.52 L257.49 538.90 L257.90 538.18 L258.31 537.34 L258.72 536.40 L259.12 535.35 L259.53 534.21 L259.94 532.99 L260.35 531.74 L260.76 530.47 L261.17 529.24 L261.57 528.11 L261.98 527.15 L262.39 526.44 L262.80 526.10 L263.21 526.73 L263.62 528.08 L264.03 529.83 L264.43 531.74 L264.84 533.63 L265.25 535.39 L265.66 536.93 L266.07 538.23 L266.48 539.28 L266.88 540.09 L267.29 540.71 L267.70 541.16 L268.11 541.48 L268.52 541.70 L268.93 541.85 L269.33 541.94 L269.74 542.00 L270.15 542.04 L270.56 542.07 L270.97 542.08 L271.38 542.09 L271.78 542.09 L272.19 542.10 L272.60 542.10 L272.6 542.1 L248.1 542.1 Z" fill="#68ac68"/><path d="M248.10 531.64 L248.51 531.61 L248.92 531.57 L249.32 531.53 L249.73 531.50 L250.14 531.46 L250.55 531.42 L250.96 531.38 L251.37 531.34 L251.78 531.29 L252.18 531.25 L252.59 531.21 L253.00 531.16 L253.41 531.12 L253.82 531.07 L254.22 531.03 L254.63 530.99 L255.04 530.95 L255.45 530.90 L255.86 530.86 L256.27 530.82 L256.68 530.57 L257.08 530.20 L257.49 529.75 L257.90 529.21 L258.31 528.56 L258.72 527.79 L259.12 526.88 L259.53 525.81 L259.94 524.57 L260.35 523.16 L260.76 521.58 L261.17 519.85 L261.57 518.02 L261.98 516.23 L262.39 515.43 L262.80 517.97 L263.21 520.64 L263.62 523.05 L264.03 525.09 L264.43 526.75 L264.84 528.08 L265.25 529.11 L265.66 529.90 L266.07 530.49 L266.48 530.94 L266.88 531.27 L267.29 531.51 L267.70 531.68 L268.11 531.81 L268.52 531.90 L268.93 531.96 L269.33 532.00 L269.74 532.03 L270.15 532.05 L270.56 532.07 L270.97 532.08 L271.38 532.09 L271.78 532.09 L272.19 532.09 L272.60 532.10 L272.6 532.1 L248.1 532.1 Z" fill="#98d598" opacity="0.78"/><path d="M248.10 531.64 L248.51 531.61 L248.92 531.57 L249.32 531.53 L249.73 531.50 L250.14 531.46 L250.55 531.42 L250.96 531.38 L251.37 531.34 L251.78 531.29 L252.18 531.25 L252.59 531.21 L253.00 531.16 L253.41 531.12 L253.82 531.07 L254.22 531.03 L254.63 530.99 L255.04 530.95 L255.45 530.90 L255.86 530.86 L256.27 530.82 L256.68 530.57 L257.08 530.20 L257.49 529.75 L257.90 529.21 L258.31 528.56 L258.72 527.79 L259.12 526.88 L259.53 525.81 L259.94 524.57 L260.35 523.16 L260.76 521.58 L261.17 519.85 L261.57 518.02 L261.98 516.23 L262.39 515.43 L262.80 517.97 L263.21 520.64 L263.62 523.05 L264.03 525.09 L264.43 526.75 L264.84 528.08 L265.25 529.11 L265.66 529.90 L266.07 530.49 L266.48 530.94 L266.88 531.27 L267.29 531.51 L267.70 531.68 L268.11 531.81 L268.52 531.90 L268.93 531.96 L269.33 532.00 L269.74 532.03 L270.15 532.05 L270.56 532.07 L270.97 532.08 L271.38 532.09 L271.78 532.09 L272.19 532.09 L272.60 532.10" fill="none" stroke="#3a9a45" stroke-width="0.75"/><path d="M248.10 541.87 L248.51 541.85 L248.92 541.83 L249.32 541.81 L249.73 541.79 L250.14 541.77 L250.55 541.74 L250.96 541.72 L251.37 541.69 L251.78 541.67 L252.18 541.64 L252.59 541.61 L253.00 541.58 L253.41 541.55 L253.82 541.52 L254.22 541.50 L254.63 541.47 L255.04 541.35 L255.45 541.12 L255.86 540.84 L256.27 540.48 L256.68 540.05 L257.08 539.52 L257.49 538.90 L257.90 538.18 L258.31 537.34 L258.72 536.40 L259.12 535.35 L259.53 534.21 L259.94 532.99 L260.35 531.74 L260.76 530.47 L261.17 529.24 L261.57 528.11 L261.98 527.15 L262.39 526.44 L262.80 526.10 L263.21 526.73 L263.62 528.08 L264.03 529.83 L264.43 531.74 L264.84 533.63 L265.25 535.39 L265.66 536.93 L266.07 538.23 L266.48 539.28 L266.88 540.09 L267.29 540.71 L267.70 541.16 L268.11 541.48 L268.52 541.70 L268.93 541.85 L269.33 541.94 L269.74 542.00 L270.15 542.04 L270.56 542.07 L270.97 542.08 L271.38 542.09 L271.78 542.09 L272.19 542.10 L272.60 542.10" fill="none" stroke="#165a20" stroke-width="0.8"/></g>
<rect x="248.1" y="512.4" width="24.5" height="29.7" fill="none" stroke="#444" stroke-width="1"/>
<text x="146.00" y="558.80" font-size="10.75" text-anchor="middle" fill="#231f20" stroke="#231f20" stroke-width="0.12" transform="translate(146.00 558.80) scale(0.8929 1) translate(-146.00 -558.80)">CD8 naive</text>
<text x="34.40" y="583.10" font-size="8.85" text-anchor="end" fill="#231f20" stroke="#231f20" stroke-width="0.12" transform="translate(34.40 583.10) scale(0.8929 1) translate(-34.40 -583.10)">Pre</text>
<text x="34.40" y="593.10" font-size="8.85" text-anchor="end" fill="#231f20" stroke="#231f20" stroke-width="0.12" transform="translate(34.40 593.10) scale(0.8929 1) translate(-34.40 -593.10)">Post</text>
<clipPath id="c20"><rect x="37.3" y="564.4" width="24.5" height="29.7"/></clipPath>
<g clip-path="url(#c20)"><path d="M37.30 593.90 L37.71 593.88 L38.12 593.86 L38.52 593.84 L38.93 593.82 L39.34 593.79 L39.75 593.77 L40.16 593.74 L40.57 593.71 L40.97 593.68 L41.38 593.65 L41.79 593.62 L42.20 593.59 L42.61 593.56 L43.02 593.53 L43.42 593.49 L43.83 593.46 L44.24 593.24 L44.65 592.94 L45.06 592.55 L45.47 592.07 L45.88 591.47 L46.28 590.74 L46.69 589.87 L47.10 588.86 L47.51 587.70 L47.92 586.40 L48.32 584.99 L48.73 583.50 L49.14 581.98 L49.55 580.51 L49.96 579.16 L50.37 578.04 L50.77 577.29 L51.18 577.26 L51.59 578.52 L52.00 580.47 L52.41 582.73 L52.82 585.00 L53.22 587.10 L53.63 588.90 L54.04 590.37 L54.45 591.52 L54.86 592.37 L55.27 592.97 L55.67 593.39 L56.08 593.66 L56.49 593.84 L56.90 593.95 L57.31 594.01 L57.72 594.05 L58.12 594.07 L58.53 594.09 L58.94 594.09 L59.35 594.10 L59.76 594.10 L60.17 594.10 L60.57 594.10 L60.98 594.10 L61.39 594.10 L61.80 594.10 L61.8 594.1 L37.3 594.1 Z" fill="#7f72c8"/><path d="M37.30 583.69 L37.71 583.66 L38.12 583.62 L38.52 583.58 L38.93 583.54 L39.34 583.50 L39.75 583.45 L40.16 583.41 L40.57 583.36 L40.97 583.32 L41.38 583.27 L41.79 583.22 L42.20 583.17 L42.61 583.12 L43.02 583.07 L43.42 583.02 L43.83 582.97 L44.24 582.93 L44.65 582.88 L45.06 582.83 L45.47 582.62 L45.88 582.21 L46.28 581.70 L46.69 581.07 L47.10 580.31 L47.51 579.37 L47.92 578.26 L48.32 576.93 L48.73 575.39 L49.14 573.63 L49.55 571.67 L49.96 569.61 L50.37 567.66 L50.77 568.57 L51.18 571.60 L51.59 574.42 L52.00 576.81 L52.41 578.72 L52.82 580.19 L53.22 581.30 L53.63 582.13 L54.04 582.72 L54.45 583.15 L54.86 583.45 L55.27 583.66 L55.67 583.80 L56.08 583.90 L56.49 583.97 L56.90 584.01 L57.31 584.04 L57.72 584.06 L58.12 584.08 L58.53 584.09 L58.94 584.09 L59.35 584.09 L59.76 584.10 L60.17 584.10 L60.57 584.10 L60.98 584.10 L61.39 584.10 L61.80 584.10 L61.8 584.1 L37.3 584.1 Z" fill="#a49be0" opacity="0.78"/><path d="M37.30 583.69 L37.71 583.66 L38.12 583.62 L38.52 583.58 L38.93 583.54 L39.34 583.50 L39.75 583.45 L40.16 583.41 L40.57 583.36 L40.97 583.32 L41.38 583.27 L41.79 583.22 L42.20 583.17 L42.61 583.12 L43.02 583.07 L43.42 583.02 L43.83 582.97 L44.24 582.93 L44.65 582.88 L45.06 582.83 L45.47 582.62 L45.88 582.21 L46.28 581.70 L46.69 581.07 L47.10 580.31 L47.51 579.37 L47.92 578.26 L48.32 576.93 L48.73 575.39 L49.14 573.63 L49.55 571.67 L49.96 569.61 L50.37 567.66 L50.77 568.57 L51.18 571.60 L51.59 574.42 L52.00 576.81 L52.41 578.72 L52.82 580.19 L53.22 581.30 L53.63 582.13 L54.04 582.72 L54.45 583.15 L54.86 583.45 L55.27 583.66 L55.67 583.80 L56.08 583.90 L56.49 583.97 L56.90 584.01 L57.31 584.04 L57.72 584.06 L58.12 584.08 L58.53 584.09 L58.94 584.09 L59.35 584.09 L59.76 584.10 L60.17 584.10 L60.57 584.10 L60.98 584.10 L61.39 584.10 L61.80 584.10" fill="none" stroke="#5048ac" stroke-width="0.75"/><path d="M37.30 593.90 L37.71 593.88 L38.12 593.86 L38.52 593.84 L38.93 593.82 L39.34 593.79 L39.75 593.77 L40.16 593.74 L40.57 593.71 L40.97 593.68 L41.38 593.65 L41.79 593.62 L42.20 593.59 L42.61 593.56 L43.02 593.53 L43.42 593.49 L43.83 593.46 L44.24 593.24 L44.65 592.94 L45.06 592.55 L45.47 592.07 L45.88 591.47 L46.28 590.74 L46.69 589.87 L47.10 588.86 L47.51 587.70 L47.92 586.40 L48.32 584.99 L48.73 583.50 L49.14 581.98 L49.55 580.51 L49.96 579.16 L50.37 578.04 L50.77 577.29 L51.18 577.26 L51.59 578.52 L52.00 580.47 L52.41 582.73 L52.82 585.00 L53.22 587.10 L53.63 588.90 L54.04 590.37 L54.45 591.52 L54.86 592.37 L55.27 592.97 L55.67 593.39 L56.08 593.66 L56.49 593.84 L56.90 593.95 L57.31 594.01 L57.72 594.05 L58.12 594.07 L58.53 594.09 L58.94 594.09 L59.35 594.10 L59.76 594.10 L60.17 594.10 L60.57 594.10 L60.98 594.10 L61.39 594.10 L61.80 594.10" fill="none" stroke="#1c1858" stroke-width="0.8"/></g>
<rect x="37.3" y="564.4" width="24.5" height="29.7" fill="none" stroke="#444" stroke-width="1"/>
<clipPath id="c21"><rect x="63.9" y="564.4" width="24.5" height="29.7"/></clipPath>
<g clip-path="url(#c21)"><path d="M63.90 593.95 L64.31 593.93 L64.72 593.91 L65.12 593.89 L65.53 593.87 L65.94 593.84 L66.35 593.82 L66.76 593.79 L67.17 593.76 L67.58 593.73 L67.98 593.69 L68.39 593.66 L68.80 593.62 L69.21 593.59 L69.62 593.55 L70.03 593.51 L70.43 593.48 L70.84 593.44 L71.25 593.19 L71.66 592.84 L72.07 592.38 L72.47 591.79 L72.88 591.06 L73.29 590.18 L73.70 589.14 L74.11 587.95 L74.52 586.63 L74.92 585.23 L75.33 583.81 L75.74 582.45 L76.15 581.27 L76.56 580.41 L76.97 580.15 L77.38 581.23 L77.78 583.08 L78.19 585.21 L78.60 587.31 L79.01 589.17 L79.42 590.68 L79.83 591.83 L80.23 592.65 L80.64 593.21 L81.05 593.58 L81.46 593.81 L81.87 593.94 L82.28 594.02 L82.68 594.06 L83.09 594.08 L83.50 594.09 L83.91 594.10 L84.32 594.10 L84.73 594.10 L85.13 594.10 L85.54 594.10 L85.95 594.10 L86.36 594.10 L86.77 594.10 L87.18 594.10 L87.58 594.10 L87.99 594.10 L88.40 594.10 L88.4 594.1 L63.9 594.1 Z" fill="#7f72c8"/><path d="M63.90 583.77 L64.31 583.74 L64.72 583.70 L65.12 583.66 L65.53 583.62 L65.94 583.58 L66.35 583.53 L66.76 583.48 L67.17 583.43 L67.58 583.38 L67.98 583.32 L68.39 583.27 L68.80 583.21 L69.21 583.16 L69.62 583.10 L70.03 583.04 L70.43 582.99 L70.84 582.93 L71.25 582.88 L71.66 582.83 L72.07 582.70 L72.47 582.25 L72.88 581.68 L73.29 580.96 L73.70 580.06 L74.11 578.94 L74.52 577.59 L74.92 575.99 L75.33 574.14 L75.74 572.10 L76.15 570.05 L76.56 570.03 L76.97 573.07 L77.38 575.89 L77.78 578.19 L78.19 579.95 L78.60 581.25 L79.01 582.17 L79.42 582.82 L79.83 583.26 L80.23 583.56 L80.64 583.75 L81.05 583.88 L81.46 583.96 L81.87 584.01 L82.28 584.05 L82.68 584.07 L83.09 584.08 L83.50 584.09 L83.91 584.09 L84.32 584.10 L84.73 584.10 L85.13 584.10 L85.54 584.10 L85.95 584.10 L86.36 584.10 L86.77 584.10 L87.18 584.10 L87.58 584.10 L87.99 584.10 L88.40 584.10 L88.4 584.1 L63.9 584.1 Z" fill="#a49be0" opacity="0.78"/><path d="M63.90 583.77 L64.31 583.74 L64.72 583.70 L65.12 583.66 L65.53 583.62 L65.94 583.58 L66.35 583.53 L66.76 583.48 L67.17 583.43 L67.58 583.38 L67.98 583.32 L68.39 583.27 L68.80 583.21 L69.21 583.16 L69.62 583.10 L70.03 583.04 L70.43 582.99 L70.84 582.93 L71.25 582.88 L71.66 582.83 L72.07 582.70 L72.47 582.25 L72.88 581.68 L73.29 580.96 L73.70 580.06 L74.11 578.94 L74.52 577.59 L74.92 575.99 L75.33 574.14 L75.74 572.10 L76.15 570.05 L76.56 570.03 L76.97 573.07 L77.38 575.89 L77.78 578.19 L78.19 579.95 L78.60 581.25 L79.01 582.17 L79.42 582.82 L79.83 583.26 L80.23 583.56 L80.64 583.75 L81.05 583.88 L81.46 583.96 L81.87 584.01 L82.28 584.05 L82.68 584.07 L83.09 584.08 L83.50 584.09 L83.91 584.09 L84.32 584.10 L84.73 584.10 L85.13 584.10 L85.54 584.10 L85.95 584.10 L86.36 584.10 L86.77 584.10 L87.18 584.10 L87.58 584.10 L87.99 584.10 L88.40 584.10" fill="none" stroke="#5048ac" stroke-width="0.75"/><path d="M63.90 593.95 L64.31 593.93 L64.72 593.91 L65.12 593.89 L65.53 593.87 L65.94 593.84 L66.35 593.82 L66.76 593.79 L67.17 593.76 L67.58 593.73 L67.98 593.69 L68.39 593.66 L68.80 593.62 L69.21 593.59 L69.62 593.55 L70.03 593.51 L70.43 593.48 L70.84 593.44 L71.25 593.19 L71.66 592.84 L72.07 592.38 L72.47 591.79 L72.88 591.06 L73.29 590.18 L73.70 589.14 L74.11 587.95 L74.52 586.63 L74.92 585.23 L75.33 583.81 L75.74 582.45 L76.15 581.27 L76.56 580.41 L76.97 580.15 L77.38 581.23 L77.78 583.08 L78.19 585.21 L78.60 587.31 L79.01 589.17 L79.42 590.68 L79.83 591.83 L80.23 592.65 L80.64 593.21 L81.05 593.58 L81.46 593.81 L81.87 593.94 L82.28 594.02 L82.68 594.06 L83.09 594.08 L83.50 594.09 L83.91 594.10 L84.32 594.10 L84.73 594.10 L85.13 594.10 L85.54 594.10 L85.95 594.10 L86.36 594.10 L86.77 594.10 L87.18 594.10 L87.58 594.10 L87.99 594.10 L88.40 594.10" fill="none" stroke="#1c1858" stroke-width="0.8"/></g>
<rect x="63.9" y="564.4" width="24.5" height="29.7" fill="none" stroke="#444" stroke-width="1"/>
<clipPath id="c22"><rect x="90.0" y="564.4" width="24.5" height="29.7"/></clipPath>
<g clip-path="url(#c22)"><path d="M90.00 593.91 L90.41 593.90 L90.82 593.88 L91.22 593.86 L91.63 593.84 L92.04 593.82 L92.45 593.80 L92.86 593.78 L93.27 593.75 L93.67 593.73 L94.08 593.70 L94.49 593.68 L94.90 593.65 L95.31 593.62 L95.72 593.59 L96.12 593.57 L96.53 593.54 L96.94 593.51 L97.35 593.48 L97.76 593.45 L98.17 593.33 L98.58 593.10 L98.98 592.82 L99.39 592.46 L99.80 592.04 L100.21 591.53 L100.62 590.93 L101.03 590.24 L101.43 589.45 L101.84 588.57 L102.25 587.60 L102.66 586.56 L103.07 585.47 L103.47 584.36 L103.88 583.27 L104.29 582.24 L104.70 581.34 L105.11 580.61 L105.52 580.17 L105.92 580.33 L106.33 581.31 L106.74 582.73 L107.15 584.36 L107.56 586.04 L107.97 587.63 L108.38 589.06 L108.78 590.29 L109.19 591.29 L109.60 592.08 L110.01 592.69 L110.42 593.13 L110.83 593.46 L111.23 593.68 L111.64 593.83 L112.05 593.93 L112.46 594.00 L112.87 594.04 L113.28 594.06 L113.68 594.08 L114.09 594.09 L114.50 594.09 L114.5 594.1 L90.0 594.1 Z" fill="#7f72c8"/><path d="M90.00 583.71 L90.41 583.68 L90.82 583.65 L91.22 583.62 L91.63 583.59 L92.04 583.55 L92.45 583.51 L92.86 583.47 L93.27 583.43 L93.67 583.39 L94.08 583.35 L94.49 583.31 L94.90 583.27 L95.31 583.22 L95.72 583.18 L96.12 583.14 L96.53 583.09 L96.94 583.05 L97.35 583.01 L97.76 582.96 L98.17 582.92 L98.58 582.88 L98.98 582.84 L99.39 582.80 L99.80 582.76 L100.21 582.45 L100.62 582.07 L101.03 581.60 L101.43 581.05 L101.84 580.40 L102.25 579.63 L102.66 578.74 L103.07 577.71 L103.47 576.56 L103.88 575.28 L104.29 573.90 L104.70 572.50 L105.11 571.26 L105.52 572.47 L105.92 574.54 L106.33 576.47 L106.74 578.15 L107.15 579.53 L107.56 580.65 L107.97 581.52 L108.38 582.19 L108.78 582.71 L109.19 583.09 L109.60 583.37 L110.01 583.58 L110.42 583.73 L110.83 583.84 L111.23 583.92 L111.64 583.97 L112.05 584.01 L112.46 584.04 L112.87 584.06 L113.28 584.07 L113.68 584.08 L114.09 584.09 L114.50 584.09 L114.5 584.1 L90.0 584.1 Z" fill="#a49be0" opacity="0.78"/><path d="M90.00 583.71 L90.41 583.68 L90.82 583.65 L91.22 583.62 L91.63 583.59 L92.04 583.55 L92.45 583.51 L92.86 583.47 L93.27 583.43 L93.67 583.39 L94.08 583.35 L94.49 583.31 L94.90 583.27 L95.31 583.22 L95.72 583.18 L96.12 583.14 L96.53 583.09 L96.94 583.05 L97.35 583.01 L97.76 582.96 L98.17 582.92 L98.58 582.88 L98.98 582.84 L99.39 582.80 L99.80 582.76 L100.21 582.45 L100.62 582.07 L101.03 581.60 L101.43 581.05 L101.84 580.40 L102.25 579.63 L102.66 578.74 L103.07 577.71 L103.47 576.56 L103.88 575.28 L104.29 573.90 L104.70 572.50 L105.11 571.26 L105.52 572.47 L105.92 574.54 L106.33 576.47 L106.74 578.15 L107.15 579.53 L107.56 580.65 L107.97 581.52 L108.38 582.19 L108.78 582.71 L109.19 583.09 L109.60 583.37 L110.01 583.58 L110.42 583.73 L110.83 583.84 L111.23 583.92 L111.64 583.97 L112.05 584.01 L112.46 584.04 L112.87 584.06 L113.28 584.07 L113.68 584.08 L114.09 584.09 L114.50 584.09" fill="none" stroke="#5048ac" stroke-width="0.75"/><path d="M90.00 593.91 L90.41 593.90 L90.82 593.88 L91.22 593.86 L91.63 593.84 L92.04 593.82 L92.45 593.80 L92.86 593.78 L93.27 593.75 L93.67 593.73 L94.08 593.70 L94.49 593.68 L94.90 593.65 L95.31 593.62 L95.72 593.59 L96.12 593.57 L96.53 593.54 L96.94 593.51 L97.35 593.48 L97.76 593.45 L98.17 593.33 L98.58 593.10 L98.98 592.82 L99.39 592.46 L99.80 592.04 L100.21 591.53 L100.62 590.93 L101.03 590.24 L101.43 589.45 L101.84 588.57 L102.25 587.60 L102.66 586.56 L103.07 585.47 L103.47 584.36 L103.88 583.27 L104.29 582.24 L104.70 581.34 L105.11 580.61 L105.52 580.17 L105.92 580.33 L106.33 581.31 L106.74 582.73 L107.15 584.36 L107.56 586.04 L107.97 587.63 L108.38 589.06 L108.78 590.29 L109.19 591.29 L109.60 592.08 L110.01 592.69 L110.42 593.13 L110.83 593.46 L111.23 593.68 L111.64 593.83 L112.05 593.93 L112.46 594.00 L112.87 594.04 L113.28 594.06 L113.68 594.08 L114.09 594.09 L114.50 594.09" fill="none" stroke="#1c1858" stroke-width="0.8"/></g>
<rect x="90.0" y="564.4" width="24.5" height="29.7" fill="none" stroke="#444" stroke-width="1"/>
<clipPath id="c23"><rect x="118.3" y="564.4" width="24.5" height="29.7"/></clipPath>
<g clip-path="url(#c23)"><path d="M118.30 594.04 L118.71 594.03 L119.12 594.02 L119.52 594.01 L119.93 593.99 L120.34 593.98 L120.75 593.96 L121.16 593.94 L121.57 593.92 L121.97 593.90 L122.38 593.87 L122.79 593.85 L123.20 593.82 L123.61 593.79 L124.02 593.75 L124.42 593.72 L124.83 593.68 L125.24 593.65 L125.65 593.61 L126.06 593.57 L126.47 593.53 L126.88 593.49 L127.28 593.41 L127.69 593.10 L128.10 592.67 L128.51 592.10 L128.92 591.36 L129.32 590.42 L129.73 589.27 L130.14 587.91 L130.55 586.34 L130.96 584.62 L131.37 582.82 L131.78 581.04 L132.18 579.44 L132.59 578.20 L133.00 577.60 L133.41 578.71 L133.82 580.99 L134.22 583.70 L134.63 586.35 L135.04 588.64 L135.45 590.46 L135.86 591.79 L136.27 592.70 L136.68 593.29 L137.08 593.65 L137.49 593.86 L137.90 593.98 L138.31 594.04 L138.72 594.07 L139.12 594.09 L139.53 594.09 L139.94 594.10 L140.35 594.10 L140.76 594.10 L141.17 594.10 L141.58 594.10 L141.98 594.10 L142.39 594.10 L142.80 594.10 L142.8 594.1 L118.3 594.1 Z" fill="#7f72c8"/><path d="M118.30 583.95 L118.71 583.93 L119.12 583.91 L119.52 583.88 L119.93 583.85 L120.34 583.82 L120.75 583.79 L121.16 583.75 L121.57 583.71 L121.97 583.67 L122.38 583.62 L122.79 583.58 L123.20 583.53 L123.61 583.47 L124.02 583.42 L124.42 583.36 L124.83 583.30 L125.24 583.24 L125.65 583.18 L126.06 583.12 L126.47 583.06 L126.88 583.00 L127.28 582.94 L127.69 582.88 L128.10 582.83 L128.51 582.68 L128.92 582.19 L129.32 581.55 L129.73 580.73 L130.14 579.69 L130.55 578.39 L130.96 576.81 L131.37 574.93 L131.78 572.80 L132.18 570.57 L132.59 569.54 L133.00 572.74 L133.41 575.81 L133.82 578.28 L134.22 580.13 L134.63 581.46 L135.04 582.38 L135.45 583.00 L135.86 583.40 L136.27 583.67 L136.68 583.83 L137.08 583.94 L137.49 584.00 L137.90 584.04 L138.31 584.07 L138.72 584.08 L139.12 584.09 L139.53 584.09 L139.94 584.10 L140.35 584.10 L140.76 584.10 L141.17 584.10 L141.58 584.10 L141.98 584.10 L142.39 584.10 L142.80 584.10 L142.8 584.1 L118.3 584.1 Z" fill="#a49be0" opacity="0.78"/><path d="M118.30 583.95 L118.71 583.93 L119.12 583.91 L119.52 583.88 L119.93 583.85 L120.34 583.82 L120.75 583.79 L121.16 583.75 L121.57 583.71 L121.97 583.67 L122.38 583.62 L122.79 583.58 L123.20 583.53 L123.61 583.47 L124.02 583.42 L124.42 583.36 L124.83 583.30 L125.24 583.24 L125.65 583.18 L126.06 583.12 L126.47 583.06 L126.88 583.00 L127.28 582.94 L127.69 582.88 L128.10 582.83 L128.51 582.68 L128.92 582.19 L129.32 581.55 L129.73 580.73 L130.14 579.69 L130.55 578.39 L130.96 576.81 L131.37 574.93 L131.78 572.80 L132.18 570.57 L132.59 569.54 L133.00 572.74 L133.41 575.81 L133.82 578.28 L134.22 580.13 L134.63 581.46 L135.04 582.38 L135.45 583.00 L135.86 583.40 L136.27 583.67 L136.68 583.83 L137.08 583.94 L137.49 584.00 L137.90 584.04 L138.31 584.07 L138.72 584.08 L139.12 584.09 L139.53 584.09 L139.94 584.10 L140.35 584.10 L140.76 584.10 L141.17 584.10 L141.58 584.10 L141.98 584.10 L142.39 584.10 L142.80 584.10" fill="none" stroke="#5048ac" stroke-width="0.75"/><path d="M118.30 594.04 L118.71 594.03 L119.12 594.02 L119.52 594.01 L119.93 593.99 L120.34 593.98 L120.75 593.96 L121.16 593.94 L121.57 593.92 L121.97 593.90 L122.38 593.87 L122.79 593.85 L123.20 593.82 L123.61 593.79 L124.02 593.75 L124.42 593.72 L124.83 593.68 L125.24 593.65 L125.65 593.61 L126.06 593.57 L126.47 593.53 L126.88 593.49 L127.28 593.41 L127.69 593.10 L128.10 592.67 L128.51 592.10 L128.92 591.36 L129.32 590.42 L129.73 589.27 L130.14 587.91 L130.55 586.34 L130.96 584.62 L131.37 582.82 L131.78 581.04 L132.18 579.44 L132.59 578.20 L133.00 577.60 L133.41 578.71 L133.82 580.99 L134.22 583.70 L134.63 586.35 L135.04 588.64 L135.45 590.46 L135.86 591.79 L136.27 592.70 L136.68 593.29 L137.08 593.65 L137.49 593.86 L137.90 593.98 L138.31 594.04 L138.72 594.07 L139.12 594.09 L139.53 594.09 L139.94 594.10 L140.35 594.10 L140.76 594.10 L141.17 594.10 L141.58 594.10 L141.98 594.10 L142.39 594.10 L142.80 594.10" fill="none" stroke="#1c1858" stroke-width="0.8"/></g>
<rect x="118.3" y="564.4" width="24.5" height="29.7" fill="none" stroke="#444" stroke-width="1"/>
<clipPath id="c24"><rect x="144.4" y="564.4" width="24.5" height="29.7"/></clipPath>
<g clip-path="url(#c24)"><path d="M144.40 593.88 L144.81 593.85 L145.22 593.83 L145.62 593.80 L146.03 593.77 L146.44 593.74 L146.85 593.71 L147.26 593.67 L147.67 593.64 L148.08 593.60 L148.48 593.57 L148.89 593.53 L149.30 593.49 L149.71 593.38 L150.12 593.08 L150.53 592.67 L150.93 592.14 L151.34 591.45 L151.75 590.59 L152.16 589.54 L152.57 588.28 L152.97 586.83 L153.38 585.19 L153.79 583.42 L154.20 581.59 L154.61 579.80 L155.02 578.17 L155.43 576.88 L155.83 576.14 L156.24 576.83 L156.65 578.90 L157.06 581.56 L157.47 584.32 L157.88 586.85 L158.28 588.98 L158.69 590.64 L159.10 591.86 L159.51 592.71 L159.92 593.27 L160.33 593.62 L160.73 593.84 L161.14 593.96 L161.55 594.03 L161.96 594.06 L162.37 594.08 L162.78 594.09 L163.18 594.10 L163.59 594.10 L164.00 594.10 L164.41 594.10 L164.82 594.10 L165.22 594.10 L165.63 594.10 L166.04 594.10 L166.45 594.10 L166.86 594.10 L167.27 594.10 L167.68 594.10 L168.08 594.10 L168.49 594.10 L168.90 594.10 L168.9 594.1 L144.4 594.1 Z" fill="#7f72c8"/><path d="M144.40 583.64 L144.81 583.59 L145.22 583.55 L145.62 583.50 L146.03 583.45 L146.44 583.40 L146.85 583.34 L147.26 583.29 L147.67 583.23 L148.08 583.18 L148.48 583.12 L148.89 583.06 L149.30 583.01 L149.71 582.95 L150.12 582.90 L150.53 582.85 L150.93 582.76 L151.34 582.33 L151.75 581.78 L152.16 581.08 L152.57 580.20 L152.97 579.10 L153.38 577.77 L153.79 576.16 L154.20 574.29 L154.61 572.18 L155.02 569.97 L155.43 568.10 L155.83 571.02 L156.24 574.20 L156.65 576.88 L157.06 578.99 L157.47 580.56 L157.88 581.69 L158.28 582.49 L158.69 583.04 L159.10 583.41 L159.51 583.66 L159.92 583.82 L160.33 583.92 L160.73 583.99 L161.14 584.03 L161.55 584.06 L161.96 584.07 L162.37 584.08 L162.78 584.09 L163.18 584.09 L163.59 584.10 L164.00 584.10 L164.41 584.10 L164.82 584.10 L165.22 584.10 L165.63 584.10 L166.04 584.10 L166.45 584.10 L166.86 584.10 L167.27 584.10 L167.68 584.10 L168.08 584.10 L168.49 584.10 L168.90 584.10 L168.9 584.1 L144.4 584.1 Z" fill="#a49be0" opacity="0.78"/><path d="M144.40 583.64 L144.81 583.59 L145.22 583.55 L145.62 583.50 L146.03 583.45 L146.44 583.40 L146.85 583.34 L147.26 583.29 L147.67 583.23 L148.08 583.18 L148.48 583.12 L148.89 583.06 L149.30 583.01 L149.71 582.95 L150.12 582.90 L150.53 582.85 L150.93 582.76 L151.34 582.33 L151.75 581.78 L152.16 581.08 L152.57 580.20 L152.97 579.10 L153.38 577.77 L153.79 576.16 L154.20 574.29 L154.61 572.18 L155.02 569.97 L155.43 568.10 L155.83 571.02 L156.24 574.20 L156.65 576.88 L157.06 578.99 L157.47 580.56 L157.88 581.69 L158.28 582.49 L158.69 583.04 L159.10 583.41 L159.51 583.66 L159.92 583.82 L160.33 583.92 L160.73 583.99 L161.14 584.03 L161.55 584.06 L161.96 584.07 L162.37 584.08 L162.78 584.09 L163.18 584.09 L163.59 584.10 L164.00 584.10 L164.41 584.10 L164.82 584.10 L165.22 584.10 L165.63 584.10 L166.04 584.10 L166.45 584.10 L166.86 584.10 L167.27 584.10 L167.68 584.10 L168.08 584.10 L168.49 584.10 L168.90 584.10" fill="none" stroke="#5048ac" stroke-width="0.75"/><path d="M144.40 593.88 L144.81 593.85 L145.22 593.83 L145.62 593.80 L146.03 593.77 L146.44 593.74 L146.85 593.71 L147.26 593.67 L147.67 593.64 L148.08 593.60 L148.48 593.57 L148.89 593.53 L149.30 593.49 L149.71 593.38 L150.12 593.08 L150.53 592.67 L150.93 592.14 L151.34 591.45 L151.75 590.59 L152.16 589.54 L152.57 588.28 L152.97 586.83 L153.38 585.19 L153.79 583.42 L154.20 581.59 L154.61 579.80 L155.02 578.17 L155.43 576.88 L155.83 576.14 L156.24 576.83 L156.65 578.90 L157.06 581.56 L157.47 584.32 L157.88 586.85 L158.28 588.98 L158.69 590.64 L159.10 591.86 L159.51 592.71 L159.92 593.27 L160.33 593.62 L160.73 593.84 L161.14 593.96 L161.55 594.03 L161.96 594.06 L162.37 594.08 L162.78 594.09 L163.18 594.10 L163.59 594.10 L164.00 594.10 L164.41 594.10 L164.82 594.10 L165.22 594.10 L165.63 594.10 L166.04 594.10 L166.45 594.10 L166.86 594.10 L167.27 594.10 L167.68 594.10 L168.08 594.10 L168.49 594.10 L168.90 594.10" fill="none" stroke="#1c1858" stroke-width="0.8"/></g>
<rect x="144.4" y="564.4" width="24.5" height="29.7" fill="none" stroke="#444" stroke-width="1"/>
<clipPath id="c25"><rect x="170.4" y="564.4" width="24.5" height="29.7"/></clipPath>
<g clip-path="url(#c25)"><path d="M170.40 594.08 L170.81 594.08 L171.22 594.07 L171.62 594.06 L172.03 594.06 L172.44 594.05 L172.85 594.03 L173.26 594.02 L173.67 594.00 L174.08 593.98 L174.48 593.96 L174.89 593.93 L175.30 593.90 L175.71 593.87 L176.12 593.84 L176.53 593.80 L176.93 593.76 L177.34 593.71 L177.75 593.67 L178.16 593.62 L178.57 593.57 L178.97 593.51 L179.38 593.43 L179.79 593.01 L180.20 592.37 L180.61 591.46 L181.02 590.21 L181.43 588.57 L181.83 586.53 L182.24 584.16 L182.65 581.61 L183.06 579.14 L183.47 577.11 L183.88 576.10 L184.28 577.95 L184.69 581.54 L185.10 585.35 L185.51 588.57 L185.92 590.90 L186.33 592.40 L186.73 593.26 L187.14 593.72 L187.55 593.94 L187.96 594.04 L188.37 594.08 L188.78 594.09 L189.18 594.10 L189.59 594.10 L190.00 594.10 L190.41 594.10 L190.82 594.10 L191.22 594.10 L191.63 594.10 L192.04 594.10 L192.45 594.10 L192.86 594.10 L193.27 594.10 L193.68 594.10 L194.08 594.10 L194.49 594.10 L194.90 594.10 L194.9 594.1 L170.4 594.1 Z" fill="#7f72c8"/><path d="M170.40 584.05 L170.81 584.03 L171.22 584.02 L171.62 584.00 L172.03 583.98 L172.44 583.95 L172.85 583.93 L173.26 583.89 L173.67 583.86 L174.08 583.82 L174.48 583.77 L174.89 583.72 L175.30 583.67 L175.71 583.61 L176.12 583.54 L176.53 583.48 L176.93 583.40 L177.34 583.33 L177.75 583.25 L178.16 583.17 L178.57 583.09 L178.97 583.02 L179.38 582.94 L179.79 582.86 L180.20 582.65 L180.61 581.96 L181.02 580.99 L181.43 579.65 L181.83 577.85 L182.24 575.52 L182.65 572.63 L183.06 569.36 L183.47 567.78 L183.88 572.54 L184.28 576.63 L184.69 579.53 L185.10 581.42 L185.51 582.58 L185.92 583.26 L186.33 583.65 L186.73 583.86 L187.14 583.98 L187.55 584.04 L187.96 584.07 L188.37 584.08 L188.78 584.09 L189.18 584.10 L189.59 584.10 L190.00 584.10 L190.41 584.10 L190.82 584.10 L191.22 584.10 L191.63 584.10 L192.04 584.10 L192.45 584.10 L192.86 584.10 L193.27 584.10 L193.68 584.10 L194.08 584.10 L194.49 584.10 L194.90 584.10 L194.9 584.1 L170.4 584.1 Z" fill="#a49be0" opacity="0.78"/><path d="M170.40 584.05 L170.81 584.03 L171.22 584.02 L171.62 584.00 L172.03 583.98 L172.44 583.95 L172.85 583.93 L173.26 583.89 L173.67 583.86 L174.08 583.82 L174.48 583.77 L174.89 583.72 L175.30 583.67 L175.71 583.61 L176.12 583.54 L176.53 583.48 L176.93 583.40 L177.34 583.33 L177.75 583.25 L178.16 583.17 L178.57 583.09 L178.97 583.02 L179.38 582.94 L179.79 582.86 L180.20 582.65 L180.61 581.96 L181.02 580.99 L181.43 579.65 L181.83 577.85 L182.24 575.52 L182.65 572.63 L183.06 569.36 L183.47 567.78 L183.88 572.54 L184.28 576.63 L184.69 579.53 L185.10 581.42 L185.51 582.58 L185.92 583.26 L186.33 583.65 L186.73 583.86 L187.14 583.98 L187.55 584.04 L187.96 584.07 L188.37 584.08 L188.78 584.09 L189.18 584.10 L189.59 584.10 L190.00 584.10 L190.41 584.10 L190.82 584.10 L191.22 584.10 L191.63 584.10 L192.04 584.10 L192.45 584.10 L192.86 584.10 L193.27 584.10 L193.68 584.10 L194.08 584.10 L194.49 584.10 L194.90 584.10" fill="none" stroke="#5048ac" stroke-width="0.75"/><path d="M170.40 594.08 L170.81 594.08 L171.22 594.07 L171.62 594.06 L172.03 594.06 L172.44 594.05 L172.85 594.03 L173.26 594.02 L173.67 594.00 L174.08 593.98 L174.48 593.96 L174.89 593.93 L175.30 593.90 L175.71 593.87 L176.12 593.84 L176.53 593.80 L176.93 593.76 L177.34 593.71 L177.75 593.67 L178.16 593.62 L178.57 593.57 L178.97 593.51 L179.38 593.43 L179.79 593.01 L180.20 592.37 L180.61 591.46 L181.02 590.21 L181.43 588.57 L181.83 586.53 L182.24 584.16 L182.65 581.61 L183.06 579.14 L183.47 577.11 L183.88 576.10 L184.28 577.95 L184.69 581.54 L185.10 585.35 L185.51 588.57 L185.92 590.90 L186.33 592.40 L186.73 593.26 L187.14 593.72 L187.55 593.94 L187.96 594.04 L188.37 594.08 L188.78 594.09 L189.18 594.10 L189.59 594.10 L190.00 594.10 L190.41 594.10 L190.82 594.10 L191.22 594.10 L191.63 594.10 L192.04 594.10 L192.45 594.10 L192.86 594.10 L193.27 594.10 L193.68 594.10 L194.08 594.10 L194.49 594.10 L194.90 594.10" fill="none" stroke="#1c1858" stroke-width="0.8"/></g>
<rect x="170.4" y="564.4" width="24.5" height="29.7" fill="none" stroke="#444" stroke-width="1"/>
<clipPath id="c26"><rect x="196.3" y="564.4" width="24.5" height="29.7"/></clipPath>
<g clip-path="url(#c26)"><path d="M196.30 593.78 L196.71 593.75 L197.12 593.72 L197.53 593.69 L197.93 593.65 L198.34 593.62 L198.75 593.58 L199.16 593.54 L199.57 593.51 L199.98 593.47 L200.38 593.21 L200.79 592.85 L201.20 592.37 L201.61 591.75 L202.02 590.96 L202.43 589.99 L202.83 588.81 L203.24 587.43 L203.65 585.87 L204.06 584.14 L204.47 582.33 L204.88 580.50 L205.28 578.79 L205.69 577.35 L206.10 576.35 L206.51 576.32 L206.92 577.97 L207.33 580.46 L207.73 583.23 L208.14 585.88 L208.55 588.18 L208.96 590.03 L209.37 591.42 L209.78 592.41 L210.18 593.07 L210.59 593.50 L211.00 593.76 L211.41 593.92 L211.82 594.00 L212.23 594.05 L212.63 594.08 L213.04 594.09 L213.45 594.09 L213.86 594.10 L214.27 594.10 L214.68 594.10 L215.08 594.10 L215.49 594.10 L215.90 594.10 L216.31 594.10 L216.72 594.10 L217.12 594.10 L217.53 594.10 L217.94 594.10 L218.35 594.10 L218.76 594.10 L219.17 594.10 L219.58 594.10 L219.98 594.10 L220.39 594.10 L220.80 594.10 L220.8 594.1 L196.3 594.1 Z" fill="#7f72c8"/><path d="M196.30 583.47 L196.71 583.42 L197.12 583.37 L197.53 583.31 L197.93 583.26 L198.34 583.20 L198.75 583.14 L199.16 583.09 L199.57 583.03 L199.98 582.98 L200.38 582.92 L200.79 582.87 L201.20 582.82 L201.61 582.57 L202.02 582.08 L202.43 581.47 L202.83 580.68 L203.24 579.71 L203.65 578.51 L204.06 577.06 L204.47 575.35 L204.88 573.40 L205.28 571.27 L205.69 569.20 L206.10 570.17 L206.51 573.32 L206.92 576.14 L207.33 578.40 L207.73 580.12 L208.14 581.37 L208.55 582.26 L208.96 582.88 L209.37 583.30 L209.78 583.59 L210.18 583.77 L210.59 583.89 L211.00 583.97 L211.41 584.02 L211.82 584.05 L212.23 584.07 L212.63 584.08 L213.04 584.09 L213.45 584.09 L213.86 584.10 L214.27 584.10 L214.68 584.10 L215.08 584.10 L215.49 584.10 L215.90 584.10 L216.31 584.10 L216.72 584.10 L217.12 584.10 L217.53 584.10 L217.94 584.10 L218.35 584.10 L218.76 584.10 L219.17 584.10 L219.58 584.10 L219.98 584.10 L220.39 584.10 L220.80 584.10 L220.8 584.1 L196.3 584.1 Z" fill="#a49be0" opacity="0.78"/><path d="M196.30 583.47 L196.71 583.42 L197.12 583.37 L197.53 583.31 L197.93 583.26 L198.34 583.20 L198.75 583.14 L199.16 583.09 L199.57 583.03 L199.98 582.98 L200.38 582.92 L200.79 582.87 L201.20 582.82 L201.61 582.57 L202.02 582.08 L202.43 581.47 L202.83 580.68 L203.24 579.71 L203.65 578.51 L204.06 577.06 L204.47 575.35 L204.88 573.40 L205.28 571.27 L205.69 569.20 L206.10 570.17 L206.51 573.32 L206.92 576.14 L207.33 578.40 L207.73 580.12 L208.14 581.37 L208.55 582.26 L208.96 582.88 L209.37 583.30 L209.78 583.59 L210.18 583.77 L210.59 583.89 L211.00 583.97 L211.41 584.02 L211.82 584.05 L212.23 584.07 L212.63 584.08 L213.04 584.09 L213.45 584.09 L213.86 584.10 L214.27 584.10 L214.68 584.10 L215.08 584.10 L215.49 584.10 L215.90 584.10 L216.31 584.10 L216.72 584.10 L217.12 584.10 L217.53 584.10 L217.94 584.10 L218.35 584.10 L218.76 584.10 L219.17 584.10 L219.58 584.10 L219.98 584.10 L220.39 584.10 L220.80 584.10" fill="none" stroke="#5048ac" stroke-width="0.75"/><path d="M196.30 593.78 L196.71 593.75 L197.12 593.72 L197.53 593.69 L197.93 593.65 L198.34 593.62 L198.75 593.58 L199.16 593.54 L199.57 593.51 L199.98 593.47 L200.38 593.21 L200.79 592.85 L201.20 592.37 L201.61 591.75 L202.02 590.96 L202.43 589.99 L202.83 588.81 L203.24 587.43 L203.65 585.87 L204.06 584.14 L204.47 582.33 L204.88 580.50 L205.28 578.79 L205.69 577.35 L206.10 576.35 L206.51 576.32 L206.92 577.97 L207.33 580.46 L207.73 583.23 L208.14 585.88 L208.55 588.18 L208.96 590.03 L209.37 591.42 L209.78 592.41 L210.18 593.07 L210.59 593.50 L211.00 593.76 L211.41 593.92 L211.82 594.00 L212.23 594.05 L212.63 594.08 L213.04 594.09 L213.45 594.09 L213.86 594.10 L214.27 594.10 L214.68 594.10 L215.08 594.10 L215.49 594.10 L215.90 594.10 L216.31 594.10 L216.72 594.10 L217.12 594.10 L217.53 594.10 L217.94 594.10 L218.35 594.10 L218.76 594.10 L219.17 594.10 L219.58 594.10 L219.98 594.10 L220.39 594.10 L220.80 594.10" fill="none" stroke="#1c1858" stroke-width="0.8"/></g>
<rect x="196.3" y="564.4" width="24.5" height="29.7" fill="none" stroke="#444" stroke-width="1"/>
<clipPath id="c27"><rect x="222.2" y="564.4" width="24.5" height="29.7"/></clipPath>
<g clip-path="url(#c27)"><path d="M222.20 593.67 L222.61 593.65 L223.02 593.63 L223.42 593.60 L223.83 593.58 L224.24 593.55 L224.65 593.53 L225.06 593.50 L225.47 593.48 L225.88 593.34 L226.28 593.13 L226.69 592.89 L227.10 592.59 L227.51 592.23 L227.92 591.80 L228.32 591.30 L228.73 590.72 L229.14 590.04 L229.55 589.28 L229.96 588.42 L230.37 587.46 L230.77 586.41 L231.18 585.28 L231.59 584.07 L232.00 582.82 L232.41 581.53 L232.82 580.24 L233.22 578.99 L233.63 577.82 L234.04 576.77 L234.45 575.92 L234.86 575.31 L235.27 575.13 L235.67 575.88 L236.08 577.25 L236.49 578.98 L236.90 580.89 L237.31 582.84 L237.72 584.73 L238.12 586.47 L238.53 588.02 L238.94 589.35 L239.35 590.46 L239.76 591.36 L240.17 592.08 L240.57 592.64 L240.98 593.06 L241.39 593.37 L241.80 593.60 L242.21 593.76 L242.62 593.87 L243.02 593.95 L243.43 594.00 L243.84 594.04 L244.25 594.06 L244.66 594.08 L245.07 594.09 L245.47 594.09 L245.88 594.09 L246.29 594.10 L246.70 594.10 L246.7 594.1 L222.2 594.1 Z" fill="#7f72c8"/><path d="M222.20 583.31 L222.61 583.28 L223.02 583.24 L223.42 583.20 L223.83 583.16 L224.24 583.13 L224.65 583.09 L225.06 583.05 L225.47 583.01 L225.88 582.98 L226.28 582.94 L226.69 582.90 L227.10 582.87 L227.51 582.83 L227.92 582.79 L228.32 582.52 L228.73 582.20 L229.14 581.82 L229.55 581.38 L229.96 580.86 L230.37 580.26 L230.77 579.57 L231.18 578.77 L231.59 577.86 L232.00 576.84 L232.41 575.69 L232.82 574.42 L233.22 573.05 L233.63 571.60 L234.04 570.11 L234.45 568.72 L234.86 568.71 L235.27 570.80 L235.67 572.97 L236.08 574.97 L236.49 576.72 L236.90 578.21 L237.31 579.45 L237.72 580.47 L238.12 581.28 L238.53 581.93 L238.94 582.45 L239.35 582.84 L239.76 583.15 L240.17 583.39 L240.57 583.57 L240.98 583.71 L241.39 583.81 L241.80 583.89 L242.21 583.94 L242.62 583.99 L243.02 584.02 L243.43 584.04 L243.84 584.06 L244.25 584.07 L244.66 584.08 L245.07 584.08 L245.47 584.09 L245.88 584.09 L246.29 584.09 L246.70 584.10 L246.7 584.1 L222.2 584.1 Z" fill="#a49be0" opacity="0.78"/><path d="M222.20 583.31 L222.61 583.28 L223.02 583.24 L223.42 583.20 L223.83 583.16 L224.24 583.13 L224.65 583.09 L225.06 583.05 L225.47 583.01 L225.88 582.98 L226.28 582.94 L226.69 582.90 L227.10 582.87 L227.51 582.83 L227.92 582.79 L228.32 582.52 L228.73 582.20 L229.14 581.82 L229.55 581.38 L229.96 580.86 L230.37 580.26 L230.77 579.57 L231.18 578.77 L231.59 577.86 L232.00 576.84 L232.41 575.69 L232.82 574.42 L233.22 573.05 L233.63 571.60 L234.04 570.11 L234.45 568.72 L234.86 568.71 L235.27 570.80 L235.67 572.97 L236.08 574.97 L236.49 576.72 L236.90 578.21 L237.31 579.45 L237.72 580.47 L238.12 581.28 L238.53 581.93 L238.94 582.45 L239.35 582.84 L239.76 583.15 L240.17 583.39 L240.57 583.57 L240.98 583.71 L241.39 583.81 L241.80 583.89 L242.21 583.94 L242.62 583.99 L243.02 584.02 L243.43 584.04 L243.84 584.06 L244.25 584.07 L244.66 584.08 L245.07 584.08 L245.47 584.09 L245.88 584.09 L246.29 584.09 L246.70 584.10" fill="none" stroke="#5048ac" stroke-width="0.75"/><path d="M222.20 593.67 L222.61 593.65 L223.02 593.63 L223.42 593.60 L223.83 593.58 L224.24 593.55 L224.65 593.53 L225.06 593.50 L225.47 593.48 L225.88 593.34 L226.28 593.13 L226.69 592.89 L227.10 592.59 L227.51 592.23 L227.92 591.80 L228.32 591.30 L228.73 590.72 L229.14 590.04 L229.55 589.28 L229.96 588.42 L230.37 587.46 L230.77 586.41 L231.18 585.28 L231.59 584.07 L232.00 582.82 L232.41 581.53 L232.82 580.24 L233.22 578.99 L233.63 577.82 L234.04 576.77 L234.45 575.92 L234.86 575.31 L235.27 575.13 L235.67 575.88 L236.08 577.25 L236.49 578.98 L236.90 580.89 L237.31 582.84 L237.72 584.73 L238.12 586.47 L238.53 588.02 L238.94 589.35 L239.35 590.46 L239.76 591.36 L240.17 592.08 L240.57 592.64 L240.98 593.06 L241.39 593.37 L241.80 593.60 L242.21 593.76 L242.62 593.87 L243.02 593.95 L243.43 594.00 L243.84 594.04 L244.25 594.06 L244.66 594.08 L245.07 594.09 L245.47 594.09 L245.88 594.09 L246.29 594.10 L246.70 594.10" fill="none" stroke="#1c1858" stroke-width="0.8"/></g>
<rect x="222.2" y="564.4" width="24.5" height="29.7" fill="none" stroke="#444" stroke-width="1"/>
<clipPath id="c28"><rect x="248.1" y="564.4" width="24.5" height="29.7"/></clipPath>
<g clip-path="url(#c28)"><path d="M248.10 593.92 L248.51 593.90 L248.92 593.88 L249.32 593.86 L249.73 593.84 L250.14 593.82 L250.55 593.80 L250.96 593.77 L251.37 593.75 L251.78 593.72 L252.18 593.70 L252.59 593.67 L253.00 593.64 L253.41 593.61 L253.82 593.58 L254.22 593.55 L254.63 593.52 L255.04 593.49 L255.45 593.46 L255.86 593.28 L256.27 593.01 L256.68 592.67 L257.08 592.26 L257.49 591.74 L257.90 591.13 L258.31 590.39 L258.72 589.54 L259.12 588.56 L259.53 587.47 L259.94 586.27 L260.35 584.98 L260.76 583.65 L261.17 582.31 L261.57 581.02 L261.98 579.86 L262.39 578.90 L262.80 578.26 L263.21 578.24 L263.62 579.31 L264.03 580.99 L264.43 582.97 L264.84 584.99 L265.25 586.91 L265.66 588.61 L266.07 590.03 L266.48 591.18 L266.88 592.06 L267.29 592.71 L267.70 593.18 L268.11 593.51 L268.52 593.73 L268.93 593.87 L269.33 593.96 L269.74 594.02 L270.15 594.06 L270.56 594.08 L270.97 594.09 L271.38 594.09 L271.78 594.10 L272.19 594.10 L272.60 594.10 L272.6 594.1 L248.1 594.1 Z" fill="#7f72c8"/><path d="M248.10 583.72 L248.51 583.69 L248.92 583.66 L249.32 583.62 L249.73 583.59 L250.14 583.55 L250.55 583.51 L250.96 583.47 L251.37 583.43 L251.78 583.38 L252.18 583.34 L252.59 583.30 L253.00 583.25 L253.41 583.20 L253.82 583.16 L254.22 583.11 L254.63 583.06 L255.04 583.02 L255.45 582.97 L255.86 582.93 L256.27 582.88 L256.68 582.84 L257.08 582.80 L257.49 582.59 L257.90 582.21 L258.31 581.74 L258.72 581.17 L259.12 580.49 L259.53 579.67 L259.94 578.71 L260.35 577.59 L260.76 576.30 L261.17 574.84 L261.57 573.25 L261.98 571.60 L262.39 570.04 L262.80 570.76 L263.21 573.19 L263.62 575.50 L264.03 577.48 L264.43 579.11 L264.84 580.39 L265.25 581.38 L265.66 582.13 L266.07 582.69 L266.48 583.10 L266.88 583.40 L267.29 583.61 L267.70 583.76 L268.11 583.87 L268.52 583.94 L268.93 583.99 L269.33 584.03 L269.74 584.05 L270.15 584.07 L270.56 584.08 L270.97 584.09 L271.38 584.09 L271.78 584.09 L272.19 584.10 L272.60 584.10 L272.6 584.1 L248.1 584.1 Z" fill="#a49be0" opacity="0.78"/><path d="M248.10 583.72 L248.51 583.69 L248.92 583.66 L249.32 583.62 L249.73 583.59 L250.14 583.55 L250.55 583.51 L250.96 583.47 L251.37 583.43 L251.78 583.38 L252.18 583.34 L252.59 583.30 L253.00 583.25 L253.41 583.20 L253.82 583.16 L254.22 583.11 L254.63 583.06 L255.04 583.02 L255.45 582.97 L255.86 582.93 L256.27 582.88 L256.68 582.84 L257.08 582.80 L257.49 582.59 L257.90 582.21 L258.31 581.74 L258.72 581.17 L259.12 580.49 L259.53 579.67 L259.94 578.71 L260.35 577.59 L260.76 576.30 L261.17 574.84 L261.57 573.25 L261.98 571.60 L262.39 570.04 L262.80 570.76 L263.21 573.19 L263.62 575.50 L264.03 577.48 L264.43 579.11 L264.84 580.39 L265.25 581.38 L265.66 582.13 L266.07 582.69 L266.48 583.10 L266.88 583.40 L267.29 583.61 L267.70 583.76 L268.11 583.87 L268.52 583.94 L268.93 583.99 L269.33 584.03 L269.74 584.05 L270.15 584.07 L270.56 584.08 L270.97 584.09 L271.38 584.09 L271.78 584.09 L272.19 584.10 L272.60 584.10" fill="none" stroke="#5048ac" stroke-width="0.75"/><path d="M248.10 593.92 L248.51 593.90 L248.92 593.88 L249.32 593.86 L249.73 593.84 L250.14 593.82 L250.55 593.80 L250.96 593.77 L251.37 593.75 L251.78 593.72 L252.18 593.70 L252.59 593.67 L253.00 593.64 L253.41 593.61 L253.82 593.58 L254.22 593.55 L254.63 593.52 L255.04 593.49 L255.45 593.46 L255.86 593.28 L256.27 593.01 L256.68 592.67 L257.08 592.26 L257.49 591.74 L257.90 591.13 L258.31 590.39 L258.72 589.54 L259.12 588.56 L259.53 587.47 L259.94 586.27 L260.35 584.98 L260.76 583.65 L261.17 582.31 L261.57 581.02 L261.98 579.86 L262.39 578.90 L262.80 578.26 L263.21 578.24 L263.62 579.31 L264.03 580.99 L264.43 582.97 L264.84 584.99 L265.25 586.91 L265.66 588.61 L266.07 590.03 L266.48 591.18 L266.88 592.06 L267.29 592.71 L267.70 593.18 L268.11 593.51 L268.52 593.73 L268.93 593.87 L269.33 593.96 L269.74 594.02 L270.15 594.06 L270.56 594.08 L270.97 594.09 L271.38 594.09 L271.78 594.10 L272.19 594.10 L272.60 594.10" fill="none" stroke="#1c1858" stroke-width="0.8"/></g>
<rect x="248.1" y="564.4" width="24.5" height="29.7" fill="none" stroke="#444" stroke-width="1"/>
<text x="146.00" y="618.70" font-size="10.75" text-anchor="middle" fill="#231f20" stroke="#231f20" stroke-width="0.12" transform="translate(146.00 618.70) scale(0.8929 1) translate(-146.00 -618.70)">CD8 memory/effector</text>
<text x="34.40" y="643.00" font-size="8.85" text-anchor="end" fill="#231f20" stroke="#231f20" stroke-width="0.12" transform="translate(34.40 643.00) scale(0.8929 1) translate(-34.40 -643.00)">Pre</text>
<text x="34.40" y="653.00" font-size="8.85" text-anchor="end" fill="#231f20" stroke="#231f20" stroke-width="0.12" transform="translate(34.40 653.00) scale(0.8929 1) translate(-34.40 -653.00)">Post</text>
<clipPath id="c30"><rect x="37.3" y="624.3" width="24.5" height="29.7"/></clipPath>
<g clip-path="url(#c30)"><path d="M37.30 653.78 L37.71 653.76 L38.12 653.74 L38.52 653.71 L38.93 653.69 L39.34 653.66 L39.75 653.63 L40.16 653.61 L40.57 653.58 L40.97 653.55 L41.38 653.52 L41.79 653.48 L42.20 653.45 L42.61 653.42 L43.02 653.39 L43.42 653.27 L43.83 653.00 L44.24 652.66 L44.65 652.22 L45.06 651.67 L45.47 650.99 L45.88 650.17 L46.28 649.19 L46.69 648.05 L47.10 646.76 L47.51 645.32 L47.92 643.76 L48.32 642.13 L48.73 640.48 L49.14 638.90 L49.55 637.47 L49.96 636.33 L50.37 635.61 L50.77 635.86 L51.18 637.43 L51.59 639.65 L52.00 642.12 L52.41 644.57 L52.82 646.80 L53.22 648.69 L53.63 650.22 L54.04 651.40 L54.45 652.26 L54.86 652.88 L55.27 653.29 L55.67 653.57 L56.08 653.74 L56.49 653.85 L56.90 653.92 L57.31 653.95 L57.72 653.98 L58.12 653.99 L58.53 653.99 L58.94 654.00 L59.35 654.00 L59.76 654.00 L60.17 654.00 L60.57 654.00 L60.98 654.00 L61.39 654.00 L61.80 654.00 L61.8 654.0 L37.3 654.0 Z" fill="#7f72c8"/><path d="M37.30 643.55 L37.71 643.51 L38.12 643.47 L38.52 643.43 L38.93 643.39 L39.34 643.35 L39.75 643.30 L40.16 643.25 L40.57 643.21 L40.97 643.16 L41.38 643.11 L41.79 643.06 L42.20 643.01 L42.61 642.96 L43.02 642.91 L43.42 642.86 L43.83 642.82 L44.24 642.77 L44.65 642.72 L45.06 642.44 L45.47 642.02 L45.88 641.49 L46.28 640.83 L46.69 640.03 L47.10 639.07 L47.51 637.91 L47.92 636.54 L48.32 634.95 L48.73 633.15 L49.14 631.16 L49.55 629.10 L49.96 627.24 L50.37 629.06 L50.77 632.09 L51.18 634.84 L51.59 637.13 L52.00 638.94 L52.41 640.34 L52.82 641.39 L53.22 642.16 L53.63 642.72 L54.04 643.12 L54.45 643.40 L54.86 643.59 L55.27 643.73 L55.67 643.82 L56.08 643.88 L56.49 643.92 L56.90 643.95 L57.31 643.97 L57.72 643.98 L58.12 643.99 L58.53 643.99 L58.94 643.99 L59.35 644.00 L59.76 644.00 L60.17 644.00 L60.57 644.00 L60.98 644.00 L61.39 644.00 L61.80 644.00 L61.8 644.0 L37.3 644.0 Z" fill="#a49be0" opacity="0.78"/><path d="M37.30 643.55 L37.71 643.51 L38.12 643.47 L38.52 643.43 L38.93 643.39 L39.34 643.35 L39.75 643.30 L40.16 643.25 L40.57 643.21 L40.97 643.16 L41.38 643.11 L41.79 643.06 L42.20 643.01 L42.61 642.96 L43.02 642.91 L43.42 642.86 L43.83 642.82 L44.24 642.77 L44.65 642.72 L45.06 642.44 L45.47 642.02 L45.88 641.49 L46.28 640.83 L46.69 640.03 L47.10 639.07 L47.51 637.91 L47.92 636.54 L48.32 634.95 L48.73 633.15 L49.14 631.16 L49.55 629.10 L49.96 627.24 L50.37 629.06 L50.77 632.09 L51.18 634.84 L51.59 637.13 L52.00 638.94 L52.41 640.34 L52.82 641.39 L53.22 642.16 L53.63 642.72 L54.04 643.12 L54.45 643.40 L54.86 643.59 L55.27 643.73 L55.67 643.82 L56.08 643.88 L56.49 643.92 L56.90 643.95 L57.31 643.97 L57.72 643.98 L58.12 643.99 L58.53 643.99 L58.94 643.99 L59.35 644.00 L59.76 644.00 L60.17 644.00 L60.57 644.00 L60.98 644.00 L61.39 644.00 L61.80 644.00" fill="none" stroke="#5048ac" stroke-width="0.75"/><path d="M37.30 653.78 L37.71 653.76 L38.12 653.74 L38.52 653.71 L38.93 653.69 L39.34 653.66 L39.75 653.63 L40.16 653.61 L40.57 653.58 L40.97 653.55 L41.38 653.52 L41.79 653.48 L42.20 653.45 L42.61 653.42 L43.02 653.39 L43.42 653.27 L43.83 653.00 L44.24 652.66 L44.65 652.22 L45.06 651.67 L45.47 650.99 L45.88 650.17 L46.28 649.19 L46.69 648.05 L47.10 646.76 L47.51 645.32 L47.92 643.76 L48.32 642.13 L48.73 640.48 L49.14 638.90 L49.55 637.47 L49.96 636.33 L50.37 635.61 L50.77 635.86 L51.18 637.43 L51.59 639.65 L52.00 642.12 L52.41 644.57 L52.82 646.80 L53.22 648.69 L53.63 650.22 L54.04 651.40 L54.45 652.26 L54.86 652.88 L55.27 653.29 L55.67 653.57 L56.08 653.74 L56.49 653.85 L56.90 653.92 L57.31 653.95 L57.72 653.98 L58.12 653.99 L58.53 653.99 L58.94 654.00 L59.35 654.00 L59.76 654.00 L60.17 654.00 L60.57 654.00 L60.98 654.00 L61.39 654.00 L61.80 654.00" fill="none" stroke="#1c1858" stroke-width="0.8"/></g>
<rect x="37.3" y="624.3" width="24.5" height="29.7" fill="none" stroke="#444" stroke-width="1"/>
<clipPath id="c31"><rect x="63.9" y="624.3" width="24.5" height="29.7"/></clipPath>
<g clip-path="url(#c31)"><path d="M63.90 653.85 L64.31 653.83 L64.72 653.81 L65.12 653.79 L65.53 653.77 L65.94 653.74 L66.35 653.72 L66.76 653.69 L67.17 653.66 L67.58 653.63 L67.98 653.59 L68.39 653.56 L68.80 653.52 L69.21 653.49 L69.62 653.45 L70.03 653.41 L70.43 653.38 L70.84 653.34 L71.25 653.09 L71.66 652.74 L72.07 652.28 L72.47 651.69 L72.88 650.96 L73.29 650.08 L73.70 649.04 L74.11 647.85 L74.52 646.53 L74.92 645.13 L75.33 643.71 L75.74 642.35 L76.15 641.17 L76.56 640.31 L76.97 640.05 L77.38 641.13 L77.78 642.98 L78.19 645.11 L78.60 647.21 L79.01 649.07 L79.42 650.58 L79.83 651.73 L80.23 652.55 L80.64 653.11 L81.05 653.48 L81.46 653.71 L81.87 653.84 L82.28 653.92 L82.68 653.96 L83.09 653.98 L83.50 653.99 L83.91 654.00 L84.32 654.00 L84.73 654.00 L85.13 654.00 L85.54 654.00 L85.95 654.00 L86.36 654.00 L86.77 654.00 L87.18 654.00 L87.58 654.00 L87.99 654.00 L88.40 654.00 L88.4 654.0 L63.9 654.0 Z" fill="#7f72c8"/><path d="M63.90 643.67 L64.31 643.64 L64.72 643.60 L65.12 643.56 L65.53 643.52 L65.94 643.48 L66.35 643.43 L66.76 643.38 L67.17 643.33 L67.58 643.28 L67.98 643.22 L68.39 643.17 L68.80 643.11 L69.21 643.06 L69.62 643.00 L70.03 642.94 L70.43 642.89 L70.84 642.83 L71.25 642.78 L71.66 642.73 L72.07 642.60 L72.47 642.15 L72.88 641.58 L73.29 640.86 L73.70 639.96 L74.11 638.84 L74.52 637.49 L74.92 635.89 L75.33 634.04 L75.74 632.00 L76.15 629.95 L76.56 629.93 L76.97 632.97 L77.38 635.79 L77.78 638.09 L78.19 639.85 L78.60 641.15 L79.01 642.07 L79.42 642.72 L79.83 643.16 L80.23 643.46 L80.64 643.65 L81.05 643.78 L81.46 643.86 L81.87 643.91 L82.28 643.95 L82.68 643.97 L83.09 643.98 L83.50 643.99 L83.91 643.99 L84.32 644.00 L84.73 644.00 L85.13 644.00 L85.54 644.00 L85.95 644.00 L86.36 644.00 L86.77 644.00 L87.18 644.00 L87.58 644.00 L87.99 644.00 L88.40 644.00 L88.4 644.0 L63.9 644.0 Z" fill="#a49be0" opacity="0.78"/><path d="M63.90 643.67 L64.31 643.64 L64.72 643.60 L65.12 643.56 L65.53 643.52 L65.94 643.48 L66.35 643.43 L66.76 643.38 L67.17 643.33 L67.58 643.28 L67.98 643.22 L68.39 643.17 L68.80 643.11 L69.21 643.06 L69.62 643.00 L70.03 642.94 L70.43 642.89 L70.84 642.83 L71.25 642.78 L71.66 642.73 L72.07 642.60 L72.47 642.15 L72.88 641.58 L73.29 640.86 L73.70 639.96 L74.11 638.84 L74.52 637.49 L74.92 635.89 L75.33 634.04 L75.74 632.00 L76.15 629.95 L76.56 629.93 L76.97 632.97 L77.38 635.79 L77.78 638.09 L78.19 639.85 L78.60 641.15 L79.01 642.07 L79.42 642.72 L79.83 643.16 L80.23 643.46 L80.64 643.65 L81.05 643.78 L81.46 643.86 L81.87 643.91 L82.28 643.95 L82.68 643.97 L83.09 643.98 L83.50 643.99 L83.91 643.99 L84.32 644.00 L84.73 644.00 L85.13 644.00 L85.54 644.00 L85.95 644.00 L86.36 644.00 L86.77 644.00 L87.18 644.00 L87.58 644.00 L87.99 644.00 L88.40 644.00" fill="none" stroke="#5048ac" stroke-width="0.75"/><path d="M63.90 653.85 L64.31 653.83 L64.72 653.81 L65.12 653.79 L65.53 653.77 L65.94 653.74 L66.35 653.72 L66.76 653.69 L67.17 653.66 L67.58 653.63 L67.98 653.59 L68.39 653.56 L68.80 653.52 L69.21 653.49 L69.62 653.45 L70.03 653.41 L70.43 653.38 L70.84 653.34 L71.25 653.09 L71.66 652.74 L72.07 652.28 L72.47 651.69 L72.88 650.96 L73.29 650.08 L73.70 649.04 L74.11 647.85 L74.52 646.53 L74.92 645.13 L75.33 643.71 L75.74 642.35 L76.15 641.17 L76.56 640.31 L76.97 640.05 L77.38 641.13 L77.78 642.98 L78.19 645.11 L78.60 647.21 L79.01 649.07 L79.42 650.58 L79.83 651.73 L80.23 652.55 L80.64 653.11 L81.05 653.48 L81.46 653.71 L81.87 653.84 L82.28 653.92 L82.68 653.96 L83.09 653.98 L83.50 653.99 L83.91 654.00 L84.32 654.00 L84.73 654.00 L85.13 654.00 L85.54 654.00 L85.95 654.00 L86.36 654.00 L86.77 654.00 L87.18 654.00 L87.58 654.00 L87.99 654.00 L88.40 654.00" fill="none" stroke="#1c1858" stroke-width="0.8"/></g>
<rect x="63.9" y="624.3" width="24.5" height="29.7" fill="none" stroke="#444" stroke-width="1"/>
<clipPath id="c32"><rect x="90.0" y="624.3" width="24.5" height="29.7"/></clipPath>
<g clip-path="url(#c32)"><path d="M90.00 653.81 L90.41 653.80 L90.82 653.78 L91.22 653.76 L91.63 653.74 L92.04 653.72 L92.45 653.70 L92.86 653.68 L93.27 653.65 L93.67 653.63 L94.08 653.60 L94.49 653.58 L94.90 653.55 L95.31 653.52 L95.72 653.49 L96.12 653.47 L96.53 653.44 L96.94 653.41 L97.35 653.38 L97.76 653.35 L98.17 653.29 L98.58 653.07 L98.98 652.81 L99.39 652.48 L99.80 652.09 L100.21 651.61 L100.62 651.06 L101.03 650.42 L101.43 649.68 L101.84 648.87 L102.25 647.97 L102.66 647.00 L103.07 645.99 L103.47 644.96 L103.88 643.95 L104.29 642.99 L104.70 642.15 L105.11 641.48 L105.52 641.06 L105.92 641.21 L106.33 642.12 L106.74 643.44 L107.15 644.96 L107.56 646.51 L107.97 647.99 L108.38 649.32 L108.78 650.46 L109.19 651.39 L109.60 652.13 L110.01 652.69 L110.42 653.10 L110.83 653.40 L111.23 653.61 L111.64 653.75 L112.05 653.84 L112.46 653.91 L112.87 653.94 L113.28 653.97 L113.68 653.98 L114.09 653.99 L114.50 653.99 L114.5 654.0 L90.0 654.0 Z" fill="#7f72c8"/><path d="M90.00 643.61 L90.41 643.58 L90.82 643.55 L91.22 643.52 L91.63 643.49 L92.04 643.45 L92.45 643.41 L92.86 643.37 L93.27 643.33 L93.67 643.29 L94.08 643.25 L94.49 643.21 L94.90 643.17 L95.31 643.12 L95.72 643.08 L96.12 643.04 L96.53 642.99 L96.94 642.95 L97.35 642.91 L97.76 642.86 L98.17 642.82 L98.58 642.78 L98.98 642.74 L99.39 642.70 L99.80 642.46 L100.21 642.10 L100.62 641.65 L101.03 641.12 L101.43 640.48 L101.84 639.73 L102.25 638.84 L102.66 637.81 L103.07 636.63 L103.47 635.30 L103.88 633.82 L104.29 632.23 L104.70 630.61 L105.11 629.18 L105.52 630.58 L105.92 632.97 L106.33 635.20 L106.74 637.13 L107.15 638.73 L107.56 640.02 L107.97 641.02 L108.38 641.80 L108.78 642.39 L109.19 642.83 L109.60 643.16 L110.01 643.40 L110.42 643.58 L110.83 643.70 L111.23 643.79 L111.64 643.86 L112.05 643.90 L112.46 643.93 L112.87 643.95 L113.28 643.97 L113.68 643.98 L114.09 643.99 L114.50 643.99 L114.5 644.0 L90.0 644.0 Z" fill="#a49be0" opacity="0.78"/><path d="M90.00 643.61 L90.41 643.58 L90.82 643.55 L91.22 643.52 L91.63 643.49 L92.04 643.45 L92.45 643.41 L92.86 643.37 L93.27 643.33 L93.67 643.29 L94.08 643.25 L94.49 643.21 L94.90 643.17 L95.31 643.12 L95.72 643.08 L96.12 643.04 L96.53 642.99 L96.94 642.95 L97.35 642.91 L97.76 642.86 L98.17 642.82 L98.58 642.78 L98.98 642.74 L99.39 642.70 L99.80 642.46 L100.21 642.10 L100.62 641.65 L101.03 641.12 L101.43 640.48 L101.84 639.73 L102.25 638.84 L102.66 637.81 L103.07 636.63 L103.47 635.30 L103.88 633.82 L104.29 632.23 L104.70 630.61 L105.11 629.18 L105.52 630.58 L105.92 632.97 L106.33 635.20 L106.74 637.13 L107.15 638.73 L107.56 640.02 L107.97 641.02 L108.38 641.80 L108.78 642.39 L109.19 642.83 L109.60 643.16 L110.01 643.40 L110.42 643.58 L110.83 643.70 L111.23 643.79 L111.64 643.86 L112.05 643.90 L112.46 643.93 L112.87 643.95 L113.28 643.97 L113.68 643.98 L114.09 643.99 L114.50 643.99" fill="none" stroke="#5048ac" stroke-width="0.75"/><path d="M90.00 653.81 L90.41 653.80 L90.82 653.78 L91.22 653.76 L91.63 653.74 L92.04 653.72 L92.45 653.70 L92.86 653.68 L93.27 653.65 L93.67 653.63 L94.08 653.60 L94.49 653.58 L94.90 653.55 L95.31 653.52 L95.72 653.49 L96.12 653.47 L96.53 653.44 L96.94 653.41 L97.35 653.38 L97.76 653.35 L98.17 653.29 L98.58 653.07 L98.98 652.81 L99.39 652.48 L99.80 652.09 L100.21 651.61 L100.62 651.06 L101.03 650.42 L101.43 649.68 L101.84 648.87 L102.25 647.97 L102.66 647.00 L103.07 645.99 L103.47 644.96 L103.88 643.95 L104.29 642.99 L104.70 642.15 L105.11 641.48 L105.52 641.06 L105.92 641.21 L106.33 642.12 L106.74 643.44 L107.15 644.96 L107.56 646.51 L107.97 647.99 L108.38 649.32 L108.78 650.46 L109.19 651.39 L109.60 652.13 L110.01 652.69 L110.42 653.10 L110.83 653.40 L111.23 653.61 L111.64 653.75 L112.05 653.84 L112.46 653.91 L112.87 653.94 L113.28 653.97 L113.68 653.98 L114.09 653.99 L114.50 653.99" fill="none" stroke="#1c1858" stroke-width="0.8"/></g>
<rect x="90.0" y="624.3" width="24.5" height="29.7" fill="none" stroke="#444" stroke-width="1"/>
<clipPath id="c33"><rect x="118.3" y="624.3" width="24.5" height="29.7"/></clipPath>
<g clip-path="url(#c33)"><path d="M118.30 653.92 L118.71 653.91 L119.12 653.90 L119.52 653.88 L119.93 653.86 L120.34 653.85 L120.75 653.82 L121.16 653.80 L121.57 653.78 L121.97 653.75 L122.38 653.72 L122.79 653.69 L123.20 653.66 L123.61 653.63 L124.02 653.59 L124.42 653.55 L124.83 653.52 L125.24 653.48 L125.65 653.44 L126.06 653.40 L126.47 653.27 L126.88 652.93 L127.28 652.46 L127.69 651.84 L128.10 651.03 L128.51 650.00 L128.92 648.73 L129.32 647.20 L129.73 645.45 L130.14 643.49 L130.55 641.43 L130.96 639.36 L131.37 637.46 L131.78 635.93 L132.18 635.05 L132.59 635.87 L133.00 638.32 L133.41 641.39 L133.82 644.49 L134.22 647.23 L134.63 649.43 L135.04 651.07 L135.45 652.21 L135.86 652.96 L136.27 653.42 L136.68 653.69 L137.08 653.84 L137.49 653.92 L137.90 653.96 L138.31 653.98 L138.72 653.99 L139.12 654.00 L139.53 654.00 L139.94 654.00 L140.35 654.00 L140.76 654.00 L141.17 654.00 L141.58 654.00 L141.98 654.00 L142.39 654.00 L142.80 654.00 L142.8 654.0 L118.3 654.0 Z" fill="#7f72c8"/><path d="M118.30 643.81 L118.71 643.79 L119.12 643.76 L119.52 643.73 L119.93 643.70 L120.34 643.66 L120.75 643.62 L121.16 643.58 L121.57 643.53 L121.97 643.49 L122.38 643.44 L122.79 643.38 L123.20 643.33 L123.61 643.27 L124.02 643.22 L124.42 643.16 L124.83 643.10 L125.24 643.03 L125.65 642.97 L126.06 642.91 L126.47 642.85 L126.88 642.80 L127.28 642.74 L127.69 642.49 L128.10 641.96 L128.51 641.27 L128.92 640.38 L129.32 639.26 L129.73 637.85 L130.14 636.12 L130.55 634.06 L130.96 631.70 L131.37 629.16 L131.78 627.00 L132.18 630.37 L132.59 633.96 L133.00 636.90 L133.41 639.14 L133.82 640.75 L134.22 641.87 L134.63 642.63 L135.04 643.13 L135.45 643.46 L135.86 643.67 L136.27 643.80 L136.68 643.88 L137.08 643.93 L137.49 643.96 L137.90 643.98 L138.31 643.99 L138.72 643.99 L139.12 644.00 L139.53 644.00 L139.94 644.00 L140.35 644.00 L140.76 644.00 L141.17 644.00 L141.58 644.00 L141.98 644.00 L142.39 644.00 L142.80 644.00 L142.8 644.0 L118.3 644.0 Z" fill="#a49be0" opacity="0.78"/><path d="M118.30 643.81 L118.71 643.79 L119.12 643.76 L119.52 643.73 L119.93 643.70 L120.34 643.66 L120.75 643.62 L121.16 643.58 L121.57 643.53 L121.97 643.49 L122.38 643.44 L122.79 643.38 L123.20 643.33 L123.61 643.27 L124.02 643.22 L124.42 643.16 L124.83 643.10 L125.24 643.03 L125.65 642.97 L126.06 642.91 L126.47 642.85 L126.88 642.80 L127.28 642.74 L127.69 642.49 L128.10 641.96 L128.51 641.27 L128.92 640.38 L129.32 639.26 L129.73 637.85 L130.14 636.12 L130.55 634.06 L130.96 631.70 L131.37 629.16 L131.78 627.00 L132.18 630.37 L132.59 633.96 L133.00 636.90 L133.41 639.14 L133.82 640.75 L134.22 641.87 L134.63 642.63 L135.04 643.13 L135.45 643.46 L135.86 643.67 L136.27 643.80 L136.68 643.88 L137.08 643.93 L137.49 643.96 L137.90 643.98 L138.31 643.99 L138.72 643.99 L139.12 644.00 L139.53 644.00 L139.94 644.00 L140.35 644.00 L140.76 644.00 L141.17 644.00 L141.58 644.00 L141.98 644.00 L142.39 644.00 L142.80 644.00" fill="none" stroke="#5048ac" stroke-width="0.75"/><path d="M118.30 653.92 L118.71 653.91 L119.12 653.90 L119.52 653.88 L119.93 653.86 L120.34 653.85 L120.75 653.82 L121.16 653.80 L121.57 653.78 L121.97 653.75 L122.38 653.72 L122.79 653.69 L123.20 653.66 L123.61 653.63 L124.02 653.59 L124.42 653.55 L124.83 653.52 L125.24 653.48 L125.65 653.44 L126.06 653.40 L126.47 653.27 L126.88 652.93 L127.28 652.46 L127.69 651.84 L128.10 651.03 L128.51 650.00 L128.92 648.73 L129.32 647.20 L129.73 645.45 L130.14 643.49 L130.55 641.43 L130.96 639.36 L131.37 637.46 L131.78 635.93 L132.18 635.05 L132.59 635.87 L133.00 638.32 L133.41 641.39 L133.82 644.49 L134.22 647.23 L134.63 649.43 L135.04 651.07 L135.45 652.21 L135.86 652.96 L136.27 653.42 L136.68 653.69 L137.08 653.84 L137.49 653.92 L137.90 653.96 L138.31 653.98 L138.72 653.99 L139.12 654.00 L139.53 654.00 L139.94 654.00 L140.35 654.00 L140.76 654.00 L141.17 654.00 L141.58 654.00 L141.98 654.00 L142.39 654.00 L142.80 654.00" fill="none" stroke="#1c1858" stroke-width="0.8"/></g>
<rect x="118.3" y="624.3" width="24.5" height="29.7" fill="none" stroke="#444" stroke-width="1"/>
<clipPath id="c34"><rect x="144.4" y="624.3" width="24.5" height="29.7"/></clipPath>
<g clip-path="url(#c34)"><path d="M144.40 653.44 L144.81 653.42 L145.22 653.40 L145.62 653.37 L146.03 653.35 L146.44 653.33 L146.85 653.21 L147.26 653.04 L147.67 652.83 L148.08 652.60 L148.48 652.33 L148.89 652.02 L149.30 651.66 L149.71 651.26 L150.12 650.81 L150.53 650.31 L150.93 649.76 L151.34 649.16 L151.75 648.51 L152.16 647.82 L152.57 647.10 L152.97 646.34 L153.38 645.57 L153.79 644.80 L154.20 644.04 L154.61 643.31 L155.02 642.63 L155.43 642.03 L155.83 641.53 L156.24 641.17 L156.65 641.00 L157.06 641.31 L157.47 642.01 L157.88 642.95 L158.28 644.04 L158.69 645.20 L159.10 646.37 L159.51 647.50 L159.92 648.56 L160.33 649.51 L160.73 650.36 L161.14 651.09 L161.55 651.71 L161.96 652.22 L162.37 652.64 L162.78 652.97 L163.18 653.24 L163.59 653.44 L164.00 653.59 L164.41 653.71 L164.82 653.79 L165.22 653.86 L165.63 653.90 L166.04 653.93 L166.45 653.95 L166.86 653.97 L167.27 653.98 L167.68 653.99 L168.08 653.99 L168.49 653.99 L168.90 654.00 L168.9 654.0 L144.4 654.0 Z" fill="#7f72c8"/><path d="M144.40 643.01 L144.81 642.98 L145.22 642.94 L145.62 642.91 L146.03 642.88 L146.44 642.85 L146.85 642.82 L147.26 642.78 L147.67 642.75 L148.08 642.72 L148.48 642.70 L148.89 642.67 L149.30 642.54 L149.71 642.29 L150.12 642.00 L150.53 641.67 L150.93 641.29 L151.34 640.86 L151.75 640.37 L152.16 639.82 L152.57 639.20 L152.97 638.51 L153.38 637.75 L153.79 636.92 L154.20 636.02 L154.61 635.06 L155.02 634.06 L155.43 633.04 L155.83 632.08 L156.24 631.67 L156.65 633.01 L157.06 634.51 L157.47 635.95 L157.88 637.26 L158.28 638.42 L158.69 639.43 L159.10 640.28 L159.51 641.00 L159.92 641.59 L160.33 642.08 L160.73 642.48 L161.14 642.80 L161.55 643.06 L161.96 643.27 L162.37 643.43 L162.78 643.56 L163.18 643.66 L163.59 643.74 L164.00 643.80 L164.41 643.85 L164.82 643.88 L165.22 643.91 L165.63 643.93 L166.04 643.95 L166.45 643.96 L166.86 643.97 L167.27 643.98 L167.68 643.98 L168.08 643.99 L168.49 643.99 L168.90 643.99 L168.9 644.0 L144.4 644.0 Z" fill="#a49be0" opacity="0.78"/><path d="M144.40 643.01 L144.81 642.98 L145.22 642.94 L145.62 642.91 L146.03 642.88 L146.44 642.85 L146.85 642.82 L147.26 642.78 L147.67 642.75 L148.08 642.72 L148.48 642.70 L148.89 642.67 L149.30 642.54 L149.71 642.29 L150.12 642.00 L150.53 641.67 L150.93 641.29 L151.34 640.86 L151.75 640.37 L152.16 639.82 L152.57 639.20 L152.97 638.51 L153.38 637.75 L153.79 636.92 L154.20 636.02 L154.61 635.06 L155.02 634.06 L155.43 633.04 L155.83 632.08 L156.24 631.67 L156.65 633.01 L157.06 634.51 L157.47 635.95 L157.88 637.26 L158.28 638.42 L158.69 639.43 L159.10 640.28 L159.51 641.00 L159.92 641.59 L160.33 642.08 L160.73 642.48 L161.14 642.80 L161.55 643.06 L161.96 643.27 L162.37 643.43 L162.78 643.56 L163.18 643.66 L163.59 643.74 L164.00 643.80 L164.41 643.85 L164.82 643.88 L165.22 643.91 L165.63 643.93 L166.04 643.95 L166.45 643.96 L166.86 643.97 L167.27 643.98 L167.68 643.98 L168.08 643.99 L168.49 643.99 L168.90 643.99" fill="none" stroke="#5048ac" stroke-width="0.75"/><path d="M144.40 653.44 L144.81 653.42 L145.22 653.40 L145.62 653.37 L146.03 653.35 L146.44 653.33 L146.85 653.21 L147.26 653.04 L147.67 652.83 L148.08 652.60 L148.48 652.33 L148.89 652.02 L149.30 651.66 L149.71 651.26 L150.12 650.81 L150.53 650.31 L150.93 649.76 L151.34 649.16 L151.75 648.51 L152.16 647.82 L152.57 647.10 L152.97 646.34 L153.38 645.57 L153.79 644.80 L154.20 644.04 L154.61 643.31 L155.02 642.63 L155.43 642.03 L155.83 641.53 L156.24 641.17 L156.65 641.00 L157.06 641.31 L157.47 642.01 L157.88 642.95 L158.28 644.04 L158.69 645.20 L159.10 646.37 L159.51 647.50 L159.92 648.56 L160.33 649.51 L160.73 650.36 L161.14 651.09 L161.55 651.71 L161.96 652.22 L162.37 652.64 L162.78 652.97 L163.18 653.24 L163.59 653.44 L164.00 653.59 L164.41 653.71 L164.82 653.79 L165.22 653.86 L165.63 653.90 L166.04 653.93 L166.45 653.95 L166.86 653.97 L167.27 653.98 L167.68 653.99 L168.08 653.99 L168.49 653.99 L168.90 654.00" fill="none" stroke="#1c1858" stroke-width="0.8"/></g>
<rect x="144.4" y="624.3" width="24.5" height="29.7" fill="none" stroke="#444" stroke-width="1"/>
<clipPath id="c35"><rect x="170.4" y="624.3" width="24.5" height="29.7"/></clipPath>
<g clip-path="url(#c35)"><path d="M170.40 653.99 L170.81 653.99 L171.22 653.98 L171.62 653.98 L172.03 653.97 L172.44 653.96 L172.85 653.95 L173.26 653.94 L173.67 653.93 L174.08 653.91 L174.48 653.90 L174.89 653.88 L175.30 653.85 L175.71 653.83 L176.12 653.80 L176.53 653.77 L176.93 653.73 L177.34 653.69 L177.75 653.65 L178.16 653.60 L178.57 653.56 L178.97 653.51 L179.38 653.46 L179.79 653.40 L180.20 653.22 L180.61 652.73 L181.02 652.01 L181.43 650.98 L181.83 649.58 L182.24 647.76 L182.65 645.53 L183.06 642.98 L183.47 640.28 L183.88 637.72 L184.28 635.75 L184.69 635.11 L185.10 637.63 L185.51 641.56 L185.92 645.51 L186.33 648.73 L186.73 651.01 L187.14 652.43 L187.55 653.24 L187.96 653.66 L188.37 653.86 L188.78 653.94 L189.18 653.98 L189.59 653.99 L190.00 654.00 L190.41 654.00 L190.82 654.00 L191.22 654.00 L191.63 654.00 L192.04 654.00 L192.45 654.00 L192.86 654.00 L193.27 654.00 L193.68 654.00 L194.08 654.00 L194.49 654.00 L194.90 654.00 L194.9 654.0 L170.4 654.0 Z" fill="#7f72c8"/><path d="M170.40 643.96 L170.81 643.95 L171.22 643.94 L171.62 643.93 L172.03 643.91 L172.44 643.90 L172.85 643.87 L173.26 643.85 L173.67 643.82 L174.08 643.79 L174.48 643.75 L174.89 643.71 L175.30 643.66 L175.71 643.61 L176.12 643.56 L176.53 643.50 L176.93 643.43 L177.34 643.36 L177.75 643.29 L178.16 643.21 L178.57 643.14 L178.97 643.06 L179.38 642.98 L179.79 642.90 L180.20 642.82 L180.61 642.75 L181.02 642.43 L181.43 641.69 L181.83 640.66 L182.24 639.23 L182.65 637.33 L183.06 634.88 L183.47 631.90 L183.88 628.61 L184.28 628.58 L184.69 633.35 L185.10 637.21 L185.51 639.88 L185.92 641.60 L186.33 642.64 L186.73 643.25 L187.14 643.60 L187.55 643.79 L187.96 643.89 L188.37 643.95 L188.78 643.97 L189.18 643.99 L189.59 643.99 L190.00 644.00 L190.41 644.00 L190.82 644.00 L191.22 644.00 L191.63 644.00 L192.04 644.00 L192.45 644.00 L192.86 644.00 L193.27 644.00 L193.68 644.00 L194.08 644.00 L194.49 644.00 L194.90 644.00 L194.9 644.0 L170.4 644.0 Z" fill="#a49be0" opacity="0.78"/><path d="M170.40 643.96 L170.81 643.95 L171.22 643.94 L171.62 643.93 L172.03 643.91 L172.44 643.90 L172.85 643.87 L173.26 643.85 L173.67 643.82 L174.08 643.79 L174.48 643.75 L174.89 643.71 L175.30 643.66 L175.71 643.61 L176.12 643.56 L176.53 643.50 L176.93 643.43 L177.34 643.36 L177.75 643.29 L178.16 643.21 L178.57 643.14 L178.97 643.06 L179.38 642.98 L179.79 642.90 L180.20 642.82 L180.61 642.75 L181.02 642.43 L181.43 641.69 L181.83 640.66 L182.24 639.23 L182.65 637.33 L183.06 634.88 L183.47 631.90 L183.88 628.61 L184.28 628.58 L184.69 633.35 L185.10 637.21 L185.51 639.88 L185.92 641.60 L186.33 642.64 L186.73 643.25 L187.14 643.60 L187.55 643.79 L187.96 643.89 L188.37 643.95 L188.78 643.97 L189.18 643.99 L189.59 643.99 L190.00 644.00 L190.41 644.00 L190.82 644.00 L191.22 644.00 L191.63 644.00 L192.04 644.00 L192.45 644.00 L192.86 644.00 L193.27 644.00 L193.68 644.00 L194.08 644.00 L194.49 644.00 L194.90 644.00" fill="none" stroke="#5048ac" stroke-width="0.75"/><path d="M170.40 653.99 L170.81 653.99 L171.22 653.98 L171.62 653.98 L172.03 653.97 L172.44 653.96 L172.85 653.95 L173.26 653.94 L173.67 653.93 L174.08 653.91 L174.48 653.90 L174.89 653.88 L175.30 653.85 L175.71 653.83 L176.12 653.80 L176.53 653.77 L176.93 653.73 L177.34 653.69 L177.75 653.65 L178.16 653.60 L178.57 653.56 L178.97 653.51 L179.38 653.46 L179.79 653.40 L180.20 653.22 L180.61 652.73 L181.02 652.01 L181.43 650.98 L181.83 649.58 L182.24 647.76 L182.65 645.53 L183.06 642.98 L183.47 640.28 L183.88 637.72 L184.28 635.75 L184.69 635.11 L185.10 637.63 L185.51 641.56 L185.92 645.51 L186.33 648.73 L186.73 651.01 L187.14 652.43 L187.55 653.24 L187.96 653.66 L188.37 653.86 L188.78 653.94 L189.18 653.98 L189.59 653.99 L190.00 654.00 L190.41 654.00 L190.82 654.00 L191.22 654.00 L191.63 654.00 L192.04 654.00 L192.45 654.00 L192.86 654.00 L193.27 654.00 L193.68 654.00 L194.08 654.00 L194.49 654.00 L194.90 654.00" fill="none" stroke="#1c1858" stroke-width="0.8"/></g>
<rect x="170.4" y="624.3" width="24.5" height="29.7" fill="none" stroke="#444" stroke-width="1"/>
<clipPath id="c36"><rect x="196.3" y="624.3" width="24.5" height="29.7"/></clipPath>
<g clip-path="url(#c36)"><path d="M196.30 652.36 L196.71 652.03 L197.12 651.66 L197.53 651.23 L197.93 650.74 L198.34 650.19 L198.75 649.57 L199.16 648.89 L199.57 648.15 L199.98 647.34 L200.38 646.47 L200.79 645.55 L201.20 644.58 L201.61 643.59 L202.02 642.57 L202.43 641.57 L202.83 640.59 L203.24 639.66 L203.65 638.80 L204.06 638.07 L204.47 637.48 L204.88 637.10 L205.28 637.08 L205.69 637.73 L206.10 638.79 L206.51 640.11 L206.92 641.58 L207.33 643.11 L207.73 644.62 L208.14 646.07 L208.55 647.40 L208.96 648.59 L209.37 649.64 L209.78 650.54 L210.18 651.29 L210.59 651.91 L211.00 652.41 L211.41 652.81 L211.82 653.12 L212.23 653.35 L212.63 653.53 L213.04 653.67 L213.45 653.77 L213.86 653.84 L214.27 653.89 L214.68 653.92 L215.08 653.95 L215.49 653.97 L215.90 653.98 L216.31 653.99 L216.72 653.99 L217.12 653.99 L217.53 654.00 L217.94 654.00 L218.35 654.00 L218.76 654.00 L219.17 654.00 L219.58 654.00 L219.98 654.00 L220.39 654.00 L220.80 654.00 L220.8 654.0 L196.3 654.0 Z" fill="#7f72c8"/><path d="M196.30 642.74 L196.71 642.71 L197.12 642.56 L197.53 642.31 L197.93 642.01 L198.34 641.67 L198.75 641.28 L199.16 640.83 L199.57 640.32 L199.98 639.74 L200.38 639.08 L200.79 638.34 L201.20 637.52 L201.61 636.60 L202.02 635.59 L202.43 634.49 L202.83 633.30 L203.24 632.05 L203.65 630.75 L204.06 629.47 L204.47 628.32 L204.88 628.85 L205.28 630.70 L205.69 632.61 L206.10 634.39 L206.51 636.00 L206.92 637.40 L207.33 638.61 L207.73 639.63 L208.14 640.48 L208.55 641.18 L208.96 641.76 L209.37 642.23 L209.78 642.61 L210.18 642.91 L210.59 643.15 L211.00 643.34 L211.41 643.49 L211.82 643.61 L212.23 643.70 L212.63 643.77 L213.04 643.82 L213.45 643.87 L213.86 643.90 L214.27 643.92 L214.68 643.94 L215.08 643.96 L215.49 643.97 L215.90 643.98 L216.31 643.98 L216.72 643.99 L217.12 643.99 L217.53 643.99 L217.94 643.99 L218.35 644.00 L218.76 644.00 L219.17 644.00 L219.58 644.00 L219.98 644.00 L220.39 644.00 L220.80 644.00 L220.8 644.0 L196.3 644.0 Z" fill="#a49be0" opacity="0.78"/><path d="M196.30 642.74 L196.71 642.71 L197.12 642.56 L197.53 642.31 L197.93 642.01 L198.34 641.67 L198.75 641.28 L199.16 640.83 L199.57 640.32 L199.98 639.74 L200.38 639.08 L200.79 638.34 L201.20 637.52 L201.61 636.60 L202.02 635.59 L202.43 634.49 L202.83 633.30 L203.24 632.05 L203.65 630.75 L204.06 629.47 L204.47 628.32 L204.88 628.85 L205.28 630.70 L205.69 632.61 L206.10 634.39 L206.51 636.00 L206.92 637.40 L207.33 638.61 L207.73 639.63 L208.14 640.48 L208.55 641.18 L208.96 641.76 L209.37 642.23 L209.78 642.61 L210.18 642.91 L210.59 643.15 L211.00 643.34 L211.41 643.49 L211.82 643.61 L212.23 643.70 L212.63 643.77 L213.04 643.82 L213.45 643.87 L213.86 643.90 L214.27 643.92 L214.68 643.94 L215.08 643.96 L215.49 643.97 L215.90 643.98 L216.31 643.98 L216.72 643.99 L217.12 643.99 L217.53 643.99 L217.94 643.99 L218.35 644.00 L218.76 644.00 L219.17 644.00 L219.58 644.00 L219.98 644.00 L220.39 644.00 L220.80 644.00" fill="none" stroke="#5048ac" stroke-width="0.75"/><path d="M196.30 652.36 L196.71 652.03 L197.12 651.66 L197.53 651.23 L197.93 650.74 L198.34 650.19 L198.75 649.57 L199.16 648.89 L199.57 648.15 L199.98 647.34 L200.38 646.47 L200.79 645.55 L201.20 644.58 L201.61 643.59 L202.02 642.57 L202.43 641.57 L202.83 640.59 L203.24 639.66 L203.65 638.80 L204.06 638.07 L204.47 637.48 L204.88 637.10 L205.28 637.08 L205.69 637.73 L206.10 638.79 L206.51 640.11 L206.92 641.58 L207.33 643.11 L207.73 644.62 L208.14 646.07 L208.55 647.40 L208.96 648.59 L209.37 649.64 L209.78 650.54 L210.18 651.29 L210.59 651.91 L211.00 652.41 L211.41 652.81 L211.82 653.12 L212.23 653.35 L212.63 653.53 L213.04 653.67 L213.45 653.77 L213.86 653.84 L214.27 653.89 L214.68 653.92 L215.08 653.95 L215.49 653.97 L215.90 653.98 L216.31 653.99 L216.72 653.99 L217.12 653.99 L217.53 654.00 L217.94 654.00 L218.35 654.00 L218.76 654.00 L219.17 654.00 L219.58 654.00 L219.98 654.00 L220.39 654.00 L220.80 654.00" fill="none" stroke="#1c1858" stroke-width="0.8"/></g>
<rect x="196.3" y="624.3" width="24.5" height="29.7" fill="none" stroke="#444" stroke-width="1"/>
<clipPath id="c37"><rect x="222.2" y="624.3" width="24.5" height="29.7"/></clipPath>
<g clip-path="url(#c37)"><path d="M222.20 654.00 L225.20 654.00 L225.60 645.00 L226.00 654.00 L246.70 654.00 L246.7 654.0 L222.2 654.0 Z" fill="#7f72c8"/><path d="M222.20 644.00 L225.20 644.00 L225.60 635.00 L226.00 644.00 L228.20 644.00 L246.70 644.00 L246.7 644.0 L222.2 644.0 Z" fill="#a49be0" opacity="0.78"/><path d="M222.20 644.00 L225.20 644.00 L225.60 635.00 L226.00 644.00 L228.20 644.00 L246.70 644.00" fill="none" stroke="#5048ac" stroke-width="0.75"/><path d="M222.20 654.00 L225.20 654.00 L225.60 645.00 L226.00 654.00 L246.70 654.00" fill="none" stroke="#1c1858" stroke-width="0.8"/></g>
<rect x="222.2" y="624.3" width="24.5" height="29.7" fill="none" stroke="#444" stroke-width="1"/>
<clipPath id="c38"><rect x="248.1" y="624.3" width="24.5" height="29.7"/></clipPath>
<g clip-path="url(#c38)"><path d="M248.10 653.75 L248.51 653.73 L248.92 653.71 L249.32 653.68 L249.73 653.66 L250.14 653.63 L250.55 653.61 L250.96 653.58 L251.37 653.55 L251.78 653.52 L252.18 653.49 L252.59 653.46 L253.00 653.43 L253.41 653.40 L253.82 653.35 L254.22 653.13 L254.63 652.84 L255.04 652.48 L255.45 652.02 L255.86 651.46 L256.27 650.78 L256.68 649.96 L257.08 649.01 L257.49 647.91 L257.90 646.66 L258.31 645.28 L258.72 643.79 L259.12 642.23 L259.53 640.63 L259.94 639.07 L260.35 637.62 L260.76 636.37 L261.17 635.44 L261.57 635.00 L261.98 635.82 L262.39 637.58 L262.80 639.82 L263.21 642.23 L263.62 644.58 L264.03 646.71 L264.43 648.53 L264.84 650.02 L265.25 651.19 L265.66 652.07 L266.07 652.71 L266.48 653.16 L266.88 653.47 L267.29 653.67 L267.70 653.80 L268.11 653.88 L268.52 653.93 L268.93 653.96 L269.33 653.98 L269.74 653.99 L270.15 653.99 L270.56 654.00 L270.97 654.00 L271.38 654.00 L271.78 654.00 L272.19 654.00 L272.60 654.00 L272.6 654.0 L248.1 654.0 Z" fill="#7f72c8"/><path d="M248.10 643.50 L248.51 643.46 L248.92 643.43 L249.32 643.39 L249.73 643.34 L250.14 643.30 L250.55 643.26 L250.96 643.21 L251.37 643.17 L251.78 643.12 L252.18 643.08 L252.59 643.03 L253.00 642.98 L253.41 642.94 L253.82 642.89 L254.22 642.84 L254.63 642.80 L255.04 642.76 L255.45 642.72 L255.86 642.39 L256.27 641.97 L256.68 641.47 L257.08 640.85 L257.49 640.11 L257.90 639.21 L258.31 638.16 L258.72 636.91 L259.12 635.48 L259.53 633.85 L259.94 632.05 L260.35 630.12 L260.76 628.21 L261.17 627.36 L261.57 630.06 L261.98 632.87 L262.39 635.36 L262.80 637.43 L263.21 639.09 L263.62 640.38 L264.03 641.37 L264.43 642.11 L264.84 642.65 L265.25 643.05 L265.66 643.34 L266.07 643.54 L266.48 643.68 L266.88 643.78 L267.29 643.85 L267.70 643.90 L268.11 643.93 L268.52 643.96 L268.93 643.97 L269.33 643.98 L269.74 643.99 L270.15 643.99 L270.56 643.99 L270.97 644.00 L271.38 644.00 L271.78 644.00 L272.19 644.00 L272.60 644.00 L272.6 644.0 L248.1 644.0 Z" fill="#a49be0" opacity="0.78"/><path d="M248.10 643.50 L248.51 643.46 L248.92 643.43 L249.32 643.39 L249.73 643.34 L250.14 643.30 L250.55 643.26 L250.96 643.21 L251.37 643.17 L251.78 643.12 L252.18 643.08 L252.59 643.03 L253.00 642.98 L253.41 642.94 L253.82 642.89 L254.22 642.84 L254.63 642.80 L255.04 642.76 L255.45 642.72 L255.86 642.39 L256.27 641.97 L256.68 641.47 L257.08 640.85 L257.49 640.11 L257.90 639.21 L258.31 638.16 L258.72 636.91 L259.12 635.48 L259.53 633.85 L259.94 632.05 L260.35 630.12 L260.76 628.21 L261.17 627.36 L261.57 630.06 L261.98 632.87 L262.39 635.36 L262.80 637.43 L263.21 639.09 L263.62 640.38 L264.03 641.37 L264.43 642.11 L264.84 642.65 L265.25 643.05 L265.66 643.34 L266.07 643.54 L266.48 643.68 L266.88 643.78 L267.29 643.85 L267.70 643.90 L268.11 643.93 L268.52 643.96 L268.93 643.97 L269.33 643.98 L269.74 643.99 L270.15 643.99 L270.56 643.99 L270.97 644.00 L271.38 644.00 L271.78 644.00 L272.19 644.00 L272.60 644.00" fill="none" stroke="#5048ac" stroke-width="0.75"/><path d="M248.10 653.75 L248.51 653.73 L248.92 653.71 L249.32 653.68 L249.73 653.66 L250.14 653.63 L250.55 653.61 L250.96 653.58 L251.37 653.55 L251.78 653.52 L252.18 653.49 L252.59 653.46 L253.00 653.43 L253.41 653.40 L253.82 653.35 L254.22 653.13 L254.63 652.84 L255.04 652.48 L255.45 652.02 L255.86 651.46 L256.27 650.78 L256.68 649.96 L257.08 649.01 L257.49 647.91 L257.90 646.66 L258.31 645.28 L258.72 643.79 L259.12 642.23 L259.53 640.63 L259.94 639.07 L260.35 637.62 L260.76 636.37 L261.17 635.44 L261.57 635.00 L261.98 635.82 L262.39 637.58 L262.80 639.82 L263.21 642.23 L263.62 644.58 L264.03 646.71 L264.43 648.53 L264.84 650.02 L265.25 651.19 L265.66 652.07 L266.07 652.71 L266.48 653.16 L266.88 653.47 L267.29 653.67 L267.70 653.80 L268.11 653.88 L268.52 653.93 L268.93 653.96 L269.33 653.98 L269.74 653.99 L270.15 653.99 L270.56 654.00 L270.97 654.00 L271.38 654.00 L271.78 654.00 L272.19 654.00 L272.60 654.00" fill="none" stroke="#1c1858" stroke-width="0.8"/></g>
<rect x="248.1" y="624.3" width="24.5" height="29.7" fill="none" stroke="#444" stroke-width="1"/>
<text x="55.15" y="662.80" font-size="8.62" text-anchor="end" fill="#231f20" stroke="#231f20" stroke-width="0.12" transform="rotate(-45 55.15 662.80) translate(55.15 662.80) scale(0.8929 1) translate(-55.15 -662.80)">BCL-2</text>
<text x="81.75" y="662.80" font-size="8.62" text-anchor="end" fill="#231f20" stroke="#231f20" stroke-width="0.12" transform="rotate(-45 81.75 662.80) translate(81.75 662.80) scale(0.8929 1) translate(-81.75 -662.80)">BCL-XL</text>
<text x="107.85" y="662.80" font-size="8.62" text-anchor="end" fill="#231f20" stroke="#231f20" stroke-width="0.12" transform="rotate(-45 107.85 662.80) translate(107.85 662.80) scale(0.8929 1) translate(-107.85 -662.80)">MCL-1</text>
<text x="136.15" y="662.80" font-size="8.62" text-anchor="end" fill="#231f20" stroke="#231f20" stroke-width="0.12" transform="rotate(-45 136.15 662.80) translate(136.15 662.80) scale(0.8929 1) translate(-136.15 -662.80)">CTLA-4</text>
<text x="162.25" y="662.80" font-size="8.62" text-anchor="end" fill="#231f20" stroke="#231f20" stroke-width="0.12" transform="rotate(-45 162.25 662.80) translate(162.25 662.80) scale(0.8929 1) translate(-162.25 -662.80)">PD-1</text>
<text x="188.25" y="662.80" font-size="8.62" text-anchor="end" fill="#231f20" stroke="#231f20" stroke-width="0.12" transform="rotate(-45 188.25 662.80) translate(188.25 662.80) scale(0.8929 1) translate(-188.25 -662.80)">TIM3</text>
<text x="214.15" y="662.80" font-size="8.62" text-anchor="end" fill="#231f20" stroke="#231f20" stroke-width="0.12" transform="rotate(-45 214.15 662.80) translate(214.15 662.80) scale(0.8929 1) translate(-214.15 -662.80)">PD-L1</text>
<text x="240.05" y="662.80" font-size="8.62" text-anchor="end" fill="#231f20" stroke="#231f20" stroke-width="0.12" transform="rotate(-45 240.05 662.80) translate(240.05 662.80) scale(0.8929 1) translate(-240.05 -662.80)">CD27</text>
<text x="265.95" y="662.80" font-size="8.62" text-anchor="end" fill="#231f20" stroke="#231f20" stroke-width="0.12" transform="rotate(-45 265.95 662.80) translate(265.95 662.80) scale(0.8929 1) translate(-265.95 -662.80)">OX40</text>
<rect x="336.1" y="470.6" width="177" height="56.39999999999998" fill="none" stroke="#231f20" stroke-width="1.1"/>
<line x1="399.00" y1="470.60" x2="399.00" y2="527.00" stroke="#555" stroke-width="0.9"/>
<line x1="336.60" y1="510.10" x2="512.60" y2="510.10" stroke="#999" stroke-width="0.7"/>
<line x1="332.60" y1="470.60" x2="336.10" y2="470.60" stroke="#231f20" stroke-width="1.1"/>
<text x="330.80" y="473.30" font-size="8.74" text-anchor="end" fill="#231f20" stroke="#231f20" stroke-width="0.12" transform="translate(330.80 473.30) scale(0.8929 1) translate(-330.80 -473.30)">15</text>
<line x1="332.60" y1="484.60" x2="336.10" y2="484.60" stroke="#231f20" stroke-width="1.1"/>
<text x="330.80" y="487.30" font-size="8.74" text-anchor="end" fill="#231f20" stroke="#231f20" stroke-width="0.12" transform="translate(330.80 487.30) scale(0.8929 1) translate(-330.80 -487.30)">10</text>
<line x1="332.60" y1="498.60" x2="336.10" y2="498.60" stroke="#231f20" stroke-width="1.1"/>
<text x="330.80" y="501.30" font-size="8.74" text-anchor="end" fill="#231f20" stroke="#231f20" stroke-width="0.12" transform="translate(330.80 501.30) scale(0.8929 1) translate(-330.80 -501.30)">5</text>
<line x1="332.60" y1="510.30" x2="336.10" y2="510.30" stroke="#231f20" stroke-width="1.1"/>
<text x="330.80" y="513.00" font-size="8.74" text-anchor="end" fill="#231f20" stroke="#231f20" stroke-width="0.12" transform="translate(330.80 513.00) scale(0.8929 1) translate(-330.80 -513.00)">0</text>
<line x1="332.60" y1="527.00" x2="336.10" y2="527.00" stroke="#231f20" stroke-width="1.1"/>
<text x="330.80" y="529.70" font-size="8.74" text-anchor="end" fill="#231f20" stroke="#231f20" stroke-width="0.12" transform="translate(330.80 529.70) scale(0.8929 1) translate(-330.80 -529.70)">−5</text>
<line x1="347.50" y1="527.00" x2="347.50" y2="529.40" stroke="#231f20" stroke-width="0.9"/>
<line x1="364.50" y1="527.00" x2="364.50" y2="529.40" stroke="#231f20" stroke-width="0.9"/>
<line x1="381.60" y1="527.00" x2="381.60" y2="529.40" stroke="#231f20" stroke-width="0.9"/>
<line x1="415.60" y1="527.00" x2="415.60" y2="529.40" stroke="#231f20" stroke-width="0.9"/>
<line x1="432.90" y1="527.00" x2="432.90" y2="529.40" stroke="#231f20" stroke-width="0.9"/>
<line x1="449.80" y1="527.00" x2="449.80" y2="529.40" stroke="#231f20" stroke-width="0.9"/>
<line x1="466.80" y1="527.00" x2="466.80" y2="529.40" stroke="#231f20" stroke-width="0.9"/>
<line x1="484.00" y1="527.00" x2="484.00" y2="529.40" stroke="#231f20" stroke-width="0.9"/>
<line x1="501.20" y1="527.00" x2="501.20" y2="529.40" stroke="#231f20" stroke-width="0.9"/>
<text x="416.20" y="451.40" font-size="10.64" text-anchor="middle" fill="#231f20" stroke="#231f20" stroke-width="0.12" transform="translate(416.20 451.40) scale(0.8929 1) translate(-416.20 -451.40)">CD4</text>
<text x="368.30" y="465.60" font-size="10.53" text-anchor="middle" fill="#231f20" stroke="#231f20" stroke-width="0.12" transform="translate(368.30 465.60) scale(0.8929 1) translate(-368.30 -465.60)">Apoptosis</text>
<text x="456.00" y="465.60" font-size="10.53" text-anchor="middle" fill="#231f20" stroke="#231f20" stroke-width="0.12" transform="translate(456.00 465.60) scale(0.8929 1) translate(-456.00 -465.60)">Checkpoint</text>
<text x="314.60" y="499.10" font-size="8.4" text-anchor="middle" font-weight="bold" fill="#231f20" transform="rotate(-90 314.60 499.10)" textLength="48.5" lengthAdjust="spacingAndGlyphs">Mean (post/pre)</text>
<line x1="347.50" y1="497.30" x2="347.50" y2="505.20" stroke="#444" stroke-width="0.9"/>
<path d="M347.5 495.8 L348.75 499.0 L347.5 501.40000000000003 L346.25 499.0 Z" fill="#333"/>
<path d="M347.5 505.2 Q348.49 508.00 352.44 508.5 Q348.49 509.55 347.5 515.5 Q346.51 509.55 342.56 508.5 Q346.51 508.00 347.5 505.2 Z" fill="#fff" stroke="#231f20" stroke-width="1.25" stroke-linejoin="round"/>
<circle cx="347.5" cy="508.5" r="1.1" fill="none" stroke="#666" stroke-width="0.5"/>
<line x1="364.50" y1="479.30" x2="364.50" y2="505.00" stroke="#444" stroke-width="0.9"/>
<path d="M364.5 477.8 L365.75 481.0 L364.5 483.40000000000003 L363.25 481.0 Z" fill="#333"/>
<path d="M364.5 505 Q365.53 508.40 369.63 509 Q365.53 509.98 364.5 515.5 Q363.47 509.98 359.37 509 Q363.47 508.40 364.5 505 Z" fill="#fff" stroke="#231f20" stroke-width="1.25" stroke-linejoin="round"/>
<circle cx="364.5" cy="509" r="1.1" fill="none" stroke="#666" stroke-width="0.5"/>
<path d="M381.6 504 Q382.51 508.25 386.16 509 Q382.51 509.69 381.6 513.6 Q380.69 509.69 377.04 509 Q380.69 508.25 381.6 504 Z" fill="#fff" stroke="#231f20" stroke-width="1.25" stroke-linejoin="round"/>
<circle cx="381.6" cy="509" r="1.1" fill="none" stroke="#666" stroke-width="0.5"/>
<line x1="415.60" y1="506.00" x2="415.60" y2="506.30" stroke="#444" stroke-width="0.9"/>
<path d="M415.6 504.5 L416.85 507.7 L415.6 510.1 L414.35 507.7 Z" fill="#333"/>
<path d="M415.6 506.3 Q416.47 509.28 419.97 509.8 Q416.47 510.31 415.6 513.2 Q414.73 510.31 411.23 509.8 Q414.73 509.28 415.6 506.3 Z" fill="#fff" stroke="#231f20" stroke-width="1.25" stroke-linejoin="round"/>
<circle cx="415.6" cy="509.8" r="1.1" fill="none" stroke="#666" stroke-width="0.5"/>
<line x1="432.90" y1="504.30" x2="432.90" y2="505.80" stroke="#444" stroke-width="0.9"/>
<path d="M432.9 502.8 L434.15 506.0 L432.9 508.40000000000003 L431.65 506.0 Z" fill="#333"/>
<path d="M432.9 505.8 Q433.79 508.94 437.36 509.5 Q433.79 510.02 432.9 513 Q432.01 510.02 428.44 509.5 Q432.01 508.94 432.9 505.8 Z" fill="#fff" stroke="#231f20" stroke-width="1.25" stroke-linejoin="round"/>
<circle cx="432.9" cy="509.5" r="1.1" fill="none" stroke="#666" stroke-width="0.5"/>
<path d="M449.8 505 Q450.66 508.82 454.07 509.5 Q450.66 510.16 449.8 513.9 Q448.94 510.16 445.53 509.5 Q448.94 508.82 449.8 505 Z" fill="#fff" stroke="#231f20" stroke-width="1.25" stroke-linejoin="round"/>
<circle cx="449.8" cy="509.5" r="1.1" fill="none" stroke="#666" stroke-width="0.5"/>
<line x1="466.80" y1="502.30" x2="466.80" y2="505.50" stroke="#444" stroke-width="0.9"/>
<path d="M466.8 500.8 L468.05 504.0 L466.8 506.40000000000003 L465.55 504.0 Z" fill="#333"/>
<path d="M466.8 505.5 Q467.71 508.90 471.36 509.5 Q467.71 510.18 466.8 514 Q465.89 510.18 462.24 509.5 Q465.89 508.90 466.8 505.5 Z" fill="#fff" stroke="#231f20" stroke-width="1.25" stroke-linejoin="round"/>
<circle cx="466.8" cy="509.5" r="1.1" fill="none" stroke="#666" stroke-width="0.5"/>
<path d="M484.0 508.5 Q485.05 509.77 489.23 510 Q485.05 510.23 484.0 511.5 Q482.95 510.23 478.77 510 Q482.95 509.77 484.0 508.5 Z" fill="#fff" stroke="#231f20" stroke-width="1.25" stroke-linejoin="round"/>
<circle cx="484.0" cy="510" r="1.1" fill="none" stroke="#666" stroke-width="0.5"/>
<line x1="501.20" y1="505.30" x2="501.20" y2="507.00" stroke="#444" stroke-width="0.9"/>
<path d="M501.2 503.8 L502.45 507.0 L501.2 509.40000000000003 L499.95 507.0 Z" fill="#333"/>
<path d="M501.2 507 Q502.15 509.55 505.95 510 Q502.15 510.45 501.2 513 Q500.25 510.45 496.45 510 Q500.25 509.55 501.2 507 Z" fill="#fff" stroke="#231f20" stroke-width="1.25" stroke-linejoin="round"/>
<circle cx="501.2" cy="510" r="1.1" fill="none" stroke="#666" stroke-width="0.5"/>
<text x="353.80" y="537.00" font-size="8.96" text-anchor="end" fill="#231f20" stroke="#231f20" stroke-width="0.12" transform="rotate(-45 353.80 537.00) translate(353.80 537.00) scale(0.8929 1) translate(-353.80 -537.00)">BCL-2</text>
<text x="370.80" y="537.00" font-size="8.96" text-anchor="end" fill="#231f20" stroke="#231f20" stroke-width="0.12" transform="rotate(-45 370.80 537.00) translate(370.80 537.00) scale(0.8929 1) translate(-370.80 -537.00)">BCL-XL</text>
<text x="387.90" y="537.00" font-size="8.96" text-anchor="end" fill="#231f20" stroke="#231f20" stroke-width="0.12" transform="rotate(-45 387.90 537.00) translate(387.90 537.00) scale(0.8929 1) translate(-387.90 -537.00)">MCL-1</text>
<text x="421.90" y="537.00" font-size="8.96" text-anchor="end" fill="#231f20" stroke="#231f20" stroke-width="0.12" transform="rotate(-45 421.90 537.00) translate(421.90 537.00) scale(0.8929 1) translate(-421.90 -537.00)">CTLA-4</text>
<text x="439.20" y="537.00" font-size="8.96" text-anchor="end" fill="#231f20" stroke="#231f20" stroke-width="0.12" transform="rotate(-45 439.20 537.00) translate(439.20 537.00) scale(0.8929 1) translate(-439.20 -537.00)">PD-1</text>
<text x="456.10" y="537.00" font-size="8.96" text-anchor="end" fill="#231f20" stroke="#231f20" stroke-width="0.12" transform="rotate(-45 456.10 537.00) translate(456.10 537.00) scale(0.8929 1) translate(-456.10 -537.00)">TIM3</text>
<text x="473.10" y="537.00" font-size="8.96" text-anchor="end" fill="#231f20" stroke="#231f20" stroke-width="0.12" transform="rotate(-45 473.10 537.00) translate(473.10 537.00) scale(0.8929 1) translate(-473.10 -537.00)">PD-L1</text>
<text x="490.30" y="537.00" font-size="8.96" text-anchor="end" fill="#231f20" stroke="#231f20" stroke-width="0.12" transform="rotate(-45 490.30 537.00) translate(490.30 537.00) scale(0.8929 1) translate(-490.30 -537.00)">CD27</text>
<text x="507.50" y="537.00" font-size="8.96" text-anchor="end" fill="#231f20" stroke="#231f20" stroke-width="0.12" transform="rotate(-45 507.50 537.00) translate(507.50 537.00) scale(0.8929 1) translate(-507.50 -537.00)">OX40</text>
<rect x="336.1" y="591.8" width="177" height="56.0" fill="none" stroke="#231f20" stroke-width="1.1"/>
<line x1="399.00" y1="591.80" x2="399.00" y2="647.80" stroke="#555" stroke-width="0.9"/>
<line x1="336.60" y1="631.30" x2="512.60" y2="631.30" stroke="#999" stroke-width="0.7"/>
<line x1="332.60" y1="591.80" x2="336.10" y2="591.80" stroke="#231f20" stroke-width="1.1"/>
<text x="330.80" y="594.50" font-size="8.74" text-anchor="end" fill="#231f20" stroke="#231f20" stroke-width="0.12" transform="translate(330.80 594.50) scale(0.8929 1) translate(-330.80 -594.50)">15</text>
<line x1="332.60" y1="606.20" x2="336.10" y2="606.20" stroke="#231f20" stroke-width="1.1"/>
<text x="330.80" y="608.90" font-size="8.74" text-anchor="end" fill="#231f20" stroke="#231f20" stroke-width="0.12" transform="translate(330.80 608.90) scale(0.8929 1) translate(-330.80 -608.90)">10</text>
<line x1="332.60" y1="620.50" x2="336.10" y2="620.50" stroke="#231f20" stroke-width="1.1"/>
<text x="330.80" y="623.20" font-size="8.74" text-anchor="end" fill="#231f20" stroke="#231f20" stroke-width="0.12" transform="translate(330.80 623.20) scale(0.8929 1) translate(-330.80 -623.20)">5</text>
<line x1="332.60" y1="632.00" x2="336.10" y2="632.00" stroke="#231f20" stroke-width="1.1"/>
<text x="330.80" y="634.70" font-size="8.74" text-anchor="end" fill="#231f20" stroke="#231f20" stroke-width="0.12" transform="translate(330.80 634.70) scale(0.8929 1) translate(-330.80 -634.70)">0</text>
<line x1="332.60" y1="647.80" x2="336.10" y2="647.80" stroke="#231f20" stroke-width="1.1"/>
<text x="330.80" y="650.50" font-size="8.74" text-anchor="end" fill="#231f20" stroke="#231f20" stroke-width="0.12" transform="translate(330.80 650.50) scale(0.8929 1) translate(-330.80 -650.50)">−5</text>
<line x1="347.50" y1="647.80" x2="347.50" y2="650.20" stroke="#231f20" stroke-width="0.9"/>
<line x1="364.50" y1="647.80" x2="364.50" y2="650.20" stroke="#231f20" stroke-width="0.9"/>
<line x1="381.60" y1="647.80" x2="381.60" y2="650.20" stroke="#231f20" stroke-width="0.9"/>
<line x1="415.60" y1="647.80" x2="415.60" y2="650.20" stroke="#231f20" stroke-width="0.9"/>
<line x1="432.90" y1="647.80" x2="432.90" y2="650.20" stroke="#231f20" stroke-width="0.9"/>
<line x1="449.80" y1="647.80" x2="449.80" y2="650.20" stroke="#231f20" stroke-width="0.9"/>
<line x1="466.80" y1="647.80" x2="466.80" y2="650.20" stroke="#231f20" stroke-width="0.9"/>
<line x1="484.00" y1="647.80" x2="484.00" y2="650.20" stroke="#231f20" stroke-width="0.9"/>
<line x1="501.20" y1="647.80" x2="501.20" y2="650.20" stroke="#231f20" stroke-width="0.9"/>
<text x="424.60" y="572.60" font-size="10.64" text-anchor="middle" fill="#231f20" stroke="#231f20" stroke-width="0.12" transform="translate(424.60 572.60) scale(0.8929 1) translate(-424.60 -572.60)">CD8</text>
<text x="368.30" y="586.80" font-size="10.53" text-anchor="middle" fill="#231f20" stroke="#231f20" stroke-width="0.12" transform="translate(368.30 586.80) scale(0.8929 1) translate(-368.30 -586.80)">Apoptosis</text>
<text x="456.00" y="586.80" font-size="10.53" text-anchor="middle" fill="#231f20" stroke="#231f20" stroke-width="0.12" transform="translate(456.00 586.80) scale(0.8929 1) translate(-456.00 -586.80)">Checkpoint</text>
<text x="314.60" y="620.10" font-size="8.4" text-anchor="middle" font-weight="bold" fill="#231f20" transform="rotate(-90 314.60 620.10)" textLength="48.5" lengthAdjust="spacingAndGlyphs">Mean (post/pre)</text>
<line x1="347.50" y1="615.30" x2="347.50" y2="626.20" stroke="#444" stroke-width="0.9"/>
<path d="M347.5 613.8 L348.75 617.0 L347.5 619.4 L346.25 617.0 Z" fill="#333"/>
<path d="M347.5 626.2 Q348.49 629.86 352.44 630.5 Q348.49 631.44 347.5 636.8 Q346.51 631.44 342.56 630.5 Q346.51 629.86 347.5 626.2 Z" fill="#fff" stroke="#231f20" stroke-width="1.25" stroke-linejoin="round"/>
<circle cx="347.5" cy="630.5" r="1.1" fill="none" stroke="#666" stroke-width="0.5"/>
<line x1="364.50" y1="604.50" x2="364.50" y2="625.50" stroke="#444" stroke-width="0.9"/>
<path d="M364.5 603 L365.75 606.2 L364.5 608.6 L363.25 606.2 Z" fill="#333"/>
<path d="M364.5 625.5 Q365.53 630.17 369.63 631 Q365.53 631.90 364.5 637 Q363.47 631.90 359.37 631 Q363.47 630.17 364.5 625.5 Z" fill="#fff" stroke="#231f20" stroke-width="1.25" stroke-linejoin="round"/>
<circle cx="364.5" cy="631" r="1.1" fill="none" stroke="#666" stroke-width="0.5"/>
<path d="M381.6 625 Q382.55 629.67 386.35 630.5 Q382.55 631.29 381.6 635.8 Q380.65 631.29 376.85 630.5 Q380.65 629.67 381.6 625 Z" fill="#fff" stroke="#231f20" stroke-width="1.25" stroke-linejoin="round"/>
<circle cx="381.6" cy="630.5" r="1.1" fill="none" stroke="#666" stroke-width="0.5"/>
<path d="M415.6 629.5 Q416.47 631.03 419.97 631.3 Q416.47 631.55 415.6 633 Q414.73 631.55 411.23 631.3 Q414.73 631.03 415.6 629.5 Z" fill="#fff" stroke="#231f20" stroke-width="1.25" stroke-linejoin="round"/>
<circle cx="415.6" cy="631.3" r="1.1" fill="none" stroke="#666" stroke-width="0.5"/>
<path d="M432.9 628.5 Q433.89 630.88 437.84 631.3 Q433.89 631.78 432.9 634.5 Q431.91 631.78 427.96 631.3 Q431.91 630.88 432.9 628.5 Z" fill="#fff" stroke="#231f20" stroke-width="1.25" stroke-linejoin="round"/>
<circle cx="432.9" cy="631.3" r="1.1" fill="none" stroke="#666" stroke-width="0.5"/>
<path d="M449.8 629 Q450.90 631.12 455.31 631.5 Q450.90 631.95 449.8 634.5 Q448.70 631.95 444.29 631.5 Q448.70 631.12 449.8 629 Z" fill="#fff" stroke="#231f20" stroke-width="1.25" stroke-linejoin="round"/>
<circle cx="449.8" cy="631.5" r="1.1" fill="none" stroke="#666" stroke-width="0.5"/>
<path d="M466.8 628 Q467.75 630.80 471.55 631.3 Q467.75 631.78 466.8 634.5 Q465.85 631.78 462.05 631.3 Q465.85 630.80 466.8 628 Z" fill="#fff" stroke="#231f20" stroke-width="1.25" stroke-linejoin="round"/>
<circle cx="466.8" cy="631.3" r="1.1" fill="none" stroke="#666" stroke-width="0.5"/>
<path d="M484.0 626.5 Q485.01 630.58 489.04 631.3 Q485.01 631.86 484.0 635 Q482.99 631.86 478.96 631.3 Q482.99 630.58 484.0 626.5 Z" fill="#fff" stroke="#231f20" stroke-width="1.25" stroke-linejoin="round"/>
<circle cx="484.0" cy="631.3" r="1.1" fill="none" stroke="#666" stroke-width="0.5"/>
<path d="M501.2 630 Q502.23 631.27 506.33 631.5 Q502.23 631.73 501.2 633 Q500.17 631.73 496.07 631.5 Q500.17 631.27 501.2 630 Z" fill="#fff" stroke="#231f20" stroke-width="1.25" stroke-linejoin="round"/>
<circle cx="501.2" cy="631.5" r="1.1" fill="none" stroke="#666" stroke-width="0.5"/>
<text x="353.80" y="657.80" font-size="8.96" text-anchor="end" fill="#231f20" stroke="#231f20" stroke-width="0.12" transform="rotate(-45 353.80 657.80) translate(353.80 657.80) scale(0.8929 1) translate(-353.80 -657.80)">BCL-2</text>
<text x="370.80" y="657.80" font-size="8.96" text-anchor="end" fill="#231f20" stroke="#231f20" stroke-width="0.12" transform="rotate(-45 370.80 657.80) translate(370.80 657.80) scale(0.8929 1) translate(-370.80 -657.80)">BCL-XL</text>
<text x="387.90" y="657.80" font-size="8.96" text-anchor="end" fill="#231f20" stroke="#231f20" stroke-width="0.12" transform="rotate(-45 387.90 657.80) translate(387.90 657.80) scale(0.8929 1) translate(-387.90 -657.80)">MCL-1</text>
<text x="421.90" y="657.80" font-size="8.96" text-anchor="end" fill="#231f20" stroke="#231f20" stroke-width="0.12" transform="rotate(-45 421.90 657.80) translate(421.90 657.80) scale(0.8929 1) translate(-421.90 -657.80)">CTLA-4</text>
<text x="439.20" y="657.80" font-size="8.96" text-anchor="end" fill="#231f20" stroke="#231f20" stroke-width="0.12" transform="rotate(-45 439.20 657.80) translate(439.20 657.80) scale(0.8929 1) translate(-439.20 -657.80)">PD-1</text>
<text x="456.10" y="657.80" font-size="8.96" text-anchor="end" fill="#231f20" stroke="#231f20" stroke-width="0.12" transform="rotate(-45 456.10 657.80) translate(456.10 657.80) scale(0.8929 1) translate(-456.10 -657.80)">TIM3</text>
<text x="473.10" y="657.80" font-size="8.96" text-anchor="end" fill="#231f20" stroke="#231f20" stroke-width="0.12" transform="rotate(-45 473.10 657.80) translate(473.10 657.80) scale(0.8929 1) translate(-473.10 -657.80)">PD-L1</text>
<text x="490.30" y="657.80" font-size="8.96" text-anchor="end" fill="#231f20" stroke="#231f20" stroke-width="0.12" transform="rotate(-45 490.30 657.80) translate(490.30 657.80) scale(0.8929 1) translate(-490.30 -657.80)">CD27</text>
<text x="507.50" y="657.80" font-size="8.96" text-anchor="end" fill="#231f20" stroke="#231f20" stroke-width="0.12" transform="rotate(-45 507.50 657.80) translate(507.50 657.80) scale(0.8929 1) translate(-507.50 -657.80)">OX40</text>
<rect x="0.5" y="0.5" width="519" height="688" fill="none" stroke="#4a4a4a" stroke-width="1"/>
</svg>
</body></html>
